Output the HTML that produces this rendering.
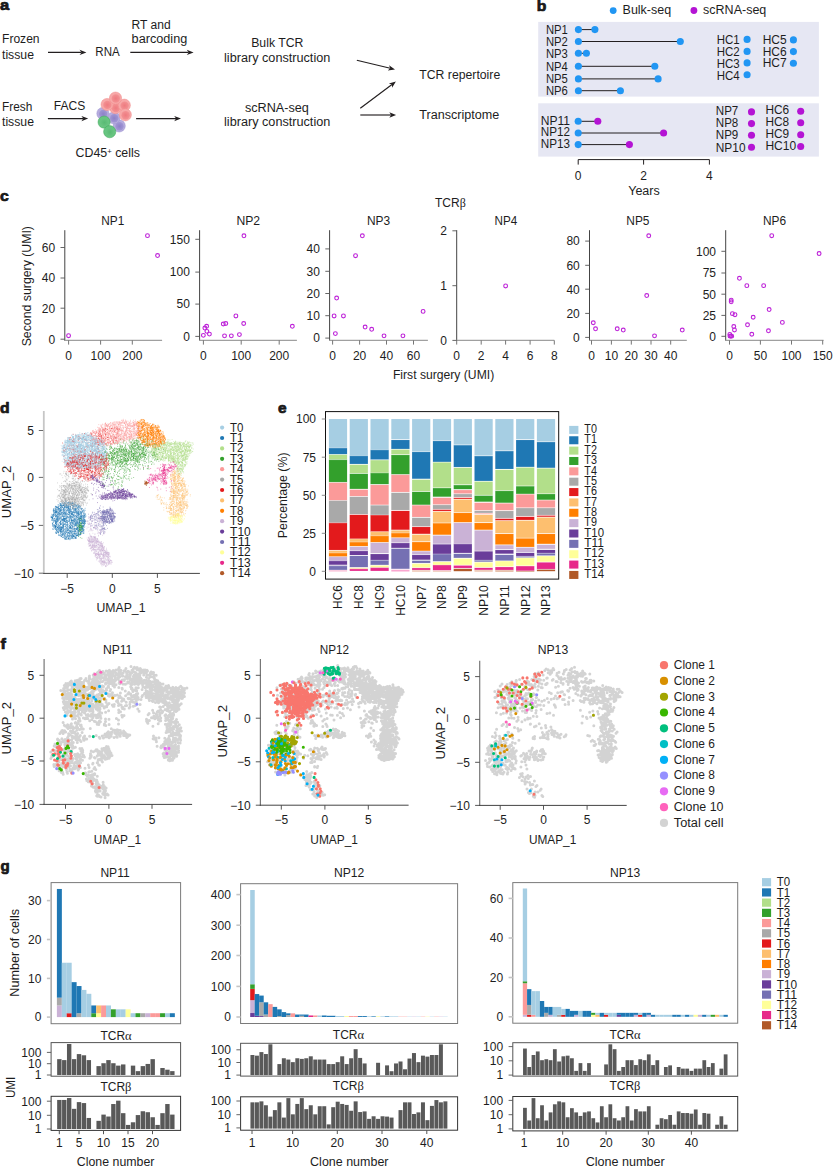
<!DOCTYPE html>
<html><head><meta charset="utf-8"><title>Figure</title>
<style>
html,body{margin:0;padding:0;background:#fff;}
body{width:833px;height:1167px;overflow:hidden;}
svg{display:block;font-family:"Liberation Sans",sans-serif;font-size:12px;fill:#1d1d1d;}
</style></head><body>
<svg width="833" height="1167" viewBox="0 0 833 1167">
<rect width="833" height="1167" fill="#fff"/>
<text x="0" y="10.3" textLength="9.2" lengthAdjust="spacingAndGlyphs" font-weight="700" stroke="#111" stroke-width="0.7" stroke-linejoin="round" font-size="15">a</text>
<text x="2" y="43.4" textLength="37.6" lengthAdjust="spacingAndGlyphs">Frozen</text>
<text x="2" y="58.5" textLength="32" lengthAdjust="spacingAndGlyphs">tissue</text>
<line x1="48" y1="52.4" x2="81.5" y2="52.4" stroke="#231f20" stroke-width="1.15"/>
<path d="M86.4 52.4L79.6 55.1L81.5 52.4L79.6 49.7Z" fill="#231f20"/>
<text x="95.3" y="56" textLength="24.4" lengthAdjust="spacingAndGlyphs">RNA</text>
<text x="131.6" y="28.5" textLength="39.1" lengthAdjust="spacingAndGlyphs">RT and</text>
<text x="131.6" y="43.4" textLength="55.7" lengthAdjust="spacingAndGlyphs">barcoding</text>
<line x1="130.3" y1="52.4" x2="188.7" y2="52.4" stroke="#231f20" stroke-width="1.15"/>
<path d="M193.6 52.4L186.8 55.1L188.7 52.4L186.8 49.7Z" fill="#231f20"/>
<text x="251.2" y="47.2" textLength="52.2" lengthAdjust="spacingAndGlyphs">Bulk TCR</text>
<text x="224" y="62.4" textLength="106.3" lengthAdjust="spacingAndGlyphs">library construction</text>
<line x1="356.8" y1="60.3" x2="390.24" y2="68.27" stroke="#231f20" stroke-width="1.15"/>
<path d="M395 69.4L387.76 70.45L390.24 68.27L389.01 65.2Z" fill="#231f20"/>
<text x="2" y="110.8" textLength="30.3" lengthAdjust="spacingAndGlyphs">Fresh</text>
<text x="2" y="126.1" textLength="32" lengthAdjust="spacingAndGlyphs">tissue</text>
<text x="53.7" y="109.5" textLength="31.5" lengthAdjust="spacingAndGlyphs">FACS</text>
<line x1="47.9" y1="118.6" x2="83.3" y2="118.6" stroke="#231f20" stroke-width="1.15"/>
<path d="M88.2 118.6L81.4 121.3L83.3 118.6L81.4 115.9Z" fill="#231f20"/>
<defs>
<radialGradient id="gr" cx="0.5" cy="0.5" r="0.5"><stop offset="0" stop-color="#ee7b80"/><stop offset="1" stop-color="#f39294"/></radialGradient>
<radialGradient id="gp" cx="0.5" cy="0.5" r="0.5"><stop offset="0" stop-color="#8e81c8"/><stop offset="1" stop-color="#a197d5"/></radialGradient>
<radialGradient id="gg" cx="0.5" cy="0.5" r="0.5"><stop offset="0" stop-color="#58ba73"/><stop offset="1" stop-color="#69c482"/></radialGradient>
</defs>
<circle cx="102.9" cy="113.5" r="6.1" fill="#b6acdd" stroke="#9d92d2" stroke-width="0.5"/>
<circle cx="103.2" cy="113.9" r="4.2" fill="url(#gp)"/>
<circle cx="119.2" cy="125.9" r="6.1" fill="#b6acdd" stroke="#9d92d2" stroke-width="0.5"/>
<circle cx="119.5" cy="126.3" r="4.2" fill="url(#gp)"/>
<circle cx="113.9" cy="117.8" r="6.1" fill="#b6acdd" stroke="#9d92d2" stroke-width="0.5"/>
<circle cx="114.2" cy="118.2" r="4.2" fill="url(#gp)"/>
<circle cx="115.5" cy="107.6" r="6.1" fill="#f7a8a8" stroke="#f18c8c" stroke-width="0.5"/>
<circle cx="115.8" cy="108" r="4.2" fill="url(#gr)"/>
<circle cx="107.1" cy="104.5" r="6.1" fill="#f7a8a8" stroke="#f18c8c" stroke-width="0.5"/>
<circle cx="107.4" cy="104.9" r="4.2" fill="url(#gr)"/>
<circle cx="124.3" cy="105.2" r="6.1" fill="#f7a8a8" stroke="#f18c8c" stroke-width="0.5"/>
<circle cx="124.6" cy="105.6" r="4.2" fill="url(#gr)"/>
<circle cx="115.5" cy="98.1" r="6.1" fill="#f7a8a8" stroke="#f18c8c" stroke-width="0.5"/>
<circle cx="115.8" cy="98.5" r="4.2" fill="url(#gr)"/>
<circle cx="125.3" cy="114.8" r="6.1" fill="#f7a8a8" stroke="#f18c8c" stroke-width="0.5"/>
<circle cx="125.6" cy="115.2" r="4.2" fill="url(#gr)"/>
<circle cx="104.1" cy="122.1" r="6.1" fill="#66c680" stroke="#3ea559" stroke-width="0.5"/>
<circle cx="104.4" cy="122.5" r="4.2" fill="url(#gg)"/>
<circle cx="109.7" cy="131.7" r="6.1" fill="#66c680" stroke="#3ea559" stroke-width="0.5"/>
<circle cx="110" cy="132.1" r="4.2" fill="url(#gg)"/>
<line x1="136.1" y1="118.6" x2="176.1" y2="118.6" stroke="#231f20" stroke-width="1.15"/>
<path d="M181 118.6L174.2 121.3L176.1 118.6L174.2 115.9Z" fill="#231f20"/>
<text x="75.6" y="157.4" textLength="64.3" lengthAdjust="spacingAndGlyphs">CD45<tspan font-size="7.5" dy="-3.6">+</tspan><tspan dy="3.6"> cells</tspan></text>
<text x="244.9" y="112" textLength="64" lengthAdjust="spacingAndGlyphs">scRNA-seq</text>
<text x="224" y="126.4" textLength="106.3" lengthAdjust="spacingAndGlyphs">library construction</text>
<line x1="360.3" y1="108.2" x2="391.98" y2="84.44" stroke="#231f20" stroke-width="1.15"/>
<path d="M395.9 81.5L392.08 87.74L391.98 84.44L388.84 83.42Z" fill="#231f20"/>
<line x1="360.3" y1="115" x2="391.2" y2="115" stroke="#231f20" stroke-width="1.15"/>
<path d="M396.1 115L389.3 117.7L391.2 115L389.3 112.3Z" fill="#231f20"/>
<text x="419.3" y="78.9" textLength="80.9" lengthAdjust="spacingAndGlyphs">TCR repertoire</text>
<text x="419.3" y="118.5" textLength="80" lengthAdjust="spacingAndGlyphs">Transcriptome</text>
<text x="536.8" y="11.3" textLength="9.6" lengthAdjust="spacingAndGlyphs" font-weight="700" stroke="#111" stroke-width="0.7" stroke-linejoin="round" font-size="15">b</text>
<circle cx="613.2" cy="10.6" r="3.4" fill="#2196f3"/>
<text x="622.6" y="14.1" textLength="48.5" lengthAdjust="spacingAndGlyphs">Bulk-seq</text>
<circle cx="693.9" cy="10.5" r="3.4" fill="#b414d4"/>
<text x="703.1" y="14.1" textLength="63.2" lengthAdjust="spacingAndGlyphs">scRNA-seq</text>
<rect x="538.2" y="21.9" width="280.7" height="74.7" fill="#e6e7f3"/>
<rect x="538.2" y="103.3" width="280.7" height="53.3" fill="#e6e7f3"/>
<text x="545.9" y="33.9" textLength="21.9" lengthAdjust="spacingAndGlyphs">NP1</text>
<line x1="578.4" y1="29.6" x2="594.9" y2="29.6" stroke="#231f20" stroke-width="1"/>
<circle cx="578.4" cy="29.6" r="3.55" fill="#2196f3"/>
<circle cx="594.9" cy="29.6" r="3.55" fill="#2196f3"/>
<text x="545.9" y="46.1" textLength="21.9" lengthAdjust="spacingAndGlyphs">NP2</text>
<line x1="578.4" y1="41.5" x2="680.3" y2="41.5" stroke="#231f20" stroke-width="1"/>
<circle cx="578.4" cy="41.5" r="3.55" fill="#2196f3"/>
<circle cx="680.3" cy="41.5" r="3.55" fill="#2196f3"/>
<text x="545.9" y="57.9" textLength="21.9" lengthAdjust="spacingAndGlyphs">NP3</text>
<line x1="578.4" y1="53.3" x2="586.4" y2="53.3" stroke="#231f20" stroke-width="1"/>
<circle cx="578.4" cy="53.3" r="3.55" fill="#2196f3"/>
<circle cx="586.4" cy="53.3" r="3.55" fill="#2196f3"/>
<text x="545.9" y="70.8" textLength="21.9" lengthAdjust="spacingAndGlyphs">NP4</text>
<line x1="578.4" y1="66.3" x2="654.8" y2="66.3" stroke="#231f20" stroke-width="1"/>
<circle cx="578.4" cy="66.3" r="3.55" fill="#2196f3"/>
<circle cx="654.8" cy="66.3" r="3.55" fill="#2196f3"/>
<text x="545.9" y="83.2" textLength="21.9" lengthAdjust="spacingAndGlyphs">NP5</text>
<line x1="578.4" y1="78.9" x2="658.1" y2="78.9" stroke="#231f20" stroke-width="1"/>
<circle cx="578.4" cy="78.9" r="3.55" fill="#2196f3"/>
<circle cx="658.1" cy="78.9" r="3.55" fill="#2196f3"/>
<text x="545.9" y="95" textLength="21.9" lengthAdjust="spacingAndGlyphs">NP6</text>
<line x1="578.4" y1="90.7" x2="620.4" y2="90.7" stroke="#231f20" stroke-width="1"/>
<circle cx="578.4" cy="90.7" r="3.55" fill="#2196f3"/>
<circle cx="620.4" cy="90.7" r="3.55" fill="#2196f3"/>
<text x="716.7" y="43.5" textLength="23" lengthAdjust="spacingAndGlyphs">HC1</text>
<circle cx="747.1" cy="39.4" r="3.55" fill="#2196f3"/>
<text x="716.7" y="55.7" textLength="23" lengthAdjust="spacingAndGlyphs">HC2</text>
<circle cx="747.1" cy="51.4" r="3.55" fill="#2196f3"/>
<text x="716.7" y="67.8" textLength="23" lengthAdjust="spacingAndGlyphs">HC3</text>
<circle cx="747.1" cy="62.9" r="3.55" fill="#2196f3"/>
<text x="716.7" y="80" textLength="23" lengthAdjust="spacingAndGlyphs">HC4</text>
<circle cx="747.1" cy="74.7" r="3.55" fill="#2196f3"/>
<text x="762.7" y="43.5" textLength="24" lengthAdjust="spacingAndGlyphs">HC5</text>
<circle cx="793.4" cy="39.9" r="3.55" fill="#2196f3"/>
<text x="762.7" y="55.7" textLength="24" lengthAdjust="spacingAndGlyphs">HC6</text>
<circle cx="793.4" cy="51.6" r="3.55" fill="#2196f3"/>
<text x="762.7" y="67.2" textLength="24" lengthAdjust="spacingAndGlyphs">HC7</text>
<circle cx="793.4" cy="63.2" r="3.55" fill="#2196f3"/>
<text x="540.7" y="124.7" textLength="29.3" lengthAdjust="spacingAndGlyphs">NP11</text>
<line x1="578.2" y1="121.3" x2="597.8" y2="121.3" stroke="#231f20" stroke-width="1"/>
<circle cx="578.2" cy="121.3" r="3.55" fill="#2196f3"/>
<circle cx="597.8" cy="121.3" r="3.55" fill="#b414d4"/>
<text x="540.7" y="136.3" textLength="29.3" lengthAdjust="spacingAndGlyphs">NP12</text>
<line x1="578.2" y1="133" x2="663.6" y2="133" stroke="#231f20" stroke-width="1"/>
<circle cx="578.2" cy="133" r="3.55" fill="#2196f3"/>
<circle cx="663.6" cy="133" r="3.55" fill="#b414d4"/>
<text x="540.7" y="148.4" textLength="29.3" lengthAdjust="spacingAndGlyphs">NP13</text>
<line x1="578.2" y1="144.6" x2="629.4" y2="144.6" stroke="#231f20" stroke-width="1"/>
<circle cx="578.2" cy="144.6" r="3.55" fill="#2196f3"/>
<circle cx="629.4" cy="144.6" r="3.55" fill="#b414d4"/>
<text x="715.8" y="114.5" textLength="22.5" lengthAdjust="spacingAndGlyphs">NP7</text>
<circle cx="751.5" cy="111.9" r="3.55" fill="#b414d4"/>
<text x="715.8" y="126.9" textLength="22.5" lengthAdjust="spacingAndGlyphs">NP8</text>
<circle cx="751.5" cy="123.6" r="3.55" fill="#b414d4"/>
<text x="715.8" y="138.6" textLength="22.5" lengthAdjust="spacingAndGlyphs">NP9</text>
<circle cx="751.5" cy="135.2" r="3.55" fill="#b414d4"/>
<text x="715.8" y="151.7" textLength="29.7" lengthAdjust="spacingAndGlyphs">NP10</text>
<circle cx="751.5" cy="147.2" r="3.55" fill="#b414d4"/>
<text x="765.4" y="114.2" textLength="23.7" lengthAdjust="spacingAndGlyphs">HC6</text>
<circle cx="800.7" cy="111.2" r="3.55" fill="#b414d4"/>
<text x="765.4" y="126.2" textLength="23.7" lengthAdjust="spacingAndGlyphs">HC8</text>
<circle cx="800.7" cy="122.8" r="3.55" fill="#b414d4"/>
<text x="765.4" y="137.8" textLength="23.7" lengthAdjust="spacingAndGlyphs">HC9</text>
<circle cx="800.7" cy="134.8" r="3.55" fill="#b414d4"/>
<text x="765.4" y="149.9" textLength="30.8" lengthAdjust="spacingAndGlyphs">HC10</text>
<circle cx="800.7" cy="146.5" r="3.55" fill="#b414d4"/>
<line x1="578.2" y1="159.6" x2="709.4" y2="159.6" stroke="#231f20" stroke-width="1"/>
<line x1="578.2" y1="159.6" x2="578.2" y2="164.6" stroke="#231f20" stroke-width="1"/>
<text x="578.2" y="179.6" text-anchor="middle">0</text>
<line x1="643.6" y1="159.6" x2="643.6" y2="164.6" stroke="#231f20" stroke-width="1"/>
<text x="643.6" y="179.6" text-anchor="middle">2</text>
<line x1="709.4" y1="159.6" x2="709.4" y2="164.6" stroke="#231f20" stroke-width="1"/>
<text x="709.4" y="179.6" text-anchor="middle">4</text>
<text x="628.2" y="195.3" textLength="31.6" lengthAdjust="spacingAndGlyphs">Years</text>
<text x="0" y="200.6" textLength="8.8" lengthAdjust="spacingAndGlyphs" font-weight="700" stroke="#111" stroke-width="0.7" stroke-linejoin="round" font-size="15">c</text>
<text x="435" y="206.8">TCR<tspan font-family="Liberation Serif">β</tspan></text>
<text transform="translate(30.6 286.2) rotate(-90)" text-anchor="middle" textLength="120.3" lengthAdjust="spacingAndGlyphs">Second surgery (UMI)</text>
<text x="392.9" y="378.5" textLength="101.3" lengthAdjust="spacingAndGlyphs">First surgery (UMI)</text>
<text x="101.3" y="224.7" textLength="23" lengthAdjust="spacingAndGlyphs">NP1</text>
<line x1="64.8" y1="230.2" x2="64.8" y2="340.9" stroke="#444" stroke-width="1"/>
<line x1="64.3" y1="340.4" x2="162.1" y2="340.4" stroke="#a0a0a0" stroke-width="1.2"/>
<line x1="60.5" y1="247.5" x2="64.8" y2="247.5" stroke="#555" stroke-width="0.9"/>
<text x="55.1" y="251.8" text-anchor="end">60</text>
<line x1="60.5" y1="278" x2="64.8" y2="278" stroke="#555" stroke-width="0.9"/>
<text x="55.1" y="282.3" text-anchor="end">40</text>
<line x1="60.5" y1="308.2" x2="64.8" y2="308.2" stroke="#555" stroke-width="0.9"/>
<text x="55.1" y="312.5" text-anchor="end">20</text>
<line x1="60.5" y1="339.2" x2="64.8" y2="339.2" stroke="#555" stroke-width="0.9"/>
<text x="55.1" y="343.5" text-anchor="end">0</text>
<line x1="68.6" y1="340.4" x2="68.6" y2="344.6" stroke="#666" stroke-width="0.9"/>
<text x="68.6" y="359.8" text-anchor="middle">0</text>
<line x1="100.6" y1="340.4" x2="100.6" y2="344.6" stroke="#666" stroke-width="0.9"/>
<text x="100.6" y="359.8" text-anchor="middle">100</text>
<line x1="132.3" y1="340.4" x2="132.3" y2="344.6" stroke="#666" stroke-width="0.9"/>
<text x="132.3" y="359.8" text-anchor="middle">200</text>
<circle cx="68.57" cy="335.7" r="1.9" fill="none" stroke="#bd22d8" stroke-width="1.1"/>
<circle cx="147.47" cy="235.63" r="1.9" fill="none" stroke="#bd22d8" stroke-width="1.1"/>
<circle cx="157.55" cy="255.54" r="1.9" fill="none" stroke="#bd22d8" stroke-width="1.1"/>
<text x="236.4" y="224.7" textLength="23.7" lengthAdjust="spacingAndGlyphs">NP2</text>
<line x1="199.6" y1="230.2" x2="199.6" y2="340.9" stroke="#444" stroke-width="1"/>
<line x1="199.1" y1="340.4" x2="296.9" y2="340.4" stroke="#a0a0a0" stroke-width="1.2"/>
<line x1="195.3" y1="239.3" x2="199.6" y2="239.3" stroke="#555" stroke-width="0.9"/>
<text x="189.9" y="243.6" text-anchor="end">150</text>
<line x1="195.3" y1="272.1" x2="199.6" y2="272.1" stroke="#555" stroke-width="0.9"/>
<text x="189.9" y="276.4" text-anchor="end">100</text>
<line x1="195.3" y1="304.1" x2="199.6" y2="304.1" stroke="#555" stroke-width="0.9"/>
<text x="189.9" y="308.4" text-anchor="end">50</text>
<line x1="195.3" y1="336.4" x2="199.6" y2="336.4" stroke="#555" stroke-width="0.9"/>
<text x="189.9" y="340.7" text-anchor="end">0</text>
<line x1="203.4" y1="340.4" x2="203.4" y2="344.6" stroke="#666" stroke-width="0.9"/>
<text x="203.4" y="359.8" text-anchor="middle">0</text>
<line x1="241.2" y1="340.4" x2="241.2" y2="344.6" stroke="#666" stroke-width="0.9"/>
<text x="241.2" y="359.8" text-anchor="middle">100</text>
<line x1="279.2" y1="340.4" x2="279.2" y2="344.6" stroke="#666" stroke-width="0.9"/>
<text x="279.2" y="359.8" text-anchor="middle">200</text>
<circle cx="203.36" cy="335.37" r="1.9" fill="none" stroke="#bd22d8" stroke-width="1.1"/>
<circle cx="204.87" cy="328.06" r="1.9" fill="none" stroke="#bd22d8" stroke-width="1.1"/>
<circle cx="206.63" cy="326.29" r="1.9" fill="none" stroke="#bd22d8" stroke-width="1.1"/>
<circle cx="206.89" cy="331.33" r="1.9" fill="none" stroke="#bd22d8" stroke-width="1.1"/>
<circle cx="209.41" cy="334.11" r="1.9" fill="none" stroke="#bd22d8" stroke-width="1.1"/>
<circle cx="223.27" cy="324.02" r="1.9" fill="none" stroke="#bd22d8" stroke-width="1.1"/>
<circle cx="225.79" cy="323.52" r="1.9" fill="none" stroke="#bd22d8" stroke-width="1.1"/>
<circle cx="224.53" cy="335.87" r="1.9" fill="none" stroke="#bd22d8" stroke-width="1.1"/>
<circle cx="231.34" cy="335.87" r="1.9" fill="none" stroke="#bd22d8" stroke-width="1.1"/>
<circle cx="239.41" cy="334.61" r="1.9" fill="none" stroke="#bd22d8" stroke-width="1.1"/>
<circle cx="235.88" cy="315.96" r="1.9" fill="none" stroke="#bd22d8" stroke-width="1.1"/>
<circle cx="243.69" cy="323.52" r="1.9" fill="none" stroke="#bd22d8" stroke-width="1.1"/>
<circle cx="243.94" cy="235.8" r="1.9" fill="none" stroke="#bd22d8" stroke-width="1.1"/>
<circle cx="292.34" cy="326.29" r="1.9" fill="none" stroke="#bd22d8" stroke-width="1.1"/>
<text x="366.9" y="224.7" textLength="23.2" lengthAdjust="spacingAndGlyphs">NP3</text>
<line x1="329.6" y1="230.2" x2="329.6" y2="340.9" stroke="#444" stroke-width="1"/>
<line x1="329.1" y1="340.4" x2="427.9" y2="340.4" stroke="#a0a0a0" stroke-width="1.2"/>
<line x1="325.3" y1="248.9" x2="329.6" y2="248.9" stroke="#555" stroke-width="0.9"/>
<text x="319.9" y="253.2" text-anchor="end">40</text>
<line x1="325.3" y1="271.3" x2="329.6" y2="271.3" stroke="#555" stroke-width="0.9"/>
<text x="319.9" y="275.6" text-anchor="end">30</text>
<line x1="325.3" y1="293.5" x2="329.6" y2="293.5" stroke="#555" stroke-width="0.9"/>
<text x="319.9" y="297.8" text-anchor="end">20</text>
<line x1="325.3" y1="315.7" x2="329.6" y2="315.7" stroke="#555" stroke-width="0.9"/>
<text x="319.9" y="320" text-anchor="end">10</text>
<line x1="325.3" y1="338.1" x2="329.6" y2="338.1" stroke="#555" stroke-width="0.9"/>
<text x="319.9" y="342.4" text-anchor="end">0</text>
<line x1="332.6" y1="340.4" x2="332.6" y2="344.6" stroke="#666" stroke-width="0.9"/>
<text x="332.6" y="359.8" text-anchor="middle">0</text>
<line x1="359.6" y1="340.4" x2="359.6" y2="344.6" stroke="#666" stroke-width="0.9"/>
<text x="359.6" y="359.8" text-anchor="middle">20</text>
<line x1="386.5" y1="340.4" x2="386.5" y2="344.6" stroke="#666" stroke-width="0.9"/>
<text x="386.5" y="359.8" text-anchor="middle">40</text>
<line x1="413.5" y1="340.4" x2="413.5" y2="344.6" stroke="#666" stroke-width="0.9"/>
<text x="413.5" y="359.8" text-anchor="middle">60</text>
<circle cx="362.35" cy="235.8" r="1.9" fill="none" stroke="#bd22d8" stroke-width="1.1"/>
<circle cx="355.54" cy="255.71" r="1.9" fill="none" stroke="#bd22d8" stroke-width="1.1"/>
<circle cx="336.63" cy="298.06" r="1.9" fill="none" stroke="#bd22d8" stroke-width="1.1"/>
<circle cx="334.11" cy="315.96" r="1.9" fill="none" stroke="#bd22d8" stroke-width="1.1"/>
<circle cx="343.44" cy="315.96" r="1.9" fill="none" stroke="#bd22d8" stroke-width="1.1"/>
<circle cx="335.37" cy="333.6" r="1.9" fill="none" stroke="#bd22d8" stroke-width="1.1"/>
<circle cx="365.12" cy="327.05" r="1.9" fill="none" stroke="#bd22d8" stroke-width="1.1"/>
<circle cx="371.67" cy="329.32" r="1.9" fill="none" stroke="#bd22d8" stroke-width="1.1"/>
<circle cx="384.03" cy="335.87" r="1.9" fill="none" stroke="#bd22d8" stroke-width="1.1"/>
<circle cx="402.93" cy="335.87" r="1.9" fill="none" stroke="#bd22d8" stroke-width="1.1"/>
<circle cx="423.1" cy="311.42" r="1.9" fill="none" stroke="#bd22d8" stroke-width="1.1"/>
<text x="494.5" y="224.7" textLength="22.7" lengthAdjust="spacingAndGlyphs">NP4</text>
<line x1="456.7" y1="230.2" x2="456.7" y2="340.9" stroke="#444" stroke-width="1"/>
<line x1="456.2" y1="340.4" x2="554.3" y2="340.4" stroke="#a0a0a0" stroke-width="1.2"/>
<line x1="452.4" y1="230.8" x2="456.7" y2="230.8" stroke="#555" stroke-width="0.9"/>
<text x="447" y="235.1" text-anchor="end">2</text>
<line x1="452.4" y1="285.7" x2="456.7" y2="285.7" stroke="#555" stroke-width="0.9"/>
<text x="447" y="290" text-anchor="end">1</text>
<line x1="452.4" y1="340.4" x2="456.7" y2="340.4" stroke="#555" stroke-width="0.9"/>
<text x="447" y="344.7" text-anchor="end">0</text>
<line x1="456.7" y1="340.4" x2="456.7" y2="344.6" stroke="#666" stroke-width="0.9"/>
<text x="456.7" y="359.8" text-anchor="middle">0</text>
<line x1="481.2" y1="340.4" x2="481.2" y2="344.6" stroke="#666" stroke-width="0.9"/>
<text x="481.2" y="359.8" text-anchor="middle">2</text>
<line x1="505.6" y1="340.4" x2="505.6" y2="344.6" stroke="#666" stroke-width="0.9"/>
<text x="505.6" y="359.8" text-anchor="middle">4</text>
<line x1="530.1" y1="340.4" x2="530.1" y2="344.6" stroke="#666" stroke-width="0.9"/>
<text x="530.1" y="359.8" text-anchor="middle">6</text>
<line x1="554.3" y1="340.4" x2="554.3" y2="344.6" stroke="#666" stroke-width="0.9"/>
<text x="554.3" y="359.8" text-anchor="middle">8</text>
<circle cx="505.62" cy="285.96" r="1.9" fill="none" stroke="#bd22d8" stroke-width="1.1"/>
<text x="626.3" y="224.7" textLength="23.2" lengthAdjust="spacingAndGlyphs">NP5</text>
<line x1="589.5" y1="230.2" x2="589.5" y2="340.9" stroke="#444" stroke-width="1"/>
<line x1="589" y1="340.4" x2="686.8" y2="340.4" stroke="#a0a0a0" stroke-width="1.2"/>
<line x1="585.2" y1="241.1" x2="589.5" y2="241.1" stroke="#555" stroke-width="0.9"/>
<text x="579.8" y="245.4" text-anchor="end">80</text>
<line x1="585.2" y1="265.3" x2="589.5" y2="265.3" stroke="#555" stroke-width="0.9"/>
<text x="579.8" y="269.6" text-anchor="end">60</text>
<line x1="585.2" y1="289.2" x2="589.5" y2="289.2" stroke="#555" stroke-width="0.9"/>
<text x="579.8" y="293.5" text-anchor="end">40</text>
<line x1="585.2" y1="313.4" x2="589.5" y2="313.4" stroke="#555" stroke-width="0.9"/>
<text x="579.8" y="317.7" text-anchor="end">20</text>
<line x1="585.2" y1="337.4" x2="589.5" y2="337.4" stroke="#555" stroke-width="0.9"/>
<text x="579.8" y="341.7" text-anchor="end">0</text>
<line x1="591.5" y1="340.4" x2="591.5" y2="344.6" stroke="#666" stroke-width="0.9"/>
<text x="591.5" y="359.8" text-anchor="middle">0</text>
<line x1="611.4" y1="340.4" x2="611.4" y2="344.6" stroke="#666" stroke-width="0.9"/>
<text x="611.4" y="359.8" text-anchor="middle">10</text>
<line x1="631.3" y1="340.4" x2="631.3" y2="344.6" stroke="#666" stroke-width="0.9"/>
<text x="631.3" y="359.8" text-anchor="middle">20</text>
<line x1="651" y1="340.4" x2="651" y2="344.6" stroke="#666" stroke-width="0.9"/>
<text x="651" y="359.8" text-anchor="middle">30</text>
<line x1="670.7" y1="340.4" x2="670.7" y2="344.6" stroke="#666" stroke-width="0.9"/>
<text x="670.7" y="359.8" text-anchor="middle">40</text>
<circle cx="648.73" cy="235.8" r="1.9" fill="none" stroke="#bd22d8" stroke-width="1.1"/>
<circle cx="646.72" cy="295.54" r="1.9" fill="none" stroke="#bd22d8" stroke-width="1.1"/>
<circle cx="593.27" cy="322.76" r="1.9" fill="none" stroke="#bd22d8" stroke-width="1.1"/>
<circle cx="595.54" cy="328.81" r="1.9" fill="none" stroke="#bd22d8" stroke-width="1.1"/>
<circle cx="617.22" cy="328.81" r="1.9" fill="none" stroke="#bd22d8" stroke-width="1.1"/>
<circle cx="623.27" cy="330.07" r="1.9" fill="none" stroke="#bd22d8" stroke-width="1.1"/>
<circle cx="654.53" cy="335.87" r="1.9" fill="none" stroke="#bd22d8" stroke-width="1.1"/>
<circle cx="682.26" cy="330.07" r="1.9" fill="none" stroke="#bd22d8" stroke-width="1.1"/>
<text x="763" y="224.7" textLength="23.1" lengthAdjust="spacingAndGlyphs">NP6</text>
<line x1="725.7" y1="230.2" x2="725.7" y2="340.9" stroke="#444" stroke-width="1"/>
<line x1="725.2" y1="340.4" x2="823.6" y2="340.4" stroke="#a0a0a0" stroke-width="1.2"/>
<line x1="721.4" y1="251.3" x2="725.7" y2="251.3" stroke="#555" stroke-width="0.9"/>
<text x="716" y="255.6" text-anchor="end">100</text>
<line x1="721.4" y1="273" x2="725.7" y2="273" stroke="#555" stroke-width="0.9"/>
<text x="716" y="277.3" text-anchor="end">75</text>
<line x1="721.4" y1="294.2" x2="725.7" y2="294.2" stroke="#555" stroke-width="0.9"/>
<text x="716" y="298.5" text-anchor="end">50</text>
<line x1="721.4" y1="315.4" x2="725.7" y2="315.4" stroke="#555" stroke-width="0.9"/>
<text x="716" y="319.7" text-anchor="end">25</text>
<line x1="721.4" y1="336.3" x2="725.7" y2="336.3" stroke="#555" stroke-width="0.9"/>
<text x="716" y="340.6" text-anchor="end">0</text>
<line x1="729.5" y1="340.4" x2="729.5" y2="344.6" stroke="#666" stroke-width="0.9"/>
<text x="729.5" y="359.8" text-anchor="middle">0</text>
<line x1="760.4" y1="340.4" x2="760.4" y2="344.6" stroke="#666" stroke-width="0.9"/>
<text x="760.4" y="359.8" text-anchor="middle">50</text>
<line x1="791.5" y1="340.4" x2="791.5" y2="344.6" stroke="#666" stroke-width="0.9"/>
<text x="791.5" y="359.8" text-anchor="middle">100</text>
<line x1="822.7" y1="340.4" x2="822.7" y2="344.6" stroke="#666" stroke-width="0.9"/>
<text x="822.7" y="359.8" text-anchor="middle">150</text>
<circle cx="771.72" cy="235.71" r="1.9" fill="none" stroke="#bd22d8" stroke-width="1.1"/>
<circle cx="819.1" cy="253.56" r="1.9" fill="none" stroke="#bd22d8" stroke-width="1.1"/>
<circle cx="739.44" cy="278.28" r="1.9" fill="none" stroke="#bd22d8" stroke-width="1.1"/>
<circle cx="746.82" cy="285.67" r="1.9" fill="none" stroke="#bd22d8" stroke-width="1.1"/>
<circle cx="763.65" cy="285.67" r="1.9" fill="none" stroke="#bd22d8" stroke-width="1.1"/>
<circle cx="731.2" cy="300.09" r="1.9" fill="none" stroke="#bd22d8" stroke-width="1.1"/>
<circle cx="731.2" cy="301.8" r="1.9" fill="none" stroke="#bd22d8" stroke-width="1.1"/>
<circle cx="769.14" cy="309.53" r="1.9" fill="none" stroke="#bd22d8" stroke-width="1.1"/>
<circle cx="732.4" cy="313.65" r="1.9" fill="none" stroke="#bd22d8" stroke-width="1.1"/>
<circle cx="734.98" cy="314.68" r="1.9" fill="none" stroke="#bd22d8" stroke-width="1.1"/>
<circle cx="753.18" cy="317.25" r="1.9" fill="none" stroke="#bd22d8" stroke-width="1.1"/>
<circle cx="782.36" cy="322.4" r="1.9" fill="none" stroke="#bd22d8" stroke-width="1.1"/>
<circle cx="747.51" cy="324.81" r="1.9" fill="none" stroke="#bd22d8" stroke-width="1.1"/>
<circle cx="733.78" cy="326.52" r="1.9" fill="none" stroke="#bd22d8" stroke-width="1.1"/>
<circle cx="734.46" cy="329.96" r="1.9" fill="none" stroke="#bd22d8" stroke-width="1.1"/>
<circle cx="768.45" cy="330.82" r="1.9" fill="none" stroke="#bd22d8" stroke-width="1.1"/>
<circle cx="751.8" cy="334.25" r="1.9" fill="none" stroke="#bd22d8" stroke-width="1.1"/>
<circle cx="729.83" cy="334.42" r="1.9" fill="none" stroke="#bd22d8" stroke-width="1.1"/>
<circle cx="730.86" cy="335.97" r="1.9" fill="none" stroke="#bd22d8" stroke-width="1.1"/>
<circle cx="731.72" cy="336.14" r="1.9" fill="none" stroke="#bd22d8" stroke-width="1.1"/>
<circle cx="730" cy="336.14" r="1.9" fill="none" stroke="#bd22d8" stroke-width="1.1"/>
<text x="0" y="413.2" textLength="9.6" lengthAdjust="spacingAndGlyphs" font-weight="700" stroke="#111" stroke-width="0.7" stroke-linejoin="round" font-size="15">d</text>
<path d="M70.5 451.4h0M70.5 462.3h0M73.2 455.8h0M75.0 454.0h0M94.6 448.0h0M91.0 457.4h0M98.3 466.6h0M91.9 449.8h0M87.7 467.7h0M103.6 455.0h0M70.9 441.5h0M97.0 450.9h0M77.0 450.7h0M88.6 437.3h0M90.8 456.7h0M77.3 446.9h0M86.2 466.4h0M75.6 438.5h0M66.4 463.3h0M70.6 442.6h0M90.1 462.4h0M96.5 443.7h0M101.8 456.1h0M71.6 445.7h0M69.0 454.0h0M71.0 466.9h0M100.9 443.0h0M69.1 458.1h0M92.0 448.1h0M84.3 462.7h0M94.4 444.7h0M88.5 444.3h0M63.9 452.7h0M92.1 466.2h0M91.9 464.2h0M96.5 456.5h0M77.3 456.1h0M79.8 432.7h0M95.5 465.0h0M95.8 468.2h0M96.9 442.5h0M71.3 467.7h0M78.0 448.5h0M71.7 468.6h0M72.7 441.8h0M95.2 447.7h0M79.8 452.4h0M72.8 461.0h0M81.4 458.4h0M79.5 442.5h0M85.4 453.0h0M91.4 453.5h0M91.9 439.2h0M92.8 458.0h0M95.0 454.7h0M97.8 463.6h0M82.1 439.1h0M94.4 467.1h0M78.1 436.2h0M86.0 460.5h0M82.9 437.6h0M84.2 441.5h0M84.1 468.1h0M97.3 447.9h0M78.3 446.4h0M75.9 436.5h0M95.2 442.1h0M67.4 456.0h0M85.2 468.5h0M83.3 442.6h0M98.9 466.1h0M82.1 438.2h0M67.2 451.2h0M100.7 447.7h0M94.9 455.0h0M77.0 452.1h0M101.1 455.0h0M79.7 447.3h0M83.2 434.0h0M68.4 450.7h0M97.4 464.9h0M75.2 461.6h0M97.8 466.4h0M66.8 446.5h0M101.9 447.7h0M74.6 454.0h0M85.5 442.8h0M66.9 445.9h0M84.9 459.8h0M81.5 445.8h0M75.3 451.0h0M90.9 444.0h0M95.7 454.7h0M67.3 451.8h0M87.7 450.8h0M100.8 460.1h0M98.6 452.9h0M67.3 461.9h0M87.2 469.6h0M89.2 445.0h0M72.3 436.5h0M63.4 455.9h0M93.7 441.8h0M72.5 440.4h0M79.8 460.1h0M89.9 434.0h0M106.9 451.9h0M105.2 447.2h0M71.6 439.8h0M83.9 455.5h0M66.7 450.0h0M74.2 461.0h0M90.3 444.5h0M80.6 445.4h0M93.6 444.4h0M72.6 437.2h0M91.3 445.4h0M100.8 445.8h0M72.5 450.2h0M86.8 458.7h0M86.8 451.2h0M89.8 463.8h0M67.3 449.0h0M104.7 455.6h0M69.7 452.3h0M96.0 439.8h0M77.7 462.0h0M88.3 442.5h0M91.6 451.3h0M91.1 459.6h0M92.4 451.9h0M69.2 449.8h0M78.3 439.8h0M92.5 450.0h0M92.8 459.6h0M92.0 453.6h0M85.7 457.4h0M88.9 442.3h0M67.3 453.9h0M77.3 449.1h0M82.6 445.9h0M93.6 454.4h0M75.3 435.6h0M64.8 444.0h0M77.9 457.6h0M62.3 448.6h0M104.2 446.1h0M91.3 440.8h0M73.1 439.5h0M67.7 454.4h0M78.8 466.6h0M101.3 456.2h0M77.1 445.9h0M87.3 457.9h0M76.9 458.6h0M96.7 435.8h0M99.5 439.2h0M68.9 463.8h0M77.5 454.7h0M68.7 457.1h0M85.3 459.6h0M79.0 465.8h0M89.9 465.7h0M88.7 469.7h0M86.5 451.4h0M73.9 441.9h0M91.0 437.5h0M94.0 463.5h0M101.0 450.3h0M76.5 464.5h0M98.3 449.1h0M102.1 442.4h0M69.3 466.8h0M100.9 467.6h0M90.6 442.8h0M101.5 453.4h0M66.3 455.1h0M85.5 439.2h0M63.8 449.3h0M76.1 462.0h0M64.1 445.3h0M104.0 443.6h0M75.7 438.8h0M74.8 465.6h0M84.2 460.2h0M92.7 438.3h0M78.4 465.7h0M83.1 439.3h0M76.1 449.2h0M91.7 440.0h0M70.2 439.1h0M81.1 438.8h0M87.3 458.0h0M98.3 460.8h0M77.3 461.3h0M77.2 448.9h0M95.5 453.4h0M91.3 447.0h0M77.5 442.4h0M73.0 443.6h0M69.8 464.5h0M91.0 464.7h0M101.4 460.6h0M73.1 463.3h0M69.8 441.9h0M93.8 463.4h0M89.0 446.3h0M91.9 437.2h0M85.1 434.1h0M92.3 443.0h0M92.6 469.1h0M76.6 464.7h0M82.4 437.0h0M73.7 456.9h0M86.0 445.5h0M92.9 454.4h0M102.4 443.2h0M99.6 452.6h0M81.3 461.3h0M68.7 450.0h0M85.3 443.0h0M82.3 438.2h0M103.9 449.2h0M64.6 448.8h0M72.9 447.5h0M94.4 440.5h0M86.6 437.4h0M67.2 465.0h0M86.7 444.8h0M86.6 436.0h0M75.9 459.1h0M68.8 446.2h0M79.1 452.1h0M95.4 454.4h0M77.3 454.7h0M82.4 462.3h0M80.4 440.9h0M72.9 459.4h0M87.8 459.2h0M71.2 453.2h0M87.7 469.5h0M89.3 462.3h0M91.3 462.6h0M90.7 446.4h0M69.3 463.6h0M63.3 454.4h0M68.8 456.8h0M63.4 451.9h0M95.2 463.0h0M75.0 452.1h0M85.9 437.8h0M95.6 441.4h0M93.0 442.2h0M69.5 464.0h0M75.7 468.2h0M74.2 465.8h0M85.7 452.5h0M86.9 440.6h0M78.4 457.3h0M78.1 439.2h0M78.5 450.9h0M87.0 466.7h0M86.9 459.8h0M104.8 449.0h0M80.8 464.3h0M101.0 460.3h0M91.1 462.2h0M103.6 460.4h0M100.4 454.3h0M101.2 446.1h0M93.8 450.6h0M68.0 438.2h0M67.2 443.2h0M80.3 459.5h0M73.2 444.6h0M94.4 456.5h0M85.4 453.7h0M71.2 457.9h0M95.0 440.6h0M95.2 442.3h0M78.7 462.3h0M86.0 439.1h0M76.8 462.7h0M86.0 453.7h0M79.1 464.4h0M103.0 446.8h0M84.7 464.9h0M78.3 446.2h0M68.0 463.1h0M91.3 438.2h0M78.4 438.1h0M80.1 438.1h0M77.8 463.0h0M88.1 445.5h0M76.6 468.1h0M68.0 437.6h0M66.6 448.5h0M84.1 463.7h0M69.7 437.5h0M68.0 443.0h0M94.8 458.6h0M80.7 446.9h0M82.6 456.8h0M80.6 461.0h0M85.6 468.2h0M75.9 464.0h0M92.3 440.4h0M105.5 457.4h0M91.3 436.8h0M72.3 461.8h0M89.3 462.5h0M91.2 438.2h0M99.6 456.4h0M85.9 450.2h0M96.4 452.7h0M97.1 464.4h0M85.5 438.1h0M90.9 458.2h0M103.0 459.5h0M70.8 454.7h0M82.3 451.5h0M87.4 462.5h0M68.0 462.8h0M93.1 446.3h0M67.2 465.3h0M77.7 449.7h0M97.4 455.3h0M66.5 465.0h0M83.7 463.9h0M64.7 442.6h0M67.6 457.9h0M79.7 467.5h0M97.5 454.7h0M85.8 466.8h0M99.6 463.9h0M90.6 443.5h0M84.1 452.0h0M97.6 452.0h0M101.1 444.7h0M69.3 453.4h0M95.2 462.6h0M69.6 442.0h0M75.2 459.5h0M104.1 453.2h0M98.6 464.4h0M87.2 456.8h0M106.4 460.1h0M79.6 463.1h0M82.0 435.2h0M93.1 453.7h0M65.3 458.0h0M62.7 455.3h0M102.4 453.3h0M99.1 462.5h0M71.6 456.6h0M98.5 452.0h0M102.6 455.1h0M92.9 446.6h0M96.7 438.3h0M86.6 438.8h0M76.0 454.4h0M93.5 450.7h0M73.4 453.1h0M66.2 454.8h0M73.2 434.4h0M79.8 460.2h0M97.0 439.9h0M79.2 446.5h0M91.4 453.5h0M94.1 460.2h0M77.3 445.4h0M79.5 451.7h0M98.1 468.2h0M90.8 435.9h0M93.6 458.9h0M69.0 463.4h0M66.8 451.7h0M98.5 446.4h0M102.7 446.5h0M67.1 444.6h0M82.5 442.0h0M80.3 467.4h0M76.2 442.3h0M95.6 448.9h0M79.0 439.4h0M74.6 452.6h0M77.2 458.0h0M105.5 452.9h0M98.4 452.1h0M74.8 460.1h0M104.3 453.2h0M67.9 459.3h0M81.0 445.7h0M95.6 452.4h0M93.1 467.6h0M63.1 445.3h0M78.4 442.6h0M84.1 453.3h0M69.2 441.0h0M92.1 456.1h0M82.7 441.1h0M84.8 460.3h0M86.7 449.3h0M66.0 449.3h0M78.9 448.5h0M88.2 450.5h0M97.3 451.2h0M68.9 440.6h0M87.2 443.2h0M76.2 435.6h0M87.9 459.1h0M80.8 446.7h0M91.2 439.5h0M105.2 457.1h0M102.9 462.5h0M81.9 445.4h0M74.5 459.2h0M90.9 441.1h0M72.9 444.7h0M89.3 437.0h0M103.9 462.5h0M106.4 460.7h0M73.6 442.8h0M103.2 446.7h0M83.9 459.8h0M105.5 463.0h0M97.7 453.5h0M90.8 436.6h0M93.1 446.1h0M86.1 464.6h0M83.2 452.5h0M85.0 466.6h0M92.6 451.6h0M66.9 446.8h0M89.5 465.5h0M81.3 443.5h0M68.2 448.7h0M96.2 460.0h0M83.2 436.3h0M97.2 455.6h0M104.6 456.3h0M83.0 439.9h0M81.0 460.7h0M76.0 437.3h0M95.3 454.5h0M83.0 437.7h0M73.8 451.6h0M95.4 455.6h0M98.6 447.7h0M101.8 453.9h0M77.2 434.7h0M78.4 464.7h0M93.9 449.8h0M102.1 449.2h0M72.0 442.2h0M67.6 458.5h0M88.4 447.0h0M73.4 453.6h0M89.3 448.3h0M68.0 460.2h0M74.3 460.6h0M97.8 451.6h0M83.0 460.5h0M77.7 458.9h0M71.1 461.1h0M74.1 458.7h0M69.8 449.1h0M106.4 454.8h0M100.3 464.9h0M78.8 446.0h0M80.2 446.7h0M79.8 441.5h0M94.7 448.9h0M67.4 445.7h0M92.8 460.4h0M92.8 439.0h0M69.2 457.7h0M79.4 438.5h0M76.3 448.3h0M67.4 460.2h0M89.8 456.5h0M86.8 442.7h0M70.7 457.1h0M78.7 436.5h0M102.5 443.3h0M72.1 448.9h0M76.7 460.6h0M88.4 459.0h0M101.9 453.6h0M91.1 444.3h0M75.0 461.9h0M83.9 447.0h0M68.8 441.6h0M102.3 460.4h0M73.5 464.2h0M77.1 450.9h0M81.3 456.2h0M90.5 457.7h0M81.0 453.5h0M99.7 443.2h0M65.7 461.0h0M68.8 463.7h0M95.0 447.7h0M77.8 459.6h0M74.3 463.0h0M89.1 464.2h0M82.6 438.5h0M82.6 464.8h0M77.8 465.4h0M83.8 440.1h0M105.3 452.4h0M92.2 455.4h0M79.6 467.9h0M78.4 434.7h0M88.6 464.8h0M77.4 451.0h0M71.4 459.8h0M95.8 443.5h0M78.2 452.8h0M103.9 452.8h0M92.3 462.7h0M95.1 448.0h0M98.9 457.8h0M91.2 449.2h0M87.7 462.7h0M81.7 438.0h0M95.5 450.8h0M94.3 458.2h0M79.7 437.3h0M68.7 449.0h0M95.9 448.6h0M83.9 445.4h0M96.6 457.3h0M106.0 458.8h0M75.0 464.3h0M85.5 461.5h0M93.3 461.3h0M78.1 438.3h0M102.4 462.4h0M84.1 446.4h0M73.0 438.1h0M73.7 438.5h0M76.2 435.5h0M99.3 438.9h0M64.9 457.7h0M81.4 467.4h0M79.6 438.0h0M82.1 433.8h0M69.4 445.6h0M101.9 462.3h0M66.1 465.7h0M84.5 454.6h0M71.1 454.7h0M73.7 464.7h0M71.6 439.5h0M106.1 451.8h0M83.4 436.2h0M94.3 446.1h0M94.6 450.5h0M63.1 447.1h0M69.8 462.7h0M78.9 454.8h0M76.3 461.8h0M96.6 451.4h0M85.4 466.9h0M68.5 465.2h0M95.4 453.8h0M88.5 464.5h0M103.2 445.0h0M93.5 437.1h0M79.1 449.1h0M80.6 459.5h0M83.0 455.3h0M93.1 441.1h0M99.6 443.4h0M89.8 463.0h0M78.0 456.3h0M91.5 459.3h0M83.9 441.0h0M105.0 458.7h0M97.2 451.5h0M72.0 453.7h0M83.7 451.4h0M74.2 439.7h0M65.3 464.8h0M93.4 458.3h0M99.8 463.7h0M81.2 434.8h0M93.1 453.2h0M89.2 435.6h0M86.2 453.7h0M97.6 453.0h0M95.7 436.1h0M64.5 452.8h0M97.3 458.8h0M79.6 463.5h0M83.9 451.5h0M71.0 464.1h0M78.2 440.2h0M103.4 453.9h0M74.3 461.1h0M103.5 448.9h0M78.7 439.6h0M76.4 459.3h0M66.4 461.7h0M96.0 461.3h0M91.4 450.7h0M70.7 445.3h0M80.9 450.4h0M64.3 458.7h0M95.5 467.9h0M80.3 462.4h0M70.1 460.5h0M98.7 449.3h0M81.5 451.6h0M83.0 445.9h0M83.1 458.1h0M77.8 445.8h0M84.3 433.8h0M93.8 454.0h0M91.3 435.6h0M84.6 452.0h0M84.5 452.3h0M93.8 448.5h0M73.5 448.3h0M82.9 435.3h0M85.0 436.1h0M95.2 450.5h0M81.5 462.7h0M74.0 441.1h0M69.3 452.6h0M82.4 456.0h0M99.0 441.0h0M89.0 436.1h0M74.3 441.9h0M72.0 441.6h0M64.6 464.1h0M92.7 448.3h0M92.9 453.4h0M94.2 445.3h0M73.2 460.5h0M65.6 461.6h0M85.1 452.0h0M105.0 446.8h0M96.2 450.6h0M97.3 441.4h0M87.4 445.9h0M92.7 463.2h0M91.6 445.0h0M74.0 439.1h0M72.5 462.2h0M87.7 444.0h0M67.8 437.8h0M72.9 463.7h0M70.8 463.4h0M97.0 456.2h0M84.4 447.7h0M83.0 454.9h0M94.5 450.1h0M72.9 453.2h0M93.1 438.2h0M99.3 459.8h0M80.9 467.2h0M67.5 440.6h0M75.5 457.9h0M79.2 455.9h0M100.0 463.2h0M86.8 445.4h0M84.5 442.0h0M86.5 453.1h0M102.3 444.7h0M90.2 445.5h0M101.7 440.8h0M63.4 456.5h0M88.4 458.5h0M90.7 440.8h0M72.5 456.7h0M75.9 467.6h0M79.3 446.0h0M85.1 437.2h0M69.1 447.0h0M91.7 443.7h0M88.3 445.2h0M97.1 455.9h0M65.2 465.9h0M68.4 439.9h0M89.1 456.1h0M70.5 463.7h0M105.6 450.3h0M91.6 467.7h0M82.0 451.1h0M73.8 451.0h0M87.9 465.2h0M103.1 451.9h0M65.9 447.2h0M89.1 450.3h0M98.6 444.3h0M91.9 449.8h0M89.8 440.3h0M100.3 445.0h0M75.8 442.8h0M84.5 436.6h0M87.5 444.9h0M71.9 442.7h0M78.6 439.0h0M88.2 437.9h0M94.3 441.1h0M66.7 447.4h0M68.5 450.4h0M78.2 467.7h0M81.3 467.6h0M69.0 467.2h0M88.9 463.5h0M80.4 447.1h0M75.3 439.2h0M95.2 460.0h0M77.4 443.0h0M82.2 445.4h0M76.9 441.5h0M71.3 457.3h0M92.7 441.5h0M81.9 460.9h0M92.8 456.0h0M103.4 449.1h0M79.5 438.6h0M99.5 442.3h0M93.6 445.5h0M77.0 452.0h0M96.3 464.8h0M97.7 452.2h0M92.0 459.6h0M88.4 446.9h0M88.1 434.8h0M73.3 437.9h0M73.4 440.6h0M90.7 466.8h0M69.0 456.6h0M92.5 466.8h0M73.3 437.6h0M65.7 460.1h0M90.4 459.2h0M89.7 468.3h0M104.4 452.4h0M90.8 464.2h0M71.2 452.5h0M86.5 466.8h0M70.1 444.7h0M102.5 457.5h0M79.6 456.1h0M68.0 463.5h0M83.7 449.7h0M99.5 452.8h0M94.4 459.4h0M64.2 453.0h0M86.9 456.4h0M66.0 444.9h0M102.5 447.8h0M64.9 451.6h0M75.2 453.2h0M99.8 451.1h0M101.3 451.9h0M82.8 441.7h0M63.9 447.9h0M64.9 442.8h0M90.9 443.6h0M104.2 449.5h0M87.9 451.3h0M82.8 448.2h0M74.4 449.8h0M88.1 438.2h0M73.5 449.4h0M80.8 466.2h0M99.0 460.1h0M85.3 447.3h0M65.4 449.2h0M85.4 468.1h0M78.7 453.5h0M70.6 460.3h0M72.3 436.8h0M89.4 451.4h0M92.0 466.9h0M73.3 455.5h0M89.5 447.3h0M68.1 464.3h0M81.3 440.8h0M95.0 444.2h0M74.9 445.6h0M102.2 453.1h0M94.3 467.9h0M67.2 440.3h0M66.6 449.6h0M84.5 441.4h0M70.7 450.6h0M69.8 442.0h0M95.2 449.3h0M65.4 448.7h0M102.1 446.5h0M74.8 441.1h0M69.7 463.5h0M104.2 447.5h0M73.7 464.8h0M74.7 442.9h0M98.1 441.9h0M65.7 458.7h0M82.6 439.7h0M81.0 455.0h0M100.4 443.6h0M79.0 450.3h0M82.2 438.4h0M92.2 445.9h0M97.2 459.4h0M95.3 443.2h0M73.7 442.6h0M84.4 456.4h0M91.1 463.2h0M78.8 439.2h0M79.0 437.4h0M99.2 458.6h0M69.4 465.9h0M89.5 460.6h0M88.6 437.0h0M97.6 447.3h0M90.3 464.8h0M101.8 462.9h0M68.6 449.2h0M94.4 446.2h0M81.0 455.2h0M73.5 449.6h0M81.3 458.8h0M82.8 466.6h0M88.0 448.9h0M90.9 440.7h0M104.5 453.7h0M97.6 448.3h0M82.9 456.9h0M79.5 447.9h0M92.4 447.5h0M92.9 443.1h0M84.0 458.1h0M80.9 450.7h0M72.6 458.9h0M98.4 452.3h0M87.3 436.8h0M70.3 445.5h0M88.2 442.8h0M94.1 450.1h0M75.2 455.5h0M75.3 449.4h0M79.7 462.1h0M101.6 458.8h0M99.4 439.4h0M88.4 454.8h0M68.8 462.7h0M71.1 438.1h0M67.1 455.4h0M86.3 439.8h0M66.1 456.0h0M75.4 445.5h0M104.3 445.8h0M69.0 446.4h0M103.3 447.8h0M87.8 440.1h0M84.6 450.5h0M82.1 457.0h0M79.2 447.2h0M89.7 450.7h0M85.3 442.7h0M69.7 459.1h0M96.4 439.5h0M82.5 462.8h0M77.8 457.5h0M75.1 450.4h0M87.1 467.4h0M73.8 467.3h0M90.1 444.2h0M81.2 447.2h0M78.4 460.5h0M102.9 460.5h0M83.7 438.1h0M64.2 455.6h0M77.7 447.5h0M102.9 460.2h0M80.5 454.0h0M61.8 448.8h0M97.0 466.7h0M71.5 443.9h0M79.2 450.1h0M78.7 464.6h0M70.4 455.8h0M86.6 443.6h0M78.3 451.5h0M101.6 459.8h0M85.8 462.8h0M85.4 446.4h0M69.7 443.3h0M91.4 468.8h0M77.9 447.4h0M97.4 465.0h0M91.2 445.7h0M91.2 455.4h0M95.4 443.3h0M92.5 446.3h0M90.7 444.0h0M74.6 450.7h0M98.8 462.1h0M85.9 467.7h0M69.1 456.6h0M71.0 457.9h0M83.8 446.7h0M71.9 464.7h0M64.9 440.9h0M96.0 467.7h0M79.7 437.8h0M95.9 446.7h0M94.9 454.4h0M88.0 452.8h0M67.7 440.4h0M95.4 442.0h0M82.2 450.5h0M101.8 441.4h0M102.0 448.1h0M95.7 442.2h0M80.2 452.4h0M69.1 454.8h0M99.4 458.5h0M67.6 454.6h0M98.8 461.8h0M71.5 439.8h0M85.7 438.3h0M68.6 453.4h0M80.7 465.3h0M70.9 446.9h0M78.8 467.1h0M66.4 465.0h0M80.4 449.7h0M91.8 455.9h0M96.1 464.6h0M79.7 452.7h0M97.3 440.9h0M90.5 456.0h0M85.8 434.6h0M107.8 459.0h0M76.4 443.2h0M82.2 454.6h0M91.3 449.4h0M75.0 451.7h0M86.4 442.0h0M68.9 443.3h0M79.2 446.0h0M92.4 449.3h0M81.6 461.5h0M78.1 466.4h0M82.6 464.5h0M75.6 445.8h0M91.2 451.2h0M100.3 462.9h0M94.8 450.7h0M72.6 447.7h0M82.0 439.9h0M90.5 461.4h0M92.6 447.3h0M63.1 446.6h0M100.1 441.2h0M68.5 467.2h0M80.4 444.9h0M90.0 460.7h0M96.2 444.9h0M78.4 451.8h0M95.2 459.1h0M80.6 438.1h0M81.1 445.8h0M87.0 458.5h0M74.2 449.3h0M85.2 446.7h0M95.5 456.1h0M75.5 449.1h0M97.5 446.2h0M102.8 450.3h0M97.0 446.1h0M99.3 456.5h0M96.4 450.1h0M78.1 463.7h0M63.5 451.3h0M84.3 462.1h0M103.2 461.7h0M84.4 439.7h0M80.9 444.3h0M68.2 445.0h0M65.3 442.0h0M79.5 465.7h0M89.5 447.0h0M70.5 458.5h0M68.1 459.0h0M74.1 452.1h0M85.2 454.8h0M97.4 441.5h0M99.0 461.1h0M77.7 439.3h0M76.1 469.5h0M97.8 453.3h0M78.4 444.2h0M96.6 442.4h0M72.1 468.2h0M75.6 446.7h0M93.3 443.2h0M63.8 457.3h0M69.8 448.4h0M87.7 448.3h0M83.0 447.0h0M74.0 446.8h0M104.3 458.6h0M96.0 462.8h0M73.5 464.3h0M76.3 460.3h0M100.6 440.3h0M66.5 461.1h0M69.1 458.3h0M103.2 455.8h0M87.1 457.0h0M105.0 458.4h0M69.4 457.5h0M90.0 464.5h0M90.9 455.5h0M90.4 436.1h0M79.1 464.2h0M104.5 456.2h0M67.1 457.4h0M75.4 448.3h0M63.4 446.4h0M103.0 451.2h0M98.8 449.9h0M73.9 436.7h0M71.6 435.3h0M83.9 446.8h0M102.9 459.4h0M69.4 455.8h0M67.5 446.0h0M87.3 460.1h0M76.6 466.9h0M68.1 463.9h0M78.6 439.5h0M101.3 448.8h0M78.3 455.1h0M98.3 440.2h0M99.6 450.6h0M69.5 443.4h0M76.1 448.6h0M86.0 456.8h0M94.4 455.9h0M69.5 437.8h0M67.1 448.3h0M63.6 448.8h0M77.0 457.7h0M87.1 458.4h0M98.9 439.0h0M91.9 446.1h0M67.2 444.0h0M85.8 438.9h0M65.0 464.2h0M105.5 464.2h0M82.7 463.1h0M82.2 442.2h0M80.8 464.6h0M99.0 455.8h0M86.2 454.4h0M95.7 446.6h0M78.8 456.1h0M65.8 442.9h0M82.7 458.7h0M72.4 465.8h0M88.9 439.7h0M103.3 457.4h0M74.7 445.7h0M80.6 463.7h0M73.4 453.2h0M91.7 444.5h0M98.9 455.2h0M85.0 434.9h0M104.5 459.5h0M86.9 461.4h0M66.7 458.8h0M97.9 457.9h0M84.8 462.5h0M94.4 460.5h0M103.1 458.8h0M75.3 464.3h0M88.2 467.4h0M84.4 458.6h0M93.7 445.9h0M71.7 442.8h0M63.2 459.3h0M97.9 465.5h0M90.5 446.3h0M71.9 444.9h0M94.5 450.9h0M84.6 439.6h0M74.2 460.0h0M75.5 442.5h0M68.6 465.2h0M62.2 461.3h0M94.2 444.4h0M93.6 463.1h0M75.9 439.4h0M65.7 444.6h0M90.2 444.6h0M83.3 441.6h0M86.8 448.1h0M73.3 462.4h0M96.7 458.9h0M86.8 446.1h0M91.6 438.3h0M75.3 441.5h0M85.0 457.3h0M69.5 447.0h0M74.6 463.7h0M84.3 451.5h0M67.0 453.8h0M85.0 454.2h0M81.8 448.6h0M78.2 446.2h0M73.7 452.9h0M80.2 466.2h0M83.0 447.9h0M74.1 455.4h0M96.6 440.6h0M94.3 466.9h0M64.9 454.0h0M75.6 449.7h0M71.5 448.0h0M82.5 460.3h0M85.6 444.6h0M92.5 443.7h0M90.9 461.9h0M101.1 456.4h0M79.6 436.1h0M78.8 445.4h0M72.8 461.9h0M86.7 443.6h0M89.4 467.8h0M68.8 446.3h0M102.9 454.7h0M96.0 437.1h0M66.3 448.8h0M73.8 455.5h0M76.6 447.1h0M67.6 449.1h0M71.9 453.5h0M99.0 447.5h0M84.3 462.1h0M82.7 466.0h0M69.9 454.7h0M71.1 462.6h0M89.6 453.7h0M96.8 455.8h0M81.1 468.0h0M77.2 450.3h0M85.9 450.9h0M104.4 454.6h0M99.1 443.2h0M72.8 458.5h0M73.0 467.3h0M96.3 461.4h0M99.6 461.7h0M85.8 462.3h0M98.7 456.4h0M84.2 439.1h0M73.1 458.7h0M78.0 457.3h0M75.6 451.8h0M98.7 454.8h0M68.0 456.8h0M77.4 465.2h0M90.3 451.6h0M68.5 448.6h0M92.8 457.9h0M71.1 439.1h0M68.3 441.1h0M91.5 436.4h0M104.6 453.8h0M85.6 438.6h0M92.0 463.1h0M98.6 452.9h0M90.8 461.1h0M71.2 450.9h0M97.5 443.5h0M100.8 450.9h0M85.5 451.7h0M88.0 458.3h0M99.2 451.5h0M92.4 439.1h0M103.0 441.2h0M67.1 442.0h0M105.2 459.3h0M93.8 463.7h0M83.8 455.5h0M103.0 447.6h0M69.1 446.4h0M66.6 464.2h0M86.4 454.9h0M70.2 441.0h0M70.5 459.2h0M100.9 457.4h0M95.8 454.9h0M84.4 448.4h0M105.2 456.2h0M100.0 444.4h0M106.8 454.9h0M92.1 466.3h0M69.2 465.4h0M73.7 454.4h0M81.2 468.3h0M71.5 465.0h0M79.2 448.6h0M87.8 449.6h0M74.9 440.8h0M75.6 436.4h0M82.5 449.4h0M83.9 456.0h0M63.6 447.5h0M95.3 443.9h0M86.1 439.3h0M74.7 439.6h0M102.4 444.8h0M75.0 467.0h0M86.8 433.3h0M78.7 469.4h0M85.0 459.9h0M86.8 434.3h0M100.0 442.4h0M72.3 453.9h0M66.0 442.6h0M79.5 457.7h0M81.7 448.7h0M85.2 454.3h0M80.9 464.4h0M101.9 454.6h0M86.0 461.4h0M64.8 448.0h0M88.8 464.7h0M88.0 458.1h0M74.1 462.3h0M85.9 466.0h0M89.6 458.4h0M91.1 463.3h0M86.9 454.2h0M96.3 444.1h0M75.6 465.1h0M72.3 442.3h0M98.0 460.7h0M69.7 438.9h0M83.8 435.4h0M80.5 452.5h0M82.5 447.6h0M75.7 442.8h0M65.6 462.4h0M73.2 451.1h0M101.4 440.3h0M97.3 451.9h0M76.5 441.0h0M103.3 447.7h0M98.8 460.6h0M81.1 448.2h0M89.2 461.7h0M74.8 456.7h0M93.5 442.7h0M73.3 464.9h0M70.9 461.2h0M92.1 445.3h0M97.3 449.5h0M73.4 444.4h0M72.9 442.6h0M97.2 454.9h0M76.5 454.6h0M105.6 454.8h0M87.6 445.7h0M65.7 451.2h0M80.4 437.7h0M85.4 450.2h0M99.6 456.0h0M104.9 463.1h0M85.3 455.0h0M83.6 450.6h0M79.7 455.2h0M70.7 448.5h0M103.5 453.9h0M81.0 463.5h0M85.9 440.0h0M95.5 448.6h0M68.1 460.1h0M92.8 458.6h0M89.4 438.3h0M81.2 452.5h0M97.7 455.2h0M102.3 443.5h0M66.5 465.1h0M88.9 467.1h0M96.0 440.5h0M93.0 451.5h0M88.9 442.3h0M95.2 449.3h0M101.1 461.7h0M75.5 437.5h0M78.8 436.9h0M89.3 447.6h0M99.3 446.0h0M97.3 455.0h0M78.9 463.0h0M78.4 451.9h0M71.1 449.2h0M96.3 450.9h0M89.4 440.5h0M64.6 450.8h0M85.4 433.1h0M97.7 449.6h0M94.7 466.9h0M81.8 449.2h0M75.8 442.2h0M90.6 460.5h0M92.9 456.0h0M95.1 461.5h0M67.8 454.5h0M71.4 466.2h0M87.1 447.9h0M81.0 444.8h0M98.2 445.5h0M79.3 442.2h0M102.3 441.3h0M83.9 457.5h0M86.5 440.4h0M99.5 453.4h0M77.5 455.4h0M88.8 465.4h0M93.0 449.9h0M68.4 445.2h0M101.9 443.8h0M90.0 452.0h0M81.8 458.6h0M90.6 441.9h0M91.7 465.1h0M86.8 444.3h0M70.8 450.9h0M66.8 450.8h0M96.6 459.7h0M96.9 447.8h0M84.7 436.5h0M71.7 444.0h0M93.7 454.1h0" stroke="#a6cee3" stroke-width="0.62" stroke-linecap="round" fill="none" stroke-opacity="0.9"/>
<path d="M58.5 532.3h0M58.3 519.8h0M74.6 521.3h0M73.7 524.5h0M79.4 526.8h0M80.1 518.5h0M70.0 527.5h0M57.9 514.1h0M78.7 518.6h0M75.3 523.4h0M59.7 518.9h0M76.6 528.1h0M71.3 527.2h0M81.6 509.7h0M64.4 502.9h0M61.6 513.4h0M57.2 518.1h0M77.1 512.1h0M77.4 527.9h0M55.9 506.5h0M59.7 510.8h0M63.7 518.5h0M73.5 507.1h0M81.1 529.1h0M69.5 530.7h0M61.2 527.0h0M66.3 506.1h0M59.5 527.1h0M67.5 530.3h0M56.4 507.1h0M81.8 531.7h0M77.0 535.4h0M67.9 507.4h0M73.6 521.9h0M67.2 524.3h0M74.0 523.1h0M60.3 530.3h0M62.2 534.5h0M70.1 518.7h0M80.0 518.2h0M75.9 505.0h0M60.0 514.9h0M72.9 531.9h0M60.4 531.1h0M54.5 513.4h0M79.6 522.3h0M61.5 516.9h0M71.0 519.3h0M57.4 510.8h0M53.5 514.3h0M69.1 534.9h0M57.4 519.5h0M59.8 520.0h0M84.9 514.8h0M66.9 504.7h0M75.2 508.6h0M53.4 520.0h0M59.0 515.0h0M64.1 509.4h0M52.4 524.3h0M61.7 505.7h0M68.6 529.6h0M75.6 509.3h0M76.8 523.5h0M81.5 529.3h0M65.1 503.6h0M79.5 535.0h0M75.6 538.3h0M83.3 526.2h0M61.0 503.9h0M78.0 512.7h0M73.2 517.6h0M77.0 517.1h0M67.0 506.2h0M62.0 504.5h0M79.5 525.4h0M77.8 535.7h0M76.3 516.8h0M83.5 521.1h0M61.1 531.9h0M66.4 506.9h0M58.4 526.3h0M75.7 538.0h0M77.9 530.2h0M71.0 534.7h0M73.6 506.9h0M73.5 508.7h0M62.2 520.2h0M73.5 538.6h0M70.7 527.4h0M72.1 513.9h0M84.9 515.3h0M62.3 535.4h0M56.3 512.2h0M81.5 523.3h0M77.3 517.9h0M61.7 510.0h0M71.7 520.6h0M75.7 508.1h0M57.3 518.7h0M66.5 505.6h0M53.5 511.1h0M82.8 530.7h0M79.1 522.8h0M82.1 519.0h0M66.7 522.1h0M75.5 537.9h0M67.0 532.1h0M70.7 526.1h0M71.1 536.5h0M83.9 509.5h0M69.1 527.0h0M77.4 519.5h0M60.8 509.7h0M77.2 527.8h0M54.9 518.5h0M70.5 533.0h0M55.6 523.7h0M71.4 520.7h0M76.0 512.0h0M77.8 521.0h0M55.5 526.0h0M70.7 518.1h0M79.9 520.9h0M78.5 518.1h0M62.5 522.4h0M69.6 511.5h0M82.3 531.7h0M69.0 532.4h0M62.0 527.8h0M69.8 523.8h0M57.3 518.6h0M83.2 523.3h0M78.5 533.7h0M82.2 531.1h0M84.5 525.9h0M65.5 530.8h0M65.9 522.2h0M56.2 525.8h0M68.1 537.9h0M63.2 523.5h0M72.9 526.3h0M81.8 512.4h0M58.0 527.3h0M56.2 512.4h0M74.6 508.8h0M70.3 506.5h0M69.3 536.8h0M69.7 510.4h0M64.2 518.3h0M65.8 526.5h0M65.4 503.8h0M73.4 536.3h0M81.8 519.7h0M73.2 536.7h0M82.7 522.9h0M76.4 511.0h0M68.5 506.3h0M67.2 535.0h0M76.0 524.7h0M67.4 528.4h0M65.1 524.4h0M65.3 538.5h0M55.6 527.9h0M74.8 537.6h0M76.8 525.9h0M56.1 511.2h0M55.7 532.6h0M75.6 506.0h0M54.1 515.1h0M67.0 513.6h0M60.1 514.6h0M58.4 524.5h0M68.9 505.7h0M52.2 517.3h0M82.1 511.0h0M55.5 512.0h0M55.7 526.6h0M80.8 516.9h0M56.1 511.3h0M69.1 528.2h0M56.9 509.3h0M66.3 514.8h0M81.9 515.7h0M55.1 508.0h0M70.5 531.9h0M64.9 519.6h0M81.3 516.5h0M61.1 523.4h0M60.8 504.7h0M58.9 510.5h0M83.0 515.5h0M70.9 503.7h0M78.4 505.3h0M66.7 524.2h0M79.6 521.7h0M70.2 531.2h0M63.0 531.3h0M67.5 522.0h0M76.7 525.2h0M73.9 530.6h0M56.1 529.1h0M81.1 522.9h0M79.4 526.0h0M77.7 529.6h0M64.7 505.8h0M75.7 508.8h0M67.1 534.1h0M60.7 517.3h0M80.3 518.3h0M83.0 533.1h0M72.5 531.7h0M72.6 535.1h0M67.7 502.5h0M68.6 508.8h0M62.1 515.6h0M77.0 521.1h0M83.9 529.4h0M73.2 506.0h0M64.3 536.2h0M51.8 514.3h0M72.0 516.8h0M81.2 520.2h0M74.1 536.1h0M57.4 521.4h0M64.5 513.9h0M60.8 510.1h0M53.6 509.2h0M61.6 531.7h0M84.3 520.1h0M77.7 535.4h0M60.9 511.6h0M80.2 517.2h0M82.7 528.9h0M74.8 519.5h0M76.7 511.0h0M60.1 528.3h0M52.0 516.6h0M81.3 518.5h0M74.3 512.7h0M79.7 519.8h0M55.6 506.3h0M71.6 511.6h0M76.2 534.0h0M61.4 527.9h0M70.6 524.2h0M60.6 527.7h0M59.3 508.9h0M80.1 529.5h0M72.2 515.0h0M80.6 533.2h0M58.0 512.5h0M76.1 519.9h0M70.7 537.6h0M77.5 522.5h0M62.2 534.1h0M70.1 515.5h0M65.5 512.2h0M58.6 521.0h0M63.4 508.0h0M73.2 505.4h0M67.1 525.2h0M82.1 528.9h0M86.0 516.0h0M68.2 514.0h0M83.3 519.1h0M73.8 520.2h0M63.4 513.0h0M63.0 509.9h0M60.6 523.4h0M56.7 526.6h0M85.0 520.1h0M51.6 517.4h0M85.1 521.0h0M74.8 516.1h0M83.4 530.1h0M64.0 523.9h0M61.6 505.8h0M67.8 528.9h0M77.0 517.2h0M71.6 525.0h0M74.7 533.3h0M63.1 523.9h0M61.1 512.7h0M67.0 530.2h0M80.4 511.3h0M56.2 510.0h0M75.5 533.7h0M65.8 539.3h0M60.6 512.9h0M76.4 537.9h0M62.4 531.2h0M63.0 518.8h0M82.7 531.2h0M54.9 510.5h0M72.1 513.3h0M56.9 516.6h0M77.3 519.9h0M82.0 515.2h0M63.0 533.4h0M84.3 519.9h0M72.5 534.2h0M66.2 528.5h0M60.4 521.1h0M66.3 517.4h0M59.5 513.6h0M72.1 523.3h0M57.3 507.3h0M74.0 504.1h0M61.8 527.4h0M60.9 527.0h0M81.7 518.0h0M76.8 521.0h0M74.7 536.5h0M65.3 518.7h0M63.0 527.8h0M55.1 519.9h0M68.1 503.7h0M69.4 520.7h0M73.5 520.3h0M56.5 511.8h0M59.7 516.7h0M53.4 514.9h0M77.1 517.8h0M64.1 524.6h0M74.1 525.2h0M72.3 507.3h0M84.9 515.9h0M59.8 513.1h0M63.6 503.8h0M79.9 526.2h0M76.5 529.6h0M70.7 531.7h0M84.9 517.0h0M66.0 527.9h0M73.4 508.9h0M56.4 529.2h0M55.0 511.3h0M61.4 529.3h0M70.7 522.5h0M76.0 533.3h0M75.8 511.9h0M83.2 523.5h0M53.2 514.6h0M84.3 524.7h0M72.1 531.7h0M55.2 529.5h0M70.8 517.4h0M63.1 511.3h0M74.7 526.3h0M70.9 504.1h0M78.6 530.7h0M71.9 520.4h0M77.6 513.6h0M57.4 529.7h0M75.5 511.0h0M73.6 535.5h0M69.8 527.9h0M75.5 523.1h0M71.4 521.6h0M59.6 513.2h0M70.7 524.4h0M73.8 533.6h0M77.7 531.2h0M68.1 507.8h0M65.3 521.2h0M81.5 526.8h0M54.4 518.5h0M83.6 532.1h0M70.9 502.9h0M78.5 514.0h0M61.7 536.6h0M61.4 507.3h0M76.1 505.1h0M79.3 525.0h0M52.5 517.7h0M79.1 518.2h0M59.9 525.6h0M58.3 529.3h0M79.6 520.0h0M65.5 533.6h0M72.0 529.1h0M57.4 527.4h0M80.5 520.6h0M67.3 532.1h0M58.0 504.9h0M62.0 519.5h0M78.9 507.5h0M58.8 513.0h0M55.7 522.9h0M78.4 525.8h0M66.1 511.0h0M82.6 520.9h0M75.7 519.0h0M64.9 504.6h0M67.0 520.8h0M72.2 523.8h0M60.3 518.3h0M75.3 530.1h0M71.1 528.2h0M72.2 530.9h0M56.8 521.7h0M65.8 534.5h0M53.4 516.5h0M76.5 524.8h0M68.9 509.0h0M60.7 505.9h0M84.6 510.9h0M76.3 505.4h0M75.2 504.5h0M70.0 533.8h0M55.0 525.1h0M76.8 513.0h0M63.8 529.0h0M81.9 509.2h0M81.5 521.0h0M63.0 528.4h0M57.6 516.7h0M70.1 528.0h0M75.2 522.7h0M72.6 526.9h0M59.5 527.5h0M73.3 521.7h0M58.8 512.3h0M63.5 505.2h0M65.3 501.8h0M56.3 522.2h0M60.7 531.7h0M61.0 529.4h0M75.3 525.0h0M64.7 510.3h0M69.2 528.1h0M68.6 511.0h0M60.8 532.1h0M76.1 525.8h0M60.7 533.2h0M53.7 513.2h0M84.5 521.0h0M80.5 521.3h0M74.2 512.9h0M80.0 509.2h0M53.1 524.3h0M83.1 526.0h0M67.4 510.7h0M69.6 503.8h0M66.7 539.0h0M69.0 508.3h0M63.2 509.4h0M66.5 518.4h0M72.5 527.1h0M73.5 515.6h0M67.2 516.5h0M76.3 533.7h0M62.1 526.9h0M63.4 520.2h0M76.7 529.2h0M62.9 526.5h0M57.2 507.9h0M75.3 537.6h0M76.4 509.2h0M65.3 516.2h0M67.5 503.5h0M83.2 529.0h0M69.1 510.7h0M77.4 510.9h0M52.5 518.5h0M77.9 526.1h0M74.6 512.8h0M58.2 532.3h0M51.6 520.4h0M69.7 513.1h0M64.6 520.4h0M65.4 506.2h0M63.1 522.2h0M83.3 520.9h0M72.7 527.0h0M58.4 513.3h0M83.8 521.2h0M75.4 537.1h0M80.1 506.8h0M66.8 515.9h0M75.0 506.8h0M72.6 508.4h0M73.3 533.2h0M63.7 508.4h0M80.9 508.6h0M58.0 525.9h0M75.2 509.7h0M83.1 525.8h0M77.9 513.6h0M65.1 513.2h0M80.3 518.3h0M67.4 507.6h0M52.1 519.5h0M70.7 522.6h0M80.6 532.4h0M76.7 513.6h0M76.5 516.4h0M55.7 522.7h0M65.3 524.3h0M77.7 508.3h0M57.4 515.2h0M80.0 506.7h0M65.8 509.8h0M72.1 534.6h0M72.2 522.1h0M80.4 513.8h0M68.4 510.9h0M78.4 513.6h0M58.8 516.2h0M57.6 518.8h0M81.6 523.2h0M73.0 514.2h0M63.7 516.6h0M61.4 512.4h0M62.4 506.6h0M64.4 538.5h0M56.7 522.9h0M78.7 524.7h0M74.3 509.9h0M68.8 507.2h0M65.5 514.6h0M78.4 519.2h0M75.7 535.0h0M83.3 526.0h0M59.2 528.5h0M72.4 537.7h0M57.0 522.7h0M71.6 514.2h0M57.7 517.3h0M73.6 510.1h0M78.8 530.6h0M72.4 522.0h0M53.3 518.9h0M79.3 510.5h0M77.8 519.9h0M70.3 507.8h0M79.4 519.2h0M53.7 521.6h0M55.7 521.6h0M60.6 529.7h0M77.8 508.8h0M58.3 516.2h0M75.2 509.0h0M67.1 536.9h0M81.3 508.5h0M75.0 521.0h0M58.2 532.6h0M82.2 511.2h0M51.8 517.3h0M61.9 519.4h0M67.3 516.6h0M58.6 526.2h0M82.0 525.7h0M82.8 511.4h0M78.2 532.1h0M69.7 519.7h0M66.1 501.9h0M65.7 509.1h0M69.4 527.8h0M58.3 518.4h0M64.5 516.1h0M72.3 508.9h0M67.8 527.8h0M66.9 521.8h0M68.1 536.7h0M66.1 513.8h0M56.7 532.6h0M63.3 526.4h0M60.1 529.0h0M83.0 529.9h0M75.5 509.4h0M73.2 511.7h0M58.0 520.0h0M61.6 524.5h0M76.4 523.1h0M73.1 517.4h0M78.3 514.9h0M85.2 513.7h0M77.9 530.1h0M71.1 528.5h0M69.1 538.2h0M64.3 514.8h0M52.9 520.6h0M74.6 528.4h0M78.4 511.9h0M74.2 511.4h0M56.6 522.1h0M57.4 507.0h0M66.0 507.2h0M53.6 512.8h0M55.9 521.5h0M61.4 514.2h0M66.2 510.9h0M64.7 513.2h0M56.5 511.5h0M71.9 516.7h0M79.6 518.1h0M75.6 510.7h0M64.6 512.7h0M65.6 518.9h0M66.6 507.5h0M82.7 520.2h0M58.3 504.8h0M68.3 533.0h0M64.1 529.6h0M75.4 515.7h0M81.6 517.2h0M85.1 516.6h0M74.7 533.2h0M68.7 539.0h0M63.1 530.2h0M59.4 517.9h0M60.9 510.5h0M78.7 514.0h0M75.0 531.0h0M66.1 505.1h0M65.4 537.6h0M75.1 533.0h0M78.4 513.7h0M62.7 507.4h0M77.9 507.8h0M59.3 528.1h0M85.6 521.3h0M78.6 525.4h0M79.5 516.0h0M74.0 531.6h0M60.9 524.4h0M76.5 529.2h0M69.8 534.9h0M63.5 519.0h0M55.8 527.1h0M70.7 516.3h0M66.2 537.6h0M69.7 517.4h0M63.4 508.8h0M70.9 511.4h0M55.8 524.1h0M55.1 527.0h0M67.1 535.8h0M83.7 514.1h0M77.4 505.3h0M70.9 505.4h0M71.1 520.0h0M84.1 515.7h0M81.7 523.7h0M79.4 520.2h0M74.9 522.8h0M53.1 515.8h0M51.2 515.9h0M81.1 527.8h0M66.5 512.8h0M80.2 518.4h0M80.0 529.3h0M73.8 516.2h0M56.1 516.9h0M64.4 519.0h0M55.8 526.4h0M78.7 511.2h0M56.6 517.8h0M74.1 510.4h0M61.7 520.7h0M52.5 518.8h0M74.7 517.8h0M64.9 521.7h0M70.3 538.5h0M62.7 507.3h0M69.0 506.2h0M68.1 532.9h0M64.3 507.6h0M55.6 516.5h0M69.9 509.4h0M83.4 528.0h0M72.1 537.6h0M59.3 529.8h0M56.6 513.8h0M70.4 502.7h0M55.7 526.1h0M62.6 525.0h0M77.8 514.8h0M67.4 530.6h0M63.8 518.8h0M61.4 536.3h0M71.9 517.1h0M82.3 521.0h0M72.6 520.3h0M64.1 520.9h0M63.6 505.3h0M71.1 513.2h0M65.8 517.6h0M72.6 522.8h0M62.5 516.5h0M58.0 517.8h0M83.6 520.8h0M62.6 515.4h0M76.1 505.5h0M55.3 517.1h0M63.5 530.6h0M74.8 532.8h0M70.4 507.0h0M60.5 527.3h0M55.6 523.4h0M66.9 520.7h0M79.1 528.2h0M74.7 525.9h0M60.3 535.7h0M65.5 538.6h0M61.0 531.5h0M53.8 514.9h0M58.7 525.8h0M82.8 515.7h0M77.7 528.1h0M75.1 519.5h0M71.2 503.4h0M69.4 506.2h0M71.9 505.5h0M68.9 537.8h0M69.5 539.0h0M60.1 505.0h0M71.6 514.2h0M54.5 527.8h0M78.8 506.2h0M54.3 526.1h0M58.1 508.0h0M58.8 519.6h0M55.4 521.8h0M77.8 512.4h0M55.9 515.7h0M78.4 533.0h0M62.8 514.2h0M73.2 511.6h0M64.2 509.1h0M72.3 533.2h0M64.8 503.3h0M82.5 522.3h0M64.4 516.7h0M84.2 523.1h0M79.1 505.5h0M61.3 534.3h0M75.3 522.1h0M73.3 514.6h0M80.9 518.2h0M59.0 511.7h0M58.5 528.6h0M79.2 530.4h0M71.9 520.2h0M78.3 528.0h0M61.2 530.2h0M72.4 517.5h0M77.7 512.9h0M72.4 536.9h0M55.0 515.3h0M65.6 526.0h0M84.9 519.9h0M72.3 503.4h0M60.9 510.2h0M58.2 520.7h0M81.4 523.7h0M59.7 508.6h0M78.7 533.4h0M80.8 533.7h0M67.9 529.8h0M63.1 513.8h0M72.2 538.6h0M84.4 524.2h0M55.6 509.1h0M62.9 516.5h0M79.9 526.7h0M76.2 528.4h0M67.0 525.4h0M52.4 518.8h0M62.8 505.5h0M77.2 524.2h0M75.3 518.8h0M78.0 530.2h0M79.3 534.5h0M78.0 515.9h0M61.2 523.4h0M64.7 518.5h0M65.6 513.5h0M62.0 520.4h0M67.2 520.4h0M69.5 512.7h0M52.4 523.6h0M55.1 526.0h0M73.9 511.9h0M63.2 516.7h0M52.7 520.6h0M72.4 530.0h0M79.4 505.9h0M78.6 521.8h0M68.5 509.2h0M57.0 507.3h0M75.0 502.6h0M62.0 530.1h0M76.2 523.7h0M71.6 519.0h0M63.5 510.7h0M81.0 508.1h0M70.2 535.7h0M61.0 510.0h0M74.2 518.7h0M63.9 514.6h0M62.4 523.8h0M70.7 539.1h0M78.0 522.6h0M71.8 522.7h0M78.6 530.9h0M81.6 512.2h0M62.8 525.5h0M83.5 512.9h0M84.0 523.4h0M63.8 503.3h0M84.2 524.9h0M61.0 529.2h0M65.2 536.5h0M57.3 526.1h0M70.2 509.1h0M57.7 507.8h0M69.3 521.3h0M76.2 529.4h0M71.4 513.0h0M82.7 521.5h0M75.2 523.5h0M70.0 525.6h0M60.4 521.7h0M63.8 529.9h0M77.6 507.7h0M69.9 512.6h0M61.0 509.7h0M83.5 518.9h0M56.0 526.1h0M72.5 528.3h0M63.4 525.8h0M75.5 520.9h0M78.3 509.3h0M72.3 523.9h0M55.2 510.1h0M81.4 513.5h0M54.4 514.8h0M78.2 523.9h0M84.7 521.9h0M70.6 510.0h0M70.0 521.2h0M77.4 527.3h0M56.7 530.3h0M82.0 526.2h0M56.4 524.6h0M68.1 538.9h0M67.1 514.6h0M71.9 514.1h0M66.6 507.6h0M57.8 527.5h0M56.9 507.8h0M52.7 528.9h0M63.8 505.4h0M68.4 508.1h0M77.9 515.4h0M72.0 513.4h0M83.5 520.0h0M55.8 523.0h0M74.2 524.7h0M83.0 519.4h0M55.6 526.7h0M59.4 525.4h0M65.5 533.1h0M74.9 506.5h0M64.6 533.4h0M58.6 506.6h0M64.2 521.4h0M70.5 511.1h0M74.3 533.5h0M71.4 504.4h0M51.6 517.6h0M64.6 507.8h0M68.5 506.4h0M55.5 514.1h0M66.2 520.6h0M81.0 511.4h0M66.1 505.5h0M80.2 520.0h0M57.9 532.7h0M72.2 513.8h0M63.5 513.2h0M66.8 524.8h0M76.9 506.2h0M80.5 515.6h0M78.3 524.2h0M78.3 504.4h0M56.8 507.7h0M69.9 517.6h0M56.6 519.7h0M76.1 535.2h0M65.5 533.2h0M74.1 509.6h0M68.7 532.5h0M55.6 509.3h0M65.9 506.7h0M65.9 525.1h0M60.5 505.3h0M53.0 529.2h0M64.9 520.3h0M62.9 535.0h0M75.8 511.0h0M62.8 531.5h0M53.9 509.1h0M65.1 507.8h0M69.5 519.7h0M58.7 535.2h0M81.0 534.3h0M53.4 514.9h0M73.9 514.6h0M81.8 513.7h0M67.4 523.7h0M84.4 522.4h0" stroke="#1f78b4" stroke-width="0.62" stroke-linecap="round" fill="none" stroke-opacity="0.9"/>
<path d="M167.9 444.0h0M187.3 451.0h0M179.0 443.4h0M178.5 464.0h0M173.9 450.3h0M151.3 452.3h0M184.2 442.8h0M191.1 450.6h0M167.1 441.6h0M159.2 456.7h0M182.7 447.7h0M157.4 457.4h0M180.5 442.2h0M189.3 442.0h0M165.4 457.7h0M173.7 459.2h0M179.5 442.4h0M174.6 450.0h0M177.0 447.2h0M181.6 468.7h0M155.0 452.9h0M178.7 471.3h0M180.5 464.9h0M184.0 459.6h0M178.5 464.5h0M170.6 461.6h0M177.4 468.5h0M182.0 466.4h0M182.9 458.2h0M172.9 458.5h0M177.0 451.7h0M172.3 461.1h0M178.0 445.1h0M175.7 444.7h0M189.4 448.8h0M179.5 444.5h0M174.2 456.7h0M185.2 441.5h0M186.2 456.5h0M169.6 450.7h0M154.7 456.0h0M164.7 444.7h0M173.8 448.2h0M187.3 451.7h0M150.9 452.5h0M180.1 465.2h0M169.0 459.3h0M175.4 453.5h0M165.7 443.2h0M182.0 465.1h0M185.4 458.5h0M170.0 444.1h0M168.6 456.3h0M163.5 445.3h0M175.2 446.4h0M181.4 442.6h0M172.7 458.3h0M170.8 451.7h0M180.5 455.2h0M179.4 470.3h0M175.6 455.0h0M185.8 449.8h0M163.0 458.0h0M182.7 463.0h0M179.2 449.8h0M159.6 449.6h0M178.1 449.6h0M171.3 449.8h0M165.3 452.4h0M177.5 468.8h0M178.1 463.4h0M184.3 454.4h0M174.1 443.7h0M182.1 455.6h0M190.0 453.7h0M177.8 459.0h0M188.7 443.2h0M180.3 473.0h0M187.7 442.4h0M169.4 447.3h0M168.5 457.6h0M168.4 458.5h0M173.6 458.8h0M156.6 449.1h0M174.5 460.9h0M180.3 448.6h0M166.2 448.5h0M157.8 447.2h0M172.0 448.9h0M167.8 456.1h0M176.7 463.7h0M169.9 455.7h0M168.0 442.5h0M164.8 449.9h0M182.5 471.8h0M180.8 444.3h0M161.7 449.5h0M162.7 448.3h0M186.5 448.5h0M170.0 444.3h0M166.0 453.1h0M170.6 452.7h0M175.7 450.1h0M178.8 459.7h0M171.8 454.0h0M164.1 450.1h0M176.2 444.1h0M192.4 451.4h0M157.7 454.8h0M182.4 462.7h0M181.0 461.6h0M189.5 451.4h0M161.8 445.6h0M163.1 447.8h0M177.4 451.6h0M163.8 461.2h0M168.8 452.5h0M177.5 460.9h0M182.8 466.3h0M186.9 456.4h0M185.7 455.2h0M175.4 457.2h0M183.1 454.8h0M174.7 447.1h0M159.5 457.7h0M173.5 449.5h0M177.3 443.0h0M187.2 446.2h0M163.8 441.7h0M152.5 455.0h0M156.8 454.4h0M171.7 444.3h0M160.2 450.7h0M162.2 456.8h0M184.6 447.7h0M166.9 447.1h0M154.0 446.5h0M168.1 455.7h0M166.2 445.5h0M171.0 442.6h0M176.7 455.5h0M176.6 463.0h0M176.7 451.1h0M173.1 456.2h0M177.5 453.8h0M172.5 450.2h0M174.0 459.9h0M152.1 450.6h0M167.2 444.7h0M183.5 455.9h0M173.6 452.4h0M163.1 449.8h0M179.2 464.1h0M174.8 452.2h0M171.7 453.6h0M165.7 447.1h0M178.3 450.0h0M188.4 443.2h0M154.0 448.3h0M173.5 460.2h0M170.3 449.2h0M176.4 448.8h0M175.7 458.9h0M192.2 442.9h0M183.5 471.6h0M160.3 450.6h0M171.3 442.6h0M154.7 456.8h0M185.2 464.5h0M170.3 443.9h0M190.1 453.4h0M154.9 457.3h0M175.1 448.7h0M156.1 449.0h0M180.3 465.0h0M178.8 463.0h0M165.4 458.3h0M168.7 439.9h0M184.4 446.8h0M178.5 462.7h0M174.9 460.3h0M179.6 449.0h0M162.4 451.8h0M183.1 458.1h0M173.7 462.1h0M177.7 451.4h0M167.8 452.3h0M156.0 451.3h0M181.9 455.3h0M186.3 459.2h0M178.6 457.4h0M183.6 450.8h0M171.7 446.2h0M174.8 456.0h0M173.5 449.2h0M185.4 459.5h0M165.5 452.5h0M173.6 460.2h0M160.4 456.0h0M185.4 458.5h0M175.6 446.1h0M172.7 458.6h0M173.6 453.4h0M160.7 446.8h0M154.0 451.3h0M168.1 458.8h0M185.5 450.1h0M163.6 453.9h0M178.3 449.8h0M182.0 449.1h0M184.0 445.8h0M180.4 452.0h0M185.9 456.9h0M157.3 453.7h0M184.3 454.8h0M191.8 447.7h0M180.1 452.4h0M158.8 456.2h0M165.1 460.6h0M179.2 473.8h0M160.2 453.6h0M162.8 454.3h0M154.9 450.6h0M179.0 453.3h0M183.9 460.0h0M163.6 451.4h0M180.6 452.3h0M165.8 444.4h0M176.3 443.0h0M183.9 452.7h0M160.0 443.8h0M181.1 452.2h0M162.3 447.7h0M165.1 440.1h0M157.5 457.2h0M169.3 448.9h0M175.2 443.5h0M177.5 454.1h0M165.5 451.4h0M182.1 455.7h0M186.1 444.6h0M181.5 466.2h0M155.9 447.4h0M154.4 450.8h0M177.9 468.1h0M171.0 459.7h0M153.9 453.2h0M178.9 461.8h0M158.0 447.2h0M154.8 457.9h0M187.3 451.4h0M176.8 468.2h0M181.4 459.4h0M165.9 450.1h0M152.8 452.3h0M162.9 441.4h0M166.8 455.0h0M171.9 456.1h0M180.1 472.2h0M165.4 451.6h0M153.0 446.9h0M184.2 457.8h0M176.5 452.3h0M164.0 453.4h0M178.2 458.7h0M163.3 451.8h0M157.5 458.3h0M190.9 442.7h0M161.4 447.9h0M183.7 446.0h0M173.7 444.0h0M159.6 452.6h0M167.2 450.9h0M173.7 450.0h0M170.7 445.1h0M155.5 448.5h0M164.1 453.0h0M169.4 460.7h0M171.5 455.3h0M172.8 458.4h0M179.0 442.0h0M168.7 461.3h0M158.6 457.6h0M184.2 445.9h0M171.6 449.3h0M154.3 448.7h0M162.8 444.6h0M165.6 458.8h0M168.9 460.1h0M168.1 443.5h0M180.2 444.9h0M180.9 461.0h0M158.4 449.8h0M187.1 450.5h0M164.3 456.5h0M167.8 443.2h0M182.5 469.8h0M185.6 446.3h0M180.0 443.7h0M185.3 462.1h0M174.0 454.8h0M171.9 448.7h0M168.9 450.6h0M181.3 472.9h0M180.8 445.4h0M173.7 451.8h0M182.4 444.5h0M179.1 456.0h0M180.5 468.7h0M184.9 464.7h0M182.6 464.9h0M169.9 440.0h0M177.6 453.2h0M157.4 458.3h0M165.6 451.0h0M180.2 443.4h0M170.2 459.3h0M165.2 456.9h0M182.8 465.0h0M163.5 459.6h0M174.1 447.2h0M170.8 453.8h0M170.5 454.4h0M185.6 450.5h0M166.6 457.9h0M179.0 462.1h0M167.4 451.8h0M171.7 457.7h0M164.0 445.2h0M181.5 453.0h0M156.6 448.2h0M177.7 445.7h0M161.6 444.7h0M164.1 460.4h0M178.1 449.7h0M178.0 447.7h0M184.1 466.6h0M168.6 454.9h0M165.2 457.8h0M185.3 451.2h0M161.3 458.8h0M152.8 453.0h0M174.5 444.9h0M170.6 460.7h0M161.5 444.0h0M174.4 461.5h0M183.0 450.6h0M178.2 462.2h0M157.0 456.9h0M160.5 459.0h0M161.1 445.3h0M188.0 450.3h0M168.3 460.0h0M174.4 454.0h0M173.6 456.4h0M167.3 444.0h0M189.5 450.3h0M161.9 450.6h0M182.3 443.2h0M165.6 455.0h0M178.4 473.5h0M177.8 450.7h0M159.2 453.1h0M172.8 460.8h0M177.9 454.9h0M185.3 454.5h0M160.0 458.3h0M184.3 449.2h0M184.5 452.3h0M173.5 454.1h0M150.1 451.6h0M186.4 444.9h0M163.7 458.4h0M166.3 448.6h0M174.6 454.2h0M156.9 449.8h0M159.7 450.3h0M154.8 449.0h0M155.1 456.0h0M174.6 462.1h0M172.0 444.4h0M193.0 443.1h0M154.7 449.6h0M165.0 447.9h0M155.7 450.4h0M170.7 450.0h0M180.3 474.0h0M166.6 445.8h0M179.8 450.6h0M185.3 453.1h0M155.1 455.9h0M173.7 450.3h0M179.1 452.2h0M159.6 456.4h0M183.7 455.3h0M177.0 463.8h0M181.4 462.4h0M175.5 455.3h0M160.3 446.7h0M173.9 462.5h0M178.0 466.3h0M184.6 451.1h0M158.4 455.5h0M159.3 458.3h0M180.7 445.2h0M166.3 445.6h0M176.4 450.8h0M164.7 443.1h0M189.7 455.7h0M179.4 463.6h0M180.8 466.7h0M180.5 447.2h0M187.1 461.8h0M179.7 459.4h0M182.0 450.6h0M177.5 465.4h0M161.4 447.9h0M185.2 451.8h0M182.1 455.9h0M181.3 475.2h0M163.0 449.6h0M173.0 459.6h0M160.5 460.4h0M163.0 451.7h0M186.4 447.8h0M174.2 459.6h0M161.2 457.3h0M164.8 450.1h0M162.4 453.6h0M158.1 445.8h0M157.6 445.9h0M154.4 449.5h0M158.4 447.2h0M170.7 457.7h0M182.5 462.5h0M154.9 452.0h0M183.5 443.8h0M151.7 449.8h0M171.3 453.5h0M177.9 458.2h0M175.6 442.1h0M187.0 456.9h0M190.3 450.4h0M166.3 445.2h0M176.7 471.9h0M173.8 441.6h0M159.3 445.9h0M167.0 442.6h0M183.3 463.8h0M187.8 458.6h0M186.1 450.1h0M184.1 453.6h0M166.0 444.4h0M179.2 458.6h0M172.6 457.6h0M160.1 446.1h0M180.2 461.1h0M172.4 447.4h0M180.8 469.5h0M185.1 466.7h0M172.4 460.1h0M187.1 451.5h0M175.1 442.4h0M176.3 447.0h0M186.5 447.2h0M182.7 459.0h0M182.5 470.4h0M156.5 450.4h0M170.1 454.0h0M159.2 457.9h0M181.0 454.1h0M177.9 460.3h0M170.2 454.3h0M179.3 462.8h0M170.7 458.1h0M153.1 451.9h0M188.0 446.5h0M170.1 455.5h0M170.2 443.0h0M166.4 457.8h0M168.8 461.0h0M162.4 453.1h0M152.8 445.8h0M168.4 463.4h0M183.8 456.0h0M166.3 450.6h0M183.6 469.4h0M180.1 451.8h0M169.7 455.7h0M182.0 462.2h0M191.4 448.1h0M178.1 461.2h0M178.4 446.6h0M182.1 469.4h0M173.3 443.4h0M161.0 455.7h0M181.8 471.1h0M176.1 449.1h0M178.9 455.4h0M185.2 450.6h0M168.4 460.1h0M155.7 454.5h0M185.9 462.2h0M178.6 471.8h0M180.9 452.6h0M176.5 450.6h0M154.6 452.0h0M188.0 445.2h0M153.7 451.4h0M167.8 456.4h0M165.6 449.5h0M165.2 453.6h0M157.5 453.8h0M178.3 452.9h0M176.6 448.9h0M185.9 446.9h0M193.2 444.4h0M181.6 445.2h0M175.5 458.3h0M168.9 445.5h0M180.7 459.1h0M159.4 444.3h0M187.4 443.4h0M183.7 455.5h0M177.5 471.9h0M182.9 459.1h0M175.5 443.4h0M161.5 458.7h0M186.8 446.1h0M185.8 444.7h0M151.4 450.6h0M175.6 453.6h0M187.9 451.5h0M167.3 456.9h0M159.9 447.9h0M170.2 444.1h0M162.3 455.4h0M171.8 446.6h0M185.2 457.7h0M189.2 444.7h0M174.3 459.7h0M177.9 462.1h0M178.7 446.7h0M176.4 458.7h0M182.3 446.9h0M158.2 456.8h0M190.7 449.7h0M181.3 464.1h0M163.8 449.0h0M177.1 444.4h0M171.9 459.3h0M180.7 446.4h0M164.6 451.2h0M164.3 445.5h0M169.1 457.8h0M162.4 452.3h0M189.8 442.8h0M189.1 451.4h0M156.1 451.1h0M178.7 462.0h0M180.2 452.4h0M177.9 466.6h0M160.8 459.3h0M148.4 449.7h0M183.5 457.4h0M158.4 448.7h0M181.2 454.1h0M158.2 446.7h0M177.7 458.4h0M188.4 447.0h0M155.5 444.7h0M175.4 457.3h0M156.3 453.9h0M176.0 463.4h0M156.8 452.6h0M178.1 447.9h0M170.5 454.1h0M153.3 454.4h0M187.4 456.4h0M175.9 462.8h0M186.4 448.9h0M153.7 457.0h0M163.4 448.5h0M180.8 468.8h0M151.6 452.1h0M178.4 457.9h0M174.6 448.9h0M182.6 465.9h0M181.8 456.2h0M158.6 454.0h0M179.3 444.2h0M179.3 456.3h0M157.6 448.3h0M152.4 454.1h0M186.3 454.5h0M171.1 453.1h0M181.9 455.7h0M186.2 455.6h0M172.1 439.5h0M173.3 461.8h0M168.2 450.7h0M162.1 457.2h0M160.0 459.9h0M189.5 447.8h0M186.7 452.3h0M187.3 459.1h0M182.8 461.6h0M163.7 444.6h0M187.4 453.8h0M152.4 452.0h0M177.2 459.6h0M165.4 452.8h0M182.2 462.9h0M175.0 446.6h0M184.3 448.1h0M181.0 447.7h0M182.4 463.1h0M160.0 452.0h0M182.7 451.4h0M179.2 469.3h0M170.7 449.3h0M172.4 450.3h0M166.5 458.2h0M185.2 445.0h0M187.8 456.5h0M172.5 447.8h0M169.4 445.7h0M155.6 459.8h0M181.1 449.5h0M187.4 441.8h0M177.1 446.0h0M171.8 456.9h0M186.7 447.1h0M166.1 442.9h0M175.0 464.6h0M176.3 443.9h0M182.6 450.8h0M161.4 452.0h0" stroke="#b2df8a" stroke-width="0.62" stroke-linecap="round" fill="none" stroke-opacity="0.9"/>
<path d="M80.0 530.1h0M155.0 452.4h0M119.6 473.6h0M114.0 465.0h0M105.5 450.6h0M152.5 441.8h0M123.6 450.0h0M119.8 466.1h0M130.5 448.7h0M131.8 455.1h0M133.9 450.7h0M134.5 458.5h0M121.2 485.4h0M127.4 451.9h0M124.2 476.7h0M140.6 455.7h0M142.4 465.7h0M133.5 453.5h0M128.9 456.9h0M127.6 468.7h0M121.7 486.5h0M121.1 449.8h0M149.8 454.0h0M133.2 448.5h0M101.4 470.8h0M106.4 467.4h0M114.4 450.6h0M114.2 469.4h0M145.8 454.0h0M138.6 464.3h0M122.9 481.1h0M138.3 467.9h0M125.0 468.9h0M132.7 444.0h0M82.8 527.8h0M135.7 458.7h0M105.0 465.2h0M141.3 453.6h0M130.8 445.8h0M129.3 474.5h0M154.8 454.3h0M100.5 470.8h0M133.5 455.4h0M128.3 450.4h0M119.8 469.7h0M144.1 444.6h0M118.5 479.6h0M128.4 454.7h0M140.8 447.0h0M134.9 442.6h0M143.7 449.5h0M152.6 455.8h0M112.1 478.4h0M129.7 447.2h0M119.4 449.0h0M140.5 449.2h0M143.4 448.2h0M111.8 455.3h0M130.4 467.5h0M129.7 457.2h0M137.9 450.0h0M114.0 469.6h0M102.4 463.7h0M117.6 456.8h0M135.4 453.6h0M125.4 448.3h0M125.3 454.4h0M140.1 444.2h0M126.3 451.0h0M101.4 455.8h0M131.4 449.8h0M120.3 446.8h0M116.8 451.8h0M79.5 527.4h0M112.5 448.7h0M132.7 453.1h0M113.2 454.6h0M129.4 463.7h0M127.5 464.7h0M123.5 452.6h0M121.9 469.1h0M116.0 453.8h0M121.7 461.3h0M144.5 452.6h0M117.7 461.3h0M123.2 458.5h0M140.9 454.4h0M144.7 453.8h0M145.5 457.4h0M159.8 452.5h0M116.7 474.5h0M125.9 472.6h0M137.3 457.0h0M118.5 476.3h0M131.6 454.6h0M134.3 446.2h0M101.4 458.9h0M142.7 442.5h0M145.1 457.6h0M127.6 454.8h0M80.3 523.1h0M138.7 460.7h0M137.7 461.5h0M136.6 452.4h0M131.4 446.4h0M133.7 457.7h0M110.8 481.0h0M141.1 449.8h0M118.3 464.0h0M144.6 458.3h0M126.1 450.3h0M122.2 459.3h0M113.1 450.4h0M115.9 452.5h0M151.1 461.2h0M115.1 481.2h0M135.2 456.8h0M115.7 465.2h0M102.2 450.4h0M141.4 453.3h0M130.5 457.3h0M134.0 454.0h0M137.4 445.1h0M133.1 449.0h0M118.6 457.4h0M103.1 477.9h0M157.3 454.4h0M137.5 460.9h0M113.9 464.8h0M124.0 454.0h0M80.7 527.4h0M152.7 455.7h0M124.3 466.3h0M135.8 442.9h0M146.0 444.7h0M114.5 471.5h0M81.3 525.1h0M125.2 443.9h0M149.0 469.1h0M120.2 453.8h0M80.4 532.8h0M136.7 440.9h0M123.7 472.4h0M129.7 439.6h0M142.5 464.4h0M104.7 463.1h0M119.8 463.4h0M108.7 471.3h0M125.9 449.1h0M80.8 525.7h0M149.7 444.5h0M140.5 457.6h0M131.8 460.2h0M133.3 445.3h0M123.7 448.8h0M109.1 463.5h0M112.9 458.6h0M128.2 453.4h0M81.0 529.0h0M140.1 456.7h0M137.7 460.1h0M139.9 453.1h0M135.4 444.7h0M111.7 447.8h0M128.6 453.3h0M128.1 478.9h0M118.5 471.1h0M116.5 451.8h0M134.4 453.3h0M134.2 454.8h0M113.1 457.8h0M134.6 454.3h0M110.5 453.0h0M123.1 465.9h0M125.2 460.9h0M113.4 449.6h0M138.1 445.8h0M142.8 452.2h0M125.8 455.6h0M103.0 477.4h0M136.9 445.3h0M135.6 459.3h0M117.7 463.0h0M124.6 464.7h0M122.3 449.3h0M80.4 530.1h0M104.1 472.2h0M119.5 448.2h0M79.5 529.5h0M152.9 462.4h0M78.7 526.5h0M122.0 446.8h0M134.0 442.5h0M139.8 446.1h0M133.5 446.5h0M121.4 451.3h0M80.4 533.0h0M114.1 455.2h0M115.6 462.3h0M134.3 445.5h0M113.0 477.6h0M80.5 533.7h0M116.7 448.5h0M148.8 447.2h0M132.8 453.4h0M136.5 447.8h0M109.2 471.5h0M79.6 522.3h0M137.3 466.1h0M79.5 522.5h0M131.0 455.6h0M118.7 458.6h0M126.9 460.8h0M149.0 458.0h0M134.6 441.3h0M139.1 456.1h0M151.6 464.4h0M107.8 455.6h0M112.3 456.8h0M131.4 455.0h0M147.4 447.6h0M134.6 456.9h0M121.2 459.4h0M157.1 456.0h0M156.6 444.8h0M127.5 453.1h0M108.4 473.9h0M121.1 451.1h0M145.3 451.2h0M119.2 449.9h0M104.3 461.1h0M104.3 469.2h0M116.0 455.8h0M79.6 529.1h0M111.6 460.0h0M132.2 445.6h0M115.2 470.9h0M124.2 454.1h0M114.9 452.6h0M138.0 442.4h0M140.6 443.8h0M152.9 455.3h0M111.2 458.6h0M120.8 466.4h0M137.9 457.3h0M156.4 449.0h0M121.8 450.1h0M123.2 456.8h0M126.2 453.3h0M122.3 445.7h0M81.8 533.5h0M142.4 450.2h0M145.9 455.5h0M126.2 461.1h0M125.8 454.5h0M123.3 457.9h0M125.2 463.7h0M128.6 450.1h0M138.8 455.4h0M127.9 458.6h0M116.8 454.1h0M108.3 456.2h0M81.4 526.4h0M142.6 453.6h0M148.8 461.3h0M134.0 460.0h0M135.6 448.9h0M151.4 451.4h0M109.3 451.8h0M132.3 444.9h0M116.4 478.8h0M151.7 461.5h0M125.7 460.1h0M140.9 456.0h0M120.8 448.6h0M127.3 454.0h0M114.9 452.6h0M110.8 452.9h0M144.8 457.5h0M126.4 450.4h0M120.6 456.9h0M133.5 458.3h0M119.6 448.8h0M125.5 463.1h0M103.4 474.1h0M123.8 462.2h0M121.6 484.6h0M133.8 443.7h0M80.8 523.6h0M110.7 448.0h0M110.8 459.1h0M135.5 440.6h0M120.3 465.2h0M137.7 453.2h0M120.6 452.2h0M136.0 458.8h0M124.6 459.0h0M135.6 452.0h0M119.9 477.0h0M111.6 447.9h0M130.5 464.8h0M158.9 461.4h0M108.6 470.8h0M142.2 451.1h0M153.8 453.4h0M117.6 455.7h0M148.4 466.0h0M103.4 462.1h0M117.4 460.1h0M111.6 461.8h0M138.2 449.8h0M136.8 440.2h0M106.9 445.8h0M79.6 520.8h0M123.3 455.1h0M118.9 460.2h0M131.4 451.6h0M126.3 442.8h0M136.6 464.6h0M136.1 461.6h0M78.5 519.2h0M129.3 446.3h0M124.8 469.8h0M139.4 464.4h0M134.9 456.5h0M131.3 451.2h0M117.8 482.8h0M119.1 484.1h0M110.3 451.9h0M133.9 463.0h0M131.5 448.0h0M117.6 473.0h0M120.2 461.4h0M115.1 468.6h0M112.7 455.7h0M137.3 443.3h0M145.1 455.8h0M104.9 466.7h0M122.1 447.5h0M138.9 448.9h0M131.2 451.2h0M106.8 444.0h0M117.0 463.7h0M133.6 457.6h0M147.3 445.2h0M109.4 449.3h0M132.4 440.1h0M109.8 476.9h0M124.0 460.9h0M143.7 449.3h0M125.6 449.9h0M133.6 454.2h0M124.5 453.1h0M113.3 486.0h0M124.7 473.4h0M137.0 458.0h0M143.2 454.7h0M141.3 447.2h0M113.0 450.6h0M134.6 468.9h0M124.8 455.6h0M118.9 460.7h0M137.8 441.8h0M151.9 455.1h0M119.6 464.1h0M125.4 478.1h0M143.6 448.9h0M122.2 452.5h0M140.7 454.4h0M129.9 447.9h0M121.2 455.9h0M102.5 452.9h0M128.7 464.5h0M146.7 458.8h0M149.1 452.7h0M112.3 484.4h0M137.2 450.7h0M142.8 444.4h0M130.1 451.5h0M104.6 465.3h0M110.8 468.1h0M142.8 452.7h0M109.9 456.1h0M133.3 457.6h0M81.2 529.0h0M129.8 458.6h0M108.0 477.3h0M130.5 458.5h0M109.9 446.1h0M115.3 485.1h0M144.4 454.5h0M115.5 463.7h0M122.2 462.0h0M115.3 458.7h0M112.5 462.6h0M124.7 455.4h0M149.3 445.6h0M143.9 461.7h0M147.7 445.6h0M111.2 447.9h0M132.6 456.3h0M154.2 443.9h0M130.5 462.8h0M132.1 454.5h0M131.7 459.8h0M114.6 471.5h0M132.3 447.2h0M125.3 467.5h0M110.8 464.7h0M138.3 468.7h0M135.1 445.8h0M111.4 458.9h0M142.8 449.7h0M154.7 460.0h0M131.6 445.1h0M133.4 460.2h0M112.5 464.2h0M128.6 459.8h0M123.3 461.3h0M130.6 447.5h0M143.8 447.4h0M128.5 445.7h0M162.4 456.8h0M120.7 462.3h0M122.9 457.8h0M135.6 463.4h0M114.7 457.3h0M113.6 451.9h0M112.6 451.4h0M114.1 457.1h0M137.2 455.7h0M145.4 454.7h0M161.3 459.7h0M132.4 466.6h0M109.1 455.5h0M127.5 458.7h0M114.5 448.4h0M114.6 484.3h0M79.1 529.6h0M111.1 458.3h0M124.0 450.2h0M138.5 452.3h0M114.5 475.2h0M132.5 447.1h0M81.5 522.1h0M118.3 487.9h0M102.5 471.3h0M118.2 452.9h0M128.1 468.4h0M114.4 452.5h0M128.5 460.2h0M143.6 447.3h0M120.2 451.5h0M119.8 450.0h0M119.1 448.9h0M107.7 454.8h0M107.0 468.0h0M145.5 455.5h0M126.7 461.5h0M79.6 525.2h0M136.5 456.7h0M109.1 461.1h0M139.8 455.1h0M117.8 466.5h0M126.5 463.8h0M111.8 484.7h0M143.1 451.8h0M127.9 457.8h0M115.9 442.6h0M101.7 457.7h0M119.8 444.4h0M78.7 534.9h0M111.4 460.4h0M122.0 454.3h0M117.2 449.4h0M117.5 459.1h0M117.7 454.1h0M114.9 448.3h0M155.9 445.4h0M140.2 444.6h0M139.2 454.9h0M146.2 442.2h0M113.9 475.9h0M137.9 453.0h0M136.6 452.9h0M130.8 443.0h0M137.4 452.8h0M116.0 452.1h0M118.9 460.9h0M118.4 448.6h0M145.0 461.3h0M135.4 458.5h0M141.7 458.6h0M127.1 461.4h0M124.0 460.7h0M129.5 480.1h0M121.4 464.4h0M107.0 457.6h0M138.5 446.7h0M118.1 450.8h0M116.2 450.2h0M120.9 442.7h0M106.8 466.8h0M134.3 451.2h0M131.5 452.1h0M141.5 454.0h0M134.2 442.6h0M128.4 455.5h0M123.8 449.8h0M103.8 449.0h0M143.5 447.1h0M104.3 477.2h0M132.5 449.2h0M113.7 457.7h0M136.3 448.7h0M150.2 456.4h0M129.1 452.4h0M150.1 451.2h0M129.9 452.0h0M106.1 470.6h0M117.4 472.3h0M148.4 454.8h0M139.3 459.1h0M147.1 448.1h0M119.6 462.5h0M139.4 455.3h0M145.3 447.2h0M143.4 454.6h0M130.8 452.8h0M133.4 456.0h0M121.1 456.6h0M133.4 453.5h0M137.6 448.3h0M129.1 451.1h0M156.9 459.5h0M118.3 455.3h0M146.5 449.5h0M154.6 452.7h0M82.7 529.8h0M126.1 457.0h0M139.0 461.7h0M141.4 457.7h0M107.0 453.4h0M144.0 459.9h0M111.3 462.5h0M110.7 485.2h0M136.1 457.3h0M124.4 471.0h0M120.4 469.4h0M139.4 459.6h0M142.5 454.1h0M137.7 447.8h0M119.7 446.0h0M156.5 460.9h0M132.8 440.2h0M120.4 454.2h0M117.9 476.4h0M128.6 460.9h0M102.6 446.4h0M105.3 455.7h0M145.3 445.2h0M118.5 451.1h0M149.2 440.6h0M109.1 456.1h0M121.0 445.6h0M140.2 452.0h0M124.7 460.9h0M107.7 474.9h0M129.6 453.2h0M118.7 462.7h0M113.7 457.2h0M109.9 458.9h0M143.2 447.9h0M153.9 451.7h0M137.4 462.6h0M112.7 461.1h0M103.2 465.0h0M80.1 526.2h0M122.7 453.0h0M139.3 441.7h0M137.2 444.3h0M112.3 453.2h0M122.2 454.9h0M103.9 475.0h0M110.2 463.3h0M136.0 461.1h0M138.6 446.8h0M122.9 454.4h0M131.2 457.1h0M126.3 463.4h0M100.3 452.1h0M146.0 451.9h0M106.2 466.1h0M121.4 455.0h0M129.6 447.0h0M128.2 459.9h0M145.2 451.2h0M133.7 455.7h0M136.3 440.7h0M135.9 466.2h0M136.5 441.9h0M125.7 453.8h0M109.5 458.5h0M80.1 529.8h0M79.6 518.0h0M112.2 453.0h0M128.4 453.0h0M106.4 461.2h0M134.3 453.1h0M121.4 459.6h0M135.4 453.9h0M143.0 457.1h0M134.4 443.2h0M120.8 459.8h0M144.3 446.6h0M154.7 448.0h0M138.1 462.2h0M147.3 442.9h0M112.0 463.5h0M115.4 467.5h0M120.2 466.7h0M126.7 451.4h0M142.2 438.5h0M120.3 465.8h0M106.9 471.0h0M123.5 449.2h0M128.9 478.3h0M120.5 477.9h0M77.2 525.3h0M143.2 451.2h0M139.8 461.0h0M142.8 456.7h0M107.1 486.2h0M108.6 464.8h0M111.5 457.5h0M115.9 449.1h0M116.7 456.3h0M140.2 454.5h0M133.6 458.4h0M131.7 478.3h0M145.8 455.1h0M133.2 460.5h0M136.8 461.1h0M125.5 445.4h0M121.6 478.0h0M132.3 466.1h0M145.2 461.2h0M117.7 463.1h0M141.5 456.2h0M116.9 457.1h0M117.5 459.7h0M126.2 449.5h0M135.1 461.4h0M121.4 462.1h0M126.3 454.0h0M148.3 456.4h0M126.4 475.2h0M126.3 450.0h0M123.9 469.8h0" stroke="#33a02c" stroke-width="0.62" stroke-linecap="round" fill="none" stroke-opacity="0.9"/>
<path d="M108.8 428.3h0M113.1 441.6h0M125.4 425.7h0M121.7 434.0h0M100.8 438.4h0M109.6 432.1h0M107.0 442.3h0M134.0 432.5h0M113.6 440.9h0M95.9 437.2h0M136.0 433.9h0M123.1 427.9h0M109.5 438.7h0M110.6 431.0h0M134.3 428.4h0M114.1 429.3h0M138.3 437.7h0M113.2 435.6h0M130.4 428.6h0M128.0 424.8h0M112.5 427.1h0M131.1 426.7h0M118.7 423.0h0M95.5 429.7h0M122.4 438.8h0M134.8 429.1h0M112.7 433.5h0M119.5 439.7h0M103.5 435.7h0M116.0 423.7h0M105.6 434.0h0M114.8 422.8h0M137.1 425.0h0M138.7 434.8h0M105.2 429.0h0M106.0 438.4h0M104.1 430.9h0M108.8 443.2h0M105.3 423.4h0M129.3 429.1h0M127.3 437.4h0M116.7 429.1h0M99.5 427.8h0M110.3 429.2h0M127.0 427.3h0M116.4 434.7h0M100.5 429.9h0M116.1 434.6h0M99.0 429.3h0M105.5 425.0h0M125.6 420.0h0M124.1 440.3h0M137.2 422.7h0M99.2 439.3h0M119.9 440.1h0M125.9 435.2h0M121.8 431.6h0M104.3 433.0h0M131.0 436.3h0M136.8 432.9h0M109.8 428.2h0M96.3 443.0h0M126.4 428.0h0M110.9 431.8h0M114.9 424.7h0M118.3 427.0h0M133.4 424.3h0M126.6 436.5h0M130.7 430.8h0M126.2 434.6h0M113.7 424.7h0M137.6 429.9h0M97.6 440.5h0M115.7 424.7h0M96.6 430.8h0M103.3 431.9h0M127.2 437.5h0M110.6 437.9h0M106.1 429.0h0M123.7 437.5h0M116.2 440.7h0M110.0 428.7h0M121.6 422.9h0M132.2 426.6h0M94.6 439.6h0M107.2 426.4h0M106.2 424.8h0M113.0 441.2h0M95.8 438.3h0M128.1 434.8h0M139.5 431.3h0M129.7 428.3h0M92.1 439.9h0M125.4 425.3h0M125.6 424.6h0M119.4 435.3h0M105.7 429.8h0M125.8 440.6h0M101.5 427.1h0M115.0 440.7h0M138.4 428.2h0M108.5 435.8h0M118.1 429.4h0M134.5 424.8h0M134.8 425.7h0M116.0 430.2h0M115.5 427.7h0M117.2 438.4h0M135.0 438.0h0M121.2 441.0h0M123.9 432.3h0M102.4 432.5h0M105.4 423.5h0M128.0 439.8h0M119.5 429.2h0M104.9 444.6h0M122.8 439.2h0M128.9 428.5h0M105.1 439.4h0M140.7 427.5h0M127.8 433.5h0M118.0 428.7h0M122.9 420.3h0M91.2 432.4h0M108.0 442.9h0M107.3 425.6h0M125.6 427.3h0M121.0 437.0h0M91.4 436.4h0M109.9 442.0h0M102.8 436.3h0M116.0 422.1h0M139.9 428.4h0M105.4 441.0h0M120.1 423.9h0M102.6 443.6h0M95.9 433.6h0M93.3 436.0h0M115.7 428.8h0M113.4 440.3h0M98.8 424.6h0M123.1 438.8h0M117.0 426.1h0M117.8 427.4h0M111.5 432.0h0M126.5 439.2h0M113.4 434.4h0M131.0 437.0h0M138.0 423.9h0M102.8 438.5h0M116.3 428.8h0M126.3 433.8h0M105.5 436.1h0M136.3 435.3h0M108.1 445.2h0M124.0 437.9h0M100.7 426.1h0M105.1 423.6h0M120.5 434.8h0M116.1 436.3h0M121.3 428.4h0M107.4 425.4h0M122.2 421.7h0M123.0 426.0h0M94.0 438.2h0M107.4 426.7h0M107.9 429.3h0M120.9 440.2h0M93.6 435.8h0M109.0 440.6h0M121.0 434.8h0M113.1 423.4h0M138.9 436.4h0M130.3 425.8h0M117.7 438.1h0M121.7 423.1h0M95.7 432.8h0M122.0 420.4h0M120.3 429.2h0M100.6 435.8h0M102.9 437.5h0M103.4 441.0h0M109.5 431.0h0M115.2 427.3h0M90.8 432.7h0M107.7 431.2h0M131.3 436.0h0M105.2 439.3h0M109.4 428.4h0M119.4 423.2h0M130.5 431.9h0M101.1 444.3h0M118.0 442.0h0M129.0 434.8h0M118.8 424.7h0M91.7 435.8h0M138.9 427.4h0M137.6 437.1h0M103.6 438.6h0M121.9 439.2h0M130.9 436.1h0M112.9 428.9h0M94.3 431.8h0M104.7 440.9h0M138.6 427.4h0M117.0 434.8h0M102.2 439.1h0M120.2 436.0h0M138.6 431.2h0M90.8 434.5h0M108.3 435.8h0M124.3 431.9h0M108.3 432.9h0M108.7 433.8h0M109.9 428.5h0M101.1 433.9h0M119.4 433.3h0M119.9 438.9h0M121.2 433.2h0M116.0 426.2h0M133.9 436.2h0M123.5 441.4h0M121.0 431.6h0M100.5 437.6h0M105.5 431.8h0M125.3 439.0h0M94.8 433.5h0M123.6 436.9h0M91.7 434.8h0M135.5 423.9h0M98.4 437.9h0M137.0 426.2h0M102.0 435.2h0M108.6 435.6h0M102.5 434.6h0M94.3 437.8h0M115.8 424.0h0M103.0 441.9h0M116.3 427.9h0M95.1 439.4h0M130.2 424.8h0M127.9 426.8h0M128.9 441.1h0M129.0 422.1h0M110.7 446.0h0M115.0 427.6h0M109.1 426.4h0M106.8 433.5h0M135.9 424.1h0M112.4 431.5h0M133.8 426.7h0M93.0 439.0h0M121.3 434.2h0M124.2 435.3h0M110.9 431.4h0M94.2 433.0h0M138.8 430.8h0M94.8 439.6h0M123.0 430.9h0M122.4 436.0h0M98.0 442.9h0M119.1 428.2h0M130.8 438.3h0M139.6 432.1h0M115.9 440.2h0M108.5 433.1h0M135.1 440.3h0M104.9 425.8h0M133.2 438.2h0M124.3 437.1h0M106.0 444.3h0M117.7 435.3h0M135.3 424.5h0M104.6 430.9h0M128.3 430.8h0M100.4 432.2h0M132.2 438.3h0M124.8 440.3h0M116.4 426.6h0M124.1 434.0h0M125.2 422.9h0M127.0 437.3h0M117.3 423.3h0M93.0 433.0h0M102.9 437.5h0M127.6 425.1h0M125.5 433.9h0M115.0 440.8h0M127.3 432.5h0M98.8 429.7h0M109.1 431.4h0M92.1 433.5h0M130.0 432.3h0M104.4 439.9h0M99.8 429.0h0M105.4 433.2h0M102.4 433.2h0M131.8 436.9h0M110.1 441.4h0M106.4 424.9h0M114.1 424.2h0M130.3 442.7h0M102.5 429.2h0M107.2 437.2h0M136.5 435.2h0M117.8 442.8h0M105.0 428.3h0M113.9 432.6h0M99.4 441.9h0M103.8 429.9h0M123.5 437.0h0M136.1 425.8h0M117.0 434.2h0M140.4 433.5h0M134.4 431.2h0M139.1 437.7h0M134.4 429.9h0M108.4 433.8h0M126.2 430.2h0M136.7 424.2h0M107.5 433.1h0M136.1 432.2h0M108.0 442.9h0M96.1 436.1h0M119.9 435.3h0M129.6 438.1h0M135.4 433.7h0M97.2 438.3h0M134.6 423.8h0M98.0 431.0h0M137.9 425.8h0M118.2 424.7h0M98.4 437.1h0M96.8 433.0h0M101.3 430.5h0M92.4 430.7h0M106.6 439.1h0M132.0 429.5h0M131.0 432.0h0M114.6 435.9h0M115.9 439.9h0M139.1 437.8h0M122.7 421.8h0M129.4 434.8h0M129.8 431.1h0M111.9 444.3h0M113.2 422.4h0M127.8 428.0h0M99.8 433.9h0M129.3 423.3h0M101.0 431.7h0M131.3 433.8h0M110.2 424.0h0M130.4 439.5h0M129.6 429.9h0M130.4 434.9h0M103.0 430.9h0M113.7 425.9h0M103.6 434.3h0M120.3 430.5h0M107.3 429.3h0M133.1 434.9h0M118.3 433.2h0M130.5 432.7h0M123.6 421.0h0M97.9 436.3h0M113.4 434.2h0M97.4 441.5h0M135.5 432.5h0M104.7 430.6h0M110.1 434.6h0M107.4 437.4h0M120.0 427.4h0M118.4 440.9h0M130.1 422.8h0M109.1 433.1h0M135.3 434.2h0M91.8 440.0h0M112.8 439.6h0M138.5 429.3h0M115.7 441.4h0M103.8 440.1h0M118.2 429.1h0M126.4 435.2h0M110.2 437.5h0M101.3 425.3h0M133.5 422.4h0M135.9 421.6h0M121.9 433.1h0M112.5 440.9h0M97.8 441.5h0M126.4 432.0h0M105.3 441.0h0M109.4 440.2h0M96.4 431.4h0M109.4 427.0h0M112.6 441.1h0M134.2 421.8h0M126.4 437.7h0M113.2 439.1h0M109.1 430.8h0M98.3 434.2h0M105.8 435.2h0M132.2 426.4h0M105.6 440.2h0M116.2 421.8h0M101.4 442.6h0M134.4 426.0h0M119.0 431.4h0M109.3 447.6h0M129.1 430.3h0M113.9 424.9h0M119.1 441.8h0M138.2 426.3h0M119.5 441.7h0M111.4 432.9h0M123.5 428.4h0M130.4 420.3h0M128.0 428.6h0M100.8 442.2h0M113.5 441.4h0M99.3 437.0h0M93.3 441.1h0M94.0 435.3h0M132.4 436.1h0M128.3 428.4h0M100.4 441.9h0M116.8 434.0h0M134.4 435.5h0M113.7 434.7h0M114.3 428.1h0M102.9 430.2h0M100.4 437.0h0M117.2 427.1h0M127.5 432.7h0M112.8 430.2h0M136.4 434.7h0M101.8 436.7h0M134.3 432.3h0M110.4 426.4h0M99.9 431.0h0M123.4 436.6h0M118.9 440.9h0M124.5 423.2h0M103.3 429.7h0M94.9 440.1h0M97.2 432.3h0M123.9 423.5h0M126.4 422.8h0M104.9 443.7h0M108.6 430.7h0M131.3 434.6h0M134.1 438.6h0M108.5 443.5h0M137.5 423.5h0M125.6 435.7h0M104.5 433.3h0M132.4 425.8h0M116.2 425.0h0M136.6 426.9h0M121.6 439.7h0M109.8 442.2h0M115.2 443.9h0M111.6 433.0h0M115.6 443.2h0M133.7 424.4h0M97.0 436.1h0M132.2 432.7h0M110.9 422.9h0M125.3 432.3h0M137.7 436.9h0M121.7 420.3h0M89.1 437.9h0M126.4 429.3h0M98.1 442.3h0M92.9 431.4h0M116.1 436.2h0M131.4 431.1h0M126.7 430.8h0M135.0 435.3h0M126.2 438.7h0M131.7 427.0h0M107.9 443.3h0M114.1 436.3h0M97.1 436.4h0M138.1 433.1h0M104.0 444.6h0M109.2 431.4h0M124.1 433.4h0M120.4 434.4h0M119.2 426.7h0M123.4 425.9h0M108.5 443.1h0M129.0 437.4h0M108.4 425.7h0M95.3 438.8h0M125.9 421.5h0M106.4 430.3h0M112.7 428.7h0M109.8 427.3h0M135.9 435.0h0M118.6 438.6h0M119.1 435.2h0M101.1 435.9h0M123.0 430.3h0M112.6 442.7h0M135.4 430.7h0M126.9 439.7h0M104.8 432.9h0M100.4 430.7h0M99.1 433.2h0M103.2 437.9h0M125.6 431.7h0M131.3 434.5h0M132.2 434.1h0M115.6 432.4h0M118.6 430.4h0M112.6 431.9h0M108.7 424.5h0M111.1 436.4h0M100.9 429.8h0M126.4 441.6h0M114.2 421.6h0M130.4 421.6h0M126.8 435.5h0M115.8 438.0h0M120.0 438.2h0M102.3 427.9h0M129.7 436.3h0M109.8 428.9h0M116.1 434.8h0M95.5 433.3h0M104.4 442.5h0M110.7 436.3h0M114.6 439.6h0M137.0 430.8h0M137.7 428.3h0M126.5 434.2h0M112.3 444.3h0M114.5 444.3h0M117.0 437.4h0M128.5 425.5h0M95.0 433.1h0M130.7 425.9h0M127.0 429.2h0M112.9 424.2h0M122.6 430.5h0M92.5 434.7h0M97.6 434.7h0M116.0 434.1h0M111.0 437.3h0M92.6 442.9h0M124.7 437.4h0M115.2 434.9h0M125.4 427.2h0M118.4 429.8h0M128.9 436.6h0M120.8 422.8h0M105.9 445.2h0M111.0 441.0h0M123.2 440.2h0M119.9 422.9h0M102.1 441.7h0M126.6 426.4h0M103.4 438.6h0M93.6 438.0h0M127.6 427.0h0M131.1 435.3h0M122.4 439.7h0M112.8 426.6h0M116.6 443.4h0M133.5 425.3h0M129.4 438.3h0M123.8 439.7h0M134.0 428.9h0M99.3 431.4h0M114.6 426.6h0M136.5 433.2h0" stroke="#fb9a99" stroke-width="0.62" stroke-linecap="round" fill="none" stroke-opacity="0.9"/>
<path d="M80.3 477.9h0M64.7 503.2h0M61.6 500.5h0M64.9 501.9h0M77.5 490.5h0M68.1 498.7h0M66.6 487.5h0M81.1 497.0h0M63.1 494.5h0M64.4 490.5h0M70.9 498.3h0M64.9 490.9h0M78.6 506.9h0M64.2 498.3h0M66.0 503.5h0M80.1 497.5h0M70.7 490.8h0M65.8 489.2h0M71.6 499.2h0M76.3 507.0h0M80.7 487.0h0M79.6 487.1h0M79.6 483.9h0M65.7 493.9h0M80.2 502.9h0M77.9 484.5h0M68.3 494.1h0M61.2 500.0h0M63.7 490.1h0M73.9 485.6h0M74.4 489.7h0M71.1 473.7h0M72.1 487.9h0M76.0 498.0h0M65.9 501.2h0M81.3 494.5h0M69.2 503.9h0M65.8 504.6h0M72.5 499.1h0M59.8 474.0h0M61.1 501.5h0M76.8 499.2h0M60.3 501.3h0M80.0 508.3h0M83.5 489.8h0M62.6 497.8h0M70.1 500.4h0M72.4 505.8h0M65.0 498.2h0M67.0 498.8h0M84.7 487.6h0M75.9 506.2h0M77.4 481.9h0M74.2 506.0h0M72.3 478.9h0M59.6 495.2h0M69.5 484.1h0M79.9 493.5h0M79.6 487.2h0M64.0 486.0h0M65.7 494.5h0M72.8 505.5h0M74.1 483.3h0M80.3 499.0h0M69.5 502.4h0M70.1 501.5h0M83.1 487.8h0M85.0 501.8h0M69.1 476.9h0M75.6 490.3h0M79.5 484.3h0M59.2 502.4h0M68.7 486.1h0M73.7 506.6h0M78.3 479.2h0M87.3 489.8h0M62.2 501.4h0M70.8 484.4h0M77.7 488.1h0M60.7 497.8h0M66.1 503.5h0M85.2 490.5h0M62.8 505.6h0M84.7 492.0h0M72.0 493.3h0M73.4 494.1h0M76.1 503.7h0M76.5 501.1h0M87.7 490.4h0M77.1 504.9h0M71.1 486.2h0M71.6 486.6h0M72.7 495.6h0M66.5 474.8h0M69.7 498.9h0M77.1 503.5h0M67.7 505.5h0M79.2 479.3h0M66.2 483.0h0M85.4 496.6h0M71.4 504.3h0M81.8 491.6h0M68.9 499.3h0M70.6 495.9h0M76.8 495.7h0M67.5 506.5h0M76.6 502.4h0M76.6 498.4h0M72.7 494.3h0M70.1 474.3h0M75.5 494.6h0M69.2 492.9h0M79.0 497.9h0M74.6 508.9h0M74.2 483.2h0M75.5 486.3h0M87.1 497.5h0M80.3 486.2h0M81.6 488.8h0M72.6 498.9h0M70.3 491.8h0M73.2 478.0h0M85.3 496.4h0M68.9 497.6h0M71.6 504.1h0M62.8 477.7h0M64.3 499.2h0M84.5 496.8h0M63.3 503.8h0M69.3 493.3h0M57.8 496.1h0M68.4 489.1h0M65.2 500.5h0M71.0 502.1h0M63.4 494.6h0M74.8 497.3h0M74.5 502.1h0M70.9 502.6h0M61.5 493.8h0M74.2 500.6h0M73.1 483.5h0M63.8 497.4h0M67.3 491.1h0M81.6 503.3h0M65.0 492.8h0M83.3 494.6h0M61.2 501.5h0M73.4 497.5h0M65.4 481.6h0M62.0 501.5h0M71.2 505.2h0M71.7 502.3h0M64.9 506.4h0M73.8 488.7h0M73.8 497.9h0M86.4 492.3h0M80.5 497.4h0M72.8 489.4h0M80.5 482.3h0M61.2 488.1h0M64.1 499.2h0M63.5 495.4h0M85.6 486.4h0M71.2 485.6h0M86.5 493.6h0M86.1 492.5h0M61.7 493.0h0M60.1 498.7h0M65.1 494.6h0M67.6 500.4h0M72.2 478.3h0M88.5 490.7h0M88.0 487.1h0M71.2 499.1h0M82.3 491.8h0M63.7 485.9h0M76.9 484.4h0M76.1 491.7h0M71.8 493.3h0M72.0 494.1h0M81.9 489.5h0M60.1 493.7h0M77.4 495.7h0M64.5 480.9h0M63.7 503.5h0M64.0 485.3h0M74.3 503.4h0M71.1 489.1h0M59.1 496.1h0M85.5 491.0h0M81.1 505.3h0M66.4 501.2h0M73.7 508.6h0M79.2 483.0h0M86.4 489.3h0M72.4 503.2h0M86.9 503.3h0M69.2 481.4h0M78.8 486.4h0M69.1 499.4h0M74.1 503.7h0M85.7 497.6h0M79.3 488.3h0M59.7 496.5h0M71.9 492.9h0M75.0 491.1h0M66.0 503.6h0M84.0 487.7h0M62.5 491.6h0M79.9 487.2h0M70.1 500.9h0M70.9 497.4h0M64.8 490.2h0M79.3 485.4h0M63.3 485.5h0M73.7 491.1h0M70.1 488.3h0M74.2 480.3h0M64.7 485.5h0M82.6 491.5h0M82.7 502.7h0M75.0 499.5h0M71.8 500.8h0M86.9 487.6h0M77.2 471.5h0M75.2 479.7h0M91.5 494.0h0M65.8 476.6h0M80.8 490.7h0M83.5 493.8h0M68.3 489.6h0M75.6 487.1h0M85.7 495.9h0M67.9 491.5h0M67.9 500.6h0M69.2 502.3h0M79.6 503.1h0M81.1 490.7h0M77.8 501.5h0M74.8 474.0h0M71.7 505.1h0M72.9 493.5h0M81.5 495.2h0M66.0 486.3h0M85.8 488.5h0M61.5 491.7h0M77.5 490.9h0M78.2 491.8h0M63.6 502.0h0M63.8 490.4h0M75.8 505.2h0M69.4 497.9h0M66.0 478.1h0M65.8 481.1h0M75.4 490.7h0M84.7 489.2h0M81.0 494.1h0M80.0 490.8h0M69.0 492.1h0M62.4 494.3h0M69.5 500.5h0M68.9 487.9h0M84.6 495.3h0M65.6 474.0h0M67.8 483.2h0M69.7 483.3h0M63.7 490.8h0M74.3 485.3h0M68.7 498.2h0M71.6 499.4h0M65.5 486.0h0M86.8 481.0h0M63.1 489.9h0M73.2 493.6h0M74.0 494.6h0M83.3 500.2h0M76.4 481.8h0M77.7 494.3h0M76.8 488.5h0M66.8 494.5h0M62.3 489.5h0M88.7 490.7h0M72.0 486.4h0M79.9 488.9h0M66.3 479.4h0M79.7 503.3h0M73.4 492.5h0M87.1 493.2h0M69.4 485.1h0M74.3 504.4h0M66.1 474.0h0M65.9 503.9h0M66.0 473.4h0M65.9 490.2h0M74.0 490.2h0M87.9 490.4h0M82.9 492.8h0M68.6 497.6h0M76.5 486.8h0M64.1 491.5h0M66.5 489.3h0M68.2 486.1h0M73.4 489.2h0M86.1 490.5h0M75.4 481.9h0M61.5 487.6h0M75.2 486.1h0M84.5 481.6h0M71.2 491.4h0M71.7 484.0h0M83.5 504.0h0M73.7 499.9h0M64.7 495.5h0M82.3 491.9h0M73.9 484.3h0M66.8 475.2h0M83.4 485.0h0M76.0 490.7h0M73.8 492.0h0M84.8 489.0h0M59.8 485.6h0M85.5 478.8h0M64.4 490.9h0M86.3 505.1h0M75.5 489.3h0M60.4 498.1h0M70.3 490.0h0M66.7 497.7h0M72.8 473.6h0M82.0 488.3h0M74.3 485.7h0M73.6 506.5h0M71.9 507.8h0M63.8 492.1h0M72.9 502.2h0M69.0 487.7h0M72.3 499.4h0M82.1 488.7h0M69.7 502.0h0M70.2 470.9h0M64.0 493.0h0M71.2 488.3h0M64.2 498.6h0M72.9 503.9h0M78.8 491.9h0M85.9 494.2h0M78.4 497.3h0M65.7 499.3h0M76.7 501.9h0M72.2 496.0h0M64.4 496.7h0M84.9 489.0h0M68.0 490.7h0M68.9 508.5h0M64.8 475.8h0M63.7 501.7h0M66.2 499.3h0M59.1 490.5h0M68.6 498.7h0M83.8 502.6h0M68.9 490.2h0M86.2 497.2h0M83.9 499.3h0M74.5 493.1h0M60.9 499.3h0M63.5 496.7h0M76.0 486.9h0M79.1 497.7h0M68.5 474.1h0M66.6 492.1h0M75.6 488.8h0M69.1 504.3h0M61.9 499.1h0M64.7 502.9h0M70.7 496.0h0M66.9 490.4h0M60.5 492.3h0M66.1 494.5h0M84.9 494.3h0M63.9 490.3h0M72.0 497.6h0M73.1 497.6h0M65.9 491.8h0M76.7 482.8h0M69.9 485.4h0M65.5 492.4h0M77.6 486.4h0M74.9 498.6h0M83.3 501.1h0M78.2 495.5h0M67.2 487.0h0M73.5 488.2h0M82.3 503.5h0M84.7 500.5h0M75.3 485.6h0M61.9 495.7h0M62.5 502.8h0M78.2 492.0h0M62.6 500.1h0M73.3 504.8h0M62.7 500.9h0M73.6 497.5h0M74.5 494.5h0M65.9 494.7h0M64.2 505.8h0M63.2 497.4h0M64.3 491.4h0M73.1 500.6h0M79.4 505.9h0M58.0 501.7h0M71.7 496.5h0M67.5 502.7h0M65.9 492.4h0M82.9 495.4h0M72.7 502.3h0M62.7 503.0h0M81.3 492.5h0M68.7 504.4h0M69.2 499.4h0M59.9 495.1h0M73.3 504.0h0M75.8 499.2h0M74.7 483.2h0M69.7 486.0h0M73.1 478.8h0M77.2 490.0h0M91.0 493.6h0M83.6 491.4h0M75.5 499.7h0M65.8 499.6h0M73.0 493.9h0M76.4 507.8h0M76.3 495.2h0M73.9 499.0h0M65.4 489.8h0M74.5 495.6h0M81.3 486.3h0M78.9 485.1h0M72.3 501.7h0M84.1 496.7h0M65.2 489.2h0M77.8 500.6h0M66.2 473.8h0M71.8 483.6h0M75.1 498.0h0M72.1 501.4h0M77.2 487.8h0M73.3 488.9h0M65.8 498.8h0M75.8 500.7h0M76.8 495.4h0M79.7 492.3h0M79.4 478.5h0M76.6 497.7h0M78.1 498.1h0M76.7 472.4h0" stroke="#a9a9a9" stroke-width="0.62" stroke-linecap="round" fill="none" stroke-opacity="0.9"/>
<path d="M83.1 460.0h0M104.3 458.4h0M78.1 478.6h0M88.6 469.7h0M111.5 438.3h0M82.5 459.4h0M117.8 441.4h0M73.3 465.3h0M86.9 461.6h0M69.4 448.4h0M70.5 462.0h0M76.7 462.1h0M102.5 470.6h0M85.8 474.4h0M99.0 474.9h0M105.9 464.8h0M79.2 455.5h0M90.8 477.3h0M72.3 462.7h0M112.9 434.9h0M75.2 454.2h0M88.9 472.3h0M74.0 451.1h0M78.7 455.9h0M70.5 461.8h0M98.1 465.1h0M83.6 458.2h0M70.4 469.3h0M105.0 461.7h0M84.1 470.4h0M77.9 466.4h0M72.8 462.2h0M79.3 468.4h0M99.4 465.3h0M86.7 465.9h0M73.1 434.3h0M87.2 460.9h0M84.0 470.6h0M98.4 466.1h0M87.2 435.2h0M71.2 465.9h0M92.4 458.1h0M100.8 459.6h0M88.4 467.2h0M112.4 428.1h0M103.8 441.8h0M91.9 455.0h0M78.2 469.9h0M106.5 459.2h0M101.9 439.3h0M91.7 459.7h0M100.0 440.9h0M79.1 467.0h0M94.5 443.6h0M101.9 473.9h0M80.9 476.0h0M96.2 442.8h0M104.7 462.2h0M95.3 456.0h0M96.2 462.2h0M104.9 470.0h0M77.9 463.9h0M87.5 459.4h0M88.0 469.6h0M99.4 473.6h0M92.6 471.8h0M104.1 442.7h0M78.6 459.0h0M78.0 456.3h0M76.6 467.5h0M75.0 467.3h0M92.9 465.3h0M94.6 472.6h0M105.9 458.9h0M98.9 445.4h0M79.5 454.7h0M87.9 469.5h0M67.4 448.1h0M71.7 458.3h0M83.6 462.2h0M79.8 467.5h0M100.3 456.3h0M91.4 458.5h0M71.8 461.7h0M95.5 457.0h0M77.2 463.7h0M95.0 474.4h0M75.7 457.1h0M76.1 460.4h0M98.8 432.1h0M71.2 471.2h0M91.9 479.9h0M107.1 455.2h0M72.6 460.6h0M108.6 468.9h0M96.8 457.9h0M84.6 456.3h0M106.0 464.6h0M89.5 469.0h0M74.3 461.4h0M84.7 458.4h0M100.4 436.3h0M93.1 479.4h0M98.5 438.5h0M97.2 448.3h0M80.8 457.8h0M118.1 433.9h0M74.5 473.5h0M70.4 437.4h0M78.4 478.5h0M108.5 464.7h0M75.5 466.1h0M89.5 466.0h0M72.2 465.8h0M87.1 455.1h0M86.8 469.3h0M103.9 467.6h0M73.3 473.2h0M81.4 457.3h0M110.5 441.6h0M103.0 428.2h0M90.5 463.5h0M100.0 470.6h0M104.0 465.2h0M94.9 466.3h0M70.6 464.7h0M106.7 454.9h0M89.0 478.5h0M99.6 467.1h0M70.7 467.0h0M90.7 467.2h0M69.4 471.7h0M91.3 477.3h0M91.5 476.0h0M85.8 465.3h0M92.5 478.9h0M78.6 457.4h0M98.7 444.9h0M68.9 460.2h0M88.4 459.5h0M100.7 467.3h0M75.1 460.4h0M73.0 457.9h0M88.3 466.1h0M95.1 476.6h0M73.6 470.8h0M79.6 460.9h0M74.9 475.6h0M78.8 455.8h0M112.8 440.3h0M107.1 432.7h0M79.1 460.4h0M104.5 463.9h0M97.0 474.1h0M82.5 470.2h0M103.2 429.4h0M88.3 464.3h0M80.5 470.9h0M81.4 462.3h0M103.3 463.7h0M90.8 461.7h0M99.5 440.0h0M92.4 443.3h0M75.0 448.9h0M89.3 471.4h0M101.6 454.3h0M96.7 459.3h0M101.5 461.8h0M74.1 438.9h0M96.5 438.4h0M85.4 462.6h0M90.0 464.5h0M78.4 463.9h0M98.5 444.6h0M68.0 464.6h0M64.8 445.1h0M100.0 429.0h0M87.7 455.5h0M78.6 455.5h0M73.8 449.8h0M96.6 455.9h0M99.9 458.8h0M100.7 464.4h0M106.4 466.8h0M98.8 463.5h0M82.8 459.3h0M88.1 459.5h0M70.2 467.7h0M84.1 453.5h0M92.2 453.7h0M68.7 446.2h0M80.0 471.4h0M76.8 461.8h0M107.1 462.2h0M97.3 440.1h0M92.0 457.0h0M90.3 440.5h0M84.6 450.2h0M102.6 460.1h0M72.3 460.4h0M99.7 468.4h0M90.9 464.6h0M95.0 462.7h0M94.0 463.2h0M85.3 470.4h0M76.3 457.9h0M88.7 459.3h0M94.9 476.6h0M101.4 461.9h0M91.2 476.2h0M90.4 458.9h0M100.9 455.0h0M99.8 430.4h0M99.0 473.7h0M93.3 475.4h0M69.7 439.7h0M98.8 462.0h0M91.4 475.5h0M87.8 481.0h0M84.0 475.1h0M99.8 461.5h0M71.4 458.9h0M74.7 469.7h0M78.0 450.6h0M77.7 457.1h0M99.1 445.3h0M75.5 462.7h0M79.1 468.2h0M73.3 439.2h0M77.9 469.4h0M109.3 433.8h0M91.9 451.7h0M73.0 447.9h0M78.5 458.0h0M98.0 442.4h0M92.0 473.4h0M86.9 466.3h0M70.6 465.3h0M74.6 457.2h0M79.2 477.3h0M106.5 455.6h0M67.5 467.2h0M71.7 466.5h0M107.8 465.5h0M86.1 465.1h0M85.4 472.3h0M86.6 446.3h0M76.6 445.3h0M111.0 438.5h0M95.6 468.3h0M75.8 468.3h0M90.5 470.5h0M93.8 456.9h0M74.9 467.2h0M114.2 443.3h0M96.8 457.1h0M87.5 460.4h0M100.8 466.7h0M104.3 468.1h0M69.7 452.7h0M89.2 463.5h0M70.5 449.0h0M83.1 465.4h0M90.7 478.6h0M90.2 469.5h0M95.1 458.7h0M87.5 475.3h0M65.8 449.5h0M80.0 473.7h0M92.6 444.9h0M64.4 459.6h0M79.2 459.7h0M92.8 463.8h0M101.3 469.6h0M107.9 442.5h0M69.2 464.8h0M99.7 475.3h0M68.0 464.1h0M105.6 438.5h0M100.0 467.8h0M68.6 460.3h0M98.4 473.2h0M70.5 457.5h0M81.0 466.3h0M89.2 456.4h0M96.7 461.7h0M99.6 478.6h0M100.5 475.2h0M114.6 437.1h0M97.8 474.8h0M106.5 468.2h0M64.1 462.5h0M100.2 467.9h0M84.0 455.1h0M96.0 456.3h0M79.0 469.3h0M65.1 466.7h0M83.8 476.9h0M85.6 456.2h0M87.9 477.0h0M97.0 463.1h0M103.3 461.2h0M82.7 465.2h0M90.6 451.6h0M67.9 465.4h0M93.3 478.3h0M99.2 457.3h0M96.6 432.2h0M92.0 471.6h0M77.3 461.8h0M88.7 455.7h0M79.7 461.6h0M73.6 470.2h0M100.9 465.7h0M101.3 475.0h0M88.4 479.2h0M104.7 463.6h0M85.2 456.6h0M83.3 462.5h0M117.1 427.7h0M71.0 472.9h0M96.9 460.3h0M85.3 464.4h0M77.0 461.7h0M79.0 453.6h0M81.9 476.4h0M116.5 428.8h0M73.6 457.7h0M94.2 474.3h0M93.8 432.4h0M105.8 428.6h0M77.9 469.0h0M101.5 454.8h0M91.2 457.1h0M70.1 468.9h0M84.2 453.2h0M87.8 459.1h0M84.1 473.2h0M75.5 456.3h0M105.2 444.0h0M104.3 462.5h0M81.0 468.3h0M74.8 457.2h0M100.5 465.5h0M73.9 449.1h0M95.1 467.9h0M63.4 452.0h0M88.0 443.1h0M93.1 479.6h0M96.0 456.8h0M99.2 456.9h0M99.1 435.9h0M64.9 461.5h0M76.7 468.8h0M91.7 454.9h0M117.5 429.4h0M88.6 459.3h0M91.4 454.5h0M95.4 434.2h0M80.8 476.4h0M84.3 471.7h0M95.0 435.5h0M86.5 477.7h0M67.2 464.8h0M90.7 461.4h0M90.5 470.5h0M83.6 471.2h0M75.5 472.7h0M95.9 471.9h0M88.3 470.9h0M93.2 454.5h0M82.1 433.9h0M82.0 464.5h0M94.3 475.0h0M85.3 455.1h0M84.3 468.9h0M84.0 470.1h0M88.1 453.8h0M82.4 476.6h0M87.6 460.4h0M88.8 462.6h0M113.6 438.3h0M79.1 465.3h0M77.4 466.9h0M74.9 476.6h0M73.3 457.1h0M97.5 446.5h0M97.1 457.8h0M83.5 458.9h0M84.1 466.7h0M72.0 471.2h0M67.2 462.9h0M67.9 470.2h0M105.6 466.2h0M90.1 470.8h0M69.1 466.7h0M99.7 457.1h0M80.6 467.2h0M85.1 477.8h0M103.9 461.8h0M93.8 471.6h0M73.0 469.5h0M113.6 441.3h0M76.6 462.1h0M63.7 450.1h0M108.4 461.0h0M91.8 463.8h0M78.9 475.0h0M73.4 473.7h0M88.0 478.1h0M70.3 470.5h0M104.7 465.8h0M90.3 477.2h0M105.0 467.0h0M78.6 476.4h0M104.5 462.9h0M79.0 473.9h0M99.3 463.1h0M63.8 450.9h0M78.2 468.3h0M68.3 471.8h0M85.9 475.0h0M96.0 475.4h0M96.0 470.6h0M82.2 480.5h0M83.9 456.8h0M74.6 466.7h0M87.0 460.8h0M77.5 464.4h0M102.0 457.2h0M81.6 469.9h0M75.7 435.0h0M96.1 471.3h0M76.8 464.6h0M91.2 466.7h0M66.3 466.4h0M94.8 441.4h0M87.8 465.4h0M107.2 462.3h0M86.6 466.2h0M106.3 457.9h0M81.4 466.3h0M84.6 439.8h0M88.1 456.9h0M97.0 446.8h0M76.3 458.5h0M112.9 437.0h0M100.7 469.1h0M86.2 459.3h0M70.3 462.0h0M72.8 456.7h0M100.9 469.1h0M91.8 460.4h0M96.3 469.2h0M102.8 460.9h0M78.0 459.0h0M81.8 465.4h0M78.0 471.3h0M66.9 463.1h0M87.8 477.7h0M102.4 459.1h0M83.0 473.8h0M118.7 436.2h0M95.0 463.2h0M71.4 473.2h0M71.5 445.9h0M85.0 462.9h0M98.5 470.0h0M93.9 468.0h0M67.6 462.9h0M85.8 478.0h0M106.5 463.9h0M86.4 476.3h0M99.3 457.5h0M94.3 461.9h0M100.5 433.7h0M104.6 441.0h0M84.0 455.0h0M98.3 468.7h0M75.6 465.8h0M73.6 471.4h0M91.3 433.7h0M87.0 440.7h0M74.2 446.9h0M86.2 465.6h0M81.5 473.6h0M87.2 472.0h0M88.5 470.1h0M72.0 466.9h0M92.6 436.6h0M107.3 458.5h0M90.0 480.4h0M100.7 476.3h0M82.8 464.7h0M72.9 461.5h0M102.6 459.6h0M88.7 475.1h0M101.4 475.0h0M105.8 461.5h0M76.3 456.9h0M87.9 474.3h0M95.0 444.0h0M95.0 458.8h0M99.4 456.0h0M117.7 431.1h0M103.3 445.1h0M106.8 460.3h0M92.7 453.0h0M70.3 471.8h0M74.7 471.9h0M86.1 472.9h0M83.4 476.8h0M85.2 476.2h0M96.1 469.0h0M120.6 439.0h0M89.8 454.5h0M74.2 461.4h0M72.0 472.2h0M84.5 465.0h0M77.1 462.8h0M96.3 456.6h0M79.9 436.7h0M96.2 452.2h0M98.1 471.3h0M79.5 455.1h0M81.7 463.0h0M89.8 457.9h0M95.7 478.1h0M99.2 457.4h0M71.3 455.3h0M90.3 468.1h0M91.2 472.7h0M92.6 463.5h0M91.0 453.2h0M71.5 464.2h0M77.1 437.1h0M84.5 433.5h0M69.0 463.7h0M88.7 458.7h0M97.5 462.7h0M87.5 452.4h0M75.4 465.6h0M103.3 472.9h0M83.7 454.5h0M79.9 477.3h0M90.2 465.0h0" stroke="#e31a1c" stroke-width="0.62" stroke-linecap="round" fill="none" stroke-opacity="0.9"/>
<path d="M176.3 468.1h0M184.1 489.2h0M180.1 478.7h0M173.8 512.8h0M173.9 497.6h0M172.2 482.9h0M185.8 502.2h0M181.9 512.2h0M180.4 509.5h0M171.9 484.3h0M175.9 482.3h0M173.1 495.8h0M174.2 490.1h0M184.4 497.1h0M185.1 484.9h0M184.3 508.3h0M178.1 504.2h0M174.7 491.5h0M173.3 483.3h0M174.3 484.9h0M171.4 488.0h0M179.3 476.6h0M170.5 505.6h0M172.9 479.1h0M180.2 503.2h0M175.7 487.7h0M172.1 500.5h0M179.4 498.1h0M170.7 491.1h0M180.0 491.5h0M180.0 516.3h0M174.3 493.3h0M173.4 493.5h0M177.2 504.7h0M179.5 488.8h0M183.2 510.1h0M182.5 490.2h0M175.1 492.0h0M184.0 483.3h0M183.1 502.5h0M171.3 504.5h0M171.8 474.7h0M184.5 484.6h0M179.1 483.5h0M177.6 498.7h0M175.3 508.5h0M185.3 503.4h0M174.1 485.0h0M177.9 491.9h0M175.5 477.0h0M169.9 508.6h0M175.4 512.3h0M182.6 490.0h0M182.8 499.1h0M182.5 498.8h0M170.7 507.0h0M179.6 501.7h0M185.0 495.2h0M171.0 492.9h0M183.8 497.0h0M178.0 485.6h0M184.8 493.4h0M183.6 498.1h0M184.3 485.2h0M176.6 484.5h0M188.3 506.2h0M176.9 492.6h0M179.5 476.9h0M169.5 512.0h0M177.9 513.2h0M181.5 473.3h0M173.6 475.0h0M171.8 486.2h0M172.4 499.0h0M184.9 492.8h0M163.5 503.1h0M173.5 471.4h0M183.0 490.0h0M176.1 510.5h0M185.9 494.0h0M179.6 490.8h0M174.6 492.5h0M178.8 481.3h0M185.5 496.1h0M172.9 475.4h0M181.1 477.6h0M172.4 484.8h0M187.0 506.1h0M183.7 501.3h0M170.8 509.4h0M173.1 488.9h0M179.8 476.3h0M173.8 495.5h0M174.7 504.4h0M176.0 510.5h0M175.0 514.5h0M184.8 497.2h0M173.6 481.3h0M184.0 490.8h0M180.4 481.0h0M186.8 495.2h0M179.5 504.9h0M173.3 513.2h0M175.7 483.0h0M172.8 506.8h0M170.8 499.0h0M182.5 501.8h0M178.0 475.6h0M173.1 477.5h0M175.6 485.3h0M175.5 496.9h0M169.6 506.3h0M176.4 503.7h0M178.7 503.2h0M182.7 498.1h0M169.3 507.8h0M171.5 513.6h0M183.1 512.5h0M186.1 489.7h0M185.1 486.0h0M181.7 485.1h0M179.8 499.6h0M182.0 502.8h0M184.4 498.6h0M177.6 476.5h0M182.8 488.6h0M178.0 497.1h0M175.5 484.4h0M173.6 474.1h0M184.5 496.5h0M180.0 483.3h0M176.1 495.6h0M179.0 509.7h0M179.0 485.2h0M173.1 480.3h0M177.7 470.8h0M176.1 511.7h0M174.3 474.7h0M174.2 501.3h0M177.0 483.5h0M176.3 502.3h0M176.9 496.8h0M176.1 497.3h0M175.3 514.9h0M180.9 490.1h0M173.6 491.8h0M179.0 513.2h0M173.6 493.9h0M177.4 495.6h0M178.0 475.7h0M187.1 508.3h0M173.9 497.0h0M188.6 493.2h0M181.1 485.0h0M183.6 497.4h0M182.8 478.5h0M178.8 489.6h0M177.2 505.0h0M190.3 494.6h0M181.6 504.2h0M177.9 491.7h0M173.3 497.1h0M175.6 479.2h0M181.8 484.7h0M176.7 485.5h0M182.3 481.2h0M174.1 472.7h0M171.0 505.3h0M186.0 484.6h0M183.6 499.3h0M179.0 495.9h0M174.2 495.0h0M171.7 492.6h0M172.7 478.2h0M171.8 491.8h0M179.3 493.8h0M171.0 513.1h0M174.1 517.5h0M166.1 506.3h0M183.9 506.8h0M169.5 504.4h0M172.1 498.9h0M174.7 483.4h0M173.6 489.9h0M157.8 495.9h0M175.6 510.4h0M177.0 507.2h0M178.6 506.9h0M172.8 492.8h0M158.6 499.4h0M174.4 473.6h0M174.3 474.1h0M173.8 515.8h0M178.9 480.6h0M180.3 505.0h0M177.9 481.8h0M180.4 505.4h0M181.7 490.5h0M173.8 486.9h0M177.9 509.2h0M173.7 517.0h0M163.8 503.6h0M171.9 510.0h0M176.7 505.2h0M175.7 495.0h0M169.7 511.6h0M186.7 505.5h0M177.3 470.5h0M172.7 491.4h0M182.6 493.4h0M171.8 475.2h0M178.6 513.9h0M180.6 504.6h0M182.0 486.2h0M175.9 498.7h0M177.9 505.2h0M173.0 514.9h0M178.0 516.6h0M176.4 499.5h0M179.2 487.5h0M169.1 499.6h0M175.9 486.8h0M177.4 515.0h0M181.6 491.4h0M170.9 498.6h0M182.2 495.1h0M177.6 497.6h0M176.8 497.2h0M181.0 485.2h0M179.7 492.3h0M171.9 473.0h0M183.2 477.6h0M178.3 500.7h0M171.5 505.2h0M157.2 499.2h0M182.3 516.2h0M176.5 513.4h0M180.7 483.8h0M183.1 503.8h0M184.4 482.8h0M183.6 495.9h0M179.7 478.6h0M176.9 486.5h0M180.4 502.1h0M170.5 508.3h0M187.6 505.9h0M176.5 501.1h0M183.6 510.7h0M173.8 475.8h0M172.0 514.9h0M173.4 479.3h0M174.3 476.4h0M186.4 491.5h0M179.7 477.1h0M174.4 497.3h0M181.1 508.6h0M174.2 506.1h0M175.2 495.0h0M177.2 481.4h0M179.0 482.3h0M178.7 509.0h0M187.5 491.3h0M177.1 510.1h0M176.4 495.9h0M181.0 508.9h0M181.9 515.1h0M185.0 501.6h0M186.4 503.8h0M185.6 490.0h0M177.0 486.5h0M173.5 506.6h0M175.6 512.9h0M174.6 479.0h0M186.4 505.6h0M173.2 517.3h0M186.8 506.8h0M179.5 512.9h0M178.1 474.4h0M178.7 516.1h0M173.4 495.7h0M175.0 497.6h0M183.9 501.8h0M177.6 480.7h0M180.1 490.1h0M173.2 515.2h0M170.5 497.7h0M174.2 470.9h0M175.0 478.6h0M182.4 500.1h0M173.5 498.0h0M185.4 504.9h0M174.1 515.1h0M173.6 508.1h0M170.1 510.5h0M178.0 495.6h0M157.2 495.1h0M183.7 494.0h0M179.9 502.8h0M183.8 493.0h0M176.1 486.3h0M181.6 489.5h0M183.9 496.3h0M174.0 477.8h0M182.3 487.1h0M186.9 501.8h0M178.7 489.5h0M185.0 491.6h0M186.0 503.5h0M174.8 477.0h0M171.7 491.6h0M179.6 483.3h0M174.7 490.4h0M170.4 497.6h0M173.1 506.5h0M170.9 514.5h0M182.7 499.1h0M173.0 489.3h0M187.8 490.7h0M182.7 481.5h0M175.2 515.8h0M177.5 487.6h0M181.2 505.8h0M176.3 511.2h0M171.2 505.6h0M182.9 500.3h0M179.0 505.5h0M176.8 508.3h0M182.1 483.4h0M176.6 500.8h0M166.3 502.8h0M174.6 483.3h0M179.8 502.4h0M175.1 513.9h0M186.3 508.5h0M179.6 502.4h0M183.0 504.6h0M171.7 502.2h0M163.8 510.1h0M174.2 497.0h0M173.3 480.4h0M173.7 479.0h0M166.9 511.3h0M170.3 506.9h0M171.1 496.6h0M176.5 489.1h0M178.4 490.2h0M171.5 483.2h0M178.7 475.3h0M183.6 504.0h0M178.9 491.0h0M181.7 495.9h0M180.8 511.6h0M169.9 513.0h0M178.7 475.0h0M174.6 473.3h0M180.5 510.9h0M182.8 498.2h0M171.8 513.0h0M186.8 495.0h0M182.9 492.9h0M185.0 488.5h0M180.9 511.9h0M177.3 497.8h0M173.3 491.6h0M185.5 486.2h0M168.3 511.4h0M174.2 475.7h0M173.5 477.5h0M176.3 500.1h0M170.7 476.4h0M180.9 497.4h0M177.6 478.5h0M182.8 493.4h0M171.3 508.6h0M156.1 497.1h0M180.5 485.3h0M178.3 494.1h0M176.1 493.0h0M167.6 504.7h0M184.0 504.4h0M174.9 477.4h0M175.1 513.4h0M166.4 507.8h0M176.4 506.3h0M176.9 479.4h0M175.3 506.6h0M175.2 473.1h0M186.2 490.9h0M175.1 483.8h0M173.3 486.1h0M184.5 507.2h0M174.8 475.9h0M173.0 474.0h0M188.4 485.9h0M179.3 476.3h0M182.7 498.8h0M156.8 495.9h0M184.2 495.2h0M176.1 516.6h0M185.4 510.9h0M181.7 488.0h0M172.3 485.6h0M180.6 504.8h0M172.3 475.5h0M172.6 498.0h0M181.4 505.4h0M178.6 485.0h0M186.8 505.1h0M177.4 492.2h0M175.9 500.0h0M173.9 507.5h0M179.0 476.7h0M171.8 494.8h0M175.3 517.3h0M180.6 501.1h0M172.4 503.4h0M178.6 503.5h0M181.1 502.8h0M181.3 509.8h0M182.7 497.3h0M178.8 483.5h0M178.3 504.5h0M177.5 477.4h0M175.9 471.7h0M184.4 504.8h0M170.1 502.0h0M182.3 479.4h0M179.1 495.3h0M185.6 495.0h0M171.9 503.5h0M179.6 511.2h0M175.7 492.3h0M178.4 484.2h0M183.3 486.0h0M171.9 483.5h0M164.1 504.6h0M180.7 483.4h0M177.6 498.9h0M178.4 514.8h0M181.2 484.6h0M172.7 474.4h0M176.2 491.5h0M182.2 482.7h0M178.0 472.9h0M177.3 481.4h0M179.9 510.8h0M180.0 498.2h0M176.4 507.1h0M174.5 483.8h0M178.4 489.4h0M179.8 508.0h0M174.1 511.9h0M177.4 471.7h0M183.7 486.8h0M170.3 517.2h0M184.9 486.2h0M182.2 494.4h0M170.9 488.9h0M174.2 470.0h0M173.6 495.8h0M175.5 478.8h0M174.4 485.4h0M174.7 480.8h0M163.8 507.6h0M176.4 488.1h0M176.5 484.0h0M184.6 504.1h0M178.7 485.7h0M180.5 516.1h0M174.2 502.0h0M179.8 506.2h0M174.3 481.2h0M177.4 481.5h0M173.2 514.6h0M181.0 497.6h0M187.3 504.8h0M184.0 495.4h0M178.2 480.3h0M183.3 497.4h0M182.1 506.5h0M181.5 513.2h0M158.7 494.5h0" stroke="#fdbf6f" stroke-width="0.62" stroke-linecap="round" fill="none" stroke-opacity="0.9"/>
<path d="M138.5 424.6h0M153.2 437.6h0M150.1 437.8h0M140.8 431.5h0M140.6 431.6h0M159.7 435.6h0M158.6 433.2h0M162.7 436.9h0M140.7 437.3h0M150.2 436.8h0M157.5 438.8h0M161.1 441.5h0M149.5 437.1h0M144.7 431.6h0M146.4 433.7h0M149.0 441.1h0M143.3 441.6h0M151.5 427.2h0M138.1 430.4h0M136.2 425.0h0M141.3 433.2h0M150.7 429.3h0M147.7 434.5h0M150.0 426.6h0M145.9 441.2h0M148.5 433.0h0M140.2 426.1h0M149.9 438.5h0M140.8 436.7h0M153.3 438.0h0M148.3 435.7h0M146.6 428.8h0M146.5 443.6h0M151.6 426.2h0M155.8 438.5h0M153.5 443.9h0M144.9 445.7h0M137.5 433.3h0M153.1 445.3h0M155.4 437.1h0M157.7 431.4h0M160.3 430.4h0M151.6 430.5h0M156.0 440.2h0M152.1 435.5h0M141.9 427.2h0M153.2 444.2h0M144.9 433.0h0M142.6 426.4h0M156.9 442.9h0M164.6 441.4h0M145.9 431.4h0M140.7 422.0h0M152.3 438.8h0M152.2 434.2h0M153.4 445.3h0M143.2 422.1h0M160.9 438.6h0M160.8 443.2h0M148.9 432.7h0M145.1 423.2h0M147.6 428.8h0M158.3 441.5h0M163.5 436.9h0M152.1 428.4h0M144.4 434.0h0M147.8 425.5h0M144.3 442.4h0M147.6 433.5h0M148.9 425.8h0M157.1 427.5h0M150.8 426.7h0M149.7 443.8h0M162.1 440.9h0M163.5 439.3h0M147.8 428.6h0M157.5 429.0h0M150.4 434.6h0M148.9 444.1h0M152.9 437.3h0M159.9 438.1h0M152.1 443.4h0M158.8 435.6h0M158.7 445.7h0M141.8 425.2h0M158.0 431.5h0M146.1 445.8h0M152.9 430.6h0M138.3 428.1h0M138.3 434.9h0M143.7 429.7h0M147.7 444.2h0M144.9 432.2h0M141.7 442.9h0M156.7 429.9h0M142.7 427.8h0M162.1 437.0h0M147.7 433.4h0M151.2 436.0h0M145.7 434.5h0M143.2 425.8h0M145.2 424.4h0M153.3 430.0h0M152.4 433.3h0M147.8 443.4h0M144.3 439.6h0M163.7 439.7h0M142.8 425.1h0M140.6 437.8h0M152.3 439.4h0M159.2 437.4h0M149.7 441.1h0M143.7 440.3h0M148.5 439.1h0M154.6 441.3h0M151.2 428.0h0M144.2 424.8h0M142.1 420.8h0M157.0 429.0h0M156.3 435.6h0M155.2 426.2h0M143.4 442.2h0M143.6 436.3h0M155.8 438.9h0M153.7 433.2h0M161.3 439.0h0M143.7 433.1h0M156.3 437.2h0M154.3 443.7h0M140.0 436.0h0M138.3 433.1h0M148.0 439.3h0M141.5 440.8h0M138.5 428.7h0M141.9 427.0h0M160.2 434.6h0M162.7 443.9h0M143.5 426.3h0M147.8 438.0h0M162.0 437.6h0M159.1 438.0h0M142.7 441.9h0M146.0 425.5h0M152.7 440.8h0M145.1 441.1h0M147.6 433.6h0M162.1 436.9h0M153.5 434.7h0M152.2 425.1h0M151.3 444.3h0M140.1 424.6h0M146.4 429.8h0M160.4 442.4h0M154.2 436.2h0M157.1 431.2h0M138.8 434.5h0M141.6 420.1h0M155.6 433.9h0M162.8 438.2h0M147.1 427.8h0M139.8 431.4h0M151.8 433.1h0M143.3 441.3h0M161.5 443.3h0M146.8 432.9h0M156.7 436.7h0M153.8 432.6h0M140.6 438.9h0M160.2 440.9h0M155.2 434.4h0M152.4 430.9h0M163.8 442.9h0M147.4 429.1h0M158.2 437.2h0M147.4 436.9h0M140.7 438.2h0M147.0 437.0h0M151.6 439.7h0M160.1 443.7h0M154.5 443.9h0M153.7 436.5h0M143.0 435.4h0M160.0 430.9h0M146.7 445.4h0M145.3 425.6h0M144.7 442.3h0M162.8 437.9h0M138.6 423.1h0M149.2 433.5h0M160.1 443.1h0M146.6 431.1h0M161.1 436.8h0M153.9 441.1h0M158.6 432.7h0M146.0 436.3h0M144.8 422.8h0M156.6 435.8h0M140.1 428.8h0M144.3 426.4h0M158.2 437.0h0M138.1 425.2h0M154.6 437.1h0M155.9 427.5h0M158.7 446.7h0M143.9 435.7h0M144.6 420.5h0M156.3 433.7h0M148.0 424.2h0M147.7 439.8h0M157.7 436.4h0M156.2 439.2h0M161.8 443.9h0M154.1 433.7h0M142.2 419.6h0M151.0 442.9h0M142.7 422.2h0M146.5 436.0h0M160.2 439.5h0M152.7 444.3h0M154.9 426.9h0M144.1 424.8h0M150.2 432.9h0M148.4 437.6h0M160.7 437.6h0M149.9 444.3h0M144.9 424.4h0M159.8 433.4h0M153.5 436.2h0M144.8 430.8h0M142.5 427.6h0M147.9 436.2h0M153.8 434.3h0M147.8 432.4h0M142.2 435.6h0M146.1 423.7h0M158.2 444.0h0M160.4 430.2h0M161.1 432.3h0M143.9 441.7h0M164.8 437.8h0M140.3 423.2h0M149.2 425.0h0M138.9 437.2h0M157.4 435.0h0M161.6 443.4h0M139.2 420.9h0M142.3 428.9h0M147.5 430.1h0M155.6 447.0h0M151.4 435.0h0M152.4 424.2h0M150.9 434.6h0M155.1 435.2h0M152.9 437.1h0M153.1 429.3h0M161.2 433.6h0M140.7 433.5h0M156.0 432.7h0M153.3 440.9h0M144.3 421.8h0M153.6 432.4h0M158.9 443.3h0M154.1 438.0h0M140.1 434.4h0M160.9 436.0h0M145.1 423.6h0M158.5 439.3h0M151.3 439.1h0M144.1 442.6h0M159.4 434.2h0M160.7 439.1h0M162.2 435.6h0M141.6 430.4h0M157.3 431.0h0M138.6 427.1h0M150.2 431.8h0M160.3 439.5h0M150.3 428.5h0M144.1 441.6h0M154.3 428.7h0M162.6 434.5h0M142.5 427.4h0M157.4 444.5h0M153.3 435.9h0M160.8 434.1h0M153.0 424.2h0M137.7 426.6h0M144.4 435.9h0M151.9 433.1h0M152.4 424.7h0M137.4 435.5h0M161.4 436.8h0M141.0 430.7h0M152.2 430.8h0M148.1 438.7h0M164.7 441.2h0M139.8 431.3h0M141.3 430.5h0M155.1 439.0h0M141.8 437.0h0M157.0 440.6h0M159.0 426.4h0M143.2 425.1h0M142.0 437.3h0M152.0 429.8h0M155.8 431.9h0M152.3 433.5h0M141.5 426.8h0M161.1 435.2h0M155.8 437.3h0M151.7 427.3h0M159.1 434.2h0M150.5 430.4h0M154.1 438.8h0M165.5 439.1h0M147.6 438.4h0M155.1 445.9h0M153.4 429.4h0M156.8 439.0h0M147.1 423.3h0M158.3 436.1h0M151.1 434.4h0M146.8 428.6h0M153.3 428.6h0M156.2 429.4h0M160.3 430.4h0M147.7 445.5h0M148.5 433.4h0M149.8 431.8h0M150.9 444.0h0M148.0 435.9h0M164.6 436.4h0M149.0 436.5h0M144.7 440.5h0M143.4 419.7h0M150.9 433.4h0M159.4 427.2h0M157.8 428.0h0M154.2 447.3h0M152.7 427.6h0M144.2 430.0h0M147.6 432.6h0M160.0 439.8h0M158.2 426.2h0M155.8 432.3h0M164.3 440.8h0M139.0 422.1h0M141.6 442.3h0M145.7 445.0h0M150.5 446.5h0M156.9 430.8h0M161.2 443.5h0M164.7 443.3h0M140.0 434.2h0M163.6 441.4h0M149.3 423.9h0M151.2 425.9h0M139.7 424.8h0M145.0 432.4h0M155.2 425.6h0M158.5 443.7h0M151.1 435.1h0M152.4 429.1h0M147.4 443.5h0M153.8 442.4h0M160.4 441.5h0M141.0 424.0h0M146.9 440.5h0M155.4 441.2h0M148.7 429.8h0M144.4 428.5h0M153.1 443.0h0M147.9 422.8h0M144.8 435.2h0M138.4 429.1h0M163.2 436.0h0M145.7 433.2h0M157.2 433.9h0M147.7 436.7h0M144.5 441.7h0M150.1 438.2h0M142.1 430.8h0M140.2 423.6h0M141.3 427.9h0M156.1 442.9h0M147.6 431.7h0M143.8 432.7h0M146.5 443.6h0M157.0 431.2h0M151.6 432.3h0M155.7 446.2h0M160.9 439.2h0M139.2 433.9h0M143.6 427.0h0M157.8 445.4h0M156.2 440.6h0M158.7 443.0h0M149.3 444.4h0M143.8 426.4h0M138.0 432.1h0M143.6 439.5h0M144.5 441.9h0M159.8 434.4h0M158.7 440.9h0M163.1 433.0h0M160.1 437.6h0M139.9 434.2h0M150.4 423.6h0M159.7 431.1h0M150.7 439.5h0M145.6 432.8h0M160.8 442.6h0M143.5 440.7h0M140.1 433.4h0M156.7 443.2h0M147.7 429.2h0M140.5 437.3h0M148.8 433.9h0M140.9 423.9h0M154.6 445.9h0M152.0 430.0h0M148.3 427.3h0M158.8 430.4h0M143.3 426.0h0M141.9 419.7h0M153.6 434.8h0M159.1 444.4h0M140.5 439.6h0M147.0 437.7h0M153.3 440.9h0M141.4 424.3h0M159.8 436.0h0M153.8 424.3h0M157.2 440.7h0M154.7 427.5h0M148.4 442.8h0M154.6 433.4h0M139.9 432.6h0M152.6 439.7h0M159.8 438.3h0M146.3 445.8h0M144.6 420.5h0M160.1 441.8h0M165.6 439.3h0M144.8 439.1h0M150.2 437.7h0M152.5 435.1h0M149.8 429.8h0M153.3 440.9h0M148.4 435.6h0M141.7 423.7h0M143.8 422.7h0M156.2 436.1h0M158.4 441.5h0M137.6 421.5h0M156.7 443.7h0M142.0 433.6h0M147.9 443.0h0M151.5 445.1h0M160.0 433.6h0M144.7 435.1h0M147.3 439.0h0M156.2 437.7h0M153.0 430.7h0M148.9 424.9h0M142.6 429.9h0M155.5 425.5h0M148.1 432.3h0M147.8 427.6h0M160.0 431.7h0M138.9 422.8h0M153.8 439.2h0M151.4 435.3h0M160.0 434.7h0M159.3 443.7h0M158.0 431.0h0M153.3 436.9h0M148.1 435.7h0M151.7 434.1h0M155.8 429.3h0M143.0 421.6h0M148.9 433.2h0M145.3 425.0h0M147.2 431.5h0M161.6 442.5h0M152.2 429.8h0M141.6 436.8h0M147.4 436.7h0M152.7 435.5h0M143.9 430.4h0M145.8 435.7h0M140.2 435.6h0M157.6 427.5h0M150.6 432.2h0M153.8 436.7h0" stroke="#ff7f00" stroke-width="0.62" stroke-linecap="round" fill="none" stroke-opacity="0.9"/>
<path d="M86.9 521.0h0M91.3 536.6h0M95.0 545.4h0M107.2 553.3h0M101.5 547.9h0M101.8 558.5h0M95.4 549.7h0M103.4 542.8h0M95.8 542.6h0M92.8 549.4h0M92.0 541.9h0M94.3 541.8h0M95.7 555.2h0M105.9 551.2h0M89.1 540.5h0M100.0 547.7h0M100.2 545.7h0M99.3 549.4h0M90.5 545.7h0M100.7 551.3h0M92.8 541.5h0M100.8 550.5h0M108.9 557.1h0M95.0 536.8h0M99.1 556.8h0M111.0 562.1h0M96.9 555.2h0M86.5 521.3h0M97.9 526.5h0M104.8 532.9h0M90.7 526.7h0M105.1 557.6h0M88.9 527.3h0M94.3 553.5h0M100.5 553.4h0M92.3 542.1h0M105.3 558.7h0M90.6 548.0h0M98.4 536.1h0M100.2 555.0h0M89.5 541.1h0M106.6 556.3h0M94.5 545.7h0M97.1 554.1h0M92.4 549.5h0M95.2 538.7h0M101.9 552.8h0M89.7 543.5h0M100.3 548.1h0M91.0 529.4h0M105.4 566.5h0M105.1 562.3h0M103.9 550.8h0M97.3 538.6h0M108.5 553.5h0M96.9 558.8h0M102.9 545.8h0M104.7 564.4h0M90.5 537.0h0M99.8 532.6h0M99.7 525.9h0M91.6 528.9h0M94.0 527.3h0M88.8 541.7h0M102.0 564.3h0M101.5 546.3h0M94.8 537.8h0M103.8 548.6h0M102.7 550.0h0M91.0 529.9h0M109.3 561.7h0M89.9 534.7h0M105.3 553.3h0M99.7 554.2h0M103.4 553.5h0M88.9 524.1h0M104.6 556.1h0M91.4 536.4h0M104.0 561.9h0M106.3 551.1h0M108.6 558.2h0M108.1 554.5h0M101.8 558.8h0M95.6 541.1h0M90.7 528.2h0M108.8 555.4h0M95.6 513.5h0M97.2 546.5h0M100.3 530.2h0M99.8 522.2h0M91.6 543.1h0M98.0 520.7h0M97.8 544.3h0M97.8 539.0h0M101.9 554.4h0M89.5 539.8h0M95.5 549.8h0M107.2 562.5h0M91.4 547.3h0M107.4 561.0h0M88.2 540.6h0M108.3 560.2h0M107.5 555.8h0M102.5 547.3h0M103.2 558.1h0M98.2 543.8h0M99.4 532.6h0M102.3 564.1h0M88.9 537.0h0M101.1 543.5h0M102.4 546.1h0M89.7 517.8h0M95.6 527.8h0M93.4 541.2h0M101.4 541.7h0M105.4 554.9h0M90.8 538.1h0M106.5 560.6h0M99.0 557.3h0M101.1 546.8h0M98.5 554.4h0M105.7 561.1h0M102.4 554.9h0M96.4 543.3h0M99.1 547.5h0M93.1 530.2h0M89.6 542.4h0M101.5 553.1h0M97.6 558.7h0M90.0 546.4h0M108.8 552.8h0M108.5 564.1h0M105.5 565.8h0M104.3 561.7h0M98.4 555.6h0M94.8 537.2h0M98.7 548.3h0M102.5 550.7h0M103.5 554.8h0M100.8 550.0h0M94.3 537.7h0M88.1 522.0h0M97.3 541.7h0M100.2 545.6h0M111.1 563.1h0M96.5 527.4h0M103.6 555.4h0M95.7 529.2h0M100.9 550.2h0M90.4 536.0h0M107.9 560.8h0M93.8 520.3h0M89.2 541.5h0M98.6 552.2h0M100.6 516.5h0M103.2 555.2h0M89.3 541.8h0M87.8 521.1h0M100.6 551.3h0M108.7 564.3h0M95.1 536.8h0M106.6 549.4h0M104.4 554.9h0M89.0 523.8h0M102.9 564.7h0M93.4 541.5h0M95.8 543.5h0M89.7 533.6h0M98.3 544.5h0M96.7 540.4h0M102.7 556.1h0M94.3 537.6h0M101.9 545.2h0M106.4 556.0h0M103.9 534.1h0M99.9 546.6h0M106.1 552.4h0M88.0 520.9h0M98.9 517.1h0M103.9 561.9h0M101.0 531.8h0M91.9 546.9h0M103.4 547.8h0M106.7 555.2h0M101.7 562.5h0M99.7 549.2h0M106.4 564.1h0M87.6 523.4h0M99.2 558.0h0M109.8 556.0h0M103.8 563.4h0M94.5 537.6h0M103.8 562.3h0M96.5 551.7h0M92.9 533.3h0M97.5 554.3h0M93.5 515.8h0M93.0 538.5h0M101.4 552.0h0M107.0 550.4h0M102.8 558.6h0M93.8 546.2h0M101.4 522.1h0M92.3 539.4h0M94.5 523.9h0M99.4 547.0h0M89.0 537.6h0M95.8 538.5h0M96.7 545.9h0M91.6 542.2h0M88.8 531.3h0M100.7 544.2h0M97.4 519.8h0M92.1 546.9h0M106.8 553.3h0M95.8 539.5h0M92.1 547.1h0M88.7 517.0h0M97.3 530.9h0M95.2 537.2h0M100.5 533.7h0M93.7 541.5h0M91.8 538.7h0M87.5 540.2h0M92.6 545.4h0M97.2 542.0h0M100.3 558.7h0M98.3 555.0h0M108.7 560.9h0M103.7 554.2h0M104.6 556.3h0M102.5 561.0h0M101.1 549.7h0M100.7 527.1h0M103.8 552.2h0M109.7 561.2h0M96.8 553.9h0M94.3 539.4h0M97.7 554.0h0M91.9 550.9h0M102.5 548.3h0M100.1 543.0h0M108.5 555.0h0M102.4 561.6h0M90.4 544.8h0M99.1 557.4h0M104.9 532.6h0M107.8 559.1h0M91.0 530.8h0M109.5 558.7h0M93.8 550.2h0M101.2 561.3h0M91.8 548.7h0M106.7 556.5h0M98.1 553.1h0M102.4 545.5h0M108.7 560.3h0M103.5 555.5h0M111.0 562.3h0M108.5 562.1h0M90.4 543.1h0M99.2 561.7h0M98.7 541.0h0M107.1 552.8h0M97.1 550.1h0M96.7 544.2h0M97.4 558.1h0M107.2 554.3h0M104.8 563.1h0M107.0 553.1h0M99.6 551.1h0M97.4 539.9h0M94.3 549.4h0M94.5 545.6h0M105.1 553.1h0M101.8 543.3h0M97.6 548.0h0M104.3 562.1h0M95.2 539.6h0M90.0 541.5h0M103.9 560.6h0M91.4 537.7h0M91.5 525.6h0M101.1 522.9h0M107.6 557.9h0M98.9 542.1h0M110.9 560.5h0M105.2 554.3h0M92.7 543.9h0M95.7 540.5h0M100.1 552.1h0M94.5 542.5h0M98.6 544.6h0M106.9 554.9h0M102.4 561.9h0M95.3 553.4h0M100.3 558.6h0M97.9 558.2h0M101.3 559.6h0M94.8 549.8h0M99.5 550.3h0M96.4 540.0h0M100.9 560.1h0M100.7 517.1h0M105.3 552.4h0M99.9 545.2h0M98.2 555.3h0M102.7 561.8h0M88.6 541.0h0M103.3 556.5h0M104.2 562.9h0M100.0 561.4h0M99.5 533.2h0M100.6 531.5h0M89.7 539.1h0M96.6 542.4h0M96.5 520.0h0M99.0 553.7h0M107.6 556.3h0M97.5 540.1h0M103.3 555.3h0M107.2 557.1h0M101.4 542.0h0M98.3 545.9h0M96.8 553.4h0M102.7 530.2h0M104.9 555.9h0M97.4 541.7h0M107.4 559.0h0M95.0 551.7h0M96.5 547.5h0M109.0 563.0h0M108.2 562.8h0M105.8 553.8h0M95.0 541.3h0M105.6 554.3h0M99.9 562.4h0M95.5 547.3h0M90.8 542.5h0M104.6 531.7h0M89.1 540.6h0M98.2 553.7h0M107.7 554.0h0M98.1 552.0h0M104.0 548.2h0M109.4 563.0h0M98.5 554.7h0M98.6 554.0h0M100.6 545.9h0M94.2 547.7h0M103.2 549.6h0M92.2 547.4h0M106.2 552.2h0M101.7 565.0h0M98.8 548.1h0M97.4 556.6h0M89.8 530.0h0M90.4 541.7h0M106.7 553.3h0M102.7 544.4h0M96.4 545.6h0M98.6 552.5h0M91.6 540.1h0M103.5 553.8h0M100.3 556.0h0M100.8 563.9h0M100.0 554.9h0M104.1 559.3h0M101.8 560.5h0M101.8 563.6h0M98.3 533.8h0M104.3 550.8h0M89.2 539.8h0M110.4 559.9h0M93.7 549.4h0M104.3 557.7h0M100.3 512.7h0M93.0 540.0h0M99.6 558.8h0M104.6 554.2h0M108.4 557.3h0M106.3 563.0h0M96.2 555.9h0M98.9 554.8h0M101.0 559.8h0M97.6 557.0h0M96.1 553.4h0M93.9 540.6h0M101.4 559.7h0M95.5 554.7h0M92.2 539.5h0M102.0 548.4h0M96.2 555.5h0M105.0 529.4h0M103.5 548.1h0M94.8 526.6h0M92.2 544.3h0M97.6 515.4h0M96.9 543.5h0M105.2 552.8h0M106.6 548.2h0M97.5 554.0h0M96.6 557.4h0M90.4 528.8h0M92.9 536.7h0M89.5 545.3h0M90.7 524.0h0M97.8 541.4h0" stroke="#cab2d6" stroke-width="0.62" stroke-linecap="round" fill="none" stroke-opacity="0.9"/>
<path d="M130.7 498.3h0M102.5 495.7h0M116.9 498.2h0M119.4 494.3h0M116.9 498.5h0M124.5 491.7h0M130.5 493.9h0M115.5 492.3h0M108.7 486.2h0M123.9 493.5h0M109.2 496.4h0M100.5 498.6h0M99.2 482.3h0M95.7 493.2h0M122.3 496.2h0M119.3 492.9h0M92.9 474.2h0M121.4 492.0h0M109.3 478.3h0M112.7 496.4h0M111.4 497.5h0M119.5 498.3h0M126.9 495.7h0M127.3 492.3h0M119.7 493.6h0M119.8 497.8h0M130.7 496.9h0M114.8 498.3h0M111.2 499.1h0M103.5 498.0h0M100.5 484.0h0M117.7 495.5h0M115.3 496.2h0M92.2 495.0h0M128.9 493.8h0M101.2 497.3h0M93.8 477.9h0M111.2 498.1h0M117.7 493.2h0M102.4 496.6h0M107.3 497.3h0M120.0 497.1h0M102.7 484.6h0M100.1 481.6h0M96.1 479.7h0M103.6 497.7h0M123.4 497.2h0M133.6 496.4h0M134.8 496.9h0M136.5 497.6h0M115.9 490.1h0M107.0 478.4h0M120.8 492.5h0M106.9 498.0h0M114.7 494.8h0M134.4 495.6h0M102.8 485.3h0M103.1 487.2h0M96.2 480.7h0M114.8 497.7h0M115.9 496.6h0M115.2 498.8h0M105.6 488.8h0M98.8 496.1h0M116.9 491.6h0M110.6 491.8h0M102.8 485.5h0M102.7 485.3h0M112.0 493.5h0M105.1 495.8h0M120.9 495.2h0M107.8 494.4h0M117.7 492.7h0M124.1 491.1h0M99.4 482.0h0M122.5 489.8h0M104.0 495.9h0M120.6 492.6h0M98.7 490.5h0M94.7 483.5h0M128.7 494.8h0M125.7 495.4h0M104.2 485.4h0M111.9 493.8h0M104.7 497.7h0M127.4 496.6h0M101.6 481.9h0M113.5 497.0h0M117.8 493.8h0M113.7 498.0h0M124.6 491.0h0M116.2 494.8h0M92.5 476.8h0M105.4 496.1h0M116.5 493.8h0M97.7 479.2h0M117.4 499.4h0M109.6 494.3h0M101.5 485.5h0M131.8 497.5h0M120.1 497.8h0M103.5 486.2h0M96.2 478.3h0M119.1 492.6h0M104.0 496.3h0M110.2 497.6h0M123.6 493.5h0M127.6 493.9h0M109.3 494.1h0M104.0 498.8h0M115.2 490.9h0M107.8 496.2h0M105.0 497.2h0M124.6 498.5h0M92.5 477.7h0M99.2 484.6h0M122.7 495.5h0M115.9 496.8h0M113.2 497.1h0M125.6 496.5h0M117.9 489.1h0M119.0 495.6h0M124.9 497.9h0M110.1 484.4h0M126.6 491.5h0M103.9 488.3h0M119.7 497.9h0M110.4 493.6h0M104.3 493.2h0M92.2 476.7h0M126.4 492.0h0M116.3 495.6h0M133.1 495.2h0M94.1 480.1h0M102.5 499.4h0M112.4 494.5h0M113.1 487.8h0M110.9 498.8h0M131.2 497.7h0M112.8 497.0h0M109.5 494.0h0M109.8 497.1h0M101.9 495.5h0M127.0 490.7h0M112.9 500.9h0M107.9 494.4h0M131.0 494.7h0M127.1 498.0h0M120.5 495.3h0M107.8 495.5h0M126.2 498.8h0M91.1 475.4h0M123.8 499.4h0M113.2 497.4h0M112.4 495.8h0M97.0 480.9h0M130.5 497.1h0M119.2 497.1h0M98.0 481.8h0M124.4 494.7h0M105.5 495.0h0M97.8 482.0h0M92.7 476.7h0M125.9 493.8h0M125.5 495.5h0M109.5 498.0h0M113.2 493.8h0M113.7 494.5h0M123.8 496.9h0M112.4 498.7h0M93.0 498.8h0M122.2 494.3h0M113.8 497.1h0M121.9 491.2h0M132.0 493.5h0M121.5 492.5h0M125.4 491.2h0M124.8 498.6h0M114.6 493.0h0M117.1 496.4h0M115.8 492.9h0M120.8 496.9h0M121.0 490.3h0M125.9 497.3h0M111.4 492.6h0M94.3 476.2h0M106.1 497.5h0M129.0 492.9h0M102.6 497.3h0M109.1 497.7h0M99.1 481.9h0M105.2 497.6h0M91.3 477.3h0M102.2 494.7h0M113.5 483.1h0M123.1 491.7h0M112.4 497.1h0M120.4 493.8h0M103.0 487.8h0M92.9 477.2h0M109.1 484.7h0M101.3 499.4h0M114.8 492.5h0M130.2 495.4h0M103.0 484.6h0M105.4 482.6h0M118.8 494.6h0M124.4 492.4h0M126.9 492.8h0M121.2 496.0h0M134.2 497.2h0M111.2 495.8h0M107.5 497.6h0M96.1 480.3h0M118.9 493.7h0M125.1 495.6h0M124.5 496.9h0M132.4 496.5h0M118.7 495.7h0M129.1 497.3h0M122.2 491.7h0M119.2 494.2h0M123.5 494.8h0M112.4 495.3h0M107.3 499.2h0M100.9 483.3h0M102.7 499.3h0M124.2 494.7h0M115.2 493.9h0M112.9 496.8h0M96.1 491.9h0M136.2 496.4h0M109.0 493.5h0M120.9 494.3h0M118.7 496.0h0M104.1 486.5h0M125.4 495.2h0M105.0 499.5h0M102.6 482.6h0M110.9 495.2h0M123.6 495.6h0M119.7 489.5h0M128.4 492.3h0M102.0 487.5h0M115.7 496.0h0M118.7 497.2h0M105.6 499.6h0M102.7 485.6h0M111.2 496.2h0M127.6 495.4h0M114.7 500.4h0M119.0 491.7h0M131.1 495.5h0M129.7 495.6h0M121.9 493.7h0M128.0 496.7h0M130.6 495.2h0M120.5 492.7h0M97.8 498.4h0M119.2 497.9h0M115.2 491.6h0M105.4 497.3h0M117.3 496.1h0M102.3 497.5h0M108.9 490.5h0M114.7 491.9h0M123.5 498.4h0M126.4 496.7h0M92.5 475.5h0M122.3 492.5h0M129.6 494.7h0M125.9 495.9h0M131.6 496.7h0M121.2 489.0h0M97.1 480.9h0M102.7 493.1h0M117.1 492.5h0M119.8 491.7h0M121.1 496.2h0M119.0 498.1h0M100.3 483.1h0M122.5 489.5h0M119.8 491.6h0M131.5 494.7h0M110.2 498.0h0M103.8 485.1h0M130.7 496.8h0M104.7 486.1h0M117.4 498.7h0M114.8 491.4h0M117.5 493.5h0M102.1 485.1h0M112.3 494.1h0M93.6 484.7h0M95.9 478.1h0M123.4 493.6h0M93.9 477.4h0M117.2 492.8h0M126.1 491.6h0M120.6 493.9h0M120.0 491.6h0M118.6 498.5h0M113.3 492.1h0M128.7 495.0h0M117.6 496.2h0M94.4 480.1h0M123.2 490.2h0M121.8 489.9h0M96.2 481.1h0M123.3 490.9h0M107.5 490.4h0M108.6 495.3h0M117.1 497.7h0M110.8 496.8h0M112.8 493.3h0M119.6 495.2h0M126.4 498.3h0M120.2 491.8h0M132.2 494.2h0M103.1 485.1h0M101.9 481.6h0M121.5 490.6h0M104.4 486.2h0M134.3 496.2h0M127.6 489.9h0M130.3 493.3h0M103.5 496.0h0M113.7 489.1h0M125.5 495.9h0M105.0 496.3h0M113.4 495.4h0M107.1 496.1h0M123.1 489.4h0M118.7 490.7h0M132.6 494.5h0M97.4 478.8h0M124.8 496.8h0M96.8 479.4h0M110.7 492.7h0M121.0 492.1h0M101.4 496.6h0M112.7 494.2h0M125.6 495.7h0M124.0 493.1h0M110.9 494.6h0M103.4 486.8h0M122.4 495.1h0" stroke="#6a3d9a" stroke-width="0.62" stroke-linecap="round" fill="none" stroke-opacity="0.9"/>
<path d="M112.5 516.2h0M103.8 511.4h0M97.7 529.1h0M100.0 526.5h0M96.7 515.0h0M102.3 513.6h0M103.6 510.1h0M108.9 518.9h0M107.9 515.3h0M92.6 512.2h0M109.5 523.4h0M113.8 513.3h0M109.6 520.5h0M104.3 512.7h0M111.5 517.3h0M102.6 512.8h0M104.7 514.8h0M102.9 522.7h0M103.2 523.9h0M111.9 515.9h0M105.4 521.3h0M109.4 510.6h0M105.1 523.0h0M103.0 528.7h0M111.9 509.1h0M110.2 517.3h0M110.6 509.7h0M105.4 514.5h0M105.3 524.0h0M104.1 517.0h0M110.1 515.1h0M101.2 518.1h0M102.3 527.9h0M106.4 509.7h0M114.2 517.6h0M106.2 513.3h0M112.9 513.8h0M112.5 513.9h0M90.6 525.8h0M104.2 516.8h0M103.5 524.8h0M103.1 512.2h0M103.2 512.4h0M107.7 511.4h0M99.2 518.7h0M102.3 518.4h0M110.4 519.0h0M104.9 519.6h0M112.4 510.1h0M109.2 521.2h0M98.1 518.3h0M100.4 518.6h0M107.9 522.2h0M113.3 521.4h0M95.7 522.7h0M104.3 511.2h0M101.0 520.7h0M113.2 518.8h0M98.4 525.0h0M112.5 518.8h0M99.6 507.4h0M106.8 512.4h0M101.2 517.8h0M112.0 521.7h0M102.2 516.1h0M103.3 510.2h0M104.9 531.7h0M95.2 515.6h0M112.6 521.5h0M115.0 517.3h0M102.9 519.1h0M102.5 520.0h0M104.8 520.0h0M107.5 528.4h0M104.3 515.4h0M104.2 529.3h0M107.7 516.4h0M99.9 508.7h0M106.5 512.2h0M99.4 518.4h0M106.2 519.8h0M101.6 519.7h0M107.0 512.7h0M106.0 510.5h0M98.0 509.6h0M104.7 513.0h0M101.9 526.8h0M104.0 525.4h0M112.3 521.0h0M112.5 517.8h0M111.8 521.2h0M104.8 512.3h0M107.2 518.9h0M114.9 513.5h0M113.5 514.5h0M98.5 511.1h0M112.0 522.0h0M104.4 528.4h0M96.1 525.1h0M103.6 528.1h0M106.6 510.2h0M109.0 518.4h0M110.6 513.4h0M105.0 519.1h0M111.6 514.2h0M92.6 518.2h0M108.1 518.1h0M106.3 520.3h0M113.9 515.6h0M106.1 511.5h0M112.1 520.4h0M98.7 518.9h0M107.1 514.3h0M102.6 512.8h0M102.6 520.5h0M110.5 514.2h0M101.2 532.0h0M108.3 512.3h0M107.9 509.3h0M113.1 522.2h0M106.1 512.4h0M108.5 512.9h0M112.6 521.0h0M103.2 524.0h0M108.5 513.0h0M108.2 519.7h0M110.8 517.7h0M114.1 518.6h0M107.5 510.7h0M113.3 516.7h0M114.8 516.5h0M105.3 512.6h0M102.2 516.9h0M106.4 511.5h0M106.7 513.0h0M112.5 521.2h0M110.2 508.4h0M114.3 517.6h0M101.4 516.2h0M106.0 513.4h0M105.9 520.8h0M104.5 519.4h0M100.5 512.4h0M112.6 513.7h0M97.4 527.3h0M107.5 522.2h0M115.3 513.4h0M107.9 511.4h0M112.5 512.0h0M95.3 519.2h0M111.7 511.2h0M108.0 511.5h0M114.6 516.3h0M109.1 515.3h0M107.5 516.7h0M102.4 519.0h0M109.4 515.8h0M105.6 512.7h0M91.0 516.4h0M105.4 511.6h0M95.7 514.6h0M98.9 511.9h0M105.7 518.4h0M109.0 512.6h0M107.6 520.1h0M112.9 521.8h0M96.4 518.2h0M109.9 512.9h0M114.8 521.1h0M111.8 516.2h0M102.3 517.6h0M92.7 516.2h0M105.4 513.9h0M110.4 515.8h0M111.9 519.1h0M103.6 512.5h0M106.3 512.9h0M113.3 511.2h0M104.9 511.5h0M103.8 530.6h0M107.9 522.7h0M106.7 513.0h0M104.5 512.2h0M111.1 519.1h0M114.7 516.5h0M99.7 511.3h0M104.3 517.3h0M103.1 516.1h0M110.0 507.1h0M94.1 518.7h0M105.9 529.6h0M110.4 508.8h0M112.5 519.6h0M103.4 518.3h0M111.4 518.7h0M111.2 518.0h0M103.7 522.6h0M103.6 513.3h0M111.2 515.5h0M109.6 513.8h0M108.6 513.5h0M101.6 516.6h0M109.0 518.6h0M102.8 516.6h0M102.3 515.8h0M104.7 518.4h0M94.9 514.0h0M107.8 519.1h0M96.5 517.0h0M106.4 521.6h0M91.6 514.9h0M102.4 529.4h0M110.5 519.2h0M97.4 521.4h0M104.4 519.6h0M113.1 513.5h0M96.6 528.8h0M106.6 525.6h0M93.7 514.7h0M106.3 518.0h0M104.5 510.8h0M111.5 516.9h0M103.4 517.0h0M101.1 520.0h0M99.9 519.4h0M107.2 515.4h0M105.9 522.0h0M106.1 520.6h0M102.4 512.5h0M104.2 521.5h0M98.4 523.6h0M104.8 514.7h0M101.1 518.6h0M110.0 522.1h0M108.2 512.6h0M108.7 512.9h0M109.7 513.1h0M101.2 529.7h0M115.6 516.6h0M96.2 525.9h0M101.9 528.2h0M103.1 518.3h0M95.9 516.6h0M103.1 528.9h0M92.3 513.1h0M111.2 514.3h0M114.1 519.0h0M108.8 511.9h0M103.2 507.0h0M105.6 522.0h0M106.3 514.6h0M111.5 519.0h0M112.1 513.5h0M101.4 511.8h0M103.9 517.8h0M100.4 518.3h0M110.4 522.7h0M105.5 516.2h0M90.5 515.7h0M90.1 517.0h0M110.5 514.4h0M94.4 516.5h0M107.4 514.1h0M111.7 519.6h0M105.3 517.0h0M99.7 508.4h0M102.2 514.5h0M113.2 519.1h0M102.0 516.2h0M111.8 513.6h0M112.9 519.9h0M105.0 520.9h0M113.3 513.0h0M104.0 514.0h0M104.1 520.2h0M102.3 515.3h0M111.8 520.2h0M107.5 517.6h0M112.5 513.3h0M112.1 519.4h0M103.9 512.4h0M105.8 519.0h0M95.4 520.0h0M111.1 513.3h0M105.3 517.6h0M108.6 523.2h0M92.3 516.4h0M105.7 512.6h0M110.0 509.1h0M102.7 511.4h0M107.5 511.8h0M94.0 528.1h0M112.7 520.5h0M109.8 514.9h0M101.5 517.0h0M111.3 521.2h0M107.8 509.9h0" stroke="#7570b3" stroke-width="0.62" stroke-linecap="round" fill="none" stroke-opacity="0.9"/>
<path d="M172.7 523.3h0M170.1 518.9h0M181.5 518.2h0M183.2 515.3h0M178.1 518.6h0M177.0 519.2h0M176.4 515.4h0M182.7 519.6h0M177.7 515.7h0M179.3 522.7h0M176.6 520.8h0M177.9 522.3h0M181.2 517.1h0M176.9 518.3h0M176.3 515.5h0M175.0 523.0h0M180.5 516.2h0M171.4 520.9h0M182.6 517.6h0M179.4 519.4h0M175.1 520.4h0M178.5 520.9h0M178.8 517.0h0M177.3 521.6h0M177.0 521.0h0M176.1 518.8h0M178.1 514.7h0M174.7 515.7h0M176.4 520.5h0M172.5 520.7h0M181.2 516.5h0M179.2 519.3h0M174.0 522.0h0M179.7 522.2h0M171.2 519.2h0M169.1 518.0h0M178.9 515.7h0M172.1 519.2h0M171.2 518.1h0M180.4 520.1h0M181.9 521.6h0M174.7 516.0h0M181.8 518.7h0M185.1 516.6h0M184.3 518.8h0M179.2 517.9h0M177.0 513.8h0M177.2 522.7h0M175.3 519.8h0M174.4 519.1h0M177.9 520.4h0M180.6 517.2h0M175.1 516.8h0M178.7 513.7h0M175.8 521.2h0M170.1 518.8h0M179.5 520.5h0M184.3 515.2h0M173.0 516.7h0M170.6 520.6h0M170.4 519.6h0M174.8 516.8h0M177.8 523.9h0M171.3 518.0h0M173.8 522.2h0M171.6 517.3h0M175.9 516.5h0M179.0 521.2h0M174.1 523.7h0M175.4 523.5h0M175.6 521.9h0M180.5 520.5h0M168.3 517.2h0M175.4 524.1h0M177.1 515.8h0M169.1 519.8h0M181.5 521.0h0M175.5 520.3h0M176.2 523.9h0M174.2 520.2h0M177.0 521.8h0M180.9 517.3h0M177.5 514.9h0M173.6 520.5h0M173.1 522.4h0M178.5 521.4h0M179.7 515.1h0M174.9 520.8h0M178.6 518.4h0M170.6 518.9h0M178.9 519.5h0M170.7 517.7h0M176.4 514.5h0M174.6 520.8h0M181.9 520.8h0M174.1 521.0h0M177.8 520.5h0M178.0 521.3h0M182.1 521.3h0M173.8 515.6h0M173.1 517.6h0M177.8 519.8h0M178.3 521.6h0M171.8 517.9h0M180.5 515.4h0M181.0 522.4h0M172.6 521.3h0M180.4 517.7h0M176.2 515.3h0M179.5 521.0h0M181.1 522.6h0M175.6 520.5h0M176.9 517.9h0" stroke="#ffff99" stroke-width="0.62" stroke-linecap="round" fill="none" stroke-opacity="0.9"/>
<path d="M171.1 466.9h0M164.2 481.5h0M163.6 473.7h0M164.7 470.1h0M152.3 483.1h0M159.3 473.0h0M170.4 468.0h0M164.5 467.5h0M156.9 475.3h0M172.0 468.6h0M157.9 490.0h0M171.3 470.4h0M166.0 474.3h0M149.6 477.3h0M152.3 483.1h0M161.9 470.2h0M149.8 481.2h0M163.2 479.9h0M164.0 466.5h0M164.2 481.1h0M160.1 474.7h0M153.1 484.4h0M165.5 475.0h0M157.3 476.4h0M163.8 468.6h0M164.2 478.1h0M162.8 472.0h0M163.6 470.5h0M175.7 466.9h0M152.6 478.5h0M149.7 479.2h0M159.5 470.9h0M166.2 467.9h0M154.7 476.0h0M157.2 468.3h0M152.3 475.3h0M171.8 466.0h0M169.4 464.6h0M173.9 480.9h0M154.0 478.1h0M168.5 472.0h0M163.9 475.5h0M164.0 478.5h0M164.8 472.8h0M157.6 476.6h0M170.6 471.6h0M170.1 467.0h0M163.7 470.7h0M162.9 474.1h0M172.1 469.1h0M166.2 484.4h0M149.5 487.5h0M171.4 480.4h0M170.5 468.3h0M164.7 467.4h0M164.5 469.8h0M156.1 481.5h0M165.4 474.5h0M166.7 483.1h0M169.6 465.7h0M162.2 480.4h0M165.7 483.2h0M165.1 476.3h0M170.3 462.8h0M164.9 478.4h0M161.5 481.1h0M164.2 478.6h0M174.2 467.8h0M175.5 464.4h0M162.2 475.3h0M173.3 466.5h0M163.1 483.5h0M153.4 479.4h0M163.5 482.4h0M164.3 473.0h0M157.7 477.6h0M167.3 476.7h0M160.3 478.3h0M147.9 479.5h0M161.7 478.7h0M164.6 467.9h0M161.5 470.9h0M149.2 481.0h0M153.0 479.9h0M158.5 476.1h0M143.6 467.5h0M159.3 478.9h0M164.1 473.9h0M149.9 477.5h0M148.3 480.4h0M168.6 470.6h0M150.8 475.4h0M175.2 465.8h0M149.9 479.8h0M166.3 478.6h0M153.1 482.1h0M165.2 480.1h0M150.0 483.6h0M151.9 479.9h0M161.5 482.4h0M159.9 479.2h0M167.9 478.1h0M164.8 478.1h0M161.9 476.0h0M166.4 481.6h0M165.7 474.9h0M160.9 474.0h0M164.7 481.6h0M163.7 479.3h0M157.6 478.8h0M166.0 481.9h0M167.4 468.9h0M168.0 473.1h0M148.5 482.4h0M170.5 466.8h0M168.0 469.4h0M153.2 483.5h0M161.1 476.1h0M158.1 478.4h0M156.8 487.2h0M163.9 464.8h0M155.4 477.9h0M159.1 478.9h0M165.0 470.4h0M163.0 481.4h0M163.4 469.2h0M172.2 488.3h0M170.1 465.2h0M165.7 473.0h0M153.4 483.1h0M164.9 477.3h0M163.3 475.5h0M166.5 483.3h0M155.8 477.0h0M151.6 484.9h0M162.0 470.3h0M158.1 474.9h0M176.5 466.0h0M157.3 475.6h0M165.6 464.6h0M160.7 464.8h0M162.4 477.0h0M149.3 479.9h0M171.5 470.9h0M164.8 465.9h0M174.6 466.6h0M164.2 475.6h0M161.1 478.7h0M164.8 469.7h0M154.0 479.3h0M165.0 477.6h0M172.8 470.1h0M165.8 482.5h0M161.7 471.1h0M164.1 483.1h0M166.0 480.5h0M155.3 476.8h0M156.3 480.6h0M157.4 487.9h0M150.7 481.3h0M158.3 473.9h0M164.2 470.5h0M158.4 478.9h0M170.3 467.4h0M164.7 484.2h0M155.5 475.4h0M149.2 480.8h0M165.7 472.8h0M159.1 474.3h0M163.4 471.8h0M171.6 465.1h0M169.4 471.5h0M173.6 466.2h0M164.7 469.6h0M162.6 466.6h0M166.7 473.7h0M164.7 472.6h0M153.1 474.5h0M162.3 471.6h0M147.2 479.1h0M162.4 466.5h0M171.6 467.6h0" stroke="#e7298a" stroke-width="0.62" stroke-linecap="round" fill="none" stroke-opacity="0.9"/>
<path d="M146.5 482.7h0M145.0 483.6h0M146.5 482.6h0M145.2 481.4h0M146.9 482.4h0M146.5 485.4h0M145.8 482.3h0M146.1 483.0h0M146.3 482.4h0M146.4 482.6h0M147.0 482.2h0M146.8 482.8h0M145.1 483.5h0M146.2 483.9h0M147.1 482.9h0M147.3 483.1h0M146.1 481.4h0M148.6 482.8h0M148.3 482.5h0M144.5 484.0h0M147.5 483.7h0M145.7 483.5h0M144.9 484.3h0M146.4 483.8h0" stroke="#b15928" stroke-width="0.62" stroke-linecap="round" fill="none" stroke-opacity="0.9"/>
<path d="M87.6 466.2h0M82.6 459.7h0M96.7 443.2h0M91.8 456.0h0M72.1 440.4h0M83.1 464.6h0M78.2 455.0h0M66.4 463.8h0M102.1 449.1h0M87.3 456.1h0M74.4 443.2h0M73.5 436.9h0M93.3 445.2h0M69.4 441.1h0M64.1 455.4h0M101.3 459.6h0M81.1 442.0h0M90.1 468.3h0M86.7 440.2h0M73.8 459.4h0M72.4 465.3h0M82.4 451.7h0M69.6 450.6h0M64.7 460.0h0M91.0 454.6h0M89.0 462.3h0M82.1 440.3h0M86.4 448.3h0M65.2 440.2h0M87.4 439.1h0M73.2 442.1h0M96.0 451.5h0M75.3 436.8h0M73.5 467.8h0M69.4 460.5h0M103.7 453.5h0M92.8 466.9h0M82.4 458.6h0M88.1 440.7h0M72.1 454.7h0M88.3 457.8h0M68.0 444.1h0M81.7 454.5h0M91.1 438.6h0M80.2 448.8h0M62.6 454.5h0M76.4 458.9h0M75.0 462.4h0M81.6 465.9h0M71.7 439.7h0M72.0 438.5h0M69.1 452.9h0M70.3 451.7h0M94.8 462.8h0M95.5 450.5h0M77.1 446.4h0M66.9 462.7h0M96.0 464.8h0M75.1 442.6h0M67.5 439.1h0M87.7 452.0h0M84.4 438.9h0M87.0 464.8h0M78.7 464.0h0M68.0 461.6h0M78.0 438.8h0M78.5 448.7h0M86.7 440.5h0M87.0 455.8h0M81.9 465.4h0M94.5 464.4h0M96.7 441.8h0M104.7 451.5h0M105.2 452.6h0M78.6 458.2h0M85.3 444.9h0M73.9 447.8h0M91.7 452.1h0M91.7 450.6h0M87.6 452.3h0M94.9 443.6h0M99.2 444.5h0M92.8 468.0h0M97.3 449.5h0M90.7 464.0h0M78.9 455.4h0M94.8 438.1h0M97.3 453.2h0M79.4 456.2h0M99.7 442.6h0M66.9 442.3h0M84.9 451.6h0M94.7 460.8h0M93.6 443.0h0M102.0 455.3h0M99.6 440.1h0M95.4 456.6h0M82.7 463.5h0M95.8 454.6h0M67.3 461.4h0M90.2 457.0h0M80.6 455.8h0M96.6 451.8h0M64.4 460.7h0M90.5 450.4h0M74.8 441.0h0M76.9 459.1h0M77.6 468.3h0M84.4 448.7h0M87.5 458.3h0M85.5 446.6h0M94.8 451.6h0M94.7 469.3h0M84.5 467.9h0M96.7 441.4h0M75.1 450.0h0M74.5 458.4h0M102.4 461.5h0M87.0 466.6h0M88.8 445.4h0M92.7 452.3h0M77.3 445.8h0M68.0 442.2h0M78.9 443.9h0M75.1 464.6h0M95.3 463.3h0M72.8 445.8h0M74.5 459.3h0M84.2 442.5h0M81.8 461.0h0M99.2 443.1h0M86.0 465.5h0M96.9 456.9h0M95.9 444.0h0M103.6 462.1h0M88.3 446.0h0M65.0 460.9h0M70.0 447.2h0M75.0 447.7h0M73.3 444.3h0M76.7 452.2h0M84.6 466.1h0M97.6 466.5h0M94.5 450.2h0M72.5 441.2h0M103.4 457.5h0M98.7 447.7h0M78.5 447.7h0M66.0 442.9h0M100.6 454.2h0M72.8 455.2h0M91.8 451.8h0M100.1 455.2h0M73.1 445.2h0M95.2 459.2h0M86.4 456.0h0M71.7 448.2h0M80.1 455.5h0M87.2 449.8h0M91.8 436.3h0M64.2 450.2h0M74.9 457.2h0M71.8 447.9h0M91.1 462.1h0M79.6 463.0h0M94.9 443.0h0M63.6 452.5h0M71.2 452.3h0M81.8 465.5h0M94.1 450.6h0M84.7 448.0h0M62.8 449.0h0M67.7 457.3h0M84.8 466.2h0M100.8 461.4h0M76.5 461.5h0M89.9 470.1h0M76.6 435.3h0M81.3 444.7h0M95.6 461.7h0M98.6 449.7h0M76.0 440.8h0M79.3 437.3h0M65.6 448.1h0M69.1 441.6h0M90.0 459.7h0M104.5 460.9h0M88.8 439.2h0M63.5 445.4h0M72.1 459.5h0M97.0 452.4h0M83.1 445.1h0M67.5 464.0h0M72.9 454.5h0M87.1 461.4h0M66.8 440.5h0M82.5 451.5h0M89.9 454.2h0M85.5 462.7h0M100.2 460.8h0M70.4 449.9h0M89.7 451.2h0M88.6 439.7h0M99.1 453.1h0M69.2 449.1h0M84.8 434.6h0M81.8 455.7h0M83.2 438.6h0M75.9 440.2h0M76.5 446.5h0M89.4 467.5h0M66.7 464.4h0M101.1 459.0h0M86.4 439.5h0M73.5 436.6h0M84.1 437.0h0M69.7 455.3h0M70.2 438.9h0M84.2 448.6h0M85.6 458.4h0M72.9 445.1h0M88.6 445.5h0M70.1 465.0h0M66.8 448.8h0M76.0 436.0h0M97.3 465.5h0M75.4 462.9h0M99.8 452.9h0M70.7 450.4h0M80.9 466.0h0M93.1 439.7h0M68.2 439.8h0M84.4 447.3h0M65.2 457.8h0M66.7 452.5h0M74.8 448.5h0M94.0 443.6h0M78.2 466.3h0M85.8 466.8h0M99.4 461.0h0M85.6 440.0h0M87.4 455.6h0M96.6 450.4h0M81.9 466.8h0M76.0 452.4h0M101.6 443.2h0M90.3 456.9h0M94.9 438.9h0M104.4 455.5h0M95.6 460.8h0M95.8 453.2h0M74.4 446.5h0M68.0 465.9h0M92.9 452.5h0M89.2 460.5h0M89.5 459.3h0M100.6 450.6h0M96.6 460.3h0M80.4 463.1h0M67.4 464.2h0M64.6 463.2h0M98.5 448.3h0M101.0 438.7h0M77.3 458.3h0M102.7 458.7h0M93.9 460.1h0M80.9 458.0h0M77.8 466.8h0M95.5 450.0h0M70.9 440.8h0M68.8 438.3h0M93.0 454.8h0M97.5 446.7h0M83.7 448.9h0M72.1 467.6h0M71.6 442.5h0M93.2 460.6h0M81.6 449.3h0M99.3 460.2h0M96.0 450.7h0M102.9 447.0h0M92.7 454.1h0M103.8 448.0h0M79.3 459.8h0M77.5 463.4h0M74.9 459.6h0M92.3 440.5h0M91.7 442.1h0M74.8 454.9h0M93.8 461.3h0M98.0 464.4h0M94.9 445.1h0M77.1 461.9h0M76.0 448.8h0M74.0 446.8h0M82.7 454.2h0M90.0 466.0h0M88.5 452.1h0M94.9 455.2h0M76.5 443.0h0M75.7 449.5h0M74.5 439.3h0M72.4 437.8h0M95.6 465.8h0M102.2 464.4h0M87.2 437.7h0M72.0 461.3h0M97.4 453.7h0M70.8 466.1h0M93.0 439.1h0M71.9 445.4h0M80.2 448.7h0M72.1 464.2h0M62.8 451.9h0M90.8 445.8h0M89.3 467.9h0M99.5 453.9h0M87.6 436.3h0M92.1 456.0h0M88.1 435.4h0M80.8 467.4h0M96.0 441.6h0M71.2 445.8h0M89.9 447.1h0M71.2 454.5h0M97.5 467.9h0M73.5 465.6h0M79.1 446.4h0M91.2 439.6h0M90.9 449.0h0M98.2 452.8h0M92.1 463.0h0M97.4 452.8h0M90.6 436.2h0M70.1 451.5h0M90.4 435.6h0M97.1 456.0h0M97.6 455.9h0M81.8 467.0h0M79.5 467.4h0M87.5 467.4h0M72.6 461.2h0M96.2 456.7h0M74.0 456.6h0M95.4 466.1h0M82.4 439.6h0M102.6 464.0h0M79.9 437.5h0M104.4 461.4h0M73.4 461.6h0M70.4 441.9h0M84.0 434.9h0M78.8 461.4h0M78.8 435.3h0M78.3 461.5h0M84.0 467.2h0M86.8 442.2h0M68.7 462.6h0M87.4 459.3h0M104.8 453.6h0M71.3 445.9h0M66.6 463.0h0M99.8 451.0h0M65.2 454.0h0M93.5 438.1h0M73.8 444.9h0M62.9 450.1h0M88.1 458.9h0M81.0 444.7h0M75.6 456.4h0M84.9 434.3h0M77.9 442.1h0M63.1 451.6h0M89.7 445.3h0M82.5 450.5h0M85.2 446.5h0M70.5 441.0h0M103.5 458.0h0M101.9 456.6h0M84.0 447.4h0M79.6 453.2h0M94.8 458.0h0M63.1 447.0h0M82.1 442.7h0M68.9 463.6h0M73.7 437.8h0M64.3 447.8h0M80.8 457.1h0M89.4 461.5h0M104.3 445.9h0M97.0 440.2h0M99.3 449.9h0M70.8 447.4h0M77.2 447.5h0M92.1 451.9h0M66.1 452.3h0M105.7 455.2h0M101.5 439.8h0M83.7 455.7h0M84.1 468.6h0M103.4 458.3h0M71.3 460.3h0M71.3 442.3h0M98.6 458.1h0M73.3 455.1h0M101.5 441.1h0M100.9 443.8h0M94.7 462.6h0M89.2 466.9h0M95.6 445.9h0M83.9 452.2h0M70.3 461.9h0M91.3 463.6h0M86.5 440.5h0M91.3 437.6h0M82.3 448.7h0M74.8 446.3h0M84.5 454.3h0M93.0 463.8h0M75.2 462.9h0M80.8 461.7h0M101.0 456.6h0M70.4 458.6h0M71.7 439.5h0M72.2 457.1h0M69.5 438.4h0M100.8 441.5h0M67.9 460.8h0M70.5 464.4h0M66.2 455.3h0M61.9 450.9h0M92.1 437.4h0M83.9 443.1h0M71.8 443.9h0M94.2 444.7h0M69.3 452.4h0M71.3 453.2h0M73.2 446.1h0M97.1 445.7h0M67.1 453.7h0M80.4 452.8h0M82.5 456.9h0M69.7 459.7h0M64.5 447.0h0M93.3 457.1h0M80.2 453.8h0M72.9 454.2h0M80.1 445.7h0M103.0 462.4h0M87.9 432.7h0M85.5 456.1h0M70.9 443.1h0M84.2 448.6h0M74.4 453.3h0M77.1 452.7h0M104.0 465.6h0M65.3 452.2h0M93.2 465.3h0M105.6 460.2h0M72.9 447.4h0M78.3 439.6h0M81.2 435.8h0M98.7 463.6h0M76.0 455.3h0M88.0 452.7h0M91.7 434.7h0M77.1 437.0h0M76.3 460.6h0M66.3 451.0h0M84.5 441.6h0M95.0 457.6h0M92.7 467.2h0M96.6 452.7h0M75.4 434.3h0M89.1 450.0h0M102.8 460.6h0M69.2 454.1h0M78.6 442.6h0M95.1 466.6h0M102.2 465.5h0M80.6 448.6h0M90.8 462.6h0M76.7 457.9h0M70.5 467.9h0M80.6 451.8h0M91.5 436.5h0M98.8 447.5h0M88.8 457.4h0M96.7 453.3h0M68.7 453.9h0M68.0 449.7h0M91.3 443.4h0M89.1 464.1h0M82.8 460.6h0M67.4 455.1h0M72.3 451.2h0M102.4 466.1h0M77.4 451.4h0M84.2 436.5h0M92.0 447.0h0M68.5 441.7h0M87.9 456.3h0M73.0 436.5h0M75.7 451.1h0M68.3 453.7h0M78.0 442.0h0M92.0 448.2h0M89.0 445.7h0M93.4 450.1h0M76.7 436.8h0M99.7 439.6h0M86.5 467.4h0M103.3 454.9h0M79.1 454.1h0M79.7 444.1h0M80.7 438.0h0M104.7 462.2h0M101.2 442.1h0M78.7 457.0h0M75.2 467.5h0M92.7 446.9h0M80.0 456.9h0M95.7 454.2h0M105.3 444.6h0M75.2 438.4h0M104.7 449.1h0M74.0 466.8h0M71.5 461.1h0M95.2 459.0h0M71.3 465.0h0M101.9 455.6h0M83.5 448.7h0M83.0 463.0h0M85.5 446.3h0M95.3 461.7h0M83.2 437.8h0M101.1 455.4h0M77.4 457.1h0M94.4 440.4h0M78.9 460.4h0M103.9 453.2h0M87.8 454.5h0M85.6 436.7h0M66.0 451.2h0M80.6 455.7h0M74.0 462.6h0M66.4 442.7h0M82.1 463.5h0M87.5 436.1h0M88.7 466.6h0M79.0 467.8h0M82.5 457.5h0M65.2 448.1h0M96.0 446.9h0M93.8 460.3h0M104.0 442.9h0M67.5 457.8h0M98.9 460.5h0M106.7 449.0h0M73.9 463.2h0M83.2 437.8h0M89.2 448.4h0M94.2 460.6h0M87.4 442.8h0M101.9 444.4h0M84.3 461.2h0M79.7 457.0h0M69.6 440.3h0M80.2 442.7h0M78.9 462.5h0M104.5 446.7h0M99.2 463.6h0M85.9 451.3h0M89.4 466.3h0M95.9 453.8h0M91.0 458.2h0M65.4 443.9h0M79.2 440.1h0M68.8 443.7h0M68.1 457.3h0M65.4 440.3h0M85.1 458.5h0M80.8 448.7h0M76.8 463.4h0M106.0 447.3h0M77.4 458.4h0M97.7 462.4h0M93.4 442.1h0M67.3 451.3h0M85.7 449.8h0M72.4 451.7h0M86.3 439.1h0M95.1 464.8h0M68.0 437.5h0M95.3 438.2h0M95.9 465.4h0M103.6 455.8h0M65.8 442.0h0M76.9 458.4h0M94.3 451.4h0M87.3 447.0h0M77.0 440.9h0M92.0 464.1h0M83.1 442.3h0M68.8 448.4h0M71.2 461.1h0M74.8 447.3h0M84.0 461.9h0M105.3 455.0h0M74.5 457.7h0M74.7 445.2h0M79.3 467.2h0M93.3 464.9h0M78.5 440.0h0M76.6 450.5h0M85.4 442.6h0M89.6 436.6h0M67.1 440.7h0M80.6 463.8h0M77.9 438.0h0M93.6 449.9h0M62.2 455.7h0M95.1 459.2h0M101.8 457.1h0M70.7 455.6h0M98.9 467.3h0M91.2 448.5h0M80.9 456.1h0M84.8 464.7h0M77.3 460.8h0M94.8 466.3h0M89.7 453.6h0M91.7 446.4h0M86.1 458.5h0M96.9 453.7h0M103.3 440.1h0M82.3 450.6h0M79.1 438.1h0M84.9 436.5h0M77.8 465.1h0M106.1 449.9h0M104.9 448.5h0M67.5 443.2h0M83.2 445.1h0M96.0 464.2h0M78.3 461.4h0M85.4 444.8h0M94.7 449.3h0M79.6 465.4h0M67.7 456.8h0M82.3 433.6h0M97.3 466.0h0M101.4 462.0h0M78.9 442.5h0M80.6 461.9h0M71.0 455.9h0M77.9 435.4h0M90.3 463.6h0M82.6 445.9h0M93.7 450.7h0M78.6 458.6h0M92.1 445.0h0M68.0 459.9h0M95.2 440.4h0M98.7 449.7h0M79.6 437.6h0M78.1 462.2h0M81.4 458.9h0M66.1 448.5h0M68.1 455.2h0M68.0 447.2h0M77.7 457.2h0M67.1 449.4h0M104.3 458.0h0M88.0 447.7h0M67.8 455.7h0M79.4 459.1h0M75.7 444.4h0M96.8 453.1h0M88.6 437.6h0M67.7 465.1h0M64.5 445.9h0M90.8 466.5h0M99.5 466.3h0M66.9 465.6h0M87.2 443.1h0M74.3 451.9h0M63.1 452.0h0M76.9 458.7h0M101.8 452.0h0M83.6 449.5h0M75.1 457.5h0M82.1 462.5h0M85.1 451.6h0M79.1 468.1h0M82.9 466.6h0M78.8 444.2h0M77.4 449.2h0M98.3 467.1h0M79.9 459.8h0M84.1 460.3h0M69.4 460.7h0M70.9 468.8h0M77.5 465.7h0M87.4 454.5h0M79.6 450.8h0M75.5 459.6h0M83.9 452.3h0M76.0 439.9h0M77.5 464.2h0M73.1 437.5h0M100.2 450.1h0M82.3 452.8h0M98.8 445.8h0M98.3 445.3h0M72.8 445.6h0M100.5 460.7h0M106.7 455.6h0M104.8 461.4h0M87.7 450.2h0M91.1 435.9h0M67.7 440.8h0M87.2 445.0h0M104.1 456.0h0M94.8 442.3h0M81.6 463.9h0M74.7 446.4h0M83.5 436.8h0M78.8 449.0h0M102.3 458.5h0M71.9 464.3h0M96.1 450.8h0M81.3 466.9h0M68.8 441.8h0M103.8 443.9h0M79.3 439.6h0M97.2 453.0h0M79.6 463.3h0M92.9 441.9h0M95.0 439.2h0M80.8 444.4h0M92.5 442.7h0M65.8 463.3h0M87.4 446.6h0M103.6 463.1h0M86.0 451.2h0M99.9 459.4h0M92.9 451.1h0M65.6 454.1h0M80.5 465.9h0M61.2 445.6h0M83.8 467.9h0M66.1 451.0h0M90.0 455.1h0M75.8 458.1h0M76.4 447.5h0M74.2 442.4h0M88.6 459.3h0M100.0 462.5h0M100.6 442.6h0M70.5 442.6h0M89.2 455.4h0M86.7 462.8h0M92.2 449.6h0M80.2 447.1h0M72.6 466.0h0M72.3 459.7h0M92.1 454.3h0M88.9 456.1h0M81.6 439.0h0M88.5 460.4h0M88.5 454.1h0M68.8 464.5h0M89.3 449.6h0M83.7 458.8h0M99.6 441.2h0M99.2 466.3h0M86.9 464.3h0M92.5 461.6h0M102.8 442.1h0M84.3 459.4h0M87.8 463.6h0M71.9 454.0h0M88.5 456.8h0M71.2 444.3h0M78.9 460.7h0M67.6 441.7h0M91.3 447.3h0M94.1 453.5h0M64.4 455.6h0M104.9 452.0h0M96.3 457.1h0M91.6 447.3h0M102.1 465.1h0M71.7 458.6h0M100.4 439.7h0M88.9 468.7h0M99.0 462.7h0M79.8 444.4h0M85.1 456.0h0M82.3 466.0h0M104.1 450.0h0M68.9 446.6h0M96.5 448.5h0M94.2 454.3h0M97.1 467.6h0M82.4 433.5h0M82.1 443.8h0M91.6 441.5h0M80.4 444.9h0M93.8 444.0h0M92.1 449.0h0M70.5 443.5h0M87.0 467.8h0M70.1 459.1h0M98.2 441.6h0M104.1 456.9h0M69.7 457.9h0M106.4 448.4h0M76.7 455.8h0M106.3 451.8h0M80.4 444.7h0M83.6 446.2h0M71.3 458.5h0M87.8 463.6h0M82.5 450.1h0M100.1 440.5h0M80.1 450.5h0M68.5 456.7h0M94.3 464.4h0M105.4 463.1h0M79.8 454.5h0M72.5 448.7h0M81.6 464.8h0M77.9 455.3h0M74.7 443.6h0M92.1 442.4h0M82.1 451.9h0M79.7 434.0h0M75.8 458.5h0M73.1 440.9h0M82.1 458.3h0M90.9 467.0h0M91.9 446.2h0M77.9 440.0h0M95.6 456.0h0M85.2 460.9h0M62.0 446.8h0M80.8 444.4h0M69.3 451.6h0M80.4 451.7h0M99.6 445.2h0M65.8 441.9h0M72.4 464.1h0M80.6 434.9h0M80.4 460.4h0M64.5 441.3h0M86.8 450.2h0M85.7 466.7h0M63.5 458.7h0M86.5 444.1h0M71.9 446.3h0M74.5 452.6h0M78.2 461.5h0M92.2 465.8h0M93.7 465.1h0M80.2 453.4h0M84.2 436.0h0M89.7 442.5h0M81.8 436.8h0M68.8 452.1h0M92.6 462.0h0M78.4 452.1h0M99.4 464.7h0M82.1 441.2h0M103.3 453.3h0M63.5 448.8h0M95.3 458.2h0M79.7 434.8h0M84.4 456.6h0M64.9 453.1h0M79.4 451.4h0M70.5 465.0h0M67.6 441.9h0M79.2 453.0h0M96.0 464.0h0M66.1 463.1h0M103.3 455.6h0M92.5 461.7h0M79.4 442.2h0M66.3 452.8h0M89.1 434.7h0M87.1 435.4h0M79.5 470.4h0M97.6 454.5h0M101.3 446.5h0M79.5 439.0h0M82.8 447.3h0M66.3 461.3h0M79.7 449.3h0M92.1 444.0h0M65.0 450.8h0M83.1 443.4h0M63.1 451.4h0M75.3 463.7h0M83.0 452.7h0M61.6 452.0h0M64.1 459.3h0M80.1 446.9h0M101.8 450.8h0M82.4 452.4h0M86.9 463.6h0M89.3 449.2h0M67.3 441.9h0M77.1 457.1h0M67.1 460.7h0M68.9 446.3h0M92.9 459.5h0M86.6 448.6h0M82.1 451.9h0M104.4 443.0h0M65.9 457.8h0M93.3 440.3h0M81.9 463.0h0M76.7 438.2h0M88.4 435.4h0M77.7 467.0h0M106.5 453.5h0M73.6 458.8h0M99.2 453.2h0M83.8 452.2h0M68.4 441.8h0M87.5 444.4h0M74.7 441.2h0M92.8 437.8h0M82.0 455.0h0M76.5 461.2h0M71.1 462.1h0M62.6 452.7h0M91.4 447.2h0M84.9 466.8h0M76.4 459.2h0M83.9 440.4h0M70.7 449.2h0M68.8 441.8h0M94.7 465.8h0M77.3 453.4h0M72.7 454.8h0M77.4 458.3h0M96.1 438.4h0M79.4 444.9h0M88.7 435.8h0M62.9 452.5h0M94.9 447.3h0M77.2 457.3h0M66.9 445.8h0M82.6 447.6h0M95.2 440.5h0M78.9 443.3h0M88.3 446.4h0M77.7 437.2h0M94.0 451.8h0M81.4 449.7h0M98.6 449.5h0M67.1 442.3h0M96.9 448.6h0M97.9 449.3h0M65.2 451.5h0M99.6 441.0h0M79.6 451.2h0M90.0 456.3h0M100.9 453.0h0M64.6 446.2h0M80.5 448.7h0M97.4 458.0h0M64.4 452.4h0M95.8 453.3h0M85.2 468.1h0M71.6 452.9h0M67.8 458.8h0M92.7 457.9h0M104.1 449.2h0M69.5 462.4h0M89.9 442.4h0M99.0 462.4h0M62.3 448.5h0M66.9 458.4h0M100.7 465.6h0M73.9 456.7h0M91.6 455.8h0M84.2 437.9h0M80.0 442.7h0M69.4 441.9h0M96.8 450.9h0M98.4 464.2h0M86.0 447.3h0M89.7 439.4h0M69.7 466.0h0M82.3 450.4h0M76.8 448.0h0M79.2 457.8h0M71.0 461.9h0M69.7 449.8h0M102.3 448.8h0M66.4 447.8h0M89.6 435.5h0M74.3 444.5h0M83.4 468.4h0M101.1 440.8h0M103.6 463.9h0M67.2 451.4h0M94.0 463.6h0M88.3 454.0h0M85.8 436.5h0M102.5 453.7h0M94.1 439.9h0M91.0 442.0h0M74.0 448.7h0M72.6 465.1h0M95.7 465.1h0M64.7 450.8h0M82.0 436.6h0M68.3 457.0h0M104.1 455.1h0M73.1 462.5h0M83.9 454.7h0M68.6 459.4h0M69.8 460.1h0M85.6 446.7h0M85.6 461.9h0M72.5 457.4h0M81.2 450.6h0M88.7 453.8h0M78.8 445.5h0M61.9 454.9h0M74.7 467.9h0M103.7 459.6h0M103.9 462.7h0M91.5 453.8h0M100.8 464.6h0M67.9 441.6h0M83.1 458.6h0M73.5 451.2h0M70.1 442.7h0M73.5 450.1h0M95.6 455.1h0M81.9 438.2h0M73.5 467.7h0M102.8 454.3h0M94.3 447.1h0M89.9 460.7h0M88.5 457.2h0M67.7 455.9h0M70.0 448.7h0M65.6 462.7h0M78.8 445.2h0M87.1 447.1h0M86.5 436.1h0M77.6 455.1h0M92.6 464.7h0M85.5 463.4h0M86.0 459.0h0M68.7 456.7h0M64.0 456.4h0M84.1 462.3h0M63.9 443.7h0M91.2 440.8h0M94.3 469.1h0M85.9 433.8h0M100.2 448.5h0M82.6 465.9h0M99.4 453.1h0M74.7 466.5h0M98.7 448.7h0M70.2 461.3h0M77.5 456.2h0M94.5 440.8h0M79.7 462.2h0M97.2 457.8h0M98.2 441.4h0M73.9 441.5h0M87.6 461.5h0M100.2 454.0h0M82.4 463.5h0M96.7 457.9h0M97.0 443.3h0M100.3 446.1h0M75.5 442.4h0M86.1 438.9h0M76.2 449.6h0M105.0 458.9h0M72.2 449.4h0M75.0 458.0h0M91.0 450.3h0M85.8 461.5h0M102.4 448.8h0M86.5 462.9h0M92.2 448.9h0M93.7 457.9h0M103.1 455.3h0M101.8 438.2h0M81.2 444.4h0M99.9 456.2h0M94.7 462.3h0M97.6 449.5h0M102.7 444.6h0M81.7 452.7h0M103.8 456.8h0M78.0 466.8h0M75.1 466.4h0M69.4 450.1h0M72.2 453.9h0M81.7 439.4h0M72.4 440.8h0M73.6 440.3h0M103.8 449.7h0M96.3 438.8h0M90.6 438.2h0M87.0 466.8h0M65.2 455.5h0M85.0 449.7h0M94.3 467.8h0M84.4 454.2h0M96.9 459.2h0M77.6 448.0h0M71.0 460.1h0M102.1 463.6h0M91.1 434.6h0M67.8 443.9h0M79.7 460.4h0M69.8 453.6h0M83.0 463.1h0M103.7 460.1h0M106.8 460.2h0M76.7 436.3h0M81.3 460.5h0M104.3 457.5h0M96.2 436.9h0M84.0 441.1h0M100.7 439.9h0M72.3 453.0h0M79.4 442.3h0M90.4 436.8h0M65.3 455.0h0M88.4 461.1h0M103.9 458.1h0M87.0 458.0h0M90.6 464.2h0M89.3 459.6h0M74.8 448.5h0M72.2 443.5h0M82.1 452.0h0M80.2 457.6h0M102.4 452.8h0M74.4 443.2h0M82.3 454.6h0M92.4 462.6h0M79.7 450.8h0M93.3 445.7h0M84.6 459.2h0M76.8 456.8h0M104.8 452.5h0M89.7 435.8h0M82.8 439.2h0M92.4 460.5h0M95.7 445.0h0M81.0 455.3h0M83.8 460.9h0M79.9 465.7h0M102.3 463.2h0M65.7 442.4h0M103.4 462.2h0M87.6 439.3h0M64.6 451.0h0M81.8 457.5h0M90.8 448.4h0M73.1 438.0h0M82.9 461.3h0M75.3 435.5h0M93.5 438.9h0M96.7 460.4h0M71.6 439.2h0M85.0 449.7h0M95.1 439.5h0M100.1 450.2h0M65.8 446.2h0M88.0 445.6h0M94.5 442.6h0M64.9 447.0h0M100.3 463.6h0M94.3 463.4h0M102.7 452.5h0M98.0 462.3h0M81.9 451.8h0M64.5 461.6h0M82.4 467.8h0M90.1 438.9h0M94.1 450.4h0M90.0 444.7h0M78.4 451.3h0M64.2 461.4h0M98.6 463.6h0M105.3 454.8h0M103.5 444.9h0M67.9 453.5h0M67.9 454.8h0M71.6 450.1h0M85.9 437.1h0M87.1 468.5h0M94.1 439.7h0M87.8 455.0h0M94.9 440.2h0M70.0 444.6h0M77.0 449.7h0M72.1 435.4h0M92.2 466.8h0M76.9 452.7h0M85.9 453.3h0M83.1 439.8h0M92.4 436.7h0M102.0 450.7h0M88.8 453.8h0M73.5 437.7h0M85.6 443.2h0M86.4 437.0h0M88.0 449.4h0M86.8 438.1h0M83.7 436.9h0M73.0 436.4h0M83.3 464.7h0M82.9 453.9h0M63.1 448.1h0M74.6 443.0h0M87.8 441.0h0M80.8 435.2h0M98.0 445.6h0M97.6 468.4h0M78.1 461.8h0M67.4 440.7h0M74.7 469.9h0M77.5 450.9h0M77.9 454.4h0M64.9 456.1h0M83.9 444.8h0M102.9 465.5h0M97.7 451.8h0M81.2 444.4h0M100.5 461.4h0M96.5 448.9h0M94.7 440.8h0M99.5 440.7h0M69.2 463.8h0M68.3 458.2h0" stroke="#a6cee3" stroke-width="0.62" stroke-linecap="round" fill="none" stroke-opacity="0.9"/>
<path d="M73.9 515.9h0M83.5 517.4h0M70.4 527.5h0M70.7 511.2h0M64.1 511.4h0M53.7 520.7h0M72.2 538.1h0M82.4 520.4h0M68.3 511.1h0M52.4 517.8h0M60.5 507.6h0M61.5 528.1h0M70.7 515.2h0M81.0 518.6h0M60.2 526.9h0M78.5 509.1h0M70.4 528.1h0M67.4 526.0h0M69.3 531.6h0M59.1 519.7h0M54.8 510.7h0M54.2 525.8h0M63.8 532.1h0M71.5 510.9h0M74.0 508.2h0M77.9 517.0h0M58.1 516.8h0M56.4 518.6h0M70.6 523.9h0M79.2 524.3h0M57.8 527.6h0M62.2 535.3h0M79.7 523.3h0M56.5 519.7h0M83.4 513.2h0M74.8 504.3h0M72.7 503.6h0M83.0 526.8h0M61.3 510.8h0M69.9 539.7h0M67.7 506.0h0M56.8 520.2h0M70.4 527.9h0M60.5 508.2h0M63.1 527.9h0M57.1 523.8h0M73.3 523.1h0M67.9 510.2h0M65.8 519.5h0M64.2 512.6h0M79.4 527.5h0M66.1 522.2h0M56.2 532.1h0M69.1 512.2h0M58.3 530.0h0M71.0 516.7h0M76.3 522.5h0M61.6 517.2h0M77.5 528.7h0M58.8 508.4h0M82.6 522.9h0M77.7 522.2h0M79.5 523.0h0M65.5 536.1h0M62.9 520.4h0M81.5 514.5h0M73.6 535.8h0M70.5 526.5h0M60.5 520.0h0M60.1 518.2h0M56.1 508.0h0M58.7 514.4h0M82.6 512.3h0M81.6 515.3h0M79.2 513.7h0M62.6 533.2h0M82.5 522.5h0M52.5 517.7h0M81.5 527.0h0M55.1 520.3h0M56.1 510.7h0M59.2 508.9h0M73.3 519.0h0M71.5 519.7h0M84.6 523.7h0M68.9 533.3h0M72.7 514.5h0M64.7 507.1h0M58.8 531.5h0M71.1 535.6h0M76.7 526.2h0M55.6 523.4h0M73.0 535.6h0M60.0 511.4h0M76.9 528.4h0M54.2 525.5h0M77.2 535.4h0M59.2 518.6h0M61.0 532.0h0M52.5 517.4h0M73.0 502.9h0M52.5 525.9h0M60.8 533.5h0M60.0 508.9h0M58.4 509.1h0M61.2 534.9h0M81.1 516.4h0M55.4 529.3h0M75.8 512.8h0M68.5 517.7h0M75.1 512.7h0M57.7 509.6h0M61.4 508.1h0M80.3 528.2h0M81.6 516.9h0M68.2 524.3h0M55.2 512.7h0M59.4 506.0h0M68.4 535.4h0M73.2 523.4h0M68.6 538.3h0M66.3 537.1h0M65.4 514.9h0M70.2 510.8h0M63.7 524.7h0M68.3 538.8h0M60.2 528.6h0M55.7 527.3h0M83.3 517.7h0M57.5 531.6h0M66.8 532.2h0M84.4 513.6h0M68.4 502.3h0M58.8 532.4h0M58.1 513.3h0M85.0 522.1h0M75.0 530.9h0M53.8 509.1h0M72.8 536.7h0M59.5 511.4h0M56.0 533.4h0M82.8 516.7h0M68.4 536.0h0M56.5 506.6h0M83.7 522.3h0M79.7 507.3h0M69.3 509.5h0M71.8 536.6h0M83.1 516.7h0M80.1 518.2h0M73.7 506.3h0M66.6 502.2h0M80.8 516.5h0M84.2 518.5h0M85.0 517.3h0M61.1 532.3h0M79.4 521.4h0M68.2 530.0h0M76.2 520.7h0M63.4 504.9h0M84.0 522.4h0M63.5 513.7h0M64.8 524.5h0M65.4 512.9h0M72.6 535.8h0M83.4 518.2h0M58.9 514.6h0M59.1 529.0h0M66.9 536.9h0M68.0 526.3h0M71.6 537.0h0M56.9 525.1h0M67.6 509.1h0M70.6 504.0h0M69.2 531.2h0M64.6 506.2h0M53.4 526.2h0M60.1 531.5h0M83.6 530.7h0M75.0 512.6h0M81.3 528.0h0M64.1 506.0h0M82.1 529.7h0M64.8 534.7h0M67.4 535.9h0M60.0 509.5h0M76.8 535.4h0M72.0 537.9h0M66.9 510.0h0M78.6 510.0h0M59.7 514.9h0M74.4 529.4h0M66.6 527.5h0M84.2 516.0h0M53.7 516.8h0M65.0 526.4h0M76.8 529.1h0M68.3 521.2h0M63.5 505.4h0M58.8 509.1h0M60.4 503.7h0M64.1 510.1h0M80.5 506.9h0M74.3 531.3h0M60.7 524.4h0M60.6 507.1h0M72.4 505.9h0M63.1 510.5h0M63.8 518.0h0M64.9 523.3h0M84.4 517.5h0M75.2 509.2h0M58.1 530.7h0M69.9 512.5h0M67.4 533.7h0M63.5 533.4h0M64.2 521.0h0M75.5 528.6h0M66.1 504.2h0M76.3 514.7h0M62.8 514.8h0M80.0 531.0h0M85.6 514.3h0M71.0 533.1h0M81.4 523.6h0M70.7 530.6h0M61.2 506.7h0M77.5 523.4h0M67.1 517.4h0M66.8 519.4h0M68.3 521.5h0M56.4 524.3h0M75.5 510.4h0M54.4 525.1h0M55.0 519.6h0M72.4 525.9h0M64.7 512.5h0M55.8 507.0h0M75.4 502.9h0M79.0 514.6h0M80.1 534.0h0M80.8 532.4h0M61.3 529.9h0M68.7 519.1h0M75.1 531.2h0M66.7 518.8h0M66.6 504.5h0M56.3 530.6h0M63.6 517.3h0M76.5 508.7h0M72.3 534.7h0M67.5 506.8h0M53.9 510.6h0M83.8 530.1h0M68.8 510.0h0M56.2 523.4h0M71.4 538.3h0M70.6 506.5h0M63.2 525.5h0M56.2 529.0h0M59.7 535.2h0M74.8 536.4h0M74.2 505.2h0M70.0 535.4h0M80.7 514.3h0M63.2 522.7h0M67.2 522.5h0M53.2 510.3h0M75.7 525.1h0M63.4 505.5h0M73.2 534.5h0M71.0 518.1h0M59.9 526.0h0M60.7 514.6h0M59.1 515.4h0M75.6 537.8h0M85.1 523.4h0M60.0 503.4h0M60.1 522.3h0M59.2 522.5h0M70.6 506.9h0M73.6 503.2h0M53.9 509.1h0M63.2 519.3h0M69.5 522.3h0M59.8 526.8h0M70.1 515.0h0M71.9 503.1h0M83.8 511.3h0M83.0 510.3h0M78.1 515.4h0M59.5 522.8h0M64.7 510.7h0M57.8 521.1h0M54.8 518.4h0M63.3 515.6h0M61.4 529.1h0M67.0 539.5h0M84.6 515.9h0M78.3 523.4h0M74.2 521.2h0M64.9 502.5h0M72.8 512.5h0M79.6 525.9h0M76.8 509.4h0M76.3 518.5h0M84.0 530.0h0M76.5 536.1h0M85.2 523.6h0M68.8 507.2h0M61.9 529.8h0M66.2 518.4h0M63.8 516.7h0M72.0 528.1h0M62.5 537.5h0M57.9 512.3h0M68.7 508.3h0M59.1 511.2h0M60.7 523.7h0M62.0 512.7h0M85.2 510.3h0M55.2 520.6h0M75.6 515.7h0M79.4 514.5h0M57.5 517.7h0M56.4 521.7h0M69.4 536.2h0M78.8 512.2h0M81.2 531.4h0M58.0 524.3h0M64.2 519.6h0M52.8 518.1h0M66.8 510.7h0M59.7 508.7h0M64.4 518.6h0M74.0 520.5h0M60.1 534.7h0M56.6 516.0h0M78.5 527.8h0M74.3 510.8h0M83.9 514.9h0M69.6 533.7h0M78.4 536.3h0M69.7 520.8h0M64.9 511.4h0M81.9 525.1h0M82.8 528.1h0M76.4 538.1h0M81.4 520.1h0M58.7 533.9h0M61.9 532.1h0M71.7 521.1h0M81.4 531.6h0M51.0 517.6h0M75.4 525.6h0M62.4 519.5h0M80.8 527.7h0M76.1 519.3h0M73.0 521.0h0M69.2 512.3h0M68.8 508.0h0M55.3 512.1h0M79.9 524.9h0M52.4 523.3h0M56.1 511.9h0M55.8 514.5h0M58.5 528.6h0M58.8 517.6h0M61.0 515.9h0M63.3 534.2h0M69.4 525.4h0M70.6 512.0h0M55.2 513.1h0M51.7 517.2h0M71.9 531.7h0M71.8 516.8h0M82.4 528.3h0M57.1 530.9h0M77.8 529.4h0M54.8 520.3h0M64.3 537.7h0M67.6 517.8h0M65.4 531.7h0M64.4 521.3h0M55.2 522.1h0M79.6 524.2h0M60.8 528.3h0M57.3 531.3h0M72.0 526.0h0M54.3 528.3h0M58.8 507.0h0M65.9 530.5h0M63.0 521.0h0M60.7 530.7h0M73.0 529.3h0M80.0 534.7h0M80.9 515.6h0M64.8 539.3h0M62.9 512.1h0M73.4 515.4h0M57.6 527.5h0M69.2 516.7h0M65.4 529.0h0M81.5 509.0h0M70.2 509.6h0M80.2 524.0h0M76.4 512.9h0M76.2 531.8h0M64.6 506.1h0M85.6 520.6h0M66.3 520.5h0M67.2 526.0h0M80.0 518.1h0M74.4 519.1h0M72.9 522.8h0M67.7 524.3h0M56.2 518.8h0M73.9 535.2h0M56.1 515.5h0M61.9 514.6h0M75.6 517.1h0M67.4 534.3h0M57.5 511.5h0M64.3 536.2h0M76.8 521.2h0M78.7 512.2h0M83.6 525.8h0M74.0 519.3h0M60.1 530.6h0M61.5 518.5h0M84.7 521.3h0M71.6 520.7h0M57.2 516.6h0M63.7 519.4h0M83.6 516.1h0M51.8 519.0h0M61.5 529.1h0M53.3 529.2h0M70.9 536.1h0M60.7 521.6h0M79.9 513.1h0M68.1 520.7h0M65.8 539.3h0M63.3 537.1h0M72.1 535.8h0M53.3 511.3h0M63.4 526.7h0M60.3 505.3h0M66.8 529.9h0M65.9 535.8h0M71.4 528.6h0M78.4 516.9h0M62.1 526.7h0M60.8 522.1h0M62.5 503.1h0M55.7 528.3h0M78.1 535.7h0M59.0 530.0h0M71.7 533.6h0M61.3 505.1h0M58.2 508.9h0M81.8 517.7h0M84.7 519.8h0M58.1 516.9h0M71.9 525.4h0M67.0 505.6h0M59.0 510.5h0M56.5 524.4h0M74.3 521.0h0M55.4 526.0h0M74.3 516.4h0M62.6 507.5h0M58.4 508.0h0M80.4 512.3h0M69.1 529.0h0M57.3 512.9h0M73.5 536.6h0M82.6 528.9h0M64.4 504.1h0M63.4 525.8h0M82.5 508.5h0M59.3 513.7h0M75.0 530.1h0M75.8 531.4h0M68.4 514.5h0M84.0 531.8h0M70.4 516.6h0M65.2 507.2h0M80.6 516.6h0M83.9 533.1h0M55.2 512.3h0M71.5 513.2h0M58.8 506.1h0M67.5 522.6h0M64.9 515.8h0M78.3 532.2h0M75.1 536.7h0M84.3 519.6h0M54.2 512.6h0M71.5 535.6h0M69.0 532.4h0M63.8 531.0h0M80.5 525.3h0M68.1 526.1h0M66.5 537.2h0M68.5 530.4h0M78.0 506.9h0M71.3 525.4h0M77.7 534.9h0M63.5 511.8h0M64.0 529.8h0M62.3 527.4h0M80.1 534.2h0M55.5 527.6h0M74.6 524.8h0M83.4 516.4h0M67.0 530.2h0M70.4 508.6h0M78.9 513.6h0M69.3 533.0h0M70.7 523.1h0M65.3 513.5h0M65.5 518.8h0M61.6 527.4h0M64.9 519.1h0M76.8 512.7h0M67.1 527.2h0M67.7 509.4h0M76.5 535.5h0M60.5 505.2h0M56.5 512.2h0M68.3 512.4h0M83.1 522.0h0M60.6 522.0h0M55.9 512.7h0M57.2 529.2h0M77.2 528.1h0M72.4 512.8h0M62.0 513.6h0M75.3 524.6h0M52.9 514.9h0M79.9 531.2h0M66.8 538.4h0M71.4 522.7h0M72.6 511.7h0M56.2 528.9h0M52.8 515.7h0M78.3 515.0h0M80.6 518.2h0M66.3 529.0h0M63.8 535.1h0M60.6 511.5h0M70.0 526.3h0M62.1 519.3h0M74.9 528.5h0M77.1 521.6h0M76.9 517.1h0M76.3 511.8h0M78.2 534.6h0M65.3 518.5h0M58.7 535.1h0M65.2 523.5h0M70.1 504.2h0M66.7 508.6h0M65.0 521.4h0M79.3 512.0h0M60.4 524.3h0M79.0 529.9h0M80.4 531.8h0M57.3 527.9h0M81.0 513.3h0M82.9 525.5h0M76.7 516.4h0M60.1 530.2h0M76.8 532.8h0M69.0 537.0h0M65.6 529.2h0M78.5 534.7h0M69.6 536.0h0M71.8 514.3h0M68.8 516.9h0M64.1 508.1h0M76.4 522.6h0M67.9 507.8h0M63.9 518.1h0M64.4 504.1h0M56.8 515.8h0M79.1 532.8h0M60.3 516.9h0M58.3 527.5h0M64.1 519.9h0M54.9 512.4h0M74.3 533.3h0M71.7 530.4h0M69.6 530.3h0M63.2 521.8h0M80.4 513.0h0M83.4 510.4h0M81.5 512.7h0M65.2 514.3h0M54.8 521.0h0M64.5 532.3h0M84.9 522.7h0M55.1 511.9h0M76.6 506.4h0M74.1 528.6h0M79.7 522.6h0M68.8 514.4h0M63.9 534.5h0M62.3 528.6h0M69.3 533.7h0M66.7 531.4h0M67.1 507.6h0M69.7 508.4h0M55.2 515.7h0M77.3 513.8h0M71.6 532.3h0M52.3 523.0h0M84.6 515.1h0M58.9 518.7h0M80.1 519.1h0M67.8 528.2h0M69.5 516.4h0M55.2 520.4h0M65.2 526.9h0M70.3 513.5h0M64.5 534.9h0M76.1 524.3h0M55.7 516.5h0M58.0 531.9h0M71.8 533.1h0M52.5 516.2h0M64.3 532.0h0M77.1 511.1h0M69.7 509.9h0M76.0 529.9h0M66.0 512.4h0M74.3 538.3h0M77.6 523.2h0M80.9 512.3h0M56.4 530.7h0M75.2 525.6h0M64.2 528.9h0M64.6 520.2h0M57.6 527.5h0M75.2 520.6h0M66.2 532.1h0M83.1 524.9h0M58.1 509.4h0M71.1 531.1h0M71.1 515.7h0M72.5 505.4h0M66.9 522.2h0M57.8 514.1h0M65.5 531.9h0M68.9 514.8h0M82.6 526.0h0M51.1 516.7h0M70.6 516.9h0M55.5 526.2h0M58.5 507.9h0M61.6 506.4h0M67.3 536.0h0M59.9 503.9h0M80.5 534.5h0M78.3 519.1h0M68.1 535.9h0M62.9 525.1h0M68.7 517.3h0M60.5 510.4h0M55.0 527.0h0M71.3 532.3h0M55.0 526.5h0M63.4 520.3h0M66.8 516.9h0M63.9 513.3h0M53.6 522.5h0M68.8 502.8h0M59.0 512.5h0M82.0 516.9h0M58.9 509.1h0M77.2 533.9h0M73.8 529.3h0M73.4 528.1h0M53.0 526.2h0M72.4 507.3h0M57.4 521.7h0M70.0 523.7h0M80.6 520.5h0M72.0 514.4h0M57.3 520.1h0M60.2 529.5h0M62.9 534.0h0M72.4 503.1h0M55.3 506.8h0M57.1 527.6h0M57.6 514.1h0M68.1 532.4h0M82.7 527.6h0M79.2 516.7h0M78.3 512.3h0M61.1 503.8h0M68.4 538.5h0M73.2 536.3h0M53.0 525.5h0M62.4 512.4h0M72.1 512.4h0M80.3 530.2h0M69.7 515.2h0M63.7 526.8h0M78.5 528.0h0M60.2 510.8h0M70.1 526.6h0M61.0 521.7h0M57.6 527.8h0M63.7 524.8h0M56.3 512.2h0M74.3 505.1h0M84.2 521.4h0M59.8 530.7h0M62.1 502.9h0M75.2 523.9h0M61.8 529.8h0M72.7 515.0h0M74.3 518.9h0M69.0 504.5h0M71.9 504.8h0M65.4 522.1h0M69.8 502.7h0M74.1 529.7h0M63.2 509.3h0M78.9 531.4h0M73.7 526.7h0M74.4 528.1h0M64.9 507.2h0M74.9 531.6h0M64.4 535.6h0M53.5 527.2h0M63.3 527.8h0M69.7 511.0h0M57.2 520.2h0M67.0 513.4h0M57.3 520.0h0M62.7 520.0h0M77.4 533.2h0M79.4 521.7h0M83.7 533.5h0M73.7 536.7h0M59.0 523.4h0M55.3 510.9h0M73.3 512.5h0M56.8 510.7h0M81.6 520.9h0M53.5 510.4h0M73.2 520.3h0M85.1 508.3h0M82.9 526.5h0M80.3 534.8h0M56.8 521.0h0M70.4 531.0h0M75.9 534.7h0M78.6 520.3h0M85.2 521.4h0M70.3 527.8h0M72.7 516.3h0M65.8 521.4h0M64.0 531.1h0M69.6 513.4h0M76.4 515.9h0M79.1 508.8h0M65.8 516.2h0M62.8 532.6h0M61.2 508.2h0M56.4 533.5h0M53.5 511.1h0M78.9 507.2h0M74.7 535.0h0M61.3 535.9h0M56.9 515.2h0M80.0 511.7h0M56.1 522.1h0M79.6 528.8h0M64.2 533.1h0M68.0 529.7h0M74.8 521.7h0M82.6 523.6h0M66.7 532.7h0M64.0 537.6h0M72.8 524.9h0M82.0 528.6h0M77.6 532.1h0M63.9 524.4h0M55.3 508.7h0M60.6 507.3h0M56.8 519.9h0M62.5 505.6h0M60.3 505.2h0M71.3 511.6h0M78.3 517.2h0M77.0 521.8h0M69.4 518.6h0M74.7 514.9h0M63.8 509.8h0M56.3 533.3h0M78.5 506.5h0M66.5 514.8h0M72.4 520.4h0M70.9 529.8h0M60.0 535.6h0M52.6 515.0h0M62.3 527.6h0M77.4 527.8h0M67.7 514.1h0M74.8 534.5h0M69.4 514.3h0M78.1 534.7h0M70.2 531.6h0M83.2 523.8h0M84.3 527.3h0M55.5 514.3h0M78.0 511.3h0M71.6 509.6h0M69.4 525.9h0M63.0 537.1h0M62.1 519.7h0M60.7 523.1h0M68.4 502.9h0M61.8 505.6h0M68.3 508.2h0M68.7 512.6h0M62.6 534.9h0M66.9 511.1h0M78.6 523.0h0M73.2 512.7h0M71.2 520.4h0M67.0 517.9h0M63.2 519.9h0M75.5 531.4h0M55.4 527.0h0M79.2 514.7h0M81.8 531.9h0M81.2 519.2h0M72.8 520.4h0M67.3 516.1h0M54.9 521.2h0M82.6 511.0h0M71.9 518.9h0M55.2 511.1h0M78.6 531.9h0M77.0 515.1h0M73.4 531.7h0M60.1 524.9h0M60.2 518.1h0M62.0 512.7h0M61.1 536.6h0M57.4 514.8h0M63.3 527.9h0M76.6 535.8h0M61.9 509.0h0M55.9 531.9h0M76.2 524.0h0M81.7 532.3h0M68.6 505.2h0M84.3 512.2h0M72.5 508.6h0M77.8 507.0h0M81.3 528.0h0M54.2 524.9h0M70.9 518.1h0M56.3 509.4h0M81.7 521.2h0M56.7 515.8h0M60.5 514.3h0M53.1 524.4h0M82.5 528.2h0M74.0 515.9h0M82.4 517.9h0M60.0 531.1h0M60.7 524.6h0M64.7 518.7h0M60.7 513.6h0M65.5 500.7h0M53.2 519.1h0M79.9 520.3h0M81.6 516.5h0" stroke="#1f78b4" stroke-width="0.62" stroke-linecap="round" fill="none" stroke-opacity="0.9"/>
<path d="M186.3 458.3h0M181.4 453.3h0M179.3 466.0h0M176.1 461.2h0M181.8 450.4h0M189.0 445.3h0M177.6 465.1h0M168.4 454.7h0M153.1 451.0h0M183.4 460.4h0M172.6 456.7h0M155.8 451.9h0M179.6 448.6h0M168.7 441.6h0M185.0 465.1h0M170.0 443.7h0M185.0 456.6h0M178.4 443.9h0M155.2 449.0h0M161.5 443.5h0M181.7 451.9h0M169.6 443.3h0M183.4 460.3h0M177.1 445.3h0M161.4 452.3h0M173.6 461.6h0M185.9 440.6h0M178.5 458.5h0M163.1 454.8h0M162.2 443.2h0M176.8 469.8h0M162.1 446.5h0M179.7 468.2h0M160.9 447.0h0M155.0 455.6h0M172.0 458.5h0M183.2 458.9h0M186.0 446.3h0M163.6 455.5h0M179.2 448.5h0M181.1 468.2h0M152.6 453.6h0M175.1 461.7h0M177.7 448.9h0M182.4 443.2h0M167.8 446.0h0M176.7 449.7h0M187.5 446.0h0M185.5 456.5h0M184.3 459.2h0M177.3 464.3h0M188.6 446.1h0M171.6 459.3h0M167.4 450.3h0M161.5 450.2h0M152.1 455.2h0M182.3 452.1h0M184.0 466.5h0M169.1 442.6h0M159.4 451.9h0M185.3 446.7h0M169.6 444.1h0M185.8 454.6h0M179.9 468.5h0M170.9 447.0h0M171.4 457.3h0M162.5 443.1h0M167.6 446.9h0M174.2 444.1h0M182.3 447.8h0M182.0 470.6h0M170.9 456.9h0M178.1 447.7h0M185.2 459.4h0M174.1 458.8h0M171.8 444.6h0M164.8 453.2h0M177.9 445.3h0M165.0 450.1h0M168.1 451.3h0M174.4 458.3h0M184.2 459.0h0M164.3 448.7h0M172.0 443.2h0M188.0 443.6h0M184.1 453.2h0M166.5 448.2h0M170.3 453.2h0M189.7 446.5h0M170.8 455.1h0M185.0 452.3h0M175.5 448.3h0M175.8 459.9h0M176.6 447.4h0M170.0 445.6h0M158.4 454.8h0M182.8 459.2h0M177.5 458.9h0M162.3 441.2h0M182.3 456.4h0M179.5 469.4h0M180.3 446.6h0M186.0 452.9h0M175.3 442.0h0M151.7 449.3h0M181.0 461.8h0M158.8 452.1h0M161.0 443.3h0M155.5 446.2h0M172.2 443.7h0M167.6 453.6h0M190.2 452.4h0M188.6 449.9h0M177.5 459.1h0M181.0 448.9h0M183.7 472.8h0M170.0 446.4h0M174.0 445.7h0M182.2 456.0h0M177.9 446.6h0M156.8 447.0h0M173.5 457.0h0M166.4 455.3h0M189.8 447.3h0M163.2 444.6h0M164.4 451.1h0M173.6 457.8h0M181.0 448.9h0M193.2 449.0h0M159.3 445.3h0M174.1 444.2h0M163.7 443.7h0M174.4 457.9h0M158.1 459.8h0M156.5 454.0h0M167.2 448.9h0M185.2 459.5h0M158.8 450.0h0M189.6 450.6h0M156.1 459.1h0M154.1 453.9h0M167.6 450.4h0M190.8 444.7h0M162.7 447.4h0M183.5 446.7h0M189.2 446.5h0M163.8 444.3h0M173.8 459.0h0M183.6 468.5h0M176.3 462.7h0M189.1 453.5h0M177.5 449.8h0M160.6 448.5h0M181.6 451.4h0M187.7 455.7h0M154.8 454.1h0M184.9 461.2h0M176.4 446.1h0M177.6 467.4h0M164.0 441.9h0M160.1 454.4h0M175.2 450.4h0M164.7 447.0h0M179.6 473.9h0M190.5 451.2h0M166.3 449.4h0M173.5 450.7h0M170.6 451.6h0M177.7 450.5h0M182.9 467.6h0M164.2 444.3h0M165.3 445.3h0M153.9 457.2h0M191.9 448.2h0M165.6 444.4h0M176.2 451.4h0M190.6 450.7h0M161.2 454.7h0M184.7 453.2h0M192.1 445.6h0M181.8 452.2h0M169.0 455.0h0M158.1 447.6h0M182.5 448.9h0M183.3 450.8h0M180.7 453.4h0M179.7 456.4h0M179.3 442.7h0M190.4 445.9h0M180.5 452.2h0M177.0 471.0h0M157.4 447.8h0M186.0 444.7h0M181.9 453.0h0M176.9 454.9h0M157.3 459.2h0M152.6 448.3h0M188.3 448.0h0M159.5 449.5h0M153.1 449.7h0M180.7 449.6h0M180.5 447.9h0M152.9 453.2h0M175.4 446.8h0M177.8 454.4h0M188.8 446.8h0M152.9 450.1h0M181.6 449.2h0M182.6 469.2h0M154.3 450.2h0M168.8 456.3h0M165.4 455.9h0M180.4 470.8h0M151.4 448.6h0M189.6 447.4h0M174.4 453.0h0M172.3 448.9h0M173.3 449.1h0M182.3 460.4h0M164.9 457.7h0M177.9 456.1h0M182.2 468.1h0M152.5 450.1h0M164.1 450.7h0M150.0 447.7h0M187.8 454.4h0M179.9 448.7h0M176.1 451.2h0M175.9 441.7h0M179.9 461.9h0M156.4 454.0h0M168.8 446.0h0M184.6 455.8h0M165.4 449.8h0M154.9 457.0h0M166.4 447.4h0M186.1 453.9h0M185.0 449.5h0M163.4 457.3h0M183.3 442.8h0M154.6 453.4h0M187.3 458.1h0M177.1 456.7h0M172.7 461.5h0M171.8 447.7h0M180.8 465.8h0M174.6 452.8h0M188.5 456.1h0M152.4 449.6h0M159.2 444.4h0M191.1 445.8h0M189.2 449.9h0M168.3 450.9h0M162.0 457.8h0M169.3 449.9h0M160.2 445.3h0M184.5 454.3h0M173.5 454.4h0M178.9 466.5h0M175.4 464.4h0M166.0 458.5h0M185.4 450.1h0M189.1 447.8h0M173.4 452.7h0M177.4 443.8h0M183.1 446.1h0M185.9 451.0h0M186.9 463.4h0M178.7 463.6h0M157.1 451.1h0M179.2 456.2h0M168.8 449.2h0M175.6 461.7h0M182.5 451.2h0M176.8 446.6h0M188.0 451.4h0M187.9 450.1h0M165.0 447.8h0M185.2 465.4h0M189.4 446.5h0M178.1 469.4h0M178.3 450.0h0M184.5 464.4h0M184.6 460.6h0M167.8 452.5h0M183.0 457.1h0M164.1 446.9h0M173.3 455.7h0M173.8 461.5h0M175.4 448.4h0M159.7 444.5h0M157.1 449.9h0M173.8 454.0h0M166.7 453.7h0M179.8 449.5h0M164.3 458.1h0M155.6 448.0h0M185.9 449.5h0M167.6 454.0h0M160.9 457.9h0M182.3 455.7h0M171.6 449.1h0M179.5 462.5h0M161.8 448.5h0M182.9 451.4h0M170.2 456.4h0M182.8 444.6h0M190.3 449.6h0M174.7 460.9h0M174.0 458.3h0M163.1 453.5h0M162.3 457.5h0M179.8 444.6h0M188.5 447.1h0M181.6 462.8h0M182.4 460.3h0M164.0 447.7h0M157.7 449.6h0M168.6 459.6h0M181.9 454.1h0M185.1 452.7h0M179.3 474.2h0M174.9 451.9h0M161.3 449.0h0M182.8 460.5h0M186.3 444.8h0M160.7 448.9h0M161.9 456.3h0M160.7 454.1h0M188.8 450.1h0M179.2 451.0h0M175.1 456.5h0M181.6 453.8h0M185.0 448.4h0M177.4 462.3h0M179.7 470.8h0M172.5 447.7h0M186.6 450.7h0M184.1 449.0h0M185.1 465.1h0M180.5 471.5h0M167.3 439.9h0M167.6 453.7h0M177.4 460.8h0M179.1 462.6h0M171.7 444.1h0M184.8 460.6h0M183.9 453.8h0M185.6 460.4h0M178.1 470.8h0M160.9 452.8h0M154.6 455.5h0M169.9 452.4h0M190.8 446.6h0M185.5 451.0h0M161.0 450.9h0M153.4 449.6h0M167.4 444.9h0M174.4 443.0h0M179.2 457.1h0M178.5 452.3h0M168.7 454.6h0M169.4 457.4h0M168.5 459.1h0M172.0 446.6h0M169.9 450.6h0M180.1 468.8h0M174.2 443.5h0M181.8 465.7h0M174.0 454.0h0M177.6 456.0h0M168.7 460.5h0M182.8 455.5h0M159.2 444.7h0M160.6 447.3h0M185.0 457.6h0M157.7 451.6h0M176.8 458.5h0M183.4 455.3h0M153.1 456.2h0M182.2 471.0h0M170.2 456.0h0M183.7 467.6h0M177.1 473.5h0M159.8 454.7h0M175.4 451.5h0M153.6 454.7h0M168.8 457.8h0M181.4 469.0h0M182.4 460.4h0M152.6 453.9h0M172.6 446.9h0M170.8 462.1h0M181.7 457.2h0M162.6 441.5h0M175.3 460.4h0M178.5 448.1h0M166.2 456.7h0M156.9 451.5h0M192.8 451.6h0M172.1 459.1h0M168.1 451.6h0M163.0 445.8h0M182.0 446.8h0M171.7 458.7h0M190.3 449.9h0M179.1 468.6h0M184.2 465.8h0M184.4 443.5h0M164.5 444.7h0M183.6 446.7h0M163.9 456.7h0M186.8 456.0h0M186.4 454.7h0M185.5 457.6h0M175.7 453.8h0M158.3 458.0h0M168.6 443.9h0M183.6 445.1h0M189.7 452.4h0M186.1 447.2h0M187.2 452.4h0M180.5 472.0h0M184.3 455.1h0M171.3 452.1h0M169.5 451.4h0M173.9 450.9h0M186.7 455.6h0M162.6 455.7h0M180.5 458.1h0M190.8 444.4h0M166.2 450.9h0M175.4 441.1h0M180.6 455.9h0M181.5 445.8h0M180.5 444.1h0M183.5 445.5h0M184.0 459.4h0M183.8 442.7h0M185.7 441.9h0M181.0 451.7h0M186.1 462.3h0M170.6 448.6h0M166.5 457.8h0M183.1 465.0h0M171.4 460.9h0M158.6 452.1h0M188.9 454.7h0M189.9 451.0h0M181.7 461.3h0M181.6 457.4h0M175.0 444.1h0M179.0 443.4h0M169.0 456.3h0M186.0 457.0h0M184.6 449.2h0M178.8 460.6h0M155.4 446.6h0M152.9 446.8h0M185.3 465.4h0M190.2 445.8h0M156.4 457.2h0M178.9 443.0h0M163.2 453.5h0M178.1 447.7h0M181.0 445.5h0M180.2 456.1h0M183.3 451.1h0M178.5 446.2h0M177.2 442.2h0M187.6 449.0h0M182.8 468.2h0M184.3 443.7h0M176.5 474.4h0M177.1 457.2h0M176.9 467.0h0M189.0 444.9h0M171.7 456.3h0M155.1 447.2h0M173.6 457.4h0M158.4 448.9h0M153.2 446.8h0M156.8 459.1h0M185.3 464.1h0M154.0 452.5h0M162.5 459.8h0M166.7 456.1h0M166.2 458.1h0M181.6 446.0h0M165.7 447.7h0M165.9 455.0h0M169.3 460.4h0M165.6 451.1h0M188.2 457.2h0M161.4 452.4h0M177.0 443.6h0M156.8 455.9h0M179.8 450.5h0M175.9 444.9h0M178.0 455.7h0M168.0 448.0h0M170.8 458.4h0M183.3 451.3h0M191.3 452.7h0M172.4 450.6h0M161.6 444.7h0M158.3 446.3h0M188.3 453.7h0M158.6 459.0h0M185.9 449.6h0M168.6 445.7h0M183.6 443.7h0M171.5 458.4h0M181.4 469.6h0M170.3 444.4h0M174.4 442.6h0M177.7 446.9h0M180.7 442.8h0M179.5 447.0h0M158.3 453.6h0M183.6 458.6h0M156.1 458.1h0M171.2 452.4h0M165.1 444.6h0M168.7 449.0h0M156.1 455.9h0M170.2 449.9h0M165.4 451.2h0M161.0 448.0h0M164.0 458.7h0M171.0 450.2h0M178.9 460.1h0M176.8 449.8h0M170.6 456.4h0M163.4 444.7h0M170.0 446.4h0M180.2 444.8h0M178.2 469.4h0M163.9 452.0h0M174.9 449.5h0M186.8 459.4h0M171.2 451.0h0M168.3 458.4h0M175.8 461.0h0M160.2 459.4h0M173.9 447.3h0M175.5 447.8h0M181.0 465.0h0M154.2 453.8h0M181.1 458.1h0M187.1 444.4h0M185.6 449.7h0M168.1 457.4h0M186.9 459.5h0M187.2 446.7h0M159.5 446.5h0M165.3 448.7h0M172.1 455.3h0M161.1 449.3h0M185.7 457.5h0M155.4 456.3h0M187.8 445.9h0M186.4 458.1h0M179.8 445.8h0M155.8 457.3h0M156.1 452.8h0M182.6 456.3h0M179.8 444.1h0M175.0 463.1h0M170.6 450.0h0M184.7 446.6h0M182.9 444.8h0M177.0 455.5h0M180.3 464.4h0M186.2 448.9h0M166.3 446.6h0M178.4 468.0h0M157.4 456.6h0M162.9 442.1h0M184.6 445.9h0M178.1 454.5h0M173.9 459.4h0M170.4 451.8h0M172.6 456.1h0M165.4 457.9h0M165.0 459.2h0M172.6 459.1h0M176.8 469.7h0M164.3 448.1h0M161.7 452.8h0M173.8 447.1h0M178.7 446.1h0M172.9 461.0h0M167.6 442.2h0M186.7 443.8h0M153.0 448.4h0M166.5 442.8h0M171.6 455.3h0M183.8 444.3h0M180.0 447.5h0M187.0 450.6h0M171.9 460.0h0M184.6 444.8h0M191.7 451.9h0M153.2 444.9h0M169.7 458.0h0M154.2 448.6h0M176.8 462.6h0M169.6 456.7h0M178.3 457.3h0M175.2 450.8h0M164.0 457.7h0M188.5 442.3h0M159.7 445.8h0M178.7 467.9h0M177.0 461.7h0M148.9 450.7h0M169.0 458.0h0M162.6 455.5h0M160.2 452.7h0M176.9 453.0h0M186.8 464.2h0M181.6 456.6h0M167.0 454.9h0M179.6 452.3h0M162.5 460.2h0M188.6 450.4h0M183.1 454.9h0M162.0 442.3h0M154.2 453.6h0M170.8 444.1h0M160.2 452.5h0M174.6 447.0h0M190.6 445.2h0M172.2 443.3h0M187.7 449.1h0M156.0 448.0h0M175.4 460.7h0M185.5 461.9h0M161.0 446.0h0M184.6 453.5h0M180.0 468.8h0M182.1 462.8h0M171.0 453.9h0M174.7 462.9h0M182.5 463.4h0M174.9 446.1h0M173.1 457.4h0M161.7 456.6h0M172.6 452.5h0M180.8 468.1h0M166.5 454.8h0M151.0 447.7h0M170.0 458.1h0M160.3 459.2h0M179.0 454.3h0M168.6 445.9h0M174.4 442.7h0M162.9 453.5h0M177.3 457.7h0M176.7 461.1h0M153.5 455.4h0" stroke="#b2df8a" stroke-width="0.62" stroke-linecap="round" fill="none" stroke-opacity="0.9"/>
<path d="M117.5 460.4h0M137.7 447.2h0M124.2 450.3h0M103.8 468.2h0M134.7 443.7h0M155.9 456.5h0M79.5 527.5h0M81.0 525.7h0M136.7 456.6h0M122.7 462.6h0M102.7 473.5h0M130.7 459.5h0M122.5 463.6h0M102.9 458.2h0M131.4 451.8h0M136.9 440.8h0M78.7 536.3h0M108.6 453.9h0M120.3 446.7h0M111.5 458.6h0M136.2 449.9h0M120.0 451.6h0M150.4 445.3h0M143.8 454.9h0M79.4 525.1h0M151.9 463.9h0M117.8 446.5h0M116.6 483.7h0M121.5 459.7h0M142.6 457.2h0M132.4 444.5h0M107.8 472.7h0M121.4 467.2h0M122.2 446.4h0M141.0 437.8h0M128.6 469.5h0M112.6 450.8h0M136.0 455.4h0M104.8 471.3h0M146.1 444.3h0M135.6 446.4h0M138.9 458.6h0M134.0 443.5h0M114.2 459.7h0M117.1 465.1h0M106.5 471.2h0M148.5 465.9h0M149.0 455.6h0M83.7 523.4h0M137.7 460.2h0M147.4 441.9h0M116.2 463.5h0M145.4 455.5h0M124.2 448.0h0M80.3 537.6h0M112.8 459.8h0M111.3 456.0h0M117.9 452.3h0M125.7 445.0h0M112.2 465.7h0M143.7 450.4h0M147.1 441.1h0M106.6 469.7h0M119.0 455.2h0M129.1 456.5h0M105.2 452.5h0M143.5 456.4h0M155.2 443.4h0M126.9 460.5h0M139.5 447.4h0M103.4 468.7h0M120.9 447.0h0M147.4 466.0h0M132.1 446.8h0M111.7 457.5h0M138.8 465.9h0M139.8 449.1h0M137.7 459.0h0M121.2 478.6h0M80.6 523.1h0M136.7 451.4h0M131.3 443.1h0M113.7 473.7h0M129.4 453.1h0M110.3 448.9h0M148.8 462.7h0M147.7 444.8h0M138.4 457.4h0M133.4 458.5h0M152.6 445.2h0M116.2 466.0h0M126.4 455.4h0M118.8 482.3h0M130.8 449.0h0M114.1 454.3h0M117.6 449.3h0M113.0 455.3h0M81.9 538.3h0M156.6 454.1h0M145.9 443.9h0M126.6 471.8h0M136.0 465.0h0M79.3 531.6h0M140.1 446.5h0M125.2 454.3h0M110.6 473.7h0M130.6 460.4h0M146.6 462.6h0M120.6 461.8h0M139.4 458.8h0M130.8 451.8h0M124.5 447.5h0M119.6 470.9h0M114.0 460.7h0M136.2 460.1h0M148.6 468.1h0M134.8 449.2h0M112.4 459.3h0M116.6 464.3h0M126.5 449.2h0M111.6 469.9h0M133.1 453.7h0M115.9 464.0h0M133.4 456.9h0M132.2 444.1h0M81.4 530.1h0M133.3 464.4h0M112.2 458.6h0M120.2 450.1h0M108.4 461.1h0M138.9 446.7h0M139.6 453.4h0M125.9 462.1h0M129.2 440.5h0M126.1 464.5h0M146.3 453.7h0M125.2 470.8h0M135.5 445.6h0M121.8 461.7h0M123.2 468.4h0M147.5 445.5h0M128.0 452.3h0M150.7 452.9h0M115.4 466.8h0M152.3 440.8h0M133.8 455.3h0M136.4 439.7h0M111.4 455.0h0M144.4 459.3h0M155.5 450.0h0M143.6 450.3h0M117.9 452.0h0M132.5 447.3h0M104.1 484.4h0M122.1 468.2h0M77.7 524.9h0M121.6 449.4h0M114.3 454.4h0M138.3 445.9h0M113.9 449.2h0M146.1 455.2h0M123.3 442.4h0M154.8 453.9h0M114.1 461.5h0M118.3 486.6h0M108.5 471.3h0M125.7 458.7h0M110.4 444.5h0M109.4 456.3h0M104.8 451.6h0M115.7 467.0h0M119.4 455.2h0M135.0 448.5h0M106.9 445.1h0M123.7 451.3h0M113.2 451.6h0M134.0 450.6h0M117.6 444.7h0M158.8 449.0h0M155.2 455.7h0M137.6 440.5h0M131.2 456.8h0M109.3 465.4h0M139.2 462.6h0M143.1 460.3h0M124.5 451.0h0M121.2 449.0h0M141.5 443.9h0M129.4 450.2h0M107.7 475.8h0M114.2 456.5h0M121.6 463.9h0M122.6 446.6h0M105.4 458.3h0M125.8 453.3h0M82.6 527.1h0M130.3 474.0h0M141.9 452.0h0M123.9 441.3h0M124.5 454.6h0M80.2 527.1h0M145.2 439.1h0M127.0 470.3h0M134.6 452.3h0M132.9 453.0h0M118.1 449.9h0M148.8 445.4h0M144.1 454.0h0M81.4 525.0h0M125.6 455.1h0M143.6 439.6h0M152.2 458.9h0M129.6 469.7h0M81.5 527.2h0M133.5 449.7h0M115.1 483.4h0M81.7 530.7h0M109.3 469.4h0M127.3 462.2h0M124.2 477.0h0M125.5 449.4h0M136.5 459.8h0M145.4 436.2h0M127.0 458.5h0M123.8 443.4h0M80.0 529.9h0M127.7 460.3h0M116.0 458.5h0M154.1 464.1h0M138.0 445.9h0M125.7 461.1h0M113.4 465.0h0M155.7 444.5h0M137.5 456.3h0M120.1 456.1h0M111.6 447.2h0M145.6 442.1h0M138.1 444.3h0M133.3 448.3h0M142.6 453.2h0M130.0 454.1h0M144.5 455.5h0M143.8 465.9h0M112.0 468.3h0M125.3 460.8h0M131.5 456.2h0M138.6 448.0h0M123.1 459.7h0M132.4 456.4h0M112.7 457.8h0M145.8 439.5h0M130.9 444.9h0M143.5 448.1h0M120.7 462.1h0M123.9 451.2h0M141.6 448.8h0M129.7 448.4h0M154.1 454.9h0M123.5 453.8h0M107.5 474.7h0M147.6 451.1h0M136.2 453.5h0M111.0 453.0h0M120.3 439.3h0M120.3 458.2h0M111.2 446.3h0M123.2 477.3h0M148.8 452.1h0M138.7 456.8h0M125.3 446.1h0M128.5 459.2h0M124.8 461.1h0M124.3 464.4h0M111.4 477.5h0M146.7 450.0h0M142.2 448.0h0M112.9 459.4h0M115.1 465.1h0M134.6 463.9h0M121.7 463.3h0M136.1 445.2h0M140.3 445.7h0M117.9 448.9h0M145.3 448.0h0M140.1 449.8h0M111.2 476.8h0M131.7 452.4h0M114.3 457.4h0M133.1 455.8h0M139.3 450.9h0M114.3 453.4h0M107.9 475.8h0M126.4 455.6h0M103.0 483.2h0M134.2 462.4h0M109.2 458.7h0M145.4 447.0h0M107.2 476.8h0M114.8 461.1h0M134.6 449.8h0M115.4 472.1h0M114.1 456.9h0M115.3 454.3h0M118.9 476.4h0M119.1 479.6h0M120.7 459.1h0M116.5 461.2h0M125.1 475.4h0M134.6 455.1h0M112.6 457.0h0M129.8 469.9h0M139.3 454.5h0M106.0 458.7h0M111.0 480.6h0M117.4 460.5h0M119.1 452.4h0M153.0 446.3h0M134.9 446.9h0M106.4 463.0h0M125.0 460.2h0M116.5 464.5h0M124.6 457.5h0M140.3 459.6h0M131.8 448.2h0M109.1 458.3h0M115.5 458.7h0M141.6 453.4h0M137.0 438.0h0M122.4 463.9h0M130.0 442.2h0M108.3 457.9h0M145.6 466.1h0M142.2 452.8h0M111.4 476.8h0M127.0 457.3h0M126.9 465.1h0M137.7 444.4h0M147.9 456.9h0M135.5 451.3h0M138.0 460.0h0M123.2 465.8h0M111.5 452.5h0M107.1 449.3h0M133.5 457.6h0M138.7 456.7h0M105.5 472.0h0M121.8 451.8h0M99.8 474.4h0M139.6 449.7h0M144.3 454.3h0M120.7 460.4h0M123.4 453.8h0M113.5 458.9h0M125.8 456.4h0M125.8 460.3h0M138.1 438.2h0M117.4 451.7h0M141.7 447.2h0M152.1 457.4h0M134.1 440.5h0M119.6 450.3h0M114.2 453.5h0M126.9 467.1h0M105.4 460.3h0M113.3 460.9h0M136.9 454.7h0M137.9 442.2h0M102.8 464.3h0M126.4 459.7h0M137.7 470.2h0M127.4 465.2h0M120.2 456.6h0M126.2 463.7h0M109.8 449.6h0M144.9 463.4h0M127.7 459.8h0M126.2 468.9h0M110.0 453.4h0M110.7 451.7h0M131.2 453.6h0M121.5 449.4h0M140.6 464.6h0M132.0 460.8h0M135.1 455.8h0M118.6 467.8h0M154.8 460.0h0M148.7 460.2h0M139.4 452.8h0M111.7 452.6h0M132.8 456.5h0M135.9 450.0h0M106.9 457.5h0M148.2 459.2h0M116.1 448.2h0M115.1 453.6h0M120.3 464.9h0M109.8 459.0h0M114.9 462.7h0M136.7 444.1h0M135.1 442.1h0M140.0 447.0h0M104.2 479.7h0M127.5 461.2h0M151.8 440.9h0M143.4 469.2h0M137.7 461.8h0M106.4 460.0h0M110.9 453.3h0M113.0 477.7h0M145.7 449.9h0M79.2 531.1h0M134.8 451.0h0M80.3 530.4h0M80.5 518.7h0M114.7 450.0h0M136.0 459.9h0M142.2 436.3h0M117.2 462.5h0M103.5 456.9h0M124.6 458.1h0M143.4 467.8h0M154.4 444.7h0M163.6 449.6h0M140.5 444.4h0M139.7 449.8h0M102.2 476.4h0M125.1 464.9h0M133.1 441.6h0M109.3 455.7h0M119.4 460.0h0M119.7 450.0h0M129.0 454.0h0M142.7 448.2h0M98.4 463.6h0M146.2 451.0h0M155.7 448.2h0M134.7 448.8h0M135.3 469.6h0M128.3 451.9h0M146.2 459.1h0M129.7 454.6h0M103.5 464.4h0M80.1 524.2h0M143.9 453.9h0M109.0 460.3h0M128.3 460.1h0M80.7 525.1h0M133.0 448.4h0M121.2 456.6h0M157.9 459.6h0M121.8 482.1h0M128.7 455.1h0M117.9 463.3h0M79.4 527.7h0M129.0 476.6h0M117.9 455.0h0M134.5 446.8h0M136.3 443.6h0M123.0 451.6h0M138.7 449.2h0M81.8 526.4h0M131.3 453.9h0M137.5 458.6h0M104.8 472.2h0M143.2 454.4h0M123.4 475.2h0M142.9 456.7h0M112.9 459.8h0M106.4 478.5h0M151.0 441.9h0M136.2 458.7h0M158.4 449.3h0M124.5 452.1h0M132.0 457.0h0M135.0 466.5h0M131.3 454.9h0M107.2 452.7h0M136.2 449.4h0M78.7 526.5h0M133.6 439.2h0M122.4 482.7h0M124.7 450.8h0M138.0 459.1h0M109.5 467.3h0M143.7 452.5h0M80.0 528.5h0M125.1 459.5h0M104.8 470.0h0M123.7 455.0h0M119.7 466.5h0M123.4 459.4h0M112.3 462.1h0M110.9 453.8h0M142.1 444.4h0M117.6 451.9h0M125.1 466.6h0M111.2 484.3h0M99.1 473.2h0M115.2 482.1h0M104.5 486.6h0M105.6 451.6h0M145.3 451.7h0M139.6 453.9h0M117.5 479.6h0M80.7 527.6h0M130.0 460.3h0M124.0 440.6h0M153.4 452.5h0M153.3 448.1h0M144.2 449.9h0M103.6 469.1h0M108.4 458.4h0M113.2 457.6h0M104.8 452.1h0M126.5 463.0h0M122.9 449.7h0M117.7 489.1h0M117.8 457.6h0M122.6 456.2h0M80.7 525.4h0M101.9 469.0h0M142.6 448.1h0M131.8 442.3h0M79.5 525.3h0M140.8 456.7h0M120.9 447.3h0M133.1 453.7h0M122.7 466.5h0M137.6 443.8h0M125.8 452.1h0M124.3 459.7h0M125.5 458.5h0M138.5 440.3h0M117.7 475.9h0M138.4 448.1h0M122.0 456.6h0M133.9 445.4h0M115.1 453.6h0M120.0 457.2h0M100.5 459.2h0M130.3 458.1h0M131.2 446.3h0M116.5 457.0h0M146.8 453.1h0M109.8 447.1h0M144.6 456.6h0M121.8 450.7h0M132.2 459.5h0M130.0 470.3h0M81.6 519.3h0M129.3 445.2h0M77.5 527.0h0M131.0 459.0h0M111.6 459.7h0M155.5 458.7h0M109.0 457.5h0M122.6 461.2h0M118.9 443.1h0M135.8 459.3h0M127.4 449.0h0M131.1 461.0h0M100.0 459.1h0M126.4 451.6h0M132.7 459.1h0M142.2 450.9h0M106.3 455.9h0M111.7 469.1h0M131.0 449.5h0M120.5 462.4h0M114.9 469.8h0M127.5 458.5h0M79.0 528.9h0M135.6 456.7h0M157.6 459.4h0M148.1 457.9h0M116.6 455.3h0M118.4 460.7h0M140.4 458.2h0M82.7 526.3h0M135.2 454.1h0M147.2 468.6h0M121.4 454.1h0M128.6 456.4h0M82.0 528.0h0M81.4 527.2h0M124.3 449.2h0M130.2 471.6h0M123.2 449.0h0M102.2 479.9h0M149.7 444.5h0M138.0 447.9h0M142.9 442.4h0M116.8 452.3h0M129.1 455.8h0M122.3 462.9h0M121.9 452.5h0M147.5 468.7h0M129.5 451.7h0M122.3 450.5h0M105.9 474.1h0M116.6 451.7h0M150.2 461.9h0M135.1 465.8h0M133.6 447.7h0M101.9 459.8h0M129.7 471.2h0M113.1 454.1h0M118.0 453.3h0M125.2 446.6h0M145.0 444.6h0M112.6 478.9h0M120.5 445.2h0M143.6 468.9h0M139.5 462.3h0M126.9 456.2h0M125.9 447.6h0M133.4 458.8h0M136.5 443.2h0M103.5 479.6h0M119.0 455.1h0M114.1 453.3h0M138.9 456.0h0M135.9 452.3h0M133.3 443.0h0M81.1 523.1h0M144.3 448.5h0M125.6 458.7h0M137.5 467.2h0M116.6 458.2h0M125.0 455.9h0M102.6 483.9h0M154.8 454.9h0M148.3 447.4h0M124.3 476.3h0M112.5 481.1h0M131.6 450.9h0M126.2 461.0h0M140.5 449.0h0M133.1 465.0h0M148.0 452.7h0M131.6 464.6h0M112.5 453.4h0M122.7 466.1h0M132.2 451.2h0M127.7 444.2h0M108.6 455.0h0M131.2 450.5h0M123.1 462.8h0M151.5 454.2h0M123.2 478.7h0M128.8 457.5h0M119.8 451.9h0M126.1 452.1h0M131.4 442.0h0M122.6 485.9h0M126.7 479.0h0M136.5 457.1h0M117.4 455.1h0M130.1 441.7h0M111.5 455.0h0M139.2 444.7h0M114.2 443.0h0M143.7 452.9h0M120.5 461.0h0M135.8 460.3h0M140.3 457.4h0M133.7 477.5h0M108.7 454.8h0M124.8 458.0h0M107.6 478.0h0M134.3 460.3h0M109.0 453.9h0M139.2 443.0h0M141.8 460.6h0M143.1 455.5h0M123.9 457.5h0M138.0 451.7h0M115.6 480.7h0M125.1 456.2h0M140.2 469.0h0M78.8 533.8h0M113.7 450.0h0M80.6 526.0h0M114.7 448.0h0M111.4 484.7h0M143.8 446.3h0M119.5 461.8h0M121.0 451.0h0M109.2 474.1h0M135.6 463.0h0M137.5 447.8h0M153.7 458.0h0M117.8 455.2h0M106.9 452.9h0M115.4 460.9h0M138.6 441.6h0M141.6 450.6h0M140.5 455.0h0M153.1 455.5h0M149.0 443.3h0M112.5 456.6h0M123.9 460.8h0M117.8 453.6h0M131.2 446.1h0M133.7 458.2h0M106.2 448.6h0M110.5 446.1h0M122.0 480.9h0M125.7 451.6h0M114.5 480.7h0M141.1 440.4h0" stroke="#33a02c" stroke-width="0.62" stroke-linecap="round" fill="none" stroke-opacity="0.9"/>
<path d="M120.2 424.7h0M104.8 437.7h0M103.1 429.5h0M133.2 435.3h0M110.3 434.3h0M122.2 422.9h0M94.7 431.6h0M124.3 438.7h0M112.3 442.8h0M102.9 435.9h0M103.9 430.9h0M137.8 433.1h0M134.7 425.5h0M134.9 431.7h0M112.9 439.6h0M112.0 444.0h0M98.5 442.3h0M106.1 436.9h0M111.0 427.1h0M115.8 432.0h0M129.7 426.0h0M108.6 444.7h0M102.3 438.7h0M139.8 428.8h0M136.5 422.9h0M110.0 435.7h0M131.5 431.4h0M109.2 434.4h0M112.6 430.2h0M103.9 439.3h0M131.2 436.2h0M132.2 439.6h0M133.5 420.4h0M99.6 432.8h0M113.8 428.4h0M118.2 424.8h0M101.9 425.9h0M111.3 444.0h0M110.8 425.4h0M110.1 437.3h0M121.4 430.3h0M120.6 426.9h0M137.4 428.1h0M119.9 430.3h0M111.8 443.6h0M98.8 441.5h0M106.7 434.2h0M113.0 434.6h0M128.7 439.0h0M114.2 427.7h0M125.6 427.4h0M111.6 425.0h0M122.1 436.3h0M113.8 430.0h0M117.0 441.9h0M98.3 433.0h0M104.2 432.3h0M105.8 431.1h0M106.6 434.7h0M110.5 425.7h0M105.5 426.2h0M113.7 429.5h0M105.0 436.8h0M131.5 437.3h0M113.4 439.3h0M125.8 420.8h0M96.8 439.4h0M106.6 424.5h0M131.1 423.5h0M135.0 421.6h0M131.3 425.4h0M137.5 435.8h0M106.0 437.5h0M122.0 422.9h0M116.7 433.3h0M111.0 429.2h0M91.8 435.5h0M108.6 436.6h0M96.2 440.3h0M137.6 429.2h0M121.3 430.4h0M127.9 421.2h0M134.1 425.6h0M103.6 435.0h0M114.4 424.4h0M106.0 435.8h0M113.4 439.4h0M133.3 430.0h0M123.0 435.0h0M111.9 428.6h0M119.0 431.3h0M94.8 438.8h0M96.8 433.3h0M110.5 443.0h0M128.3 433.6h0M111.3 436.6h0M113.3 438.7h0M96.6 436.3h0M139.5 427.3h0M101.7 426.6h0M116.5 426.7h0M123.2 422.7h0M127.7 424.8h0M133.6 436.4h0M98.9 434.5h0M90.5 432.7h0M98.0 430.8h0M121.9 425.3h0M137.6 432.6h0M115.2 437.3h0M124.6 423.6h0M96.8 438.4h0M107.9 432.3h0M116.7 441.7h0M134.6 427.6h0M104.1 436.4h0M113.9 439.6h0M111.7 438.5h0M116.3 432.6h0M120.6 422.2h0M109.4 426.5h0M119.7 440.1h0M91.1 433.2h0M130.4 438.3h0M125.5 431.7h0M126.4 428.4h0M114.6 435.1h0M120.4 423.7h0M120.1 425.4h0M106.1 432.5h0M99.1 435.2h0M109.0 434.5h0M134.0 429.4h0M118.7 432.2h0M103.3 438.1h0M106.0 426.2h0M100.3 440.4h0M109.8 429.6h0M130.2 436.3h0M107.3 436.7h0M95.3 441.5h0M119.2 431.2h0M104.7 439.8h0M111.6 429.9h0M119.7 422.8h0M115.8 443.2h0M132.3 422.1h0M110.3 430.5h0M101.8 444.3h0M131.0 437.8h0M137.6 428.3h0M89.4 434.8h0M101.6 427.8h0M134.2 425.2h0M103.7 433.2h0M107.2 432.7h0M126.6 422.2h0M124.2 433.3h0M131.1 433.9h0M100.9 440.4h0M111.6 443.5h0M90.4 433.5h0M136.2 434.5h0M93.3 439.0h0M95.3 440.9h0M100.2 435.5h0M113.4 431.4h0M101.8 438.1h0M92.3 436.2h0M129.9 425.4h0M132.2 426.1h0M115.2 440.4h0M106.5 444.5h0M119.0 422.2h0M99.1 433.7h0M108.0 426.6h0M116.2 439.2h0M122.2 427.5h0M138.1 426.5h0M91.9 435.1h0M99.4 442.0h0M119.1 421.5h0M109.3 423.6h0M99.4 432.5h0M106.3 436.7h0M129.5 431.1h0M114.8 425.5h0M111.4 437.2h0M121.2 436.9h0M92.4 440.2h0M108.3 441.3h0M114.6 431.5h0M117.2 436.4h0M135.1 436.4h0M126.9 423.3h0M104.0 428.7h0M129.4 422.6h0M93.2 431.6h0M91.8 433.8h0M98.9 428.1h0M99.0 438.9h0M124.5 433.7h0M121.6 429.3h0M118.2 428.6h0M139.3 439.0h0M118.9 437.1h0M121.7 438.2h0M100.1 441.0h0M115.4 430.2h0M123.5 420.7h0M114.0 430.4h0M124.5 422.0h0M93.5 430.4h0M91.3 435.7h0M128.1 436.6h0M130.4 428.0h0M119.6 428.8h0M118.2 428.7h0M125.5 430.5h0M132.3 426.6h0M115.6 432.2h0M111.7 444.0h0M118.1 431.1h0M107.8 425.6h0M124.3 434.9h0M134.7 433.9h0M118.4 439.3h0M125.6 422.2h0M137.5 430.9h0M136.4 424.0h0M112.1 425.2h0M125.4 434.2h0M114.2 422.8h0M128.3 425.5h0M117.7 434.6h0M102.6 437.6h0M117.4 429.2h0M109.3 431.9h0M137.5 426.5h0M90.3 436.8h0M125.0 433.5h0M109.1 445.4h0M109.1 439.1h0M90.4 433.3h0M106.5 434.2h0M93.7 438.9h0M100.3 432.2h0M120.7 427.6h0M107.3 445.9h0M113.7 428.8h0M111.7 436.4h0M112.3 428.6h0M113.5 438.1h0M105.0 428.2h0M92.5 432.9h0M136.6 423.8h0M117.3 423.2h0M118.0 439.7h0M118.9 437.2h0M107.0 432.8h0M141.5 426.9h0M93.6 438.1h0M113.6 438.2h0M137.3 435.0h0M130.0 431.7h0M105.1 434.1h0M125.4 424.6h0M105.3 428.1h0M118.1 436.2h0M133.0 422.4h0M129.9 424.1h0M106.0 424.4h0M104.9 430.6h0M132.1 426.1h0M125.0 434.6h0M120.0 435.3h0M98.2 436.8h0M123.1 431.1h0M102.4 434.0h0M114.6 432.4h0M120.7 430.3h0M108.1 442.4h0M118.6 434.8h0M123.2 429.1h0M117.0 432.4h0M139.2 437.3h0M116.8 441.4h0M116.6 439.9h0M105.8 442.1h0M133.5 422.6h0M126.5 422.1h0M128.8 424.2h0M136.3 431.5h0M128.0 437.9h0M112.4 425.9h0M112.3 431.5h0M130.0 426.5h0M122.5 433.3h0M130.1 430.5h0M136.6 427.6h0M121.6 435.0h0M112.1 423.4h0M135.9 433.4h0M125.0 423.5h0M102.7 430.7h0M129.8 424.2h0M132.5 437.6h0M117.4 440.5h0M129.6 425.1h0M129.1 436.6h0M111.3 425.7h0M95.5 440.3h0M138.6 427.0h0M123.2 431.4h0M117.4 432.6h0M93.4 439.3h0M104.3 430.2h0M128.1 443.7h0M113.3 430.1h0M134.7 425.7h0M109.1 442.6h0M101.1 440.6h0M95.6 439.5h0M100.0 435.5h0M127.9 432.5h0M114.4 426.2h0M104.1 436.9h0M98.4 440.3h0M118.3 425.3h0M112.5 431.5h0M135.4 420.0h0M137.7 425.7h0M122.5 442.2h0M110.6 436.8h0M112.1 439.3h0M138.4 430.3h0M117.9 422.2h0M108.1 425.1h0M94.6 436.0h0M124.5 427.1h0M134.1 423.2h0M103.4 430.5h0M127.0 431.1h0M131.3 435.1h0M101.6 436.5h0M108.9 437.3h0M96.4 432.3h0M131.0 423.4h0M122.3 425.7h0M98.0 429.8h0M124.5 422.8h0M109.1 441.2h0M113.2 424.8h0M127.8 430.6h0M130.2 438.0h0M116.3 433.3h0M139.9 429.9h0M119.6 438.4h0M118.1 443.4h0M134.7 438.7h0M112.4 440.8h0M110.0 436.0h0M132.0 425.3h0M118.7 432.0h0M123.5 439.1h0M104.9 434.3h0M129.5 438.2h0M121.7 438.2h0M129.4 434.1h0M123.3 419.3h0M115.1 429.6h0M108.1 429.9h0M122.0 422.6h0M123.2 441.5h0M118.1 430.7h0M120.3 436.8h0M100.9 424.9h0M126.9 429.9h0M106.3 443.3h0M103.2 433.2h0M102.2 433.9h0M125.9 438.3h0M120.3 425.3h0M130.1 428.7h0M122.0 443.0h0M103.5 435.9h0M128.2 425.4h0M110.7 435.9h0M133.5 426.6h0M131.4 435.2h0M133.3 431.4h0M123.9 422.4h0M139.0 432.0h0M124.5 435.5h0M133.3 423.9h0M118.0 436.8h0M115.8 442.7h0M120.3 436.7h0M121.7 438.5h0M103.2 438.8h0M136.3 425.3h0M97.6 427.3h0M137.1 430.9h0M118.4 438.8h0M127.0 424.8h0M110.1 426.8h0M135.1 423.1h0M98.5 435.0h0M101.0 434.0h0M127.4 428.0h0M105.1 427.7h0M112.2 435.2h0M125.0 436.0h0M105.2 440.0h0M117.8 433.4h0M124.0 439.5h0M124.4 423.1h0M112.8 423.9h0M129.3 434.4h0M103.3 430.9h0M135.7 423.0h0M135.3 428.1h0M133.7 428.6h0M131.0 433.5h0M118.5 440.4h0M135.9 435.2h0M97.8 438.7h0M137.3 430.9h0M121.7 432.4h0M112.2 435.9h0M105.0 428.3h0M119.7 428.7h0M100.5 429.0h0M96.5 439.4h0M107.0 440.5h0M133.0 431.5h0M113.6 440.8h0M116.2 440.7h0M99.1 436.5h0M125.1 435.4h0M137.1 429.2h0M96.6 440.5h0M94.9 435.5h0M126.0 421.1h0M141.6 427.1h0M101.6 441.5h0M115.8 427.9h0M102.1 440.5h0M105.7 422.8h0M107.8 426.7h0M102.1 438.9h0M122.6 437.3h0M115.3 426.2h0M105.4 431.3h0M138.1 425.7h0M127.3 423.9h0M107.4 431.2h0M91.7 439.8h0M125.2 432.6h0M133.7 433.8h0M112.1 439.9h0M133.2 431.1h0M116.8 443.4h0M107.5 441.5h0M96.6 435.9h0M143.9 426.8h0M101.7 431.1h0M129.1 434.2h0M126.9 428.1h0M133.8 433.3h0M112.8 436.5h0M118.8 424.4h0M123.4 427.5h0M134.1 437.1h0M110.0 423.9h0M140.6 431.3h0M134.4 424.8h0M113.9 436.8h0M98.2 440.3h0M139.6 431.1h0M127.0 438.7h0M136.7 431.0h0M136.9 433.4h0M106.1 430.0h0M94.9 440.0h0M110.4 422.5h0M107.8 423.9h0M108.9 439.0h0M96.9 438.6h0M131.9 439.7h0M120.1 426.6h0M105.0 437.7h0M105.6 435.9h0M103.0 435.0h0M102.7 427.6h0M117.1 431.4h0M104.7 429.3h0M112.3 437.7h0M126.2 436.1h0M108.4 434.2h0M102.2 435.0h0M118.6 430.1h0M123.6 435.7h0M92.5 431.1h0M125.8 431.6h0M126.0 429.7h0M136.3 422.7h0M126.6 430.8h0M114.1 427.5h0M128.7 423.6h0M101.8 442.7h0M101.7 440.3h0M93.5 438.3h0M117.4 437.3h0M90.9 433.8h0M140.2 431.8h0M124.5 438.4h0M127.0 424.0h0M138.9 431.6h0M134.4 424.6h0M103.2 443.0h0M132.9 428.8h0M106.5 438.3h0M103.4 445.6h0M129.4 437.4h0M124.1 434.2h0M134.5 433.9h0M98.6 427.9h0M93.6 435.8h0M121.6 430.5h0M105.3 433.6h0M107.5 427.8h0M118.5 429.8h0M102.6 443.8h0M105.1 433.7h0M127.3 439.2h0M110.1 443.6h0M113.7 442.2h0M104.3 424.7h0M109.5 442.4h0M137.4 423.6h0M133.6 433.7h0M109.5 427.6h0M108.7 424.3h0M117.9 426.5h0M119.3 434.5h0M132.1 431.3h0M112.8 422.8h0M97.1 432.8h0M105.7 439.0h0M111.1 443.6h0M113.2 442.5h0M134.3 428.3h0M113.4 443.4h0M129.3 436.6h0M118.3 436.4h0M120.5 429.1h0M103.3 441.0h0M136.0 438.1h0M105.9 440.7h0M108.8 424.9h0M92.7 439.1h0M110.9 444.2h0M100.9 429.0h0M101.3 427.1h0M119.7 422.1h0M117.3 421.9h0M119.2 424.4h0M113.3 432.6h0M105.7 443.8h0M110.3 431.1h0M138.8 431.7h0M117.7 429.6h0M116.3 429.7h0M102.4 431.9h0M133.1 423.7h0M121.7 425.1h0M105.7 444.0h0M119.7 430.0h0M118.0 442.5h0M116.2 422.4h0M105.4 424.0h0M130.9 438.4h0M137.8 431.8h0M93.1 439.7h0M101.5 439.3h0M114.8 438.7h0M129.3 431.5h0M122.2 430.8h0M101.2 446.3h0M118.1 435.6h0M107.2 445.5h0M107.1 440.5h0M93.3 439.9h0M106.1 429.6h0M110.9 433.4h0M100.2 441.3h0M104.2 440.0h0M99.7 433.0h0M138.7 427.0h0M118.1 430.8h0M116.6 435.4h0M104.2 426.2h0M105.1 429.6h0M122.1 429.7h0M102.9 424.7h0M114.0 430.9h0M102.5 424.1h0M133.6 427.5h0M126.2 428.7h0M104.3 437.6h0M133.6 425.4h0M133.1 438.4h0M140.1 428.1h0M118.5 424.2h0M130.9 436.8h0M128.1 426.5h0M98.0 442.5h0M98.6 430.6h0M95.6 431.4h0M93.8 432.6h0M124.5 440.3h0" stroke="#fb9a99" stroke-width="0.62" stroke-linecap="round" fill="none" stroke-opacity="0.9"/>
<path d="M68.5 495.6h0M66.2 485.8h0M66.0 501.3h0M62.2 485.7h0M76.7 497.2h0M70.7 489.8h0M60.6 493.4h0M68.7 494.8h0M69.4 504.4h0M75.7 502.7h0M71.8 492.9h0M78.5 503.1h0M75.3 478.7h0M79.1 503.4h0M82.4 487.2h0M74.7 504.6h0M70.6 506.8h0M69.2 484.3h0M65.6 497.1h0M61.7 483.3h0M61.8 494.9h0M74.8 496.4h0M72.1 488.0h0M83.6 493.0h0M69.1 485.3h0M75.9 507.5h0M70.6 473.2h0M77.3 493.6h0M75.6 484.2h0M69.8 481.5h0M63.4 497.7h0M74.7 505.0h0M83.3 495.9h0M72.0 488.6h0M70.6 501.8h0M87.5 484.7h0M64.8 487.1h0M64.2 496.2h0M66.9 504.7h0M78.4 492.4h0M70.7 490.7h0M63.8 496.9h0M69.7 493.3h0M72.3 497.8h0M82.9 481.3h0M76.1 497.4h0M65.4 502.6h0M68.4 485.8h0M74.6 499.7h0M73.1 485.5h0M77.7 494.5h0M66.1 504.0h0M88.2 491.3h0M65.6 505.5h0M77.3 478.1h0M87.8 496.0h0M62.4 500.9h0M62.0 487.0h0M76.4 484.8h0M76.7 498.8h0M77.5 499.8h0M76.4 492.5h0M71.8 504.7h0M69.2 505.0h0M86.2 498.7h0M65.5 501.6h0M71.8 487.2h0M80.9 485.1h0M71.6 504.8h0M57.4 482.9h0M73.1 486.1h0M75.0 485.8h0M68.1 489.1h0M68.4 496.8h0M80.2 489.6h0M74.9 503.7h0M61.9 501.2h0M73.5 501.9h0M70.1 472.5h0M80.8 484.1h0M79.9 492.5h0M83.9 497.5h0M78.8 474.8h0M69.0 499.3h0M78.8 489.4h0M83.5 489.9h0M79.0 485.2h0M71.0 503.0h0M72.6 481.6h0M67.0 472.9h0M72.5 483.6h0M72.5 498.7h0M82.5 492.5h0M85.2 492.5h0M77.9 503.9h0M63.2 500.3h0M81.9 490.2h0M64.7 495.8h0M67.1 504.6h0M65.6 499.3h0M68.8 501.6h0M87.6 486.5h0M69.9 501.7h0M57.0 499.6h0M78.7 488.7h0M72.4 499.5h0M75.0 494.9h0M67.2 491.8h0M66.0 486.3h0M72.7 488.1h0M71.1 503.8h0M74.2 476.6h0M65.1 494.9h0M76.6 496.2h0M78.4 491.5h0M82.5 481.6h0M79.3 504.9h0M69.6 484.5h0M80.2 505.1h0M59.0 490.9h0M81.6 498.9h0M75.6 499.1h0M83.3 504.4h0M68.4 499.6h0M80.6 490.7h0M64.5 495.0h0M81.2 489.6h0M75.4 493.0h0M74.6 496.4h0M70.9 487.4h0M67.9 487.4h0M72.3 491.5h0M63.4 486.8h0M81.6 483.8h0M65.6 501.2h0M84.9 500.3h0M80.2 489.3h0M74.1 490.0h0M78.3 502.4h0M75.2 488.2h0M68.5 498.9h0M84.6 491.5h0M71.3 505.4h0M73.6 496.2h0M78.1 480.6h0M74.0 493.1h0M68.1 478.1h0M83.6 487.4h0M83.3 505.8h0M71.5 499.8h0M76.7 495.8h0M73.1 495.9h0M78.5 488.2h0M73.3 503.9h0M71.9 501.9h0M69.6 503.3h0M77.3 504.4h0M85.8 488.7h0M82.8 497.2h0M65.1 505.4h0M63.9 497.7h0M74.6 486.5h0M61.6 489.2h0M79.7 487.7h0M67.3 484.1h0M64.0 502.0h0M64.7 503.5h0M78.0 501.2h0M79.0 492.9h0M61.9 475.3h0M62.8 494.1h0M73.2 488.2h0M73.7 504.6h0M85.7 487.9h0M81.6 499.3h0M64.2 500.4h0M64.5 491.9h0M73.1 489.2h0M65.7 493.7h0M65.8 492.5h0M71.6 487.4h0M85.7 484.1h0M74.6 503.2h0M80.2 501.6h0M82.5 502.0h0M74.0 503.6h0M69.7 499.7h0M77.4 486.3h0M58.3 495.2h0M89.2 499.8h0M72.2 504.2h0M84.7 491.1h0M63.2 492.6h0M77.2 483.0h0M63.2 497.6h0M58.5 495.7h0M81.2 473.4h0M81.0 504.3h0M64.8 499.6h0M70.9 485.4h0M82.7 498.0h0M65.9 486.4h0M79.7 485.5h0M68.6 476.5h0M67.8 492.0h0M66.9 490.3h0M67.0 479.9h0M79.3 494.2h0M57.7 489.4h0M76.8 485.4h0M65.1 489.0h0M67.8 500.0h0M65.0 488.8h0M73.7 476.1h0M75.7 500.8h0M78.0 497.8h0M67.6 475.3h0M75.3 481.3h0M80.2 499.2h0M79.0 495.4h0M81.8 502.1h0M72.6 507.6h0M67.0 495.4h0M72.9 475.0h0M65.8 481.1h0M64.7 491.8h0M77.4 494.3h0M70.3 499.3h0M69.9 504.8h0M82.2 487.7h0M72.6 501.6h0M85.7 479.8h0M85.0 497.3h0M57.3 497.1h0M65.6 487.9h0M78.7 496.7h0M68.9 504.3h0M68.3 475.6h0M80.4 490.3h0M76.0 499.4h0M66.5 498.4h0M60.3 497.1h0M82.8 498.3h0M77.8 498.5h0M75.2 491.7h0M69.5 488.7h0M79.6 486.0h0M81.9 490.9h0M73.5 498.6h0M71.1 487.3h0M68.9 501.9h0M65.6 495.9h0M63.8 502.1h0M65.2 491.6h0M70.0 497.4h0M68.6 484.8h0M65.4 499.0h0M77.9 490.5h0M67.8 487.2h0M81.4 496.5h0M69.2 486.7h0M60.7 473.9h0M68.6 505.2h0M81.3 492.4h0M75.6 499.6h0M64.2 496.9h0M73.6 491.4h0M64.8 503.5h0M64.9 497.6h0M68.7 493.2h0M70.5 498.3h0M75.1 492.9h0M75.0 488.0h0M73.7 480.3h0M72.7 496.3h0M82.5 498.7h0M82.0 496.3h0M62.3 494.7h0M67.0 488.8h0M77.5 474.0h0M74.3 501.7h0M80.3 490.3h0M83.2 502.9h0M71.9 505.6h0M68.3 497.3h0M61.3 490.0h0M65.8 489.3h0M75.3 501.8h0M85.7 491.9h0M77.5 504.7h0M80.9 490.8h0M74.5 507.1h0M72.4 497.8h0M74.2 492.4h0M60.8 486.4h0M70.6 503.1h0M77.0 496.0h0M72.2 499.8h0M74.9 483.1h0M64.0 471.3h0M70.5 488.0h0M81.0 496.2h0M71.0 482.1h0M86.6 497.6h0M74.4 499.4h0M74.5 501.5h0M71.9 497.2h0M84.7 495.6h0M66.5 474.4h0M79.6 490.4h0M72.9 486.7h0M72.5 476.2h0M61.5 502.4h0M82.6 498.7h0M74.3 487.2h0M71.1 496.5h0M75.3 493.9h0M83.2 496.8h0M79.4 487.8h0M69.4 495.3h0M61.5 500.0h0M84.7 500.5h0M80.4 489.9h0M82.5 492.5h0M82.1 508.3h0M63.7 481.6h0M87.9 489.3h0M70.1 498.6h0M79.3 499.2h0M78.6 501.3h0M84.9 492.8h0M74.9 498.1h0M66.8 505.2h0M59.5 490.6h0M66.9 493.8h0M78.2 487.4h0M72.7 500.8h0M85.6 502.8h0M81.5 492.9h0M69.5 499.8h0M66.8 491.2h0M72.7 508.9h0M74.3 485.6h0M64.7 505.8h0M69.3 492.2h0M84.6 492.3h0M81.5 497.3h0M75.2 484.8h0M81.7 489.5h0M84.3 489.8h0M78.3 505.3h0M79.0 485.2h0M69.6 493.5h0M63.5 501.6h0M77.1 497.4h0M74.7 501.2h0M59.7 487.1h0M81.2 490.7h0M80.7 501.4h0M67.7 497.6h0M68.8 492.9h0M67.7 485.3h0M77.7 498.4h0M72.8 495.2h0M64.5 505.1h0M73.0 505.3h0M83.2 499.7h0M82.6 491.1h0M84.9 495.1h0M87.3 496.2h0M80.5 486.2h0M77.7 504.6h0M77.2 491.4h0M65.8 491.3h0M79.4 501.0h0M75.0 500.3h0M81.9 499.3h0M64.1 492.7h0M67.3 503.8h0M67.5 488.5h0M85.4 493.2h0M64.6 493.0h0M62.4 497.6h0M81.0 506.1h0M78.6 493.8h0M58.2 500.4h0M72.4 489.5h0M82.1 498.1h0M72.6 485.8h0M78.0 500.0h0M67.5 497.0h0M73.7 482.5h0M69.9 502.6h0M80.6 505.7h0M70.0 484.8h0M73.1 504.5h0M77.7 504.3h0M87.3 488.9h0M69.3 501.8h0M82.2 499.7h0M69.6 486.2h0M66.2 500.4h0M80.9 481.3h0M61.3 496.9h0M65.1 498.4h0M70.8 504.8h0M61.6 496.1h0M76.1 500.6h0M69.4 491.6h0M83.6 495.7h0M85.7 495.2h0M82.5 493.8h0M76.2 482.1h0M79.3 500.0h0M79.2 499.6h0M62.4 500.1h0M78.1 482.2h0M83.5 500.1h0M69.8 496.3h0M65.3 495.8h0M76.6 492.5h0M67.7 494.7h0M78.6 489.8h0M67.1 502.2h0M76.3 485.2h0M62.6 496.2h0M73.8 497.9h0M67.0 479.9h0M66.7 484.0h0M74.9 502.4h0M78.6 482.9h0M63.8 486.2h0M67.1 496.8h0M79.1 494.4h0M65.6 498.9h0M77.0 488.5h0M64.5 487.5h0M63.0 503.8h0M77.3 503.0h0M76.9 489.8h0M79.7 494.1h0M72.3 485.3h0M72.0 497.8h0M86.9 488.2h0M81.5 505.2h0M73.0 481.6h0M76.2 482.5h0M63.5 490.8h0M77.5 498.9h0M73.8 499.6h0M82.1 487.8h0M87.3 503.0h0M75.3 493.2h0M73.8 483.7h0M76.6 489.5h0M77.0 482.8h0M71.7 485.3h0M67.0 499.0h0M71.8 499.4h0M78.1 501.5h0M59.0 498.4h0M63.7 473.2h0M78.0 499.0h0M78.8 486.9h0M69.4 494.2h0M73.3 478.6h0M76.1 493.1h0M85.0 499.3h0M63.7 493.4h0M65.7 499.4h0M76.0 491.2h0M74.6 501.1h0M73.3 507.8h0M66.4 500.6h0M81.3 502.2h0M61.1 490.9h0M70.6 503.0h0M61.4 485.6h0M63.3 494.0h0M65.4 473.2h0M80.4 488.2h0M67.5 484.0h0M62.1 495.9h0M62.3 490.2h0M76.4 495.1h0M74.8 499.3h0M83.1 504.9h0M71.7 498.2h0M72.4 490.5h0M75.1 501.2h0M79.2 495.6h0M65.0 500.5h0M69.5 493.6h0M83.5 497.9h0" stroke="#a9a9a9" stroke-width="0.62" stroke-linecap="round" fill="none" stroke-opacity="0.9"/>
<path d="M96.2 456.4h0M83.9 465.8h0M105.0 463.5h0M81.4 463.3h0M85.1 450.2h0M74.4 455.4h0M78.7 470.8h0M85.1 449.4h0M81.7 455.6h0M77.4 471.3h0M72.6 458.3h0M87.8 474.9h0M80.4 477.2h0M74.2 460.7h0M101.8 463.1h0M95.8 470.3h0M71.7 463.5h0M95.1 457.8h0M82.3 468.1h0M72.5 461.3h0M73.8 465.8h0M98.4 458.5h0M103.6 456.3h0M74.2 464.3h0M74.7 462.5h0M80.5 472.7h0M86.5 465.5h0M71.2 462.5h0M82.0 442.0h0M100.5 460.0h0M77.1 462.3h0M78.4 471.4h0M88.8 467.7h0M114.9 438.3h0M84.1 472.0h0M89.8 473.8h0M90.6 455.8h0M88.8 455.5h0M73.2 445.4h0M99.6 471.9h0M80.8 476.9h0M84.2 474.8h0M70.2 464.3h0M75.3 456.4h0M95.5 467.9h0M99.1 456.6h0M67.7 469.3h0M93.6 463.7h0M85.9 480.1h0M98.7 462.1h0M101.3 455.6h0M76.8 463.3h0M75.6 459.8h0M85.6 456.3h0M105.1 460.6h0M96.9 469.3h0M83.3 466.5h0M96.1 461.2h0M92.6 468.6h0M84.7 479.0h0M88.0 465.1h0M96.9 458.0h0M77.7 446.6h0M101.3 459.2h0M101.5 436.6h0M75.2 472.9h0M91.5 434.2h0M90.9 471.3h0M82.8 457.8h0M85.2 474.4h0M95.2 469.3h0M68.5 464.7h0M99.7 431.6h0M103.8 438.4h0M81.0 474.4h0M92.1 461.4h0M105.2 431.5h0M82.4 456.8h0M87.8 468.2h0M69.6 465.7h0M82.2 460.7h0M84.1 456.7h0M81.6 452.1h0M92.0 457.3h0M87.3 469.2h0M98.9 457.6h0M106.2 465.5h0M72.0 449.3h0M91.9 471.9h0M67.4 463.3h0M98.7 459.7h0M95.6 462.8h0M94.1 455.9h0M80.1 460.8h0M84.9 465.6h0M92.7 470.9h0M100.3 471.6h0M114.4 428.1h0M86.8 461.7h0M84.5 460.8h0M68.0 464.1h0M103.1 442.3h0M83.6 458.2h0M86.8 469.6h0M95.8 460.1h0M87.5 475.2h0M87.9 475.3h0M106.3 425.9h0M73.9 441.3h0M93.2 464.1h0M87.9 468.9h0M92.1 470.6h0M69.2 461.1h0M101.6 442.0h0M79.6 462.3h0M102.2 442.8h0M98.6 433.6h0M73.7 454.4h0M75.2 462.5h0M102.4 468.1h0M114.6 431.4h0M95.9 470.2h0M95.0 460.1h0M104.1 462.5h0M97.9 473.0h0M81.4 448.7h0M82.9 456.0h0M72.2 465.7h0M79.0 464.8h0M106.0 458.2h0M98.5 470.0h0M99.4 472.7h0M94.0 476.5h0M64.0 456.1h0M95.8 475.4h0M71.0 462.9h0M113.5 442.6h0M65.2 460.4h0M90.6 461.4h0M70.1 439.7h0M78.9 438.9h0M102.1 461.9h0M91.7 468.2h0M74.9 470.4h0M67.3 463.5h0M90.4 457.1h0M105.8 468.8h0M100.0 475.9h0M101.6 469.4h0M89.5 455.3h0M75.9 476.0h0M73.3 461.9h0M96.6 475.1h0M75.3 451.3h0M96.9 456.8h0M101.5 476.6h0M103.9 461.7h0M101.5 455.0h0M99.0 451.3h0M73.8 462.3h0M83.5 462.7h0M84.9 455.2h0M103.0 473.4h0M84.3 476.5h0M92.7 452.7h0M75.8 461.5h0M78.3 436.2h0M81.3 469.0h0M87.7 475.7h0M98.9 444.7h0M71.4 469.7h0M105.5 434.4h0M99.0 443.2h0M76.1 458.2h0M99.6 439.2h0M77.0 460.8h0M97.0 477.4h0M97.9 456.5h0M101.9 458.4h0M100.0 455.1h0M95.1 468.0h0M69.8 444.9h0M116.1 438.2h0M98.9 451.3h0M70.7 458.0h0M88.2 435.4h0M94.0 460.0h0M103.1 459.4h0M95.8 443.8h0M90.2 463.7h0M85.6 453.1h0M80.0 459.2h0M107.3 434.9h0M98.7 435.5h0M84.2 470.6h0M81.4 475.6h0M85.9 471.0h0M87.9 447.2h0M86.4 467.7h0M91.9 460.9h0M95.7 475.6h0M77.2 467.8h0M73.1 463.6h0M82.2 462.3h0M77.2 468.0h0M88.9 466.8h0M68.4 462.9h0M98.6 448.9h0M108.1 463.3h0M84.4 460.7h0M73.0 450.0h0M104.7 430.0h0M71.6 472.5h0M90.5 463.8h0M101.5 435.7h0M90.2 479.7h0M80.1 462.7h0M82.9 464.7h0M111.7 428.6h0M90.5 468.0h0M84.6 456.3h0M75.0 466.4h0M78.2 463.9h0M106.2 456.3h0M81.6 470.2h0M71.2 463.7h0M94.7 461.2h0M107.4 429.4h0M107.1 453.6h0M99.4 477.4h0M108.5 462.2h0M102.5 456.2h0M97.8 465.3h0M72.0 462.7h0M72.4 457.6h0M86.6 474.9h0M95.1 473.1h0M96.5 462.6h0M76.8 473.4h0M83.6 478.3h0M102.6 431.8h0M79.1 457.1h0M88.5 469.3h0M95.7 472.9h0M110.9 435.8h0M84.2 478.8h0M70.1 471.3h0M87.1 469.1h0M100.0 454.7h0M91.8 455.9h0M73.1 469.1h0M68.6 468.6h0M97.1 468.7h0M101.6 473.1h0M98.9 473.5h0M79.7 476.5h0M84.9 468.6h0M87.6 479.4h0M76.5 472.6h0M95.0 472.1h0M104.3 459.4h0M97.4 453.1h0M64.9 451.0h0M71.5 472.8h0M89.7 470.4h0M106.1 461.4h0M101.2 438.6h0M83.8 466.7h0M85.3 455.3h0M83.9 465.5h0M95.0 462.6h0M90.4 464.3h0M95.4 466.4h0M76.3 473.3h0M81.5 470.9h0M102.9 474.6h0M72.7 468.8h0M69.8 458.1h0M68.8 466.5h0M108.8 437.7h0M80.6 459.5h0M76.7 468.5h0M101.2 441.5h0M94.3 472.9h0M80.9 457.0h0M117.5 433.1h0M103.4 458.8h0M90.5 462.7h0M100.8 462.3h0M89.0 473.5h0M88.4 478.9h0M102.0 440.5h0M88.2 459.7h0M87.1 462.9h0M76.2 454.5h0M73.2 466.6h0M74.0 458.4h0M84.8 477.7h0M77.7 460.2h0M95.1 449.9h0M78.8 468.0h0M69.0 471.3h0M96.5 467.3h0M73.1 460.3h0M66.7 460.2h0M66.9 464.7h0M81.3 471.4h0M115.0 430.3h0M104.0 467.6h0M64.2 447.5h0M103.6 462.8h0M71.5 452.2h0M87.5 478.1h0M75.7 474.3h0M101.4 459.5h0M84.2 470.7h0M98.0 457.9h0M90.5 455.9h0M103.2 462.7h0M83.7 437.5h0M80.8 464.5h0M87.4 457.0h0M70.4 473.5h0M106.7 459.9h0M90.7 477.1h0M74.0 465.6h0M100.0 470.9h0M103.8 464.0h0M91.2 465.8h0M86.0 465.7h0M101.4 464.4h0M97.7 442.2h0M99.5 434.6h0M92.9 461.6h0M73.0 466.6h0M75.3 470.3h0M105.5 435.0h0M89.3 460.0h0M88.2 469.6h0M90.6 475.0h0M84.9 456.1h0M93.0 457.1h0M106.0 443.7h0M99.3 436.5h0M79.2 472.2h0M70.1 470.8h0M101.7 460.8h0M95.3 454.2h0M94.5 466.9h0M92.3 474.7h0M79.4 464.8h0M81.0 457.9h0M81.1 476.9h0M107.4 463.6h0M82.7 470.4h0M98.1 475.9h0M84.4 456.0h0M72.4 468.1h0M97.3 444.6h0M74.9 472.7h0M116.1 437.1h0M89.8 467.7h0M106.0 467.7h0M83.6 476.0h0M117.6 443.2h0M101.6 441.1h0M92.3 471.9h0M77.7 467.5h0M108.0 437.7h0M75.4 473.8h0M73.3 461.7h0M97.6 472.3h0M83.0 474.0h0M77.6 464.4h0M77.8 458.7h0M95.3 455.7h0M91.7 457.0h0M78.2 440.8h0M66.3 465.1h0M95.7 442.3h0M116.2 440.6h0M82.6 463.1h0M86.8 468.8h0M96.0 465.9h0M90.9 462.9h0M80.1 474.0h0M71.8 458.0h0M97.4 469.8h0M69.1 437.9h0M81.0 455.0h0M86.4 475.7h0M98.4 467.7h0M100.3 474.2h0M96.0 473.8h0M77.7 447.2h0M108.7 464.0h0M89.3 474.8h0M92.2 446.6h0M110.2 443.2h0M85.5 464.4h0M80.1 459.6h0M114.1 436.9h0M84.3 468.8h0M86.5 468.4h0M88.5 472.0h0M82.6 458.5h0M73.6 471.1h0M75.4 466.4h0M106.2 458.6h0M104.6 470.0h0M93.1 452.9h0M96.2 458.8h0M90.3 466.3h0M102.7 456.4h0M95.2 470.2h0M87.2 469.3h0M67.7 467.0h0M85.9 469.4h0M88.8 480.9h0M84.9 465.5h0M75.4 464.3h0M101.2 435.6h0M100.2 462.0h0M110.9 430.5h0M91.4 472.5h0M79.6 459.8h0M77.5 463.4h0M74.9 459.9h0M116.2 437.9h0M80.5 458.1h0M98.6 438.3h0M100.4 459.7h0M79.8 469.1h0M90.2 456.8h0M79.3 471.0h0M77.1 462.5h0M89.0 463.3h0M81.1 473.1h0M73.0 467.4h0M111.4 428.4h0M87.2 471.8h0M87.1 472.8h0M72.4 459.3h0M88.4 472.7h0M88.7 469.2h0M69.5 457.9h0M97.1 466.6h0M62.6 443.0h0M94.0 457.2h0M81.0 463.5h0M81.0 452.3h0M95.3 457.4h0M90.7 467.7h0M70.4 461.3h0M107.5 439.5h0M76.3 475.6h0M83.9 466.3h0M66.2 471.7h0M98.1 468.2h0M87.6 461.5h0M105.8 428.7h0M107.9 464.7h0M76.1 466.1h0M100.6 434.4h0M70.0 462.0h0M70.0 469.2h0M78.6 462.0h0M99.1 455.0h0M76.2 464.2h0M91.0 472.6h0M100.6 462.7h0M102.8 430.0h0M93.7 466.7h0M90.5 458.5h0M99.9 469.3h0M95.4 453.9h0M68.9 463.3h0M64.9 467.0h0M85.7 440.0h0M92.4 460.8h0M96.1 466.9h0M105.5 461.3h0M94.8 473.0h0M73.8 441.9h0M81.1 454.9h0M106.3 465.9h0M77.2 468.8h0M91.4 477.8h0M107.2 459.4h0M105.7 466.4h0M81.0 457.7h0M80.7 474.9h0M90.9 445.6h0M68.0 466.1h0M108.6 439.7h0M90.0 476.2h0M82.2 473.1h0M80.5 451.2h0M78.8 470.6h0M78.2 444.8h0M106.1 469.0h0M91.9 471.9h0M95.1 476.4h0M73.1 462.5h0M87.6 469.3h0M74.5 462.2h0M90.4 451.0h0M72.0 461.8h0M107.6 437.5h0M72.1 441.5h0M117.7 428.9h0M95.2 463.4h0M88.2 479.6h0M104.5 461.2h0M77.2 451.7h0M101.4 437.5h0M119.4 429.2h0M83.6 466.3h0M111.6 440.0h0M72.7 440.6h0M90.5 461.9h0M85.1 464.1h0M91.2 459.3h0M98.7 471.5h0M115.5 437.9h0M101.5 467.4h0M95.0 465.3h0M97.1 436.6h0M76.7 462.1h0M80.8 438.6h0M100.1 463.8h0M74.2 456.7h0M84.3 468.7h0M107.7 465.0h0" stroke="#e31a1c" stroke-width="0.62" stroke-linecap="round" fill="none" stroke-opacity="0.9"/>
<path d="M173.6 492.5h0M173.8 516.8h0M170.2 510.1h0M173.5 507.6h0M166.5 504.9h0M178.4 494.3h0M180.0 508.1h0M184.1 505.6h0M175.1 489.2h0M180.8 502.8h0M173.7 475.6h0M177.4 506.9h0M170.1 507.2h0M171.9 504.9h0M178.9 484.0h0M182.1 509.1h0M178.2 480.1h0M176.4 514.5h0M171.8 509.9h0M181.6 486.2h0M181.0 494.6h0M177.7 510.8h0M182.3 478.8h0M170.8 479.7h0M179.2 503.0h0M182.0 480.4h0M175.4 473.5h0M179.8 494.5h0M160.6 497.3h0M182.1 480.3h0M169.4 497.7h0M173.4 491.5h0M176.2 510.0h0M181.7 515.0h0M173.2 510.8h0M187.1 499.8h0M173.2 476.1h0M178.2 479.0h0M168.0 508.0h0M181.1 508.6h0M182.4 494.0h0M173.9 501.4h0M175.2 479.8h0M173.8 481.0h0M177.7 500.1h0M174.1 485.3h0M174.2 499.9h0M171.7 489.4h0M175.6 476.4h0M185.8 488.3h0M182.2 503.4h0M184.0 483.8h0M176.8 506.2h0M171.2 487.7h0M179.0 475.7h0M177.9 513.6h0M182.6 496.2h0M168.7 506.0h0M180.2 505.7h0M181.7 497.1h0M175.4 493.3h0M181.4 488.5h0M187.6 504.3h0M172.2 476.8h0M181.1 480.5h0M187.1 506.0h0M177.8 474.6h0M170.7 507.9h0M184.9 497.4h0M170.5 494.4h0M175.8 486.8h0M175.8 516.6h0M175.2 487.9h0M182.7 512.2h0M162.3 502.4h0M183.2 505.8h0M183.7 502.8h0M174.4 479.9h0M171.2 499.8h0M182.8 480.0h0M180.9 501.2h0M182.3 507.0h0M173.5 499.7h0M176.4 497.9h0M161.6 499.8h0M184.6 506.9h0M180.7 491.9h0M179.1 509.7h0M174.4 504.7h0M176.8 479.1h0M172.6 501.6h0M173.1 477.9h0M173.0 496.1h0M177.5 493.4h0M169.8 514.5h0M182.0 485.2h0M171.6 496.8h0M173.7 511.8h0M178.0 500.2h0M177.2 507.3h0M171.4 508.7h0M183.2 507.5h0M172.1 505.6h0M182.8 483.5h0M173.2 487.2h0M187.2 507.9h0M175.9 474.7h0M177.9 505.1h0M176.0 481.2h0M171.8 505.0h0M171.8 486.4h0M175.0 480.2h0M178.7 493.6h0M172.7 490.7h0M181.4 510.1h0M185.6 505.1h0M180.4 503.1h0M178.1 510.3h0M160.0 498.0h0M177.9 513.2h0M173.6 503.2h0M178.0 516.3h0M179.4 515.2h0M172.7 499.5h0M181.8 512.6h0M174.9 497.9h0M177.7 492.9h0M183.7 484.5h0M175.4 488.1h0M177.2 487.1h0M178.7 503.3h0M169.5 498.3h0M171.1 478.3h0M171.2 512.9h0M182.1 496.1h0M183.2 483.0h0M170.9 495.5h0M175.6 485.0h0M174.4 493.6h0M170.7 475.3h0M175.8 515.3h0M176.5 511.5h0M179.0 487.2h0M159.6 499.2h0M178.2 515.8h0M181.5 480.2h0M174.2 478.0h0M175.7 495.4h0M162.4 500.8h0M181.0 509.3h0M177.0 502.5h0M172.7 504.5h0M183.6 491.3h0M183.8 495.3h0M178.6 510.1h0M184.6 486.3h0M182.7 501.2h0M184.7 489.8h0M169.1 477.5h0M166.3 508.5h0M161.5 500.6h0M175.1 480.3h0M177.9 515.2h0M175.2 476.6h0M176.8 505.0h0M183.2 508.8h0M175.0 470.3h0M164.3 497.9h0M182.3 504.8h0M180.1 489.6h0M179.6 480.5h0M178.5 483.1h0M173.4 490.1h0M173.5 516.1h0M176.7 476.1h0M175.3 477.2h0M175.9 472.4h0M183.9 481.3h0M179.7 505.0h0M175.7 485.7h0M180.5 475.0h0M169.6 504.4h0M178.3 489.3h0M180.2 500.9h0M177.3 489.0h0M167.9 511.6h0M174.0 509.6h0M179.6 497.9h0M170.1 512.8h0M174.1 483.0h0M187.0 491.9h0M178.5 489.9h0M172.3 501.3h0M173.8 490.0h0M175.7 496.9h0M174.5 477.7h0M182.4 481.3h0M180.8 507.1h0M173.6 503.4h0M183.5 503.1h0M184.7 503.5h0M178.8 490.9h0M177.5 493.6h0M174.1 471.4h0M174.6 517.1h0M170.7 503.7h0M173.9 493.5h0M175.0 487.9h0M184.7 499.8h0M182.6 494.3h0M179.2 484.0h0M185.4 505.4h0M177.8 476.0h0M165.7 504.1h0M182.8 509.7h0M177.3 503.4h0M181.2 501.8h0M180.7 507.9h0M171.9 509.0h0M175.5 505.1h0M164.2 502.8h0M178.9 490.3h0M173.2 497.9h0M187.7 494.0h0M178.3 517.7h0M177.7 514.6h0M170.0 508.5h0M181.2 519.0h0M175.9 483.8h0M175.7 476.3h0M190.2 496.0h0M178.6 510.4h0M179.5 506.0h0M173.3 508.2h0M181.2 482.9h0M174.0 495.6h0M171.1 478.6h0M170.9 508.7h0M179.1 479.7h0M178.4 477.5h0M167.8 511.9h0M180.4 490.1h0M174.5 481.9h0M181.0 501.6h0M185.6 513.6h0M180.2 507.5h0M176.9 502.2h0M183.8 514.0h0M180.5 499.1h0M177.3 490.3h0M182.0 490.7h0M186.0 510.3h0M178.0 477.6h0M181.4 480.9h0M170.2 481.8h0M170.8 498.5h0M172.2 476.8h0M173.9 490.1h0M173.9 474.2h0M161.2 499.4h0M182.2 487.5h0M171.6 508.4h0M181.1 485.0h0M181.6 505.2h0M171.7 510.5h0M182.1 485.3h0M176.7 517.5h0M157.4 497.6h0M183.9 502.3h0M182.3 511.3h0M180.3 477.8h0M186.4 502.0h0M178.8 507.0h0M171.2 482.7h0M170.6 510.2h0M174.9 491.6h0M173.0 516.2h0M171.9 514.2h0M178.8 483.5h0M173.5 510.0h0M181.7 505.9h0M160.6 501.0h0M175.4 473.2h0M186.4 492.1h0M179.5 482.6h0M184.8 495.8h0M174.6 472.5h0M173.7 512.0h0M186.7 494.9h0M178.5 478.1h0M181.9 495.9h0M172.0 491.2h0M170.7 479.3h0M178.8 471.3h0M181.0 508.9h0M184.1 498.1h0M178.3 483.5h0M173.7 490.6h0M182.2 479.4h0M174.6 481.5h0M177.7 486.4h0M177.2 488.2h0M171.4 484.2h0M176.6 493.9h0M184.9 501.2h0M185.0 481.3h0M183.4 508.5h0M161.1 504.1h0M176.3 498.2h0M174.5 479.0h0M179.2 473.4h0M173.8 509.7h0M171.1 496.1h0M179.1 473.9h0M181.2 480.8h0M160.9 502.7h0M183.5 489.8h0M178.3 497.3h0M172.7 471.4h0M173.1 480.0h0M172.5 474.1h0M181.3 495.5h0M182.4 508.7h0M174.7 491.6h0M176.9 485.1h0M180.4 502.5h0M181.7 498.5h0M187.8 489.3h0M178.7 487.8h0M175.0 482.2h0M176.5 499.1h0M178.5 479.1h0M186.2 504.8h0M187.3 491.9h0M179.9 499.4h0M175.8 487.6h0M170.8 489.6h0M171.2 476.5h0M172.2 513.1h0M177.7 483.2h0M180.6 512.7h0M175.3 506.6h0M157.9 495.9h0M174.1 496.6h0M174.5 493.7h0M170.3 479.7h0M171.7 516.4h0M160.3 496.3h0M171.3 490.9h0M184.6 507.6h0M173.0 495.5h0M174.2 512.2h0M178.8 514.6h0M173.4 498.8h0M173.1 503.7h0M173.1 501.1h0M178.1 475.1h0M170.7 499.5h0M176.0 488.7h0M181.5 500.2h0M171.4 479.2h0M183.7 507.0h0M170.9 474.2h0M173.9 492.9h0M183.4 478.5h0M183.5 484.7h0M177.7 515.4h0M175.6 491.7h0M185.2 487.1h0M183.9 480.5h0M174.6 477.7h0M162.1 497.6h0M171.0 491.1h0M182.1 488.4h0M170.7 478.1h0M171.8 510.8h0M178.4 501.4h0M175.2 480.8h0M171.9 492.5h0M172.8 488.9h0M161.3 503.4h0M182.3 511.3h0M185.5 490.1h0M176.0 515.4h0M185.4 493.0h0M179.4 507.8h0M170.5 510.0h0M175.5 515.9h0M177.6 502.9h0M181.0 512.1h0M180.0 498.4h0M176.2 503.0h0M173.5 493.0h0M179.3 508.6h0M179.9 504.1h0M180.4 484.4h0M170.3 502.5h0M174.5 472.2h0M186.9 492.7h0M178.3 511.3h0M177.9 513.4h0M178.2 498.5h0M181.8 512.6h0M179.2 473.7h0M180.7 482.7h0M169.6 512.5h0M187.4 494.9h0M179.2 502.2h0M173.1 497.4h0M175.5 484.0h0M183.9 483.6h0M180.2 491.2h0M181.0 510.8h0M176.7 491.1h0M177.1 510.3h0M173.9 514.2h0M176.2 503.6h0M178.9 476.2h0M182.7 487.7h0M161.7 503.5h0M166.3 508.6h0M172.1 504.7h0M184.0 484.1h0M181.3 485.5h0M183.8 514.0h0M180.5 486.4h0M182.2 496.0h0M173.3 484.4h0M177.7 495.5h0M181.2 486.2h0M157.7 495.5h0M170.3 506.3h0M171.2 502.3h0M178.4 470.3h0M182.5 495.6h0M176.7 482.9h0M187.9 502.2h0M174.5 495.6h0M161.7 504.1h0M170.6 514.1h0M173.7 483.1h0M175.4 490.5h0M187.2 507.3h0M172.0 496.1h0M182.5 496.0h0M181.0 504.7h0M168.9 508.6h0M175.3 471.3h0M177.1 499.5h0M169.9 499.5h0M183.5 491.1h0M168.7 508.1h0M177.2 477.8h0M166.4 507.3h0M177.3 483.7h0M184.7 486.4h0M175.8 494.5h0M174.0 509.0h0M176.8 502.8h0M171.4 501.7h0M173.2 501.1h0M173.5 471.7h0M175.0 478.1h0M174.4 502.8h0M186.2 492.5h0M176.8 490.3h0M175.3 488.2h0M176.8 492.4h0" stroke="#fdbf6f" stroke-width="0.62" stroke-linecap="round" fill="none" stroke-opacity="0.9"/>
<path d="M155.5 447.5h0M147.7 426.8h0M151.1 436.8h0M157.4 446.3h0M158.1 433.7h0M145.8 442.2h0M145.3 430.7h0M147.7 439.0h0M161.6 433.8h0M159.1 433.5h0M155.2 441.1h0M153.0 435.0h0M150.8 427.2h0M150.8 444.7h0M152.6 427.8h0M149.0 438.8h0M141.6 432.3h0M142.5 434.6h0M158.2 432.4h0M152.1 444.7h0M148.9 445.3h0M142.6 440.1h0M163.7 437.8h0M149.0 427.5h0M149.0 434.8h0M152.7 435.6h0M141.8 422.7h0M141.6 424.6h0M146.4 424.8h0M144.5 435.0h0M141.9 427.6h0M145.0 434.9h0M138.3 438.2h0M141.4 422.3h0M141.9 428.0h0M155.6 427.8h0M147.4 446.4h0M147.1 425.3h0M158.0 432.8h0M157.5 442.6h0M148.8 427.1h0M156.9 430.0h0M157.7 430.2h0M158.3 430.6h0M156.0 440.2h0M139.4 422.4h0M149.1 445.0h0M157.4 428.1h0M150.9 428.6h0M151.7 425.6h0M157.0 438.9h0M148.7 433.0h0M156.2 436.0h0M147.8 440.2h0M153.0 431.9h0M139.7 435.5h0M158.1 426.3h0M139.1 435.6h0M157.6 443.0h0M143.5 433.7h0M151.7 425.6h0M146.9 444.5h0M157.6 433.3h0M146.7 427.8h0M144.0 419.7h0M151.9 430.2h0M144.5 434.5h0M144.1 421.2h0M145.2 440.0h0M158.9 427.7h0M151.8 443.0h0M138.8 429.9h0M142.0 426.4h0M141.9 423.2h0M163.2 440.1h0M139.4 436.3h0M158.2 430.0h0M161.4 439.8h0M147.9 441.3h0M160.4 430.7h0M155.0 441.7h0M162.8 447.2h0M140.8 437.7h0M139.5 437.9h0M142.3 426.7h0M159.7 442.4h0M140.0 426.5h0M144.3 440.0h0M155.5 442.0h0M147.5 442.3h0M152.5 432.1h0M157.2 426.0h0M158.8 429.2h0M164.9 438.8h0M150.6 439.1h0M150.7 445.3h0M147.4 439.1h0M150.1 430.3h0M142.7 429.7h0M164.3 437.9h0M161.2 441.8h0M147.3 422.7h0M159.0 431.8h0M145.0 429.6h0M151.2 435.4h0M158.3 444.3h0M148.3 444.9h0M155.4 428.0h0M142.6 441.1h0M138.0 433.9h0M150.2 431.5h0M154.2 443.8h0M157.2 445.2h0M148.1 439.4h0M164.4 435.8h0M156.2 431.5h0M141.9 436.1h0M156.7 437.1h0M147.6 429.9h0M156.7 427.8h0M138.8 432.5h0M143.1 436.5h0M147.1 430.6h0M151.3 425.5h0M149.0 430.8h0M150.2 430.3h0M158.0 425.2h0M150.5 439.7h0M150.7 428.7h0M158.9 429.6h0M154.0 437.7h0M158.1 431.4h0M160.8 441.5h0M151.9 428.2h0M145.4 425.3h0M160.7 434.9h0M160.5 440.2h0M147.0 445.6h0M144.0 421.8h0M146.4 438.0h0M152.9 434.6h0M152.5 444.0h0M148.0 441.7h0M141.8 424.2h0M142.1 443.0h0M146.0 427.4h0M140.8 430.2h0M143.6 422.8h0M159.5 444.9h0M143.9 434.2h0M156.7 438.9h0M158.5 430.1h0M158.7 434.8h0M147.4 434.3h0M148.5 434.8h0M146.0 446.1h0M152.6 431.3h0M148.8 427.8h0M138.4 425.9h0M163.4 443.3h0M157.2 442.0h0M143.4 420.0h0M142.8 428.6h0M144.6 422.5h0M155.8 442.6h0M155.1 437.8h0M158.6 437.6h0M155.2 429.9h0M161.7 444.2h0M147.4 435.7h0M158.9 441.0h0M157.1 433.8h0M142.7 427.0h0M138.4 422.6h0M155.6 443.6h0M144.6 430.7h0M147.6 437.9h0M153.4 439.2h0M139.8 425.6h0M152.3 440.7h0M148.1 435.3h0M153.9 430.6h0M152.6 425.0h0M151.1 434.7h0M161.0 431.0h0M152.9 438.8h0M143.3 425.9h0M143.3 434.8h0M137.1 423.5h0M161.6 433.8h0M151.9 426.5h0M155.6 433.4h0M146.0 422.7h0M164.0 440.7h0M154.2 443.2h0M163.4 435.8h0M144.2 429.1h0M159.6 431.4h0M151.6 442.1h0M163.1 435.8h0M152.5 446.4h0M143.4 436.9h0M163.2 439.7h0M144.1 432.3h0M154.1 447.4h0M143.1 442.0h0M152.6 427.6h0M159.5 440.5h0M145.6 434.5h0M160.1 441.6h0M152.6 428.1h0M143.7 425.0h0M149.8 434.1h0M150.1 434.5h0M158.3 441.5h0M155.8 443.7h0M139.1 423.0h0M140.5 438.0h0M164.2 441.9h0M142.8 428.0h0M149.2 425.3h0M141.6 424.1h0M156.8 429.5h0M142.4 443.1h0M151.6 433.6h0M136.6 434.7h0M151.9 431.8h0M156.7 431.8h0M143.0 444.7h0M158.1 442.3h0M145.3 436.2h0M154.2 434.0h0M141.8 423.8h0M151.5 439.0h0M153.7 427.2h0M140.2 431.7h0M149.1 425.7h0M138.7 422.4h0M153.9 424.9h0M158.3 438.1h0M152.6 438.4h0M162.9 436.2h0M141.6 428.8h0M154.8 431.3h0M154.0 439.1h0M159.5 433.0h0M148.0 424.7h0M143.5 429.8h0M142.8 440.3h0M138.6 432.6h0M149.9 427.8h0M152.8 444.0h0M155.9 426.1h0M143.9 438.6h0M151.5 429.5h0M157.0 431.3h0M142.4 430.2h0M151.2 426.1h0M161.1 440.4h0M158.7 432.2h0M154.4 437.8h0M147.2 432.7h0M146.1 427.4h0M152.1 442.3h0M142.9 423.9h0M155.8 433.3h0M153.5 431.7h0M149.5 442.6h0M150.8 428.3h0M141.0 430.1h0M159.7 446.3h0M143.4 435.8h0M153.0 429.6h0M163.3 436.8h0M140.1 434.1h0M139.4 435.3h0M156.0 441.0h0M163.5 435.0h0M139.5 430.5h0M142.7 440.7h0M144.8 441.3h0M160.5 441.6h0M162.8 438.7h0M159.2 441.1h0M141.1 436.0h0M159.5 439.1h0M142.8 434.6h0M139.9 437.5h0M156.5 428.5h0M149.8 440.0h0M140.3 421.6h0M162.9 440.3h0M153.7 432.4h0M155.1 426.5h0M150.3 431.7h0M145.2 438.7h0M156.4 443.7h0M146.1 426.2h0M159.1 446.1h0M147.8 439.7h0M158.8 431.8h0M153.8 427.3h0M157.3 429.8h0M161.1 444.0h0M147.4 430.0h0M151.0 428.1h0M153.4 441.6h0M158.6 429.8h0M153.1 427.9h0M150.8 432.5h0M153.2 439.1h0M150.9 427.7h0M138.8 426.7h0M142.7 422.9h0M165.0 437.8h0M155.3 435.3h0M151.8 433.7h0M156.6 427.4h0M142.0 440.3h0M163.1 433.1h0M159.3 445.1h0M155.7 435.0h0M151.6 430.6h0M158.9 442.0h0M152.4 447.0h0M143.9 436.4h0M156.2 432.1h0M160.6 437.6h0M149.6 430.3h0M152.8 431.9h0M155.1 431.9h0M142.9 437.0h0M144.6 428.7h0M148.8 435.4h0M142.1 434.6h0M148.1 444.4h0M148.2 446.5h0M141.8 440.7h0M147.5 432.2h0M158.5 432.5h0M150.7 437.2h0M137.8 422.8h0M144.7 434.8h0M155.8 426.3h0M155.2 444.2h0M148.6 436.2h0M147.4 432.9h0M153.1 437.5h0M137.8 428.5h0M157.4 433.2h0M164.9 442.5h0M140.0 440.2h0M153.8 432.3h0M143.4 440.5h0M147.6 439.3h0M160.5 440.8h0M160.2 446.6h0M144.4 423.9h0M146.1 423.6h0M152.8 427.2h0M159.2 438.3h0M143.4 436.5h0M156.9 445.1h0M143.9 442.4h0M153.6 437.6h0M153.0 438.2h0M164.1 437.2h0M148.8 435.4h0M156.2 446.6h0M146.7 437.0h0M157.4 430.8h0M151.3 441.8h0M151.8 428.5h0M139.4 437.5h0M156.5 437.9h0M138.3 438.7h0M150.4 434.7h0M158.6 431.8h0M138.9 430.9h0M144.9 445.1h0M157.9 439.4h0M141.1 435.9h0M156.5 438.1h0M153.7 433.1h0M143.8 425.4h0M143.8 437.5h0M147.8 424.4h0M146.4 436.7h0M143.5 438.8h0M159.5 434.1h0M163.4 436.3h0M156.4 436.0h0M138.0 422.0h0M157.7 430.7h0M146.4 439.0h0M138.4 435.9h0M154.3 431.1h0M160.0 431.2h0M148.8 430.7h0M156.8 434.7h0M144.0 437.7h0M144.6 445.3h0M150.4 426.8h0M162.8 440.6h0M152.2 436.2h0M138.6 434.9h0M148.1 436.9h0M152.2 439.9h0M150.9 432.5h0M151.4 432.6h0M151.6 434.0h0M149.3 439.4h0M161.7 443.0h0M149.9 428.3h0M145.2 423.8h0M159.5 435.4h0M162.9 431.5h0M150.8 439.5h0M162.3 439.4h0M158.3 427.4h0M144.7 444.1h0M155.6 441.1h0M151.1 430.4h0M156.1 435.0h0M150.7 432.8h0M139.2 435.2h0M156.5 444.4h0M165.1 442.8h0M141.8 430.9h0M145.9 439.4h0M137.3 437.7h0M144.0 433.2h0M139.4 426.2h0M159.5 435.8h0M153.9 427.8h0M158.5 438.8h0M158.6 430.5h0M138.4 434.1h0M139.5 423.7h0M145.6 429.0h0M140.4 433.8h0M149.2 442.0h0M147.9 433.7h0M156.0 442.3h0M140.0 431.2h0M143.5 428.7h0M161.5 441.9h0M147.6 440.7h0M146.2 437.7h0M149.1 445.2h0M149.9 443.7h0M153.4 432.3h0M148.4 433.8h0M145.8 438.4h0M147.0 431.6h0M160.9 436.7h0M151.2 430.6h0M139.8 437.9h0M142.3 433.3h0M153.5 435.3h0M153.5 443.8h0M150.7 427.7h0M143.9 422.6h0M157.3 434.7h0M145.2 434.6h0M146.9 441.3h0M140.5 432.1h0M143.2 439.2h0M146.1 436.0h0M141.9 419.4h0M141.6 430.9h0M160.5 442.4h0M150.0 437.7h0M150.0 443.8h0M151.0 427.8h0M148.2 446.2h0M164.1 443.4h0M165.2 439.9h0M155.2 441.3h0M159.4 433.9h0M147.8 425.9h0M164.1 438.4h0M153.7 426.0h0M140.8 439.4h0M149.9 433.6h0M159.7 436.6h0M140.7 420.1h0M144.4 432.0h0M146.8 424.8h0M157.8 436.0h0M142.7 443.0h0M161.4 439.8h0M137.8 433.1h0M150.8 432.1h0M140.9 420.2h0M150.9 432.8h0M147.1 432.7h0M147.4 440.8h0M152.9 432.4h0M136.9 424.9h0M141.9 434.0h0M158.1 439.5h0M142.5 425.7h0M164.5 438.3h0M158.7 431.7h0" stroke="#ff7f00" stroke-width="0.62" stroke-linecap="round" fill="none" stroke-opacity="0.9"/>
<path d="M95.7 553.6h0M98.1 542.5h0M90.9 542.3h0M104.6 546.5h0M94.8 519.4h0M103.3 558.6h0M100.4 556.5h0M103.1 550.7h0M91.6 550.8h0M112.4 562.3h0M104.6 550.6h0M108.2 559.8h0M88.6 518.4h0M92.0 542.8h0M100.8 518.8h0M93.3 548.4h0M90.4 517.5h0M88.6 537.9h0M93.6 544.2h0M99.1 545.0h0M91.9 546.0h0M93.9 514.6h0M99.1 548.7h0M91.7 539.1h0M102.0 546.1h0M93.3 542.8h0M107.3 552.6h0M109.5 559.8h0M88.4 541.3h0M97.9 530.0h0M94.6 522.5h0M91.4 540.2h0M96.6 541.8h0M107.2 557.2h0M91.4 537.1h0M88.2 544.1h0M99.5 557.7h0M95.1 538.6h0M90.5 548.8h0M98.1 542.6h0M90.2 541.1h0M101.8 554.5h0M94.2 551.0h0M103.5 533.6h0M102.4 550.4h0M108.0 552.4h0M103.6 551.9h0M101.9 553.9h0M102.7 546.4h0M95.8 554.5h0M94.4 517.0h0M92.7 544.9h0M94.6 540.4h0M108.5 555.6h0M107.3 552.0h0M94.9 534.7h0M86.9 528.8h0M105.4 562.1h0M93.8 540.1h0M88.9 538.3h0M93.9 538.9h0M103.9 564.4h0M111.3 560.5h0M109.6 561.4h0M92.9 546.3h0M93.9 550.0h0M108.0 552.4h0M108.5 563.4h0M94.8 546.6h0M101.5 543.4h0M98.6 554.5h0M103.5 550.1h0M95.3 547.8h0M98.7 547.4h0M92.2 530.8h0M89.6 541.0h0M105.5 555.1h0M94.2 549.5h0M98.1 541.2h0M108.4 554.7h0M101.5 546.4h0M98.4 549.3h0M101.7 561.0h0M92.0 538.2h0M95.0 533.8h0M100.5 554.5h0M90.8 518.1h0M91.3 547.2h0M94.1 538.7h0M108.2 559.1h0M98.1 552.0h0M91.9 530.0h0M104.7 560.6h0M87.1 538.0h0M111.2 564.1h0M88.8 543.9h0M97.6 541.6h0M104.8 550.4h0M101.6 554.1h0M101.7 558.6h0M99.0 556.1h0M94.9 543.2h0M100.4 562.2h0M99.9 524.2h0M93.5 545.2h0M98.7 544.1h0M106.0 566.6h0M97.2 548.2h0M96.5 525.1h0M93.1 546.1h0M97.3 557.7h0M85.5 520.6h0M92.8 540.0h0M101.4 545.5h0M95.1 527.9h0M102.9 556.2h0M110.1 563.4h0M89.4 545.8h0M94.9 549.4h0M95.6 546.4h0M106.6 553.3h0M96.7 554.3h0M102.6 526.6h0M108.1 553.9h0M100.0 560.1h0M91.1 539.7h0M96.6 542.9h0M94.8 537.4h0M90.1 548.4h0M106.9 552.3h0M102.2 551.3h0M91.5 536.2h0M98.1 554.5h0M105.0 552.6h0M102.7 531.4h0M101.4 550.9h0M94.5 543.7h0M92.7 541.8h0M103.1 547.6h0M94.2 544.8h0M91.8 545.2h0M102.1 566.0h0M94.7 522.0h0M104.8 552.5h0M108.2 552.4h0M89.2 538.6h0M101.0 545.4h0M105.7 563.6h0M102.3 547.1h0M101.1 547.9h0M98.7 516.0h0M106.7 563.7h0M97.9 541.8h0M98.4 549.5h0M92.7 545.3h0M102.4 535.3h0M90.5 541.6h0M107.1 565.3h0M100.1 542.1h0M92.0 550.5h0M101.5 553.7h0M92.6 545.4h0M90.2 535.7h0M90.0 538.3h0M97.4 549.5h0M109.6 554.0h0M102.4 546.9h0M101.4 563.2h0M94.2 537.3h0M103.3 560.4h0M103.6 556.0h0M99.7 545.8h0M106.4 559.4h0M103.8 556.7h0M100.6 563.7h0M99.0 541.5h0M95.9 541.7h0M111.8 560.8h0M102.6 550.7h0M106.7 564.8h0M92.7 520.1h0M98.4 554.1h0M96.5 549.3h0M90.2 536.5h0M96.3 553.5h0M94.4 527.2h0M104.5 547.2h0M95.0 546.7h0M106.4 554.1h0M97.9 541.7h0M101.2 530.2h0M94.7 547.6h0M103.0 550.2h0M94.3 540.0h0M111.4 562.0h0M94.3 527.4h0M104.6 561.2h0M94.5 546.1h0M90.7 545.2h0M94.2 527.6h0M92.7 546.0h0M109.7 561.7h0M98.8 521.1h0M102.7 554.6h0M91.5 520.8h0M88.6 543.1h0M100.7 550.0h0M95.5 538.1h0M98.3 561.1h0M110.4 560.7h0M87.8 527.2h0M102.7 561.4h0M109.1 556.5h0M102.4 561.6h0M108.3 559.9h0M101.9 561.4h0M102.7 545.3h0M98.2 532.5h0M102.8 562.8h0M105.4 556.3h0M96.8 545.5h0M103.9 554.5h0M90.0 519.1h0M108.1 554.5h0M91.2 536.7h0M100.6 558.0h0M92.4 542.0h0M109.1 556.7h0M96.3 540.2h0M88.5 540.6h0M97.0 545.9h0M97.6 538.7h0M96.1 557.6h0M93.4 527.6h0M94.8 547.1h0M96.5 541.5h0M99.0 518.0h0M93.4 548.8h0M89.2 545.6h0M96.6 557.8h0M105.9 565.5h0M106.6 553.2h0M94.7 544.6h0M97.1 524.2h0M94.2 536.6h0M105.1 555.7h0M89.4 522.7h0M95.9 551.1h0M89.5 541.1h0M109.0 561.2h0M109.0 554.6h0M98.7 544.7h0M110.5 560.5h0M96.1 551.0h0M97.2 541.2h0M99.2 521.5h0M93.0 524.7h0M95.4 556.6h0M96.4 538.5h0M91.1 526.2h0M95.2 550.3h0M93.7 552.8h0M103.7 554.1h0M104.3 562.9h0M95.5 545.3h0M101.5 548.6h0M103.3 557.2h0M95.7 546.1h0M98.4 532.0h0M105.0 558.6h0M91.3 548.9h0M105.4 551.2h0M96.6 559.9h0M105.6 562.6h0M107.0 553.9h0M101.7 554.6h0M109.9 564.3h0M99.9 560.7h0M100.9 558.5h0M104.9 552.4h0M96.7 550.9h0M108.7 552.7h0M103.9 546.8h0M90.2 545.2h0M109.0 561.2h0M94.3 543.8h0M103.3 557.6h0M101.7 521.7h0M91.2 518.2h0M103.7 561.7h0M102.4 562.4h0M105.7 559.7h0M94.3 552.7h0M95.7 555.2h0M107.7 556.5h0M102.1 550.2h0M104.7 552.0h0M89.2 539.9h0M101.8 544.3h0M96.4 545.9h0M94.2 540.8h0M101.1 544.4h0M100.1 549.6h0M92.5 540.6h0M100.8 518.4h0M107.8 565.0h0M91.8 547.9h0M99.4 555.2h0M96.9 539.9h0M99.7 556.0h0M97.6 539.2h0M100.8 542.5h0M93.0 542.0h0M95.7 552.2h0M91.9 518.1h0M88.7 524.1h0M98.2 528.2h0M92.5 538.0h0M97.2 549.5h0M89.9 539.4h0M105.9 551.5h0M101.5 549.5h0M88.8 546.2h0M101.8 546.4h0M95.6 539.8h0M100.0 546.9h0M98.6 535.5h0M96.0 545.1h0M110.4 556.8h0M91.6 523.9h0M93.7 553.4h0M97.3 533.4h0M108.4 557.6h0M98.2 517.9h0M100.2 560.2h0M109.5 553.0h0M93.3 547.3h0M99.5 542.8h0M99.4 517.7h0M88.9 524.5h0M103.9 565.3h0M100.4 543.5h0M95.2 554.4h0M95.2 537.9h0M98.3 554.5h0M87.6 521.4h0M101.0 543.7h0M99.9 544.1h0M104.1 562.3h0M104.9 550.1h0M95.3 542.6h0M98.4 547.3h0M88.4 537.8h0M101.3 561.9h0M87.6 539.6h0M91.0 541.7h0M92.4 547.3h0M103.1 557.8h0M99.0 550.7h0M89.7 543.1h0M102.3 548.3h0M93.6 548.9h0M101.2 544.9h0M105.3 551.9h0M102.8 546.7h0M89.9 524.2h0M93.0 547.8h0M90.2 545.0h0M102.2 549.8h0M97.9 544.5h0M98.8 540.2h0M99.5 556.5h0M100.5 529.5h0M100.6 532.6h0M91.1 540.4h0M93.4 539.4h0M103.5 529.0h0M103.8 561.9h0M88.1 524.8h0M101.7 549.6h0M94.1 545.8h0M103.9 548.2h0M109.3 562.6h0M99.8 554.2h0M100.2 545.8h0M89.3 517.7h0M91.8 521.4h0M95.0 527.6h0M99.8 542.6h0M93.6 545.5h0M102.5 543.6h0M92.1 541.4h0M94.6 552.2h0M90.6 540.3h0M90.0 544.9h0M103.9 563.1h0M93.1 537.1h0M92.7 542.0h0M91.5 541.5h0M102.3 546.4h0M85.9 526.8h0M93.2 546.8h0M95.3 541.9h0M96.2 524.8h0M100.1 533.7h0M106.0 566.3h0M95.9 537.2h0M88.7 539.8h0M103.6 552.6h0M91.1 541.5h0M108.2 554.2h0M102.4 531.1h0M109.3 562.9h0M88.9 516.7h0M95.8 554.7h0M93.7 536.5h0M103.6 549.5h0M94.9 556.0h0M100.1 542.0h0M106.7 562.4h0M100.4 521.3h0M93.8 537.7h0M99.3 554.5h0M101.8 557.6h0M107.1 563.3h0M103.9 565.0h0M103.9 549.4h0M102.9 547.5h0M100.6 553.1h0M90.2 539.2h0M96.5 541.1h0M99.7 530.0h0" stroke="#cab2d6" stroke-width="0.62" stroke-linecap="round" fill="none" stroke-opacity="0.9"/>
<path d="M100.1 497.7h0M116.5 491.9h0M99.9 476.7h0M108.8 496.2h0M114.7 498.0h0M111.5 497.1h0M125.6 495.1h0M127.5 499.0h0M123.9 493.3h0M106.0 494.0h0M111.0 495.6h0M114.5 494.4h0M123.7 494.5h0M105.8 499.4h0M118.6 489.8h0M111.6 496.0h0M110.0 496.3h0M120.3 497.0h0M122.6 495.6h0M114.2 492.4h0M96.2 496.0h0M125.5 497.9h0M124.5 496.5h0M114.0 492.1h0M101.4 498.8h0M119.6 489.5h0M125.7 491.0h0M113.2 487.1h0M94.1 477.5h0M104.4 492.8h0M106.2 497.9h0M108.3 493.7h0M107.2 495.1h0M102.1 486.8h0M124.0 491.5h0M112.4 480.8h0M98.3 487.4h0M108.6 498.8h0M106.1 499.0h0M127.0 496.4h0M132.9 496.7h0M125.9 497.6h0M103.8 496.3h0M128.7 491.2h0M126.0 493.8h0M132.8 494.1h0M131.4 496.0h0M119.6 492.2h0M125.5 495.7h0M106.8 495.9h0M115.6 491.7h0M92.0 483.1h0M119.1 490.1h0M119.8 492.5h0M93.7 488.1h0M103.4 483.7h0M122.7 489.5h0M109.5 494.4h0M129.1 494.6h0M114.2 494.3h0M108.5 493.9h0M125.9 496.8h0M122.5 499.0h0M116.8 490.7h0M124.1 498.7h0M120.3 494.8h0M110.4 495.0h0M118.7 496.7h0M118.6 489.7h0M130.1 493.1h0M121.5 490.9h0M106.9 476.2h0M95.3 478.8h0M117.2 495.5h0M116.9 497.2h0M110.2 496.7h0M91.2 476.4h0M123.9 497.7h0M135.0 496.5h0M126.2 495.1h0M108.2 498.2h0M127.6 489.7h0M113.1 498.6h0M102.5 498.6h0M114.7 497.0h0M100.8 485.0h0M91.1 475.5h0M91.6 483.4h0M131.8 495.3h0M121.9 497.0h0M123.6 488.7h0M108.2 499.4h0M121.2 496.5h0M106.5 495.9h0M99.0 480.1h0M126.7 495.9h0M129.6 493.4h0M94.5 477.5h0M101.7 487.1h0M117.0 490.5h0M115.5 495.9h0M99.0 491.6h0M126.1 494.4h0M127.2 496.4h0M92.5 475.1h0M122.8 491.0h0M105.4 495.2h0M114.7 497.2h0M122.5 493.3h0M106.1 497.8h0M125.5 497.7h0M122.1 497.0h0M115.6 491.2h0M101.0 483.3h0M93.5 490.1h0M117.5 494.4h0M135.0 496.8h0M124.1 495.0h0M129.4 494.7h0M92.4 475.8h0M100.9 485.4h0M97.9 480.7h0M107.5 495.2h0M123.3 495.1h0M118.5 493.1h0M96.6 481.9h0M93.8 478.5h0M121.0 492.4h0M110.5 482.4h0M117.6 492.5h0M97.5 481.1h0M131.6 494.8h0M104.5 485.4h0M123.6 491.3h0M129.8 496.2h0M110.8 493.8h0M111.8 493.4h0M125.3 494.4h0M101.0 496.2h0M96.7 484.2h0M116.1 490.7h0M123.8 489.9h0M100.7 485.5h0M124.6 491.2h0M122.4 498.7h0M132.2 494.4h0M130.4 497.0h0M129.3 495.5h0M122.4 489.6h0M111.4 494.3h0M118.3 497.4h0M116.5 493.8h0M120.6 498.2h0M117.5 498.3h0M119.4 495.5h0M113.7 492.8h0M114.7 492.3h0M117.8 490.1h0M122.0 497.3h0M101.4 495.9h0M127.8 495.8h0M110.1 496.8h0M134.4 496.9h0M107.3 498.1h0M122.2 493.4h0M121.4 498.8h0M102.9 483.5h0M133.9 495.1h0M91.9 479.1h0M127.4 494.6h0M112.0 497.6h0M130.5 494.7h0M102.8 498.0h0M107.4 476.0h0M122.4 491.5h0M122.5 495.5h0M113.5 496.2h0M123.1 489.5h0M127.1 491.9h0M119.7 495.8h0M135.7 497.0h0M111.6 498.4h0M109.2 478.8h0M121.5 491.9h0M124.1 491.6h0M114.1 491.8h0M118.6 497.4h0M106.5 494.3h0M126.6 495.3h0M121.2 497.6h0M122.5 497.4h0M123.0 493.3h0M115.1 491.0h0M112.5 494.4h0M98.3 482.2h0M128.3 493.8h0M131.3 494.2h0M99.3 482.6h0M124.8 493.5h0M116.0 492.3h0M117.7 492.4h0M125.1 498.8h0M101.4 498.5h0M105.2 497.5h0M113.4 498.3h0M89.5 478.1h0M127.1 495.9h0M126.6 493.5h0M121.8 495.2h0M103.4 498.5h0M118.2 492.3h0M109.6 498.1h0M106.4 480.5h0M97.0 489.6h0M131.4 496.0h0M124.0 491.1h0M110.8 497.7h0M125.6 490.6h0M132.0 494.5h0M113.5 491.2h0M117.5 497.1h0M112.1 495.3h0M115.0 497.8h0M110.2 492.7h0M124.0 492.6h0M125.8 495.4h0M122.6 491.1h0M98.2 477.0h0M123.3 491.5h0M99.7 497.2h0M121.5 490.0h0M104.0 486.2h0M128.5 496.4h0M92.5 494.6h0M100.1 494.6h0M123.1 495.2h0M129.4 496.4h0M97.4 502.6h0M122.5 494.1h0M129.2 492.8h0M105.1 495.3h0M96.7 481.1h0M127.0 494.5h0M132.7 498.0h0M129.5 493.0h0M110.2 496.0h0M122.3 498.2h0M104.2 498.4h0M121.3 495.5h0M130.2 494.7h0M115.2 495.4h0M115.2 497.2h0M129.8 494.8h0M123.7 497.9h0M104.8 495.7h0M128.9 493.8h0M123.1 495.6h0M106.2 497.2h0M126.1 498.0h0M93.3 477.0h0M129.2 492.6h0M116.7 493.1h0M97.9 480.4h0M102.3 484.7h0M108.0 495.3h0M101.6 497.0h0M118.5 491.8h0M93.6 478.0h0M90.9 477.2h0M103.2 496.3h0M105.9 496.3h0M119.2 490.9h0M102.4 497.2h0M121.3 498.1h0M107.3 496.9h0M119.8 493.0h0M118.8 490.9h0M106.9 496.0h0M127.0 492.0h0M120.2 497.2h0M117.5 494.4h0M123.8 488.7h0M104.0 497.5h0M92.6 478.6h0M104.3 494.8h0M122.4 494.2h0M117.1 497.6h0M115.3 494.1h0M111.3 499.2h0M106.3 494.1h0M93.7 480.2h0M121.2 498.0h0M125.3 493.7h0M97.6 480.2h0M121.9 496.0h0M117.8 498.1h0M105.0 485.4h0M115.5 491.2h0M131.6 495.0h0M129.2 494.2h0M134.6 496.6h0M120.7 490.6h0M96.9 479.7h0M117.6 496.0h0M121.1 492.6h0M105.9 498.8h0M118.9 497.2h0M120.7 490.5h0M92.5 478.5h0M99.8 481.6h0M125.8 499.7h0M122.6 496.0h0M108.1 494.6h0" stroke="#6a3d9a" stroke-width="0.62" stroke-linecap="round" fill="none" stroke-opacity="0.9"/>
<path d="M110.1 513.4h0M115.1 517.8h0M106.8 514.0h0M105.1 518.3h0M107.2 510.9h0M98.6 514.9h0M110.8 510.5h0M107.7 515.3h0M101.4 518.8h0M102.7 521.2h0M107.6 517.4h0M108.4 519.3h0M104.0 512.9h0M109.6 516.2h0M103.9 533.5h0M97.8 517.8h0M109.4 511.2h0M107.0 521.7h0M90.5 519.3h0M109.0 521.4h0M99.2 515.7h0M110.4 516.9h0M90.0 520.2h0M96.8 513.6h0M106.4 518.7h0M110.5 515.9h0M105.4 517.4h0M101.1 530.6h0M106.1 516.6h0M103.2 511.5h0M104.5 522.0h0M112.1 518.2h0M109.4 522.7h0M110.6 516.3h0M104.1 518.6h0M107.8 521.5h0M103.9 518.0h0M111.8 516.8h0M107.8 512.0h0M108.1 509.6h0M110.5 508.6h0M105.7 516.5h0M107.1 514.1h0M96.8 522.8h0M104.8 522.2h0M109.6 511.6h0M103.9 522.1h0M112.0 510.4h0M110.3 519.4h0M103.5 516.5h0M107.4 516.4h0M110.6 518.8h0M113.4 518.0h0M109.8 521.8h0M112.7 515.9h0M109.7 521.6h0M97.3 509.7h0M97.7 514.0h0M106.8 522.0h0M101.5 526.1h0M103.1 525.8h0M103.8 519.3h0M104.6 512.2h0M94.2 514.5h0M110.3 512.9h0M98.2 512.5h0M111.4 522.9h0M108.6 518.4h0M94.9 517.3h0M90.5 519.7h0M100.3 505.8h0M100.7 534.4h0M91.6 523.2h0M103.1 517.1h0M106.5 519.6h0M104.3 511.2h0M104.6 519.7h0M107.9 517.4h0M104.8 516.4h0M109.7 520.3h0M101.7 529.3h0M108.6 512.8h0M95.8 522.5h0M105.4 516.0h0M90.6 518.1h0M96.6 526.1h0M103.7 532.6h0M94.2 512.4h0M114.1 519.3h0M104.3 528.8h0M114.4 516.3h0M112.2 512.9h0M110.7 518.9h0M99.9 530.0h0M104.8 514.7h0M106.8 517.1h0M111.6 516.4h0M109.9 522.9h0M103.6 531.8h0M106.8 521.1h0M107.8 522.4h0M99.1 521.9h0M103.5 517.4h0M95.7 528.8h0M107.8 512.3h0M100.2 516.5h0M108.4 519.5h0M108.0 511.4h0M105.0 523.7h0M91.9 517.0h0M109.6 509.7h0M103.2 514.2h0M110.9 510.5h0M95.4 525.9h0M110.8 510.7h0M104.1 517.6h0M112.2 520.8h0M111.7 516.0h0M94.6 520.0h0M111.5 512.1h0M106.7 516.2h0M111.7 514.7h0M98.4 518.3h0M105.2 521.8h0M100.8 516.5h0M94.8 525.3h0M104.2 516.4h0M105.2 520.9h0M109.6 516.1h0M110.4 522.3h0M109.5 515.0h0M103.7 521.1h0M110.4 514.4h0M106.3 519.5h0M102.5 518.2h0M107.2 513.7h0M107.5 521.2h0M113.5 515.6h0M91.8 515.5h0M107.9 516.3h0M103.4 522.4h0M112.4 521.2h0M100.9 518.4h0M109.2 517.2h0M103.0 514.6h0M113.1 513.2h0M101.8 512.7h0M110.1 516.8h0M98.1 525.5h0M101.1 513.9h0M97.9 511.6h0M108.3 514.0h0M109.6 509.7h0M106.5 517.9h0M107.3 511.7h0M103.4 514.0h0M88.6 514.2h0M106.6 511.6h0M103.5 512.7h0M99.1 524.2h0M92.2 525.8h0M92.2 521.1h0M111.0 509.6h0M102.3 515.0h0M110.1 516.3h0M107.4 522.0h0M89.9 523.9h0M104.3 516.9h0M111.5 521.1h0M104.2 519.8h0M102.1 525.8h0M90.7 517.6h0M105.1 514.4h0M110.0 508.1h0M104.7 527.6h0M100.5 533.6h0M104.8 510.4h0M102.5 517.9h0M101.0 513.3h0M103.7 521.2h0M99.9 517.9h0M102.8 511.8h0M102.2 511.4h0M103.3 513.8h0M100.9 532.3h0M112.8 518.3h0M103.1 528.7h0M112.1 510.7h0M109.6 514.6h0M104.8 529.2h0M102.1 523.0h0M106.6 522.3h0M111.6 520.9h0M103.5 514.9h0M103.9 513.3h0M107.0 509.8h0M96.9 520.2h0M103.3 511.8h0M114.2 520.8h0M100.5 510.5h0M104.1 519.4h0M103.7 518.3h0M106.5 520.1h0M92.2 521.2h0M106.4 522.4h0M111.6 515.8h0M114.4 517.8h0M105.2 510.9h0M110.7 511.9h0M112.7 513.9h0M111.7 520.4h0M108.4 511.1h0M102.7 519.9h0M109.9 513.3h0M100.0 520.4h0M111.7 519.8h0M101.8 518.6h0M102.8 510.7h0M93.0 518.4h0M111.2 520.9h0M97.8 512.2h0M96.4 513.5h0M103.1 512.4h0M104.5 517.4h0M112.5 520.4h0M107.2 516.9h0M114.0 516.1h0M108.3 521.0h0M103.2 525.9h0M107.1 509.7h0M113.3 517.1h0M103.2 528.5h0M108.9 515.4h0M108.7 515.3h0M103.8 521.3h0M109.9 517.2h0M102.0 516.5h0M109.6 522.8h0M110.8 519.3h0M113.4 518.0h0M104.1 521.4h0M100.0 510.6h0M100.3 525.0h0M105.4 520.8h0M91.4 518.6h0M112.0 519.2h0M98.0 513.8h0M109.0 521.2h0M111.4 520.2h0M112.2 519.8h0M110.0 517.0h0M98.8 514.8h0M104.7 512.3h0M102.3 511.6h0M93.7 527.6h0M103.9 512.4h0M114.1 512.9h0M109.3 515.1h0M103.4 523.8h0M103.5 519.1h0M104.8 517.2h0M111.5 516.7h0M113.7 515.0h0M102.8 520.4h0M110.8 509.6h0M113.3 512.1h0M103.9 518.9h0M90.5 516.5h0M111.1 519.2h0M110.8 516.2h0M113.3 516.3h0M112.4 520.2h0M102.6 520.6h0" stroke="#7570b3" stroke-width="0.62" stroke-linecap="round" fill="none" stroke-opacity="0.9"/>
<path d="M168.3 518.2h0M171.5 516.6h0M175.3 520.0h0M180.3 522.7h0M178.7 516.3h0M171.9 517.7h0M181.4 521.7h0M176.1 515.2h0M169.9 517.6h0M178.9 520.9h0M178.8 514.7h0M178.7 519.7h0M180.4 519.5h0M174.6 520.6h0M172.7 519.6h0M174.0 517.5h0M181.1 515.5h0M177.2 514.6h0M176.9 523.4h0M170.1 520.4h0M175.0 522.2h0M177.5 517.0h0M179.3 523.0h0M170.6 521.7h0M176.9 523.7h0M170.2 516.6h0M173.9 520.1h0M178.0 518.3h0M180.1 520.3h0M177.7 523.1h0M175.8 518.1h0M178.6 518.4h0M178.1 518.6h0M181.2 516.5h0M181.2 520.9h0M175.1 519.9h0M178.5 518.1h0M177.3 513.8h0M177.3 520.6h0M180.3 515.2h0M171.6 520.5h0M173.6 516.4h0M179.7 515.0h0M173.0 517.6h0M170.5 520.1h0M178.4 520.9h0M173.2 520.1h0M173.3 522.4h0M174.2 522.7h0M173.3 517.0h0M182.0 522.3h0M175.5 521.3h0M178.2 515.3h0M170.5 519.8h0M178.8 521.9h0M176.7 519.5h0M170.1 517.9h0M179.1 521.3h0M174.5 520.1h0M179.5 519.1h0M177.9 522.8h0M172.9 517.9h0M178.4 516.8h0M177.6 522.5h0M178.3 513.1h0M172.2 522.9h0M175.5 518.3h0M180.6 517.0h0M180.9 521.8h0M175.5 522.5h0M177.6 521.1h0M173.6 520.1h0M180.9 520.9h0M174.5 523.5h0M184.4 518.8h0M173.0 516.3h0M180.5 521.3h0M183.3 520.3h0M172.4 519.0h0M176.9 514.6h0M181.1 520.4h0M170.8 523.4h0M174.3 520.7h0M179.7 516.0h0M170.4 517.5h0M170.5 518.8h0M178.1 515.1h0M184.5 515.5h0M169.9 519.5h0M174.6 518.5h0M179.7 519.6h0M170.7 519.0h0M179.3 518.2h0M175.5 520.5h0M176.0 522.6h0M172.9 522.4h0M175.0 517.8h0M173.4 523.6h0M174.3 523.4h0M179.4 518.2h0M173.1 516.7h0M182.4 521.8h0M178.6 519.1h0M176.3 515.8h0M176.2 520.5h0M171.9 516.0h0M182.2 516.0h0M178.0 523.1h0M170.3 521.2h0M170.5 516.0h0M173.7 522.2h0M174.5 518.9h0M180.0 518.6h0M176.1 522.7h0M182.9 519.0h0M180.4 519.1h0M174.7 517.7h0" stroke="#ffff99" stroke-width="0.62" stroke-linecap="round" fill="none" stroke-opacity="0.9"/>
<path d="M171.9 468.3h0M163.7 484.6h0M166.1 488.0h0M163.3 465.4h0M167.3 470.6h0M164.5 471.9h0M160.7 474.5h0M163.5 480.2h0M150.7 468.5h0M174.0 468.9h0M163.0 464.8h0M168.9 467.9h0M168.5 470.1h0M177.6 468.8h0M165.9 477.3h0M164.6 482.1h0M154.6 475.8h0M151.1 478.6h0M162.4 476.9h0M174.4 464.6h0M155.7 480.2h0M164.1 480.5h0M151.6 477.7h0M169.9 470.7h0M157.3 481.6h0M152.8 480.2h0M155.1 477.6h0M175.1 465.1h0M166.8 483.4h0M166.8 471.9h0M160.8 489.1h0M155.0 477.4h0M157.0 477.3h0M162.8 473.4h0M163.5 480.0h0M154.8 479.8h0M173.5 469.5h0M163.3 470.3h0M164.2 480.9h0M152.5 476.9h0M171.9 467.8h0M172.2 466.4h0M168.1 469.9h0M164.0 473.8h0M173.3 461.7h0M172.0 462.6h0M169.6 471.4h0M167.5 474.3h0M162.7 479.0h0M164.1 470.0h0M155.1 479.8h0M165.8 482.6h0M156.7 479.7h0M168.1 470.7h0M163.5 472.1h0M155.3 480.4h0M162.6 479.1h0M163.3 469.0h0M165.6 469.4h0M158.1 468.0h0M168.3 467.4h0M164.7 472.5h0M164.9 464.9h0M156.6 475.7h0M166.8 482.6h0M160.8 483.9h0M160.9 475.4h0M162.8 470.6h0M165.1 478.4h0M158.7 477.0h0M149.2 474.9h0M160.0 477.2h0M149.0 478.3h0M147.7 479.9h0M171.4 481.3h0M165.3 470.9h0M155.6 479.4h0M166.6 469.7h0M164.1 464.7h0M175.5 466.5h0M158.0 478.0h0M154.9 480.1h0M170.2 491.6h0M148.1 467.2h0M166.7 469.6h0M153.7 482.7h0M159.7 474.4h0M158.1 479.9h0M163.7 473.6h0M153.7 478.1h0M153.8 476.0h0M153.0 480.1h0M159.9 475.7h0M160.7 467.5h0M163.2 473.0h0M172.7 466.8h0M166.0 475.5h0M154.4 478.8h0M159.8 479.5h0M165.2 480.1h0M161.4 473.7h0M165.0 481.2h0M155.4 477.9h0M163.5 473.7h0M164.9 483.3h0M151.8 480.3h0M152.1 475.9h0M162.3 470.6h0M164.6 476.1h0M163.4 472.0h0M150.5 474.4h0M162.8 463.9h0M163.9 478.8h0M176.5 466.1h0M162.5 472.5h0M153.6 482.2h0M148.9 480.6h0M165.5 476.3h0M160.4 481.0h0M163.8 483.9h0M173.4 467.2h0M168.9 467.6h0M169.3 487.3h0M164.2 470.7h0M173.8 462.0h0M168.1 470.8h0M163.7 483.7h0M164.4 481.8h0M163.1 465.1h0M160.9 471.0h0M163.0 468.9h0M152.8 475.9h0M159.2 475.9h0M155.6 479.4h0M162.2 477.9h0M167.8 471.8h0M169.9 467.8h0M148.6 482.5h0M151.4 479.0h0M164.6 468.3h0M164.4 466.4h0M166.0 465.0h0M159.2 468.9h0M169.6 468.6h0M165.2 473.6h0M165.3 474.9h0M171.9 466.0h0M155.1 470.9h0M174.6 468.0h0M149.8 483.0h0M170.7 474.9h0M164.9 478.2h0M172.2 472.2h0M171.2 486.7h0M163.8 471.7h0M156.4 478.1h0M161.8 474.9h0M167.6 469.5h0M155.3 474.7h0M166.0 470.4h0M156.8 475.6h0M164.2 469.6h0M158.2 478.5h0M163.9 481.5h0M167.4 469.9h0M154.9 478.6h0M165.7 484.2h0M163.9 467.8h0M153.6 478.1h0M149.0 481.9h0M164.9 465.9h0M164.5 469.5h0M174.0 463.2h0M150.8 474.3h0M166.2 475.5h0M170.1 467.7h0M155.9 474.0h0M168.9 468.0h0M153.8 478.7h0M152.6 480.0h0M163.0 473.4h0M164.4 473.8h0M163.9 467.1h0M162.4 474.3h0M150.9 475.1h0M162.3 476.5h0M168.2 464.7h0M160.1 468.0h0M166.3 490.7h0M163.1 477.5h0M165.6 471.2h0M162.4 481.9h0M163.1 473.7h0M151.4 474.2h0M152.2 481.7h0M164.0 469.7h0M163.8 468.2h0M159.6 469.7h0" stroke="#e7298a" stroke-width="0.62" stroke-linecap="round" fill="none" stroke-opacity="0.9"/>
<path d="M146.4 481.5h0M144.6 482.1h0M145.7 482.6h0M146.4 481.7h0M146.2 483.4h0M144.9 480.9h0M145.9 482.5h0M145.4 483.2h0M145.9 484.6h0M145.6 484.3h0M145.5 482.8h0M146.4 482.8h0M146.3 484.9h0M145.8 483.2h0M146.1 483.4h0M146.2 485.0h0M148.0 483.0h0M147.4 482.6h0M147.3 483.6h0M146.3 483.5h0M144.8 483.3h0" stroke="#b15928" stroke-width="0.62" stroke-linecap="round" fill="none" stroke-opacity="0.9"/>
<path d="M76.7 438.2h0M83.1 442.3h0M89.5 447.3h0M89.7 442.5h0M69.1 446.4h0M83.6 450.6h0M105.0 446.8h0M78.2 452.8h0M73.8 444.9h0M75.3 451.0h0M102.0 448.1h0M71.2 444.3h0M76.4 443.2h0M96.9 448.6h0M81.0 445.7h0M74.7 442.9h0M77.3 445.8h0M74.9 440.8h0M86.2 454.4h0M65.8 441.9h0M91.5 436.5h0M91.3 443.4h0M83.1 445.1h0M90.6 443.5h0M82.6 438.5h0M80.2 452.4h0M73.7 442.6h0M85.2 454.3h0M77.2 447.5h0M66.9 445.9h0M91.3 447.3h0M63.1 451.6h0M103.3 440.1h0M74.7 443.6h0M100.8 450.9h0M92.3 440.5h0M79.8 452.4h0M80.6 445.4h0M84.2 439.1h0M86.0 447.3h0M79.8 454.5h0M82.4 439.6h0M90.7 446.4h0M97.0 439.9h0M68.3 441.1h0M91.8 451.8h0M82.2 442.2h0M98.3 440.2h0M72.6 437.2h0M97.3 453.2h0M88.1 445.5h0M92.7 454.1h0M67.5 440.6h0M95.6 441.4h0M62.3 448.5h0M74.7 439.6h0M80.7 446.9h0M97.6 454.5h0M72.9 444.7h0M95.5 450.0h0M91.4 450.7h0M94.3 447.1h0M78.1 436.2h0M104.5 453.7h0M99.7 443.2h0M92.1 442.4h0M87.2 443.1h0M82.3 451.5h0M77.0 449.7h0M82.1 442.7h0M101.8 453.9h0M105.6 450.3h0M94.3 441.1h0M83.2 436.3h0M87.2 445.0h0M82.1 452.0h0M76.2 435.6h0M98.7 447.7h0M90.9 449.0h0M75.7 444.4h0M96.6 440.6h0M74.8 448.5h0M91.3 440.8h0M94.9 443.6h0M88.6 439.7h0M85.4 433.1h0M61.6 452.0h0M94.9 440.2h0M84.3 451.5h0M85.0 436.1h0M90.6 441.9h0M75.4 448.3h0M82.1 451.9h0M99.6 441.2h0M98.8 449.9h0M88.3 446.0h0M80.0 442.7h0M104.4 443.0h0M65.9 447.2h0M85.5 451.7h0M96.5 443.7h0M79.3 439.6h0M78.4 442.6h0M82.4 437.0h0M85.0 454.2h0M76.5 446.5h0M69.4 441.1h0M75.9 436.5h0M67.2 444.0h0M78.8 439.2h0M87.9 432.7h0M100.3 445.0h0M98.2 445.5h0M84.9 451.6h0M82.0 439.9h0M76.6 447.1h0M88.0 447.7h0M84.4 454.2h0M74.4 446.5h0M87.5 436.1h0M75.6 438.5h0M81.1 445.8h0M71.6 452.9h0M63.9 447.9h0M81.8 448.6h0M69.6 442.0h0M89.9 434.0h0M88.9 442.3h0M69.5 437.8h0M95.0 440.6h0M69.2 449.8h0M92.5 443.7h0M72.9 454.5h0M86.0 451.2h0M78.8 445.4h0M77.2 434.7h0M97.6 448.3h0M92.9 451.1h0M95.5 450.8h0M74.4 443.2h0M100.6 442.6h0M104.1 453.2h0M90.1 438.9h0M74.8 441.0h0M73.4 453.2h0M96.2 450.6h0M75.3 435.5h0M67.8 454.5h0M85.4 453.0h0M63.1 447.0h0M84.2 448.6h0M79.5 438.6h0M89.5 447.0h0M72.1 440.4h0M97.6 447.3h0M92.6 447.3h0M100.9 453.0h0M79.0 437.4h0M95.3 443.2h0M73.1 438.0h0M78.3 446.2h0M80.8 446.7h0M94.7 449.3h0M65.8 442.0h0M99.0 447.5h0M97.7 449.6h0M73.2 434.4h0M101.1 444.7h0M66.8 440.5h0M63.5 451.3h0M82.2 438.4h0M85.9 450.2h0M87.7 452.0h0M71.9 454.0h0M81.7 452.7h0M90.9 440.7h0M78.9 443.3h0M79.2 453.0h0M99.2 453.2h0M100.4 439.7h0M91.5 453.8h0M79.7 449.3h0M101.5 441.1h0M79.7 437.3h0M82.6 439.7h0M70.5 443.5h0M82.2 450.5h0M89.3 448.3h0M73.5 448.3h0M68.4 441.8h0M81.7 439.4h0M63.1 451.4h0M76.9 452.7h0M94.2 445.3h0M68.2 439.8h0M71.3 442.3h0M87.2 437.7h0M64.9 447.0h0M88.6 437.3h0M68.5 448.6h0M74.4 449.8h0M102.5 453.7h0M78.8 446.0h0M94.4 440.5h0M80.1 445.7h0M70.7 445.3h0M77.0 452.1h0M70.1 444.7h0M82.6 445.9h0M94.5 440.8h0M82.1 451.9h0M106.3 451.8h0M82.8 448.2h0M103.9 449.2h0M68.8 438.3h0M69.8 453.6h0M65.6 448.1h0M81.2 452.5h0M79.8 444.4h0M67.4 445.7h0M66.3 451.0h0M83.4 436.2h0M78.5 450.9h0M77.9 435.4h0M80.9 450.7h0M81.6 439.0h0M101.7 440.8h0M94.3 451.4h0M89.7 453.6h0M78.5 447.7h0M92.9 441.9h0M68.0 443.0h0M80.5 448.7h0M101.3 451.9h0M64.1 445.3h0M99.5 442.3h0M93.8 448.5h0M73.4 440.6h0M97.0 443.3h0M82.2 445.4h0M101.3 446.5h0M62.9 450.1h0M86.7 443.6h0M76.0 437.3h0M72.9 453.2h0M68.7 450.0h0M102.7 446.5h0M88.3 445.2h0M79.7 447.3h0M69.8 441.9h0M104.2 447.5h0M97.0 450.9h0M78.4 438.1h0M83.9 446.8h0M66.4 442.7h0M67.7 454.4h0M85.5 446.6h0M78.4 451.9h0M89.3 449.2h0M70.7 450.6h0M77.7 439.3h0M77.9 442.1h0M72.3 436.8h0M67.9 453.5h0M104.1 450.0h0M88.0 452.8h0M100.0 444.4h0M82.5 442.0h0M88.9 439.7h0M86.8 446.1h0M77.1 445.9h0M73.4 453.6h0M102.5 443.3h0M97.3 449.5h0M104.0 442.9h0M66.0 449.3h0M101.3 448.8h0M63.1 445.3h0M71.6 435.3h0M79.2 448.6h0M84.4 438.9h0M86.9 440.6h0M92.1 437.4h0M78.4 434.7h0M69.0 454.0h0M92.1 445.0h0M76.4 447.5h0M80.1 446.9h0M94.4 446.2h0M97.2 451.5h0M95.3 438.2h0M65.6 454.1h0M88.9 442.3h0M93.7 445.9h0M103.8 449.7h0M93.5 438.1h0M76.1 448.6h0M91.2 439.5h0M76.0 454.4h0M80.2 446.7h0M95.4 442.0h0M77.9 438.0h0M81.2 444.4h0M74.0 446.8h0M96.0 450.7h0M70.8 447.4h0M79.6 436.1h0M86.3 439.8h0M96.3 450.9h0M83.8 446.7h0M83.2 452.5h0M103.0 447.6h0M102.0 450.7h0M83.1 439.3h0M70.6 442.6h0M79.7 450.8h0M70.9 443.1h0M66.9 446.8h0M89.6 453.7h0M86.7 444.8h0M73.2 451.1h0M88.6 437.6h0M76.1 449.2h0M92.9 453.4h0M66.7 452.5h0M101.8 452.0h0M91.3 438.2h0M93.0 451.5h0M79.7 434.8h0M73.6 440.3h0M69.5 447.0h0M79.2 446.0h0M69.4 450.1h0M80.8 448.7h0M93.3 445.7h0M82.5 451.5h0M102.8 442.1h0M92.4 449.3h0M85.4 442.6h0M80.6 438.1h0M85.9 433.8h0M94.9 438.9h0M99.8 451.1h0M94.3 446.1h0M96.6 450.4h0M82.8 447.3h0M76.0 452.4h0M102.8 450.3h0M71.6 439.5h0M93.1 446.3h0M83.7 449.7h0M83.2 437.8h0M93.5 437.1h0M86.8 434.3h0M73.5 450.1h0M94.8 450.7h0M78.8 449.0h0M68.4 445.2h0M100.6 454.2h0M96.4 439.5h0M94.9 445.1h0M86.6 436.0h0M64.9 453.1h0M97.8 451.6h0M100.8 445.8h0M77.6 448.0h0M81.1 438.8h0M88.0 445.6h0M71.2 453.2h0M103.1 451.9h0M74.8 447.3h0M94.1 453.5h0M88.2 450.5h0M84.6 450.5h0M85.8 438.9h0M98.7 449.3h0M78.4 451.8h0M62.6 452.7h0M73.3 444.3h0M89.3 449.6h0M97.9 449.3h0M68.2 445.0h0M106.7 449.0h0M87.3 447.0h0M84.1 452.0h0M103.7 453.5h0M83.9 452.3h0M94.9 443.0h0M103.0 446.8h0M97.0 452.4h0M91.7 446.4h0M75.0 451.7h0M96.1 438.4h0M77.2 448.9h0M83.2 438.6h0M80.4 440.9h0M66.1 452.3h0M84.5 454.6h0M83.2 437.8h0M67.5 439.1h0M82.5 450.5h0M66.6 448.5h0M67.1 453.7h0M103.5 444.9h0M92.8 437.8h0M96.6 452.7h0M95.2 440.5h0M84.2 436.0h0M88.7 435.8h0M91.2 449.2h0M93.5 450.7h0M95.9 446.7h0M63.9 452.7h0M98.6 447.7h0M80.2 447.1h0M86.8 442.2h0M102.3 444.7h0M68.9 443.3h0M71.7 444.0h0M66.0 444.9h0M73.4 453.1h0M91.9 439.2h0M98.6 452.9h0M99.3 449.9h0M75.5 437.5h0M89.9 447.1h0M96.2 436.9h0M81.8 449.2h0M86.5 444.1h0M63.6 447.5h0M80.4 444.9h0M94.5 450.2h0M90.8 445.8h0M106.9 451.9h0M79.7 444.1h0M102.1 449.1h0M72.9 447.5h0M64.2 453.0h0M77.3 453.4h0M86.0 453.7h0M92.2 445.9h0M104.7 451.5h0M95.7 446.6h0M76.7 436.3h0M87.5 444.9h0M72.3 442.3h0M73.0 436.5h0M90.1 444.2h0M79.4 444.9h0M93.1 439.7h0M85.6 438.6h0M72.1 448.9h0M87.6 452.3h0M75.8 442.2h0M81.3 443.5h0M70.2 439.1h0M71.6 439.8h0M83.0 447.9h0M96.9 447.8h0M74.4 453.3h0M83.2 445.1h0M100.4 443.6h0M97.6 452.0h0M74.5 452.6h0M74.6 454.0h0M95.0 444.2h0M82.4 451.7h0M81.5 445.8h0M91.1 438.6h0M95.9 453.8h0M96.5 448.9h0M68.9 440.6h0M66.9 445.8h0M85.9 440.0h0M93.1 438.2h0M97.5 446.2h0M72.8 445.8h0M91.3 435.6h0M90.4 436.1h0M99.2 444.5h0M88.6 437.0h0M92.4 447.5h0M86.1 439.3h0M71.2 454.5h0M78.8 444.2h0M85.6 443.2h0M84.7 448.0h0M106.1 451.8h0M84.4 447.3h0M104.8 453.6h0M86.4 439.5h0M74.2 442.4h0M82.5 447.6h0M82.9 435.3h0M95.6 452.4h0" stroke="#a6cee3" stroke-width="0.62" stroke-linecap="round" fill="none" stroke-opacity="0.9"/>
<line x1="43.8" y1="411" x2="43.8" y2="573.9" stroke="#c6c6c6" stroke-width="1.8"/>
<line x1="43.1" y1="573.4" x2="199.9" y2="573.4" stroke="#444" stroke-width="1"/>
<line x1="38.8" y1="430.5" x2="43.1" y2="430.5" stroke="#444" stroke-width="0.8"/>
<text x="34" y="434.8" text-anchor="end">5</text>
<line x1="38.8" y1="477.4" x2="43.1" y2="477.4" stroke="#444" stroke-width="0.8"/>
<text x="34" y="481.7" text-anchor="end">0</text>
<line x1="38.8" y1="525.4" x2="43.1" y2="525.4" stroke="#444" stroke-width="0.8"/>
<text x="34" y="529.7" text-anchor="end">−5</text>
<line x1="38.8" y1="573.2" x2="43.1" y2="573.2" stroke="#444" stroke-width="0.8"/>
<text x="34" y="577.5" text-anchor="end">−10</text>
<line x1="67.2" y1="573.4" x2="67.2" y2="577.9" stroke="#444" stroke-width="0.9"/>
<text x="67.2" y="592.5" text-anchor="middle">−5</text>
<line x1="112.3" y1="573.4" x2="112.3" y2="577.9" stroke="#444" stroke-width="0.9"/>
<text x="112.3" y="592.5" text-anchor="middle">0</text>
<line x1="157.4" y1="573.4" x2="157.4" y2="577.9" stroke="#444" stroke-width="0.9"/>
<text x="157.4" y="592.5" text-anchor="middle">5</text>
<text transform="translate(10.6 492) rotate(-90)" text-anchor="middle" textLength="52.5" lengthAdjust="spacingAndGlyphs">UMAP_2</text>
<text x="96.5" y="611.5" textLength="49" lengthAdjust="spacingAndGlyphs">UMAP_1</text>
<circle cx="222.1" cy="427.6" r="2.1" fill="#a6cee3"/>
<text x="230.1" y="431.5" textLength="13.4" lengthAdjust="spacingAndGlyphs">T0</text>
<circle cx="222.1" cy="438" r="2.1" fill="#1f78b4"/>
<text x="230.1" y="441.9" textLength="13.4" lengthAdjust="spacingAndGlyphs">T1</text>
<circle cx="222.1" cy="448.4" r="2.1" fill="#b2df8a"/>
<text x="230.1" y="452.3" textLength="13.4" lengthAdjust="spacingAndGlyphs">T2</text>
<circle cx="222.1" cy="458.8" r="2.1" fill="#33a02c"/>
<text x="230.1" y="462.7" textLength="13.4" lengthAdjust="spacingAndGlyphs">T3</text>
<circle cx="222.1" cy="469.2" r="2.1" fill="#fb9a99"/>
<text x="230.1" y="473.1" textLength="13.4" lengthAdjust="spacingAndGlyphs">T4</text>
<circle cx="222.1" cy="479.6" r="2.1" fill="#a9a9a9"/>
<text x="230.1" y="483.5" textLength="13.4" lengthAdjust="spacingAndGlyphs">T5</text>
<circle cx="222.1" cy="490" r="2.1" fill="#e31a1c"/>
<text x="230.1" y="493.9" textLength="13.4" lengthAdjust="spacingAndGlyphs">T6</text>
<circle cx="222.1" cy="500.4" r="2.1" fill="#fdbf6f"/>
<text x="230.1" y="504.3" textLength="13.4" lengthAdjust="spacingAndGlyphs">T7</text>
<circle cx="222.1" cy="510.8" r="2.1" fill="#ff7f00"/>
<text x="230.1" y="514.7" textLength="13.4" lengthAdjust="spacingAndGlyphs">T8</text>
<circle cx="222.1" cy="521.2" r="2.1" fill="#cab2d6"/>
<text x="230.1" y="525.1" textLength="13.4" lengthAdjust="spacingAndGlyphs">T9</text>
<circle cx="222.1" cy="531.6" r="2.1" fill="#6a3d9a"/>
<text x="230.1" y="535.5" textLength="20.6" lengthAdjust="spacingAndGlyphs">T10</text>
<circle cx="222.1" cy="542" r="2.1" fill="#7570b3"/>
<text x="230.1" y="545.9" textLength="20.6" lengthAdjust="spacingAndGlyphs">T11</text>
<circle cx="222.1" cy="552.4" r="2.1" fill="#ffff99"/>
<text x="230.1" y="556.3" textLength="20.6" lengthAdjust="spacingAndGlyphs">T12</text>
<circle cx="222.1" cy="562.8" r="2.1" fill="#e7298a"/>
<text x="230.1" y="566.7" textLength="20.6" lengthAdjust="spacingAndGlyphs">T13</text>
<circle cx="222.1" cy="573.2" r="2.1" fill="#b15928"/>
<text x="230.1" y="577.1" textLength="20.6" lengthAdjust="spacingAndGlyphs">T14</text>
<text x="278.1" y="413.2" textLength="8.6" lengthAdjust="spacingAndGlyphs" font-weight="700" stroke="#111" stroke-width="0.7" stroke-linejoin="round" font-size="15">e</text>
<rect x="328.9" y="419.04" width="18.2" height="28.87" fill="#a6cee3"/>
<rect x="328.9" y="447.92" width="18.2" height="6.4" fill="#1f78b4"/>
<rect x="328.9" y="454.63" width="18.2" height="4.99" fill="#b2df8a"/>
<rect x="328.9" y="459.62" width="18.2" height="22.63" fill="#33a02c"/>
<rect x="328.9" y="482.56" width="18.2" height="17.95" fill="#fb9a99"/>
<rect x="328.9" y="500.51" width="18.2" height="22.32" fill="#a9a9a9"/>
<rect x="328.9" y="522.82" width="18.2" height="27.31" fill="#e31a1c"/>
<rect x="328.9" y="550.6" width="18.2" height="2.34" fill="#fdbf6f"/>
<rect x="328.9" y="552.94" width="18.2" height="3.75" fill="#ff7f00"/>
<rect x="328.9" y="556.69" width="18.2" height="4.06" fill="#cab2d6"/>
<rect x="328.9" y="560.74" width="18.2" height="4.21" fill="#6a3d9a"/>
<rect x="328.9" y="564.96" width="18.2" height="0.78" fill="#cab2d6"/>
<rect x="328.9" y="565.74" width="18.2" height="4.37" fill="#7570b3"/>
<rect x="328.9" y="570.11" width="18.2" height="1.4" fill="#f9b9d3"/>
<line x1="328.9" y1="447.92" x2="347.1" y2="447.92" stroke="#ffffff" stroke-width="0.35"/>
<line x1="328.9" y1="454.47" x2="347.1" y2="454.47" stroke="#ffffff" stroke-width="0.35"/>
<line x1="328.9" y1="459.62" x2="347.1" y2="459.62" stroke="#ffffff" stroke-width="0.35"/>
<line x1="328.9" y1="482.4" x2="347.1" y2="482.4" stroke="#ffffff" stroke-width="0.35"/>
<line x1="328.9" y1="500.51" x2="347.1" y2="500.51" stroke="#ffffff" stroke-width="0.35"/>
<line x1="328.9" y1="522.82" x2="347.1" y2="522.82" stroke="#ffffff" stroke-width="0.35"/>
<line x1="328.9" y1="550.37" x2="347.1" y2="550.37" stroke="#ffffff" stroke-width="0.35"/>
<line x1="328.9" y1="552.94" x2="347.1" y2="552.94" stroke="#ffffff" stroke-width="0.35"/>
<line x1="328.9" y1="556.69" x2="347.1" y2="556.69" stroke="#ffffff" stroke-width="0.35"/>
<line x1="328.9" y1="560.74" x2="347.1" y2="560.74" stroke="#ffffff" stroke-width="0.35"/>
<line x1="328.9" y1="564.96" x2="347.1" y2="564.96" stroke="#ffffff" stroke-width="0.35"/>
<line x1="328.9" y1="565.74" x2="347.1" y2="565.74" stroke="#ffffff" stroke-width="0.35"/>
<line x1="328.9" y1="570.11" x2="347.1" y2="570.11" stroke="#ffffff" stroke-width="0.35"/>
<rect x="349.7" y="419.04" width="18.2" height="36.67" fill="#a6cee3"/>
<rect x="349.7" y="455.72" width="18.2" height="8.27" fill="#1f78b4"/>
<rect x="349.7" y="464.61" width="18.2" height="8.58" fill="#b2df8a"/>
<rect x="349.7" y="473.66" width="18.2" height="15.29" fill="#33a02c"/>
<rect x="349.7" y="489.58" width="18.2" height="6.71" fill="#fb9a99"/>
<rect x="349.7" y="496.76" width="18.2" height="17.48" fill="#a9a9a9"/>
<rect x="349.7" y="514.71" width="18.2" height="24.19" fill="#e31a1c"/>
<rect x="349.7" y="538.9" width="18.2" height="3.12" fill="#fdbf6f"/>
<rect x="349.7" y="542.02" width="18.2" height="4.21" fill="#ff7f00"/>
<rect x="349.7" y="546.7" width="18.2" height="3.9" fill="#cab2d6"/>
<rect x="349.7" y="550.91" width="18.2" height="4.21" fill="#6a3d9a"/>
<rect x="349.7" y="555.91" width="18.2" height="11.39" fill="#7570b3"/>
<rect x="349.7" y="567.77" width="18.2" height="1.09" fill="#ffff99"/>
<rect x="349.7" y="568.86" width="18.2" height="2.03" fill="#e7298a"/>
<line x1="349.7" y1="455.72" x2="367.9" y2="455.72" stroke="#ffffff" stroke-width="0.35"/>
<line x1="349.7" y1="464.3" x2="367.9" y2="464.3" stroke="#ffffff" stroke-width="0.35"/>
<line x1="349.7" y1="473.43" x2="367.9" y2="473.43" stroke="#ffffff" stroke-width="0.35"/>
<line x1="349.7" y1="489.27" x2="367.9" y2="489.27" stroke="#ffffff" stroke-width="0.35"/>
<line x1="349.7" y1="496.53" x2="367.9" y2="496.53" stroke="#ffffff" stroke-width="0.35"/>
<line x1="349.7" y1="514.47" x2="367.9" y2="514.47" stroke="#ffffff" stroke-width="0.35"/>
<line x1="349.7" y1="538.9" x2="367.9" y2="538.9" stroke="#ffffff" stroke-width="0.35"/>
<line x1="349.7" y1="542.02" x2="367.9" y2="542.02" stroke="#ffffff" stroke-width="0.35"/>
<line x1="349.7" y1="546.46" x2="367.9" y2="546.46" stroke="#ffffff" stroke-width="0.35"/>
<line x1="349.7" y1="550.76" x2="367.9" y2="550.76" stroke="#ffffff" stroke-width="0.35"/>
<line x1="349.7" y1="555.51" x2="367.9" y2="555.51" stroke="#ffffff" stroke-width="0.35"/>
<line x1="349.7" y1="567.53" x2="367.9" y2="567.53" stroke="#ffffff" stroke-width="0.35"/>
<line x1="349.7" y1="568.86" x2="367.9" y2="568.86" stroke="#ffffff" stroke-width="0.35"/>
<rect x="370.5" y="419.04" width="18.2" height="30.74" fill="#a6cee3"/>
<rect x="370.5" y="449.79" width="18.2" height="9.83" fill="#1f78b4"/>
<rect x="370.5" y="460.09" width="18.2" height="12.8" fill="#b2df8a"/>
<rect x="370.5" y="472.88" width="18.2" height="11.39" fill="#33a02c"/>
<rect x="370.5" y="484.9" width="18.2" height="19.98" fill="#fb9a99"/>
<rect x="370.5" y="505.19" width="18.2" height="9.83" fill="#a9a9a9"/>
<rect x="370.5" y="515.02" width="18.2" height="16.7" fill="#e31a1c"/>
<rect x="370.5" y="531.72" width="18.2" height="4.06" fill="#fdbf6f"/>
<rect x="370.5" y="535.77" width="18.2" height="6.55" fill="#ff7f00"/>
<rect x="370.5" y="542.64" width="18.2" height="10.61" fill="#cab2d6"/>
<rect x="370.5" y="554.03" width="18.2" height="6.24" fill="#6a3d9a"/>
<rect x="370.5" y="560.27" width="18.2" height="4.68" fill="#7570b3"/>
<rect x="370.5" y="565.42" width="18.2" height="2.18" fill="#ffff99"/>
<rect x="370.5" y="567.61" width="18.2" height="3.28" fill="#e7298a"/>
<line x1="370.5" y1="449.79" x2="388.7" y2="449.79" stroke="#ffffff" stroke-width="0.35"/>
<line x1="370.5" y1="459.85" x2="388.7" y2="459.85" stroke="#ffffff" stroke-width="0.35"/>
<line x1="370.5" y1="472.88" x2="388.7" y2="472.88" stroke="#ffffff" stroke-width="0.35"/>
<line x1="370.5" y1="484.59" x2="388.7" y2="484.59" stroke="#ffffff" stroke-width="0.35"/>
<line x1="370.5" y1="505.03" x2="388.7" y2="505.03" stroke="#ffffff" stroke-width="0.35"/>
<line x1="370.5" y1="515.02" x2="388.7" y2="515.02" stroke="#ffffff" stroke-width="0.35"/>
<line x1="370.5" y1="531.72" x2="388.7" y2="531.72" stroke="#ffffff" stroke-width="0.35"/>
<line x1="370.5" y1="535.77" x2="388.7" y2="535.77" stroke="#ffffff" stroke-width="0.35"/>
<line x1="370.5" y1="542.48" x2="388.7" y2="542.48" stroke="#ffffff" stroke-width="0.35"/>
<line x1="370.5" y1="553.64" x2="388.7" y2="553.64" stroke="#ffffff" stroke-width="0.35"/>
<line x1="370.5" y1="560.27" x2="388.7" y2="560.27" stroke="#ffffff" stroke-width="0.35"/>
<line x1="370.5" y1="565.19" x2="388.7" y2="565.19" stroke="#ffffff" stroke-width="0.35"/>
<line x1="370.5" y1="567.61" x2="388.7" y2="567.61" stroke="#ffffff" stroke-width="0.35"/>
<rect x="391.3" y="419.04" width="18.2" height="20.29" fill="#a6cee3"/>
<rect x="391.3" y="439.96" width="18.2" height="9.05" fill="#1f78b4"/>
<rect x="391.3" y="449.48" width="18.2" height="4.99" fill="#b2df8a"/>
<rect x="391.3" y="454.94" width="18.2" height="19.51" fill="#33a02c"/>
<rect x="391.3" y="474.76" width="18.2" height="17.32" fill="#fb9a99"/>
<rect x="391.3" y="492.7" width="18.2" height="17.32" fill="#a9a9a9"/>
<rect x="391.3" y="510.81" width="18.2" height="19.04" fill="#e31a1c"/>
<rect x="391.3" y="530.31" width="18.2" height="2.65" fill="#fdbf6f"/>
<rect x="391.3" y="532.97" width="18.2" height="4.68" fill="#ff7f00"/>
<rect x="391.3" y="537.96" width="18.2" height="4.68" fill="#cab2d6"/>
<rect x="391.3" y="542.95" width="18.2" height="4.99" fill="#6a3d9a"/>
<rect x="391.3" y="548.57" width="18.2" height="20.29" fill="#7570b3"/>
<rect x="391.3" y="569.64" width="18.2" height="1.87" fill="#f9a6cf"/>
<line x1="391.3" y1="439.64" x2="409.5" y2="439.64" stroke="#ffffff" stroke-width="0.35"/>
<line x1="391.3" y1="449.24" x2="409.5" y2="449.24" stroke="#ffffff" stroke-width="0.35"/>
<line x1="391.3" y1="454.7" x2="409.5" y2="454.7" stroke="#ffffff" stroke-width="0.35"/>
<line x1="391.3" y1="474.6" x2="409.5" y2="474.6" stroke="#ffffff" stroke-width="0.35"/>
<line x1="391.3" y1="492.39" x2="409.5" y2="492.39" stroke="#ffffff" stroke-width="0.35"/>
<line x1="391.3" y1="510.42" x2="409.5" y2="510.42" stroke="#ffffff" stroke-width="0.35"/>
<line x1="391.3" y1="530.08" x2="409.5" y2="530.08" stroke="#ffffff" stroke-width="0.35"/>
<line x1="391.3" y1="532.97" x2="409.5" y2="532.97" stroke="#ffffff" stroke-width="0.35"/>
<line x1="391.3" y1="537.8" x2="409.5" y2="537.8" stroke="#ffffff" stroke-width="0.35"/>
<line x1="391.3" y1="542.8" x2="409.5" y2="542.8" stroke="#ffffff" stroke-width="0.35"/>
<line x1="391.3" y1="548.26" x2="409.5" y2="548.26" stroke="#ffffff" stroke-width="0.35"/>
<line x1="391.3" y1="569.25" x2="409.5" y2="569.25" stroke="#ffffff" stroke-width="0.35"/>
<rect x="412.1" y="419.04" width="18.2" height="32.46" fill="#a6cee3"/>
<rect x="412.1" y="451.82" width="18.2" height="27" fill="#1f78b4"/>
<rect x="412.1" y="479.59" width="18.2" height="11.7" fill="#b2df8a"/>
<rect x="412.1" y="491.77" width="18.2" height="13.11" fill="#33a02c"/>
<rect x="412.1" y="505.19" width="18.2" height="11.86" fill="#fb9a99"/>
<rect x="412.1" y="517.67" width="18.2" height="8.74" fill="#a9a9a9"/>
<rect x="412.1" y="526.88" width="18.2" height="7.02" fill="#e31a1c"/>
<rect x="412.1" y="534.53" width="18.2" height="7.02" fill="#fdbf6f"/>
<rect x="412.1" y="542.02" width="18.2" height="8.9" fill="#ff7f00"/>
<rect x="412.1" y="551.22" width="18.2" height="3.12" fill="#cab2d6"/>
<rect x="412.1" y="554.81" width="18.2" height="4.99" fill="#6a3d9a"/>
<rect x="412.1" y="560.59" width="18.2" height="2.5" fill="#7570b3"/>
<rect x="412.1" y="563.71" width="18.2" height="3.9" fill="#ffff99"/>
<rect x="412.1" y="567.92" width="18.2" height="2.18" fill="#e7298a"/>
<rect x="412.1" y="570.42" width="18.2" height="1.09" fill="#e3a98c"/>
<line x1="412.1" y1="451.66" x2="430.3" y2="451.66" stroke="#ffffff" stroke-width="0.35"/>
<line x1="412.1" y1="479.2" x2="430.3" y2="479.2" stroke="#ffffff" stroke-width="0.35"/>
<line x1="412.1" y1="491.53" x2="430.3" y2="491.53" stroke="#ffffff" stroke-width="0.35"/>
<line x1="412.1" y1="505.03" x2="430.3" y2="505.03" stroke="#ffffff" stroke-width="0.35"/>
<line x1="412.1" y1="517.36" x2="430.3" y2="517.36" stroke="#ffffff" stroke-width="0.35"/>
<line x1="412.1" y1="526.64" x2="430.3" y2="526.64" stroke="#ffffff" stroke-width="0.35"/>
<line x1="412.1" y1="534.21" x2="430.3" y2="534.21" stroke="#ffffff" stroke-width="0.35"/>
<line x1="412.1" y1="541.78" x2="430.3" y2="541.78" stroke="#ffffff" stroke-width="0.35"/>
<line x1="412.1" y1="551.07" x2="430.3" y2="551.07" stroke="#ffffff" stroke-width="0.35"/>
<line x1="412.1" y1="554.58" x2="430.3" y2="554.58" stroke="#ffffff" stroke-width="0.35"/>
<line x1="412.1" y1="560.2" x2="430.3" y2="560.2" stroke="#ffffff" stroke-width="0.35"/>
<line x1="412.1" y1="563.4" x2="430.3" y2="563.4" stroke="#ffffff" stroke-width="0.35"/>
<line x1="412.1" y1="567.77" x2="430.3" y2="567.77" stroke="#ffffff" stroke-width="0.35"/>
<line x1="412.1" y1="570.26" x2="430.3" y2="570.26" stroke="#ffffff" stroke-width="0.35"/>
<rect x="432.9" y="419.04" width="18.2" height="21.54" fill="#a6cee3"/>
<rect x="432.9" y="440.89" width="18.2" height="21.07" fill="#1f78b4"/>
<rect x="432.9" y="462.27" width="18.2" height="25.44" fill="#b2df8a"/>
<rect x="432.9" y="488.02" width="18.2" height="8.74" fill="#33a02c"/>
<rect x="432.9" y="497.7" width="18.2" height="6.87" fill="#fb9a99"/>
<rect x="432.9" y="504.88" width="18.2" height="4.37" fill="#a9a9a9"/>
<rect x="432.9" y="509.56" width="18.2" height="1.56" fill="#e31a1c"/>
<rect x="432.9" y="511.59" width="18.2" height="11.24" fill="#fdbf6f"/>
<rect x="432.9" y="523.13" width="18.2" height="11.7" fill="#ff7f00"/>
<rect x="432.9" y="535.46" width="18.2" height="8.43" fill="#cab2d6"/>
<rect x="432.9" y="544.2" width="18.2" height="9.83" fill="#6a3d9a"/>
<rect x="432.9" y="554.03" width="18.2" height="7.33" fill="#7570b3"/>
<rect x="432.9" y="561.84" width="18.2" height="3.12" fill="#ffff99"/>
<rect x="432.9" y="564.96" width="18.2" height="5.46" fill="#e7298a"/>
<rect x="432.9" y="570.73" width="18.2" height="0.78" fill="#e3a98c"/>
<line x1="432.9" y1="440.74" x2="451.1" y2="440.74" stroke="#ffffff" stroke-width="0.35"/>
<line x1="432.9" y1="462.12" x2="451.1" y2="462.12" stroke="#ffffff" stroke-width="0.35"/>
<line x1="432.9" y1="487.87" x2="451.1" y2="487.87" stroke="#ffffff" stroke-width="0.35"/>
<line x1="432.9" y1="497.23" x2="451.1" y2="497.23" stroke="#ffffff" stroke-width="0.35"/>
<line x1="432.9" y1="504.72" x2="451.1" y2="504.72" stroke="#ffffff" stroke-width="0.35"/>
<line x1="432.9" y1="509.4" x2="451.1" y2="509.4" stroke="#ffffff" stroke-width="0.35"/>
<line x1="432.9" y1="511.35" x2="451.1" y2="511.35" stroke="#ffffff" stroke-width="0.35"/>
<line x1="432.9" y1="522.98" x2="451.1" y2="522.98" stroke="#ffffff" stroke-width="0.35"/>
<line x1="432.9" y1="535.15" x2="451.1" y2="535.15" stroke="#ffffff" stroke-width="0.35"/>
<line x1="432.9" y1="544.04" x2="451.1" y2="544.04" stroke="#ffffff" stroke-width="0.35"/>
<line x1="432.9" y1="554.03" x2="451.1" y2="554.03" stroke="#ffffff" stroke-width="0.35"/>
<line x1="432.9" y1="561.6" x2="451.1" y2="561.6" stroke="#ffffff" stroke-width="0.35"/>
<line x1="432.9" y1="564.96" x2="451.1" y2="564.96" stroke="#ffffff" stroke-width="0.35"/>
<line x1="432.9" y1="570.57" x2="451.1" y2="570.57" stroke="#ffffff" stroke-width="0.35"/>
<rect x="453.7" y="419.04" width="18.2" height="25.75" fill="#a6cee3"/>
<rect x="453.7" y="445.11" width="18.2" height="22" fill="#1f78b4"/>
<rect x="453.7" y="467.73" width="18.2" height="16.85" fill="#b2df8a"/>
<rect x="453.7" y="485.06" width="18.2" height="4.21" fill="#33a02c"/>
<rect x="453.7" y="490.05" width="18.2" height="3.59" fill="#fb9a99"/>
<rect x="453.7" y="493.95" width="18.2" height="3.12" fill="#a9a9a9"/>
<rect x="453.7" y="497.7" width="18.2" height="1.25" fill="#e31a1c"/>
<rect x="453.7" y="499.41" width="18.2" height="12.95" fill="#fdbf6f"/>
<rect x="453.7" y="512.83" width="18.2" height="9.52" fill="#ff7f00"/>
<rect x="453.7" y="522.82" width="18.2" height="21.07" fill="#cab2d6"/>
<rect x="453.7" y="543.89" width="18.2" height="9.05" fill="#6a3d9a"/>
<rect x="453.7" y="553.72" width="18.2" height="4.21" fill="#7570b3"/>
<rect x="453.7" y="558.56" width="18.2" height="6.4" fill="#ffff99"/>
<rect x="453.7" y="565.42" width="18.2" height="2.65" fill="#e7298a"/>
<rect x="453.7" y="568.7" width="18.2" height="2.5" fill="#b15928"/>
<line x1="453.7" y1="444.95" x2="471.9" y2="444.95" stroke="#ffffff" stroke-width="0.35"/>
<line x1="453.7" y1="467.42" x2="471.9" y2="467.42" stroke="#ffffff" stroke-width="0.35"/>
<line x1="453.7" y1="484.82" x2="471.9" y2="484.82" stroke="#ffffff" stroke-width="0.35"/>
<line x1="453.7" y1="489.66" x2="471.9" y2="489.66" stroke="#ffffff" stroke-width="0.35"/>
<line x1="453.7" y1="493.8" x2="471.9" y2="493.8" stroke="#ffffff" stroke-width="0.35"/>
<line x1="453.7" y1="497.38" x2="471.9" y2="497.38" stroke="#ffffff" stroke-width="0.35"/>
<line x1="453.7" y1="499.18" x2="471.9" y2="499.18" stroke="#ffffff" stroke-width="0.35"/>
<line x1="453.7" y1="512.6" x2="471.9" y2="512.6" stroke="#ffffff" stroke-width="0.35"/>
<line x1="453.7" y1="522.59" x2="471.9" y2="522.59" stroke="#ffffff" stroke-width="0.35"/>
<line x1="453.7" y1="543.89" x2="471.9" y2="543.89" stroke="#ffffff" stroke-width="0.35"/>
<line x1="453.7" y1="553.33" x2="471.9" y2="553.33" stroke="#ffffff" stroke-width="0.35"/>
<line x1="453.7" y1="558.25" x2="471.9" y2="558.25" stroke="#ffffff" stroke-width="0.35"/>
<line x1="453.7" y1="565.19" x2="471.9" y2="565.19" stroke="#ffffff" stroke-width="0.35"/>
<line x1="453.7" y1="568.39" x2="471.9" y2="568.39" stroke="#ffffff" stroke-width="0.35"/>
<rect x="474.5" y="419.04" width="18.2" height="36.67" fill="#a6cee3"/>
<rect x="474.5" y="456.03" width="18.2" height="24.97" fill="#1f78b4"/>
<rect x="474.5" y="481.47" width="18.2" height="13.58" fill="#b2df8a"/>
<rect x="474.5" y="495.51" width="18.2" height="6.24" fill="#33a02c"/>
<rect x="474.5" y="502.69" width="18.2" height="7.65" fill="#fb9a99"/>
<rect x="474.5" y="510.81" width="18.2" height="2.18" fill="#a9a9a9"/>
<rect x="474.5" y="513.3" width="18.2" height="0.94" fill="#fb9a99"/>
<rect x="474.5" y="514.71" width="18.2" height="7.65" fill="#fdbf6f"/>
<rect x="474.5" y="522.98" width="18.2" height="6.87" fill="#ff7f00"/>
<rect x="474.5" y="530.31" width="18.2" height="20.6" fill="#cab2d6"/>
<rect x="474.5" y="551.22" width="18.2" height="9.05" fill="#6a3d9a"/>
<rect x="474.5" y="560.27" width="18.2" height="1.56" fill="#7570b3"/>
<rect x="474.5" y="562.3" width="18.2" height="4.99" fill="#ffff99"/>
<rect x="474.5" y="567.77" width="18.2" height="2.18" fill="#e7298a"/>
<rect x="474.5" y="570.26" width="18.2" height="1.25" fill="#e3a98c"/>
<line x1="474.5" y1="455.87" x2="492.7" y2="455.87" stroke="#ffffff" stroke-width="0.35"/>
<line x1="474.5" y1="481.23" x2="492.7" y2="481.23" stroke="#ffffff" stroke-width="0.35"/>
<line x1="474.5" y1="495.28" x2="492.7" y2="495.28" stroke="#ffffff" stroke-width="0.35"/>
<line x1="474.5" y1="502.22" x2="492.7" y2="502.22" stroke="#ffffff" stroke-width="0.35"/>
<line x1="474.5" y1="510.57" x2="492.7" y2="510.57" stroke="#ffffff" stroke-width="0.35"/>
<line x1="474.5" y1="513.15" x2="492.7" y2="513.15" stroke="#ffffff" stroke-width="0.35"/>
<line x1="474.5" y1="514.47" x2="492.7" y2="514.47" stroke="#ffffff" stroke-width="0.35"/>
<line x1="474.5" y1="522.67" x2="492.7" y2="522.67" stroke="#ffffff" stroke-width="0.35"/>
<line x1="474.5" y1="530.08" x2="492.7" y2="530.08" stroke="#ffffff" stroke-width="0.35"/>
<line x1="474.5" y1="551.07" x2="492.7" y2="551.07" stroke="#ffffff" stroke-width="0.35"/>
<line x1="474.5" y1="560.27" x2="492.7" y2="560.27" stroke="#ffffff" stroke-width="0.35"/>
<line x1="474.5" y1="562.07" x2="492.7" y2="562.07" stroke="#ffffff" stroke-width="0.35"/>
<line x1="474.5" y1="567.53" x2="492.7" y2="567.53" stroke="#ffffff" stroke-width="0.35"/>
<line x1="474.5" y1="570.11" x2="492.7" y2="570.11" stroke="#ffffff" stroke-width="0.35"/>
<rect x="495.3" y="419.04" width="18.2" height="31.68" fill="#a6cee3"/>
<rect x="495.3" y="451.04" width="18.2" height="17.95" fill="#1f78b4"/>
<rect x="495.3" y="469.76" width="18.2" height="20.76" fill="#b2df8a"/>
<rect x="495.3" y="490.83" width="18.2" height="12.02" fill="#33a02c"/>
<rect x="495.3" y="503.31" width="18.2" height="7.02" fill="#fb9a99"/>
<rect x="495.3" y="510.96" width="18.2" height="7.18" fill="#a9a9a9"/>
<rect x="495.3" y="518.61" width="18.2" height="1.87" fill="#e31a1c"/>
<rect x="495.3" y="520.79" width="18.2" height="12.48" fill="#fdbf6f"/>
<rect x="495.3" y="533.9" width="18.2" height="10.77" fill="#ff7f00"/>
<rect x="495.3" y="545.14" width="18.2" height="4.21" fill="#cab2d6"/>
<rect x="495.3" y="549.98" width="18.2" height="3.75" fill="#6a3d9a"/>
<rect x="495.3" y="554.81" width="18.2" height="5.93" fill="#7570b3"/>
<rect x="495.3" y="561.05" width="18.2" height="5.46" fill="#ffff99"/>
<rect x="495.3" y="566.99" width="18.2" height="3.12" fill="#e7298a"/>
<rect x="495.3" y="570.42" width="18.2" height="1.09" fill="#d08a60"/>
<line x1="495.3" y1="450.88" x2="513.5" y2="450.88" stroke="#ffffff" stroke-width="0.35"/>
<line x1="495.3" y1="469.37" x2="513.5" y2="469.37" stroke="#ffffff" stroke-width="0.35"/>
<line x1="495.3" y1="490.67" x2="513.5" y2="490.67" stroke="#ffffff" stroke-width="0.35"/>
<line x1="495.3" y1="503.08" x2="513.5" y2="503.08" stroke="#ffffff" stroke-width="0.35"/>
<line x1="495.3" y1="510.65" x2="513.5" y2="510.65" stroke="#ffffff" stroke-width="0.35"/>
<line x1="495.3" y1="518.37" x2="513.5" y2="518.37" stroke="#ffffff" stroke-width="0.35"/>
<line x1="495.3" y1="520.64" x2="513.5" y2="520.64" stroke="#ffffff" stroke-width="0.35"/>
<line x1="495.3" y1="533.59" x2="513.5" y2="533.59" stroke="#ffffff" stroke-width="0.35"/>
<line x1="495.3" y1="544.9" x2="513.5" y2="544.9" stroke="#ffffff" stroke-width="0.35"/>
<line x1="495.3" y1="549.66" x2="513.5" y2="549.66" stroke="#ffffff" stroke-width="0.35"/>
<line x1="495.3" y1="554.27" x2="513.5" y2="554.27" stroke="#ffffff" stroke-width="0.35"/>
<line x1="495.3" y1="560.9" x2="513.5" y2="560.9" stroke="#ffffff" stroke-width="0.35"/>
<line x1="495.3" y1="566.75" x2="513.5" y2="566.75" stroke="#ffffff" stroke-width="0.35"/>
<line x1="495.3" y1="570.26" x2="513.5" y2="570.26" stroke="#ffffff" stroke-width="0.35"/>
<rect x="516.1" y="419.04" width="18.2" height="20.29" fill="#a6cee3"/>
<rect x="516.1" y="439.96" width="18.2" height="27" fill="#1f78b4"/>
<rect x="516.1" y="467.42" width="18.2" height="18.41" fill="#b2df8a"/>
<rect x="516.1" y="486.15" width="18.2" height="7.8" fill="#33a02c"/>
<rect x="516.1" y="494.26" width="18.2" height="13.42" fill="#fb9a99"/>
<rect x="516.1" y="508" width="18.2" height="8.11" fill="#a9a9a9"/>
<rect x="516.1" y="516.74" width="18.2" height="3.28" fill="#e31a1c"/>
<rect x="516.1" y="520.48" width="18.2" height="17.48" fill="#fdbf6f"/>
<rect x="516.1" y="538.27" width="18.2" height="8.74" fill="#ff7f00"/>
<rect x="516.1" y="547.48" width="18.2" height="4.68" fill="#cab2d6"/>
<rect x="516.1" y="552.78" width="18.2" height="3.59" fill="#6a3d9a"/>
<rect x="516.1" y="556.37" width="18.2" height="1.25" fill="#7570b3"/>
<rect x="516.1" y="557.93" width="18.2" height="7.8" fill="#ffff99"/>
<rect x="516.1" y="566.05" width="18.2" height="4.84" fill="#e7298a"/>
<rect x="516.1" y="570.89" width="18.2" height="0.62" fill="#b15928"/>
<line x1="516.1" y1="439.64" x2="534.3" y2="439.64" stroke="#ffffff" stroke-width="0.35"/>
<line x1="516.1" y1="467.19" x2="534.3" y2="467.19" stroke="#ffffff" stroke-width="0.35"/>
<line x1="516.1" y1="485.99" x2="534.3" y2="485.99" stroke="#ffffff" stroke-width="0.35"/>
<line x1="516.1" y1="494.11" x2="534.3" y2="494.11" stroke="#ffffff" stroke-width="0.35"/>
<line x1="516.1" y1="507.84" x2="534.3" y2="507.84" stroke="#ffffff" stroke-width="0.35"/>
<line x1="516.1" y1="516.42" x2="534.3" y2="516.42" stroke="#ffffff" stroke-width="0.35"/>
<line x1="516.1" y1="520.25" x2="534.3" y2="520.25" stroke="#ffffff" stroke-width="0.35"/>
<line x1="516.1" y1="538.11" x2="534.3" y2="538.11" stroke="#ffffff" stroke-width="0.35"/>
<line x1="516.1" y1="547.24" x2="534.3" y2="547.24" stroke="#ffffff" stroke-width="0.35"/>
<line x1="516.1" y1="552.47" x2="534.3" y2="552.47" stroke="#ffffff" stroke-width="0.35"/>
<line x1="516.1" y1="556.37" x2="534.3" y2="556.37" stroke="#ffffff" stroke-width="0.35"/>
<line x1="516.1" y1="557.78" x2="534.3" y2="557.78" stroke="#ffffff" stroke-width="0.35"/>
<line x1="516.1" y1="565.89" x2="534.3" y2="565.89" stroke="#ffffff" stroke-width="0.35"/>
<line x1="516.1" y1="570.89" x2="534.3" y2="570.89" stroke="#ffffff" stroke-width="0.35"/>
<rect x="536.9" y="419.04" width="18.2" height="22.63" fill="#a6cee3"/>
<rect x="536.9" y="441.99" width="18.2" height="25.91" fill="#1f78b4"/>
<rect x="536.9" y="468.36" width="18.2" height="25.28" fill="#b2df8a"/>
<rect x="536.9" y="493.95" width="18.2" height="5.93" fill="#33a02c"/>
<rect x="536.9" y="500.19" width="18.2" height="7.49" fill="#fb9a99"/>
<rect x="536.9" y="508" width="18.2" height="7.18" fill="#a9a9a9"/>
<rect x="536.9" y="515.49" width="18.2" height="1.4" fill="#e31a1c"/>
<rect x="536.9" y="517.36" width="18.2" height="15.92" fill="#fdbf6f"/>
<rect x="536.9" y="533.9" width="18.2" height="9.99" fill="#ff7f00"/>
<rect x="536.9" y="544.67" width="18.2" height="4.21" fill="#cab2d6"/>
<rect x="536.9" y="549.82" width="18.2" height="3.43" fill="#6a3d9a"/>
<rect x="536.9" y="553.25" width="18.2" height="2.34" fill="#7570b3"/>
<rect x="536.9" y="556.06" width="18.2" height="5.77" fill="#ffff99"/>
<rect x="536.9" y="562.3" width="18.2" height="6.87" fill="#e7298a"/>
<rect x="536.9" y="569.48" width="18.2" height="1.72" fill="#b15928"/>
<line x1="536.9" y1="441.83" x2="555.1" y2="441.83" stroke="#ffffff" stroke-width="0.35"/>
<line x1="536.9" y1="468.12" x2="555.1" y2="468.12" stroke="#ffffff" stroke-width="0.35"/>
<line x1="536.9" y1="493.8" x2="555.1" y2="493.8" stroke="#ffffff" stroke-width="0.35"/>
<line x1="536.9" y1="500.04" x2="555.1" y2="500.04" stroke="#ffffff" stroke-width="0.35"/>
<line x1="536.9" y1="507.84" x2="555.1" y2="507.84" stroke="#ffffff" stroke-width="0.35"/>
<line x1="536.9" y1="515.33" x2="555.1" y2="515.33" stroke="#ffffff" stroke-width="0.35"/>
<line x1="536.9" y1="517.13" x2="555.1" y2="517.13" stroke="#ffffff" stroke-width="0.35"/>
<line x1="536.9" y1="533.59" x2="555.1" y2="533.59" stroke="#ffffff" stroke-width="0.35"/>
<line x1="536.9" y1="544.28" x2="555.1" y2="544.28" stroke="#ffffff" stroke-width="0.35"/>
<line x1="536.9" y1="549.35" x2="555.1" y2="549.35" stroke="#ffffff" stroke-width="0.35"/>
<line x1="536.9" y1="553.25" x2="555.1" y2="553.25" stroke="#ffffff" stroke-width="0.35"/>
<line x1="536.9" y1="555.83" x2="555.1" y2="555.83" stroke="#ffffff" stroke-width="0.35"/>
<line x1="536.9" y1="562.07" x2="555.1" y2="562.07" stroke="#ffffff" stroke-width="0.35"/>
<line x1="536.9" y1="569.33" x2="555.1" y2="569.33" stroke="#ffffff" stroke-width="0.35"/>
<rect x="325.5" y="411.6" width="233.2" height="167.5" fill="none" stroke="#111" stroke-width="1"/>
<line x1="321.8" y1="419" x2="325.5" y2="419" stroke="#8c8c8c" stroke-width="1"/>
<text x="316" y="423.3" text-anchor="end">100</text>
<line x1="321.8" y1="457.2" x2="325.5" y2="457.2" stroke="#8c8c8c" stroke-width="1"/>
<text x="316" y="461.5" text-anchor="end">75</text>
<line x1="321.8" y1="495.3" x2="325.5" y2="495.3" stroke="#8c8c8c" stroke-width="1"/>
<text x="316" y="499.6" text-anchor="end">50</text>
<line x1="321.8" y1="533.3" x2="325.5" y2="533.3" stroke="#8c8c8c" stroke-width="1"/>
<text x="316" y="537.6" text-anchor="end">25</text>
<line x1="321.8" y1="571.3" x2="325.5" y2="571.3" stroke="#8c8c8c" stroke-width="1"/>
<text x="316" y="575.6" text-anchor="end">0</text>
<text transform="translate(286.9 495.3) rotate(-90)" text-anchor="middle" textLength="85.7" lengthAdjust="spacingAndGlyphs">Percentage (%)</text>
<text transform="translate(342.3 585.2) rotate(-90)" text-anchor="end" textLength="23.7" lengthAdjust="spacingAndGlyphs">HC6</text>
<text transform="translate(363.1 585.2) rotate(-90)" text-anchor="end" textLength="23.7" lengthAdjust="spacingAndGlyphs">HC8</text>
<text transform="translate(383.9 585.2) rotate(-90)" text-anchor="end" textLength="23.7" lengthAdjust="spacingAndGlyphs">HC9</text>
<text transform="translate(404.7 585.2) rotate(-90)" text-anchor="end" textLength="30.6" lengthAdjust="spacingAndGlyphs">HC10</text>
<text transform="translate(425.5 585.2) rotate(-90)" text-anchor="end" textLength="23.7" lengthAdjust="spacingAndGlyphs">NP7</text>
<text transform="translate(446.3 585.2) rotate(-90)" text-anchor="end" textLength="23.7" lengthAdjust="spacingAndGlyphs">NP8</text>
<text transform="translate(467.1 585.2) rotate(-90)" text-anchor="end" textLength="23.7" lengthAdjust="spacingAndGlyphs">NP9</text>
<text transform="translate(487.9 585.2) rotate(-90)" text-anchor="end" textLength="30.6" lengthAdjust="spacingAndGlyphs">NP10</text>
<text transform="translate(508.7 585.2) rotate(-90)" text-anchor="end" textLength="30.6" lengthAdjust="spacingAndGlyphs">NP11</text>
<text transform="translate(529.5 585.2) rotate(-90)" text-anchor="end" textLength="30.6" lengthAdjust="spacingAndGlyphs">NP12</text>
<text transform="translate(550.3 585.2) rotate(-90)" text-anchor="end" textLength="30.6" lengthAdjust="spacingAndGlyphs">NP13</text>
<rect x="569.2" y="425.9" width="9.2" height="8" fill="#a6cee3"/>
<text x="584.3" y="433.1" textLength="12.6" lengthAdjust="spacingAndGlyphs">T0</text>
<rect x="569.2" y="436.26" width="9.2" height="8" fill="#1f78b4"/>
<text x="584.3" y="443.46" textLength="12.6" lengthAdjust="spacingAndGlyphs">T1</text>
<rect x="569.2" y="446.62" width="9.2" height="8" fill="#b2df8a"/>
<text x="584.3" y="453.82" textLength="12.6" lengthAdjust="spacingAndGlyphs">T2</text>
<rect x="569.2" y="456.98" width="9.2" height="8" fill="#33a02c"/>
<text x="584.3" y="464.18" textLength="12.6" lengthAdjust="spacingAndGlyphs">T3</text>
<rect x="569.2" y="467.34" width="9.2" height="8" fill="#fb9a99"/>
<text x="584.3" y="474.54" textLength="12.6" lengthAdjust="spacingAndGlyphs">T4</text>
<rect x="569.2" y="477.7" width="9.2" height="8" fill="#a9a9a9"/>
<text x="584.3" y="484.9" textLength="12.6" lengthAdjust="spacingAndGlyphs">T5</text>
<rect x="569.2" y="488.06" width="9.2" height="8" fill="#e31a1c"/>
<text x="584.3" y="495.26" textLength="12.6" lengthAdjust="spacingAndGlyphs">T6</text>
<rect x="569.2" y="498.42" width="9.2" height="8" fill="#fdbf6f"/>
<text x="584.3" y="505.62" textLength="12.6" lengthAdjust="spacingAndGlyphs">T7</text>
<rect x="569.2" y="508.78" width="9.2" height="8" fill="#ff7f00"/>
<text x="584.3" y="515.98" textLength="12.6" lengthAdjust="spacingAndGlyphs">T8</text>
<rect x="569.2" y="519.14" width="9.2" height="8" fill="#cab2d6"/>
<text x="584.3" y="526.34" textLength="12.6" lengthAdjust="spacingAndGlyphs">T9</text>
<rect x="569.2" y="529.5" width="9.2" height="8" fill="#6a3d9a"/>
<text x="584.3" y="536.7" textLength="19.7" lengthAdjust="spacingAndGlyphs">T10</text>
<rect x="569.2" y="539.86" width="9.2" height="8" fill="#7570b3"/>
<text x="584.3" y="547.06" textLength="19.7" lengthAdjust="spacingAndGlyphs">T11</text>
<rect x="569.2" y="550.22" width="9.2" height="8" fill="#ffff99"/>
<text x="584.3" y="557.42" textLength="19.7" lengthAdjust="spacingAndGlyphs">T12</text>
<rect x="569.2" y="560.58" width="9.2" height="8" fill="#e7298a"/>
<text x="584.3" y="567.78" textLength="19.7" lengthAdjust="spacingAndGlyphs">T13</text>
<rect x="569.2" y="570.94" width="9.2" height="8" fill="#b15928"/>
<text x="584.3" y="578.14" textLength="19.7" lengthAdjust="spacingAndGlyphs">T14</text>
<text x="0.6" y="648.9" textLength="5.4" lengthAdjust="spacingAndGlyphs" font-weight="700" stroke="#111" stroke-width="0.7" stroke-linejoin="round" font-size="15">f</text>
<path d="M83.8 687.1h0M96.6 701.6h0M64.4 697.7h0M101.7 705.8h0M71.0 689.8h0M71.6 682.2h0M92.3 709.3h0M66.6 698.7h0M90.7 698.1h0M84.3 702.9h0M94.3 685.2h0M89.1 694.2h0M70.6 682.4h0M88.6 700.5h0M88.7 697.7h0M66.2 703.7h0M63.3 707.7h0M82.3 682.7h0M93.9 687.2h0M95.6 697.6h0M65.7 706.5h0M100.3 691.6h0M76.6 690.3h0M92.3 710.4h0M94.1 690.4h0M76.7 702.6h0M94.5 684.4h0M79.4 680.1h0M96.1 684.1h0M74.2 691.3h0M87.9 706.8h0M68.7 701.4h0M93.6 687.2h0M64.9 686.7h0M79.1 703.7h0M81.1 683.6h0M82.2 704.3h0M81.1 678.5h0M85.5 695.0h0M77.5 688.0h0M82.4 686.5h0M78.0 688.9h0M69.9 694.2h0M91.2 687.3h0M90.0 709.1h0M80.8 698.7h0M75.3 708.0h0M66.7 698.3h0M76.9 686.3h0M97.2 704.6h0M95.0 706.0h0M82.3 712.0h0M77.2 692.1h0M76.5 684.9h0M90.9 711.0h0M98.1 702.7h0M64.7 685.2h0M79.3 682.1h0M79.9 687.6h0M63.8 691.9h0M70.1 682.0h0M80.9 701.4h0M85.3 695.7h0M87.3 687.2h0M75.7 705.7h0M94.9 686.3h0M77.9 699.8h0M87.6 697.8h0M78.2 710.6h0M65.2 694.8h0M81.4 707.8h0M83.6 710.1h0M65.2 691.2h0M81.3 692.7h0M72.1 684.2h0M91.8 693.5h0M98.2 694.8h0M83.6 709.0h0M90.6 685.8h0M89.0 684.3h0M72.1 686.4h0M84.7 691.3h0M87.3 688.3h0M96.4 684.3h0M83.1 699.7h0M78.6 682.9h0M90.3 709.4h0M84.1 706.0h0M75.1 680.8h0M97.0 695.1h0M89.6 711.1h0M100.4 702.8h0M100.7 704.0h0M79.2 686.9h0M88.0 704.5h0M65.4 696.4h0M88.6 683.1h0M95.3 687.5h0M64.3 685.6h0M80.6 686.1h0M65.8 684.3h0M87.3 708.8h0M82.1 696.5h0M69.2 697.5h0M91.6 691.8h0M83.8 686.8h0M64.1 700.4h0M93.4 695.2h0M85.0 691.4h0M72.4 708.0h0M80.5 693.4h0M64.9 693.5h0M96.0 696.0h0M80.7 704.9h0M67.0 686.0h0M84.4 690.4h0M94.6 685.8h0M67.1 695.6h0M77.0 680.5h0M101.4 693.1h0M71.3 680.9h0M88.2 700.8h0M63.4 690.4h0M87.2 705.4h0M67.7 686.5h0M73.7 701.5h0M93.3 682.0h0M85.9 710.4h0M92.9 682.8h0M69.7 695.7h0M85.5 707.4h0M83.6 689.4h0M93.9 698.4h0M75.7 707.7h0M80.3 678.7h0M85.9 688.0h0M76.2 681.2h0M67.8 683.6h0M100.1 703.6h0M79.0 689.3h0M83.5 682.2h0M89.4 685.9h0M68.5 689.7h0M73.7 691.4h0M80.2 695.2h0M74.8 707.9h0M89.3 697.9h0M79.3 707.5h0M69.7 698.6h0M73.8 689.7h0M91.3 709.8h0M77.8 692.5h0M98.1 695.7h0M79.6 688.0h0M85.4 708.7h0M88.7 681.3h0M87.1 701.8h0M84.6 690.8h0M85.7 694.6h0M87.6 689.7h0M93.1 689.2h0M88.3 706.8h0M66.3 694.5h0M94.0 690.0h0M78.9 709.5h0M101.7 697.0h0M70.5 696.1h0M67.4 686.7h0M96.6 685.9h0M75.3 686.0h0M85.1 693.0h0M67.6 689.3h0M68.0 693.3h0M87.1 681.0h0M97.9 695.9h0M67.6 690.5h0M73.1 688.3h0M71.6 689.6h0M87.8 705.1h0M69.6 693.9h0M66.4 702.1h0M72.5 682.9h0M102.3 695.2h0M75.6 704.8h0M79.2 707.1h0M88.7 694.1h0M82.8 695.0h0M81.9 694.4h0M86.5 695.1h0M81.5 709.1h0M95.4 707.0h0M97.7 683.8h0M76.4 687.1h0M85.4 695.2h0M89.3 682.7h0M65.7 693.9h0M85.1 701.4h0M77.9 685.3h0M62.8 698.3h0M76.8 707.6h0M79.1 694.1h0M63.3 701.7h0M96.4 706.7h0M85.9 709.7h0M81.6 688.8h0M93.4 695.8h0M68.3 690.3h0M77.3 680.2h0M83.3 700.3h0M84.7 704.5h0M77.6 687.8h0M73.3 683.2h0M78.4 709.1h0M83.7 699.1h0M79.9 682.7h0M81.3 709.3h0M76.7 699.2h0M85.9 678.5h0M71.1 698.6h0M78.3 688.7h0M83.6 692.3h0M69.4 684.3h0M75.9 681.2h0M69.1 696.0h0M85.4 695.6h0M99.0 705.0h0M72.0 698.5h0M88.1 707.8h0M80.9 682.3h0M99.2 703.5h0M77.4 691.8h0M74.7 701.2h0M92.7 692.0h0M81.7 703.3h0M90.7 703.8h0M88.9 707.2h0M70.4 702.8h0M94.8 706.2h0M83.5 684.3h0M86.4 696.2h0M78.4 711.3h0M63.6 688.4h0M96.0 702.4h0M89.1 686.6h0M90.1 693.5h0M80.8 678.7h0M70.6 703.8h0M65.0 706.2h0M74.7 698.4h0M68.8 703.6h0M84.5 680.4h0M62.1 694.9h0M89.2 679.1h0M81.5 689.7h0M70.2 700.0h0M65.0 706.7h0M81.3 705.0h0M89.5 694.1h0M67.4 695.9h0M87.5 708.3h0M82.5 702.3h0M74.6 710.8h0M77.6 700.7h0M83.5 682.3h0M78.5 695.4h0M86.4 694.3h0M76.4 681.9h0M95.5 689.6h0M71.3 691.0h0M79.5 695.1h0M68.4 706.1h0M74.6 709.1h0M97.5 688.7h0M89.6 706.3h0M69.7 693.3h0M65.7 687.3h0M92.2 686.0h0M92.3 691.5h0M102.3 704.4h0M100.3 693.2h0M75.6 685.7h0M95.2 685.5h0M72.6 684.4h0M77.7 684.2h0M71.5 696.5h0M78.7 709.6h0M75.5 695.5h0M65.0 707.3h0M73.6 686.2h0M69.7 684.7h0M69.1 703.2h0M75.9 691.2h0M99.2 688.8h0M79.6 702.1h0M66.8 685.5h0M63.0 697.4h0M65.4 693.5h0M78.8 682.0h0M96.0 683.8h0M78.5 682.8h0M78.7 683.0h0M95.1 685.2h0M70.8 693.8h0M86.2 709.2h0M102.2 692.6h0M93.9 691.0h0M81.9 696.0h0M90.1 688.4h0M95.9 701.3h0M84.0 686.6h0M89.5 705.6h0M88.6 696.6h0M81.8 703.0h0M79.6 694.6h0M86.2 700.1h0M87.0 699.3h0M83.4 692.4h0M87.3 689.9h0M75.5 681.9h0M70.1 707.5h0M84.1 699.8h0M82.9 696.9h0M98.5 698.7h0M95.9 696.9h0M85.0 693.3h0M81.8 705.4h0M98.7 700.6h0M64.4 702.5h0M72.0 694.6h0M65.3 704.3h0M74.3 707.8h0M92.8 704.3h0M92.9 693.2h0M79.5 683.7h0M99.3 688.1h0M92.5 697.2h0M81.9 693.9h0M96.0 704.4h0M98.8 685.9h0M80.8 690.6h0M66.3 696.0h0M74.6 690.6h0M86.1 700.9h0M78.8 699.2h0M67.2 708.1h0M82.3 699.0h0M98.0 717.5h0M70.6 715.4h0M84.6 712.9h0M98.4 708.2h0M83.6 707.8h0M90.1 703.0h0M81.3 715.1h0M63.9 703.6h0M86.2 710.8h0M91.2 698.5h0M93.2 696.3h0M87.5 704.7h0M89.0 695.2h0M78.2 714.6h0M81.6 708.3h0M70.3 711.2h0M87.6 718.5h0M85.4 718.1h0M96.4 716.0h0M71.3 714.1h0M84.7 707.9h0M87.8 700.8h0M67.7 713.0h0M73.3 704.3h0M77.5 715.8h0M68.1 706.4h0M66.5 705.0h0M73.9 701.3h0M97.7 705.2h0M99.4 701.3h0M76.6 700.4h0M96.1 708.9h0M92.4 707.5h0M89.3 710.5h0M79.4 701.5h0M86.0 709.0h0M73.8 712.6h0M80.0 721.1h0M71.6 715.4h0M72.1 715.0h0M72.5 718.9h0M91.1 714.5h0M82.4 709.2h0M97.9 710.2h0M99.4 715.0h0M79.1 717.8h0M90.7 706.3h0M100.4 716.0h0M66.7 713.2h0M93.9 707.1h0M86.6 707.7h0M100.9 718.2h0M90.6 707.4h0M67.2 704.1h0M91.5 709.6h0M96.7 706.1h0M98.6 713.8h0M77.5 701.7h0M74.1 700.3h0M70.7 709.4h0M86.4 715.1h0M100.3 702.8h0M83.8 706.0h0M80.9 704.2h0M72.3 700.9h0M84.0 708.9h0M85.5 708.8h0M78.6 712.3h0M70.2 711.8h0M88.0 714.4h0M92.9 715.4h0M75.5 715.8h0M80.9 709.5h0M66.2 712.6h0M64.0 709.5h0M95.5 701.8h0M81.6 700.9h0M93.5 716.1h0M85.2 718.7h0M80.9 706.2h0M90.6 704.8h0M92.2 714.3h0M67.7 710.2h0M92.3 698.7h0M73.3 712.1h0M69.7 703.8h0M97.5 702.0h0M89.2 709.7h0M99.7 700.6h0M91.9 719.6h0M80.6 713.9h0M79.5 718.9h0M96.5 717.8h0M72.3 700.0h0M80.6 702.8h0M72.0 714.4h0M87.4 697.5h0M76.2 706.1h0M77.6 709.6h0M93.0 711.8h0M84.6 707.2h0M86.3 718.1h0M96.1 708.3h0M77.2 706.2h0M65.4 712.1h0M79.9 702.1h0M71.9 701.7h0M98.9 699.1h0M94.9 715.1h0M96.8 715.2h0M91.6 709.5h0M85.7 704.2h0M79.0 709.6h0M70.6 703.6h0M108.6 710.7h0M97.4 706.7h0M75.8 703.8h0M75.4 712.3h0M87.7 707.3h0M83.4 718.1h0M74.9 707.6h0M70.0 707.4h0M86.8 707.8h0M65.0 708.4h0M99.4 710.4h0M78.8 710.8h0M92.7 713.9h0M90.6 710.9h0M98.4 703.5h0M81.1 707.7h0M74.4 713.7h0M68.4 711.1h0M81.8 705.8h0M92.9 704.9h0M75.5 698.8h0M78.5 711.5h0M86.5 704.8h0M92.1 696.5h0M99.9 712.3h0M74.8 698.1h0M73.8 716.8h0M83.9 701.2h0M77.4 704.4h0M78.3 707.4h0M73.9 713.5h0M91.9 705.0h0M100.7 700.3h0M98.4 709.2h0M86.4 705.7h0M88.4 715.8h0M90.4 703.7h0M74.5 696.9h0M66.2 706.6h0M87.4 718.4h0M92.9 705.7h0M94.9 684.4h0M92.8 710.8h0M92.8 704.1h0M68.5 702.8h0M100.1 690.5h0M72.1 688.0h0M92.6 694.4h0M77.4 681.4h0M83.8 687.9h0M96.9 695.2h0M69.1 699.4h0M72.6 702.2h0M62.8 693.6h0M65.5 702.2h0M87.8 707.9h0M76.3 685.7h0M100.2 700.7h0M80.4 691.5h0M89.9 705.2h0M71.4 706.4h0M92.2 705.1h0M71.6 684.0h0M65.9 683.5h0M88.1 704.1h0M79.0 701.2h0M78.5 703.6h0M69.3 705.2h0M94.4 686.6h0M84.6 689.5h0M92.6 709.5h0M60.8 690.6h0M79.8 678.8h0M89.7 687.5h0M91.8 700.8h0M88.2 681.3h0M98.8 694.5h0M70.1 704.6h0M99.0 695.0h0M90.7 703.4h0M64.4 689.1h0M97.2 703.9h0M82.7 693.0h0M97.6 678.4h0M108.2 686.9h0M100.7 686.0h0M109.2 672.2h0M114.6 680.7h0M102.5 681.4h0M89.9 679.0h0M108.6 687.2h0M111.9 678.9h0M94.5 688.4h0M112.9 685.4h0M112.5 673.6h0M93.2 675.0h0M94.1 675.7h0M96.5 681.8h0M110.2 675.2h0M99.5 674.7h0M100.5 678.7h0M96.1 675.9h0M103.2 677.8h0M108.3 675.3h0M99.7 686.8h0M103.5 686.5h0M111.5 675.4h0M110.3 673.5h0M89.6 678.8h0M97.9 681.0h0M124.3 680.5h0M91.4 684.3h0M116.2 673.2h0M108.0 687.1h0M125.5 676.8h0M115.2 680.9h0M122.4 675.9h0M131.0 679.1h0M111.6 683.4h0M109.0 679.9h0M113.9 680.5h0M129.5 674.1h0M135.5 678.0h0M92.3 681.9h0M89.2 677.3h0M119.1 667.4h0M126.7 674.8h0M103.3 687.0h0M118.5 673.8h0M101.0 678.5h0M103.8 678.0h0M108.6 674.6h0M105.7 677.1h0M95.7 680.2h0M98.1 676.2h0M119.6 671.7h0M109.2 676.8h0M95.0 685.2h0M118.6 676.3h0M134.3 677.6h0M96.6 678.5h0M112.6 681.0h0M109.5 671.5h0M112.7 680.0h0M96.9 688.8h0M130.5 680.0h0M124.8 671.1h0M125.9 668.4h0M94.4 679.5h0M133.2 676.4h0M113.9 682.4h0M131.7 682.6h0M105.5 679.5h0M125.2 683.9h0M130.4 678.5h0M107.9 678.7h0M107.9 682.1h0M119.4 680.8h0M133.5 671.5h0M127.7 681.7h0M130.4 674.8h0M126.6 672.8h0M129.5 675.7h0M99.3 678.3h0M131.0 666.5h0M92.4 687.3h0M94.7 683.6h0M98.0 684.8h0M99.6 670.5h0M127.8 677.6h0M115.5 685.0h0M110.4 678.8h0M102.9 671.4h0M107.9 671.2h0M98.8 683.1h0M102.6 673.8h0M101.1 673.3h0M111.7 677.1h0M119.6 674.4h0M118.3 669.3h0M114.6 672.2h0M102.2 686.1h0M132.9 679.3h0M132.1 672.7h0M109.3 676.9h0M94.7 676.4h0M99.4 682.9h0M97.3 685.0h0M127.5 671.6h0M132.0 670.2h0M118.0 678.9h0M133.3 668.7h0M101.6 681.5h0M105.1 675.9h0M92.6 679.7h0M95.4 679.6h0M98.8 671.6h0M109.4 670.2h0M114.0 676.0h0M107.6 682.9h0M114.5 687.1h0M89.5 676.1h0M104.3 673.3h0M119.9 683.7h0M114.9 685.3h0M112.9 675.8h0M118.9 677.4h0M93.0 686.6h0M119.1 682.9h0M103.1 673.9h0M114.6 675.8h0M134.8 676.2h0M121.0 670.6h0M130.6 684.0h0M111.9 671.6h0M100.5 681.6h0M126.7 673.0h0M130.3 678.2h0M92.1 681.8h0M117.3 674.5h0M95.6 682.8h0M113.2 670.6h0M121.3 673.6h0M114.7 671.0h0M101.3 676.0h0M93.1 678.7h0M106.6 690.1h0M112.6 673.4h0M106.3 688.8h0M118.9 671.5h0M113.1 684.2h0M112.3 682.1h0M100.4 676.5h0M106.1 671.0h0M129.5 678.6h0M135.7 673.6h0M93.1 681.4h0M90.8 683.7h0M108.4 685.9h0M108.0 672.9h0M128.8 682.0h0M121.6 673.7h0M118.0 677.6h0M96.4 684.3h0M119.1 667.7h0M111.9 683.3h0M115.2 676.7h0M119.0 677.5h0M115.2 678.2h0M128.0 671.3h0M116.0 670.0h0M125.4 684.2h0M104.6 677.4h0M100.3 671.8h0M111.0 682.1h0M109.6 683.8h0M129.4 672.0h0M119.6 681.3h0M93.7 675.9h0M102.9 673.8h0M136.4 673.6h0M132.7 682.1h0M119.7 676.7h0M97.3 672.8h0M127.2 678.6h0M106.3 680.0h0M95.1 681.6h0M120.8 670.3h0M124.1 670.7h0M105.6 677.9h0M123.0 680.0h0M119.9 682.0h0M97.0 686.2h0M105.5 683.2h0M123.1 672.9h0M101.0 689.6h0M102.4 687.1h0M97.2 675.1h0M122.2 679.9h0M93.7 684.2h0M124.5 679.5h0M127.3 671.5h0M108.2 674.5h0M106.3 675.0h0M102.8 686.3h0M114.1 684.3h0M92.8 679.5h0M115.2 670.8h0M97.6 674.3h0M91.0 685.6h0M109.1 681.1h0M112.6 682.5h0M93.7 686.4h0M115.7 675.1h0M109.6 682.3h0M97.4 685.8h0M123.0 683.9h0M89.8 678.3h0M112.9 675.7h0M127.7 682.9h0M115.9 679.7h0M116.0 673.7h0M98.6 673.9h0M129.8 676.4h0M122.9 676.1h0M116.0 684.8h0M128.9 676.8h0M105.6 684.1h0M111.1 679.5h0M94.1 673.8h0M104.4 679.9h0M135.0 680.3h0M156.9 689.2h0M159.6 684.7h0M149.8 687.1h0M137.6 677.2h0M143.4 683.4h0M137.1 669.8h0M136.7 677.0h0M145.7 687.3h0M135.9 668.2h0M140.2 673.5h0M141.0 671.0h0M155.1 683.3h0M154.3 677.8h0M150.2 674.7h0M141.3 679.0h0M147.0 686.6h0M154.5 678.8h0M143.2 683.9h0M155.1 679.8h0M160.4 683.6h0M137.0 668.7h0M140.6 670.2h0M153.5 672.5h0M137.1 683.3h0M146.0 683.1h0M140.6 677.9h0M138.0 677.4h0M150.6 676.7h0M146.7 671.8h0M150.8 674.3h0M138.2 678.1h0M136.7 682.3h0M157.2 687.2h0M135.2 679.3h0M151.6 690.4h0M135.4 683.4h0M137.8 677.7h0M158.2 684.6h0M152.1 673.8h0M137.5 680.9h0M138.3 680.0h0M154.5 687.6h0M143.7 675.1h0M146.4 673.5h0M158.2 682.0h0M145.1 687.7h0M139.6 680.5h0M148.1 675.3h0M144.2 680.2h0M139.1 674.2h0M146.0 672.1h0M156.3 684.2h0M154.0 686.7h0M138.3 684.5h0M134.4 667.2h0M135.5 672.5h0M139.2 674.1h0M155.8 687.4h0M142.8 672.3h0M152.3 690.2h0M149.5 682.4h0M134.5 684.3h0M146.1 690.5h0M157.2 684.9h0M138.7 669.9h0M156.2 675.3h0M151.9 681.9h0M141.7 682.0h0M155.1 689.5h0M137.2 675.0h0M139.3 683.6h0M142.1 689.5h0M138.1 669.2h0M143.3 682.1h0M155.5 686.3h0M147.7 687.2h0M135.7 676.0h0M137.1 678.4h0M149.9 681.2h0M138.0 675.4h0M134.2 674.9h0M151.8 687.6h0M142.6 684.2h0M150.0 684.1h0M139.6 680.6h0M155.9 686.1h0M148.0 684.9h0M152.7 685.1h0M156.2 680.3h0M150.5 672.8h0M155.3 682.1h0M151.0 686.2h0M158.6 687.8h0M135.4 674.1h0M142.9 686.8h0M148.9 681.1h0M153.1 681.8h0M151.7 690.4h0M157.7 683.2h0M147.0 670.3h0M135.6 683.3h0M134.8 675.4h0M141.1 671.8h0M139.8 675.7h0M141.0 672.7h0M151.2 686.6h0M151.8 687.9h0M154.9 683.5h0M148.8 678.4h0M148.0 682.8h0M150.1 689.4h0M141.4 679.0h0M146.8 675.4h0M150.9 672.1h0M137.5 682.8h0M143.0 681.9h0M135.8 679.8h0M147.5 671.1h0M154.2 675.1h0M160.7 684.6h0M146.6 670.7h0M146.7 684.9h0M139.0 675.1h0M136.9 683.7h0M157.6 688.3h0M145.2 669.9h0M147.0 686.1h0M138.7 675.4h0M150.8 688.8h0M140.7 680.6h0M140.4 682.7h0M151.4 672.1h0M137.3 667.8h0M145.9 683.2h0M141.4 671.4h0M153.9 686.5h0M148.8 685.7h0M156.2 687.7h0M134.6 682.4h0M139.9 672.4h0M146.4 677.3h0M156.7 687.5h0M157.3 683.9h0M138.8 682.8h0M149.7 685.0h0M140.3 679.4h0M135.8 675.1h0M158.1 683.8h0M147.8 685.3h0M153.0 676.9h0M142.2 682.2h0M139.3 677.2h0M144.8 672.4h0M150.4 681.7h0M132.3 672.1h0M137.4 676.9h0M143.8 670.0h0M136.0 680.7h0M142.1 681.3h0M150.2 674.1h0M149.3 681.3h0M137.4 669.4h0M140.4 682.7h0M157.3 685.3h0M137.0 667.6h0M151.8 689.7h0M140.2 668.6h0M157.7 680.8h0M141.6 671.6h0M149.6 686.5h0M145.3 687.2h0M159.8 683.1h0M141.3 670.4h0M135.9 674.5h0M137.0 674.3h0M139.9 672.2h0M148.6 686.8h0M146.3 680.2h0M151.4 683.1h0M141.1 669.5h0M152.0 690.1h0M176.9 710.4h0M173.3 708.3h0M166.8 697.0h0M165.6 687.2h0M178.2 706.8h0M168.2 694.4h0M158.4 694.7h0M160.7 691.3h0M172.7 709.0h0M172.4 705.1h0M165.0 689.7h0M169.4 707.2h0M159.4 699.7h0M152.7 701.6h0M162.4 695.2h0M157.1 686.5h0M174.5 700.0h0M144.5 693.5h0M164.0 690.6h0M152.5 695.3h0M178.9 704.8h0M162.2 700.6h0M161.2 688.6h0M168.5 685.5h0M165.0 698.7h0M157.7 699.5h0M175.9 711.6h0M180.3 692.8h0M162.7 702.3h0M173.5 688.2h0M173.0 706.2h0M182.3 695.5h0M156.6 691.4h0M181.4 696.0h0M178.9 699.5h0M176.3 691.9h0M176.8 697.9h0M165.0 695.4h0M174.4 703.5h0M172.9 690.0h0M154.8 688.9h0M163.4 691.2h0M164.5 687.8h0M155.3 687.0h0M169.9 698.0h0M181.6 689.9h0M178.0 691.2h0M167.2 703.6h0M147.6 691.5h0M172.3 693.2h0M151.0 697.8h0M165.9 689.7h0M166.7 692.1h0M174.9 693.5h0M148.7 697.1h0M172.3 701.5h0M156.0 695.1h0M161.7 698.9h0M170.4 699.3h0M166.0 685.9h0M179.7 705.1h0M161.6 687.2h0M160.0 700.7h0M174.3 702.4h0M147.9 696.3h0M178.2 705.9h0M165.6 695.0h0M165.2 704.6h0M147.5 693.7h0M152.0 690.5h0M159.4 697.9h0M155.1 689.6h0M178.0 689.7h0M153.2 701.1h0M174.1 697.1h0M170.7 696.6h0M170.7 690.9h0M155.1 686.5h0M184.4 696.6h0M173.3 715.6h0M156.8 691.2h0M172.3 698.2h0M162.1 692.9h0M172.2 696.2h0M171.9 699.7h0M170.0 693.3h0M147.3 695.0h0M150.7 695.4h0M171.2 698.8h0M147.3 693.9h0M158.2 692.4h0M174.7 702.7h0M156.6 695.1h0M156.6 692.6h0M157.5 692.9h0M178.6 700.3h0M163.3 701.4h0M161.6 691.5h0M184.5 693.0h0M165.1 700.0h0M182.4 698.3h0M174.5 693.9h0M160.6 697.4h0M167.9 698.6h0M174.8 690.1h0M171.4 706.0h0M175.9 696.5h0M160.0 685.0h0M181.2 703.8h0M179.2 697.9h0M153.9 698.1h0M164.7 700.2h0M176.5 693.0h0M176.9 691.2h0M155.4 693.5h0M179.8 692.0h0M173.9 694.7h0M155.5 702.6h0M149.4 700.4h0M183.4 695.9h0M173.2 691.4h0M152.4 694.3h0M178.8 706.0h0M163.9 697.2h0M163.1 692.8h0M181.5 693.0h0M172.4 715.3h0M162.5 689.8h0M177.0 710.7h0M178.1 691.8h0M170.9 704.9h0M173.2 697.4h0M176.3 701.3h0M158.5 702.7h0M179.3 696.2h0M182.8 692.2h0M173.8 695.2h0M163.0 694.7h0M166.2 702.1h0M175.6 694.0h0M176.9 709.1h0M175.9 708.3h0M168.5 686.0h0M179.0 689.0h0M184.3 690.2h0M177.2 694.0h0M171.4 705.6h0M148.4 694.7h0M159.7 689.9h0M184.2 689.4h0M173.4 695.6h0M162.1 700.2h0M150.7 692.5h0M149.2 698.5h0M167.1 687.2h0M148.8 698.4h0M145.5 693.5h0M167.3 689.7h0M175.9 703.4h0M172.8 687.2h0M181.0 704.1h0M170.0 692.2h0M178.9 687.7h0M159.1 690.0h0M155.8 696.4h0M178.4 707.9h0M167.3 697.8h0M158.1 700.5h0M172.0 700.1h0M182.3 687.7h0M158.3 697.2h0M184.8 688.4h0M163.2 701.7h0M162.5 695.5h0M163.0 683.9h0M153.3 696.1h0M155.4 699.1h0M173.1 688.5h0M181.9 698.5h0M175.0 709.1h0M178.2 705.2h0M152.8 693.4h0M160.7 694.9h0M157.9 692.2h0M150.2 691.9h0M171.3 713.7h0M176.0 709.9h0M177.3 705.5h0M169.3 702.8h0M155.2 690.5h0M174.6 704.8h0M174.4 700.2h0M157.6 701.3h0M171.4 690.5h0M156.5 693.3h0M159.5 695.0h0M164.8 698.1h0M183.5 695.4h0M161.9 690.3h0M186.9 687.9h0M174.3 707.2h0M173.4 704.7h0M167.5 696.4h0M174.0 689.5h0M167.5 706.3h0M163.4 701.8h0M165.6 695.7h0M164.1 702.9h0M177.4 700.1h0M158.1 701.2h0M149.8 694.5h0M163.7 699.1h0M158.4 692.1h0M176.0 705.2h0M172.5 697.8h0M179.2 693.9h0M153.1 699.2h0M158.0 697.4h0M156.2 698.8h0M163.7 689.3h0M167.0 690.9h0M173.6 691.3h0M170.2 713.1h0M174.5 711.3h0M158.0 688.4h0M161.7 694.9h0M162.0 689.4h0M160.2 698.1h0M167.6 688.0h0M174.2 708.6h0M179.0 693.8h0M177.6 699.1h0M177.0 688.4h0M155.7 698.6h0M173.9 692.8h0M180.7 686.2h0M175.6 706.2h0M174.3 695.0h0M149.6 697.7h0M177.0 699.6h0M161.7 694.1h0M164.3 699.1h0M155.9 689.8h0M146.2 694.2h0M159.1 683.7h0M160.9 701.0h0M150.6 695.1h0M147.9 692.6h0M149.8 697.5h0M152.2 700.8h0M148.4 692.6h0M160.9 692.6h0M177.0 709.3h0M162.4 694.8h0M155.9 695.1h0M147.8 691.8h0M160.4 698.7h0M156.7 695.7h0M168.0 692.0h0M173.6 714.2h0M159.1 686.8h0M175.4 690.2h0M159.0 685.2h0M161.6 699.1h0M174.7 694.6h0M161.4 691.2h0M184.0 688.9h0M160.8 696.7h0M164.9 697.2h0M156.6 699.7h0M170.0 688.0h0M167.0 690.5h0M161.7 690.1h0M159.5 701.6h0M177.8 695.9h0M172.4 700.4h0M177.5 701.9h0M171.8 709.5h0M156.7 692.8h0M180.7 693.6h0M160.7 697.9h0M171.2 689.7h0M154.2 696.3h0M145.9 692.5h0M174.9 701.1h0M165.4 689.7h0M175.9 687.6h0M176.8 689.6h0M176.4 706.6h0M163.3 690.6h0M164.9 701.9h0M163.2 690.8h0M172.3 688.4h0M173.3 705.5h0M171.8 707.7h0M164.9 687.7h0M176.5 696.0h0M174.8 694.4h0M165.1 687.4h0M172.3 699.8h0M177.1 704.2h0M176.8 704.4h0M146.8 692.3h0M147.0 694.5h0M179.0 709.3h0M158.7 696.1h0M105.9 700.1h0M133.2 690.2h0M135.1 695.3h0M126.2 702.3h0M118.1 702.8h0M136.3 694.1h0M112.5 692.8h0M122.7 707.3h0M132.2 689.4h0M107.7 704.5h0M131.4 688.7h0M132.9 691.3h0M134.1 690.0h0M132.8 701.9h0M124.0 700.3h0M137.7 693.4h0M132.2 700.1h0M128.1 698.3h0M136.0 687.8h0M136.7 690.8h0M136.5 697.1h0M134.7 697.5h0M117.5 700.5h0M118.8 697.8h0M113.1 706.3h0M131.9 688.1h0M135.8 695.4h0M121.1 704.9h0M114.9 695.6h0M106.7 706.8h0M138.3 699.2h0M122.0 707.6h0M119.3 704.5h0M118.5 705.4h0M136.1 690.0h0M123.6 698.9h0M137.0 694.9h0M117.7 701.7h0M131.6 700.6h0M121.6 701.2h0M141.0 699.4h0M130.1 701.9h0M131.7 699.5h0M134.8 699.0h0M136.4 702.2h0M122.4 700.3h0M136.2 700.3h0M125.6 695.7h0M126.6 705.5h0M106.7 705.8h0M136.7 695.1h0M125.3 691.0h0M142.5 695.6h0M113.1 696.8h0M114.8 695.3h0M127.8 694.0h0M136.2 696.5h0M117.3 695.1h0M130.7 693.9h0M120.4 693.0h0M124.3 708.9h0M121.3 697.8h0M110.1 694.5h0M119.8 695.9h0M112.3 705.1h0M138.2 697.8h0M135.7 699.2h0M137.0 696.3h0M107.5 693.4h0M112.2 696.1h0M136.0 690.8h0M141.9 696.8h0M122.4 708.6h0M132.9 691.5h0M124.0 715.5h0M109.0 719.2h0M129.5 698.6h0M112.3 695.2h0M104.6 698.2h0M106.1 702.2h0M128.4 698.8h0M105.8 725.5h0M118.5 723.9h0M105.5 719.0h0M104.2 691.3h0M130.0 706.7h0M104.2 708.1h0M128.5 693.5h0M131.8 684.6h0M116.5 701.3h0M129.2 708.1h0M109.4 696.3h0M122.3 717.1h0M99.4 690.2h0M146.2 697.5h0M131.4 687.4h0M118.8 687.5h0M101.1 693.8h0M118.5 720.1h0M133.7 695.4h0M131.0 695.3h0M135.9 695.5h0M135.3 705.5h0M131.4 700.9h0M100.0 709.1h0M129.8 704.2h0M139.1 711.3h0M105.5 721.5h0M105.6 712.3h0M104.1 706.7h0M114.0 706.2h0M108.2 695.5h0M118.8 712.6h0M101.7 713.0h0M140.1 704.4h0M114.3 704.5h0M120.5 711.8h0M133.3 706.3h0M110.0 691.0h0M121.8 715.3h0M104.3 725.1h0M98.1 705.2h0M142.6 684.7h0M99.4 720.9h0M138.1 697.6h0M122.1 688.3h0M130.7 686.8h0M105.6 692.6h0M110.6 689.6h0M131.8 696.6h0M103.1 690.5h0M136.7 698.6h0M125.4 705.7h0M128.8 692.4h0M138.3 687.7h0M147.8 686.3h0M118.7 709.9h0M109.1 724.4h0M148.8 686.8h0M99.6 707.7h0M122.3 689.0h0M152.5 697.5h0M134.8 702.6h0M97.3 709.4h0M99.5 702.3h0M108.6 694.4h0M116.4 718.4h0M137.8 709.1h0M133.8 696.9h0M100.4 721.8h0M102.4 691.9h0M100.2 698.8h0M109.0 703.6h0M98.7 697.7h0M145.8 695.7h0M78.2 757.3h0M76.9 759.9h0M79.4 764.7h0M76.9 760.1h0M79.5 761.6h0M78.9 765.6h0M77.1 754.3h0M167.5 708.7h0M157.1 716.4h0M168.4 708.3h0M166.9 710.4h0M155.5 717.2h0M153.9 716.1h0M168.7 711.3h0M147.9 723.3h0M154.9 718.7h0M159.9 714.4h0M147.2 722.3h0M152.9 726.2h0M160.6 709.7h0M148.1 714.7h0M162.0 712.8h0M151.5 717.7h0M159.7 707.1h0M168.7 705.7h0M162.8 711.4h0M146.6 720.9h0M155.2 717.2h0M165.1 709.6h0M159.3 712.5h0M160.6 713.1h0M163.2 706.6h0M157.3 711.7h0M156.8 714.5h0M146.5 719.2h0M153.5 712.8h0M148.6 720.8h0M153.7 717.8h0M162.5 711.3h0M158.2 723.8h0M158.2 710.9h0M160.6 707.2h0M158.3 719.7h0M159.0 711.9h0M160.7 717.9h0M160.5 718.4h0M159.2 720.0h0M156.1 713.8h0M159.8 714.7h0M159.8 716.1h0M159.8 719.7h0M159.8 714.9h0M159.6 721.1h0M160.7 720.8h0M156.1 716.5h0M152.6 710.2h0M149.4 720.4h0M157.6 717.9h0M153.1 717.8h0M149.1 713.6h0M167.3 725.0h0M177.3 735.0h0M174.8 738.6h0M173.2 750.0h0M169.4 723.2h0M175.3 741.8h0M169.5 723.4h0M174.8 749.4h0M177.6 728.5h0M178.5 733.4h0M172.0 747.6h0M162.0 747.0h0M172.3 735.7h0M166.7 750.6h0M165.0 744.3h0M176.0 733.4h0M179.3 724.8h0M165.9 718.3h0M169.2 735.9h0M171.1 714.7h0M168.2 746.4h0M175.3 739.4h0M165.4 741.6h0M169.0 724.6h0M174.1 738.3h0M169.5 744.4h0M176.5 719.6h0M177.4 748.0h0M175.0 750.9h0M168.5 723.4h0M177.3 731.5h0M166.9 726.8h0M163.2 746.4h0M171.1 735.3h0M172.4 743.3h0M172.3 729.8h0M169.4 710.9h0M173.3 732.9h0M178.5 746.1h0M177.2 727.3h0M166.4 740.6h0M170.9 722.9h0M179.1 733.3h0M171.1 745.7h0M172.0 721.5h0M178.8 742.8h0M167.9 738.8h0M175.2 733.2h0M171.1 719.1h0M173.6 753.9h0M176.9 734.9h0M164.4 744.9h0M167.1 728.6h0M173.5 715.3h0M171.3 734.2h0M171.2 717.7h0M178.5 748.0h0M171.0 728.5h0M174.4 745.8h0M170.0 711.7h0M169.4 726.0h0M171.0 724.6h0M175.6 726.4h0M172.0 716.5h0M172.7 713.5h0M176.5 747.1h0M169.8 724.2h0M179.7 728.6h0M173.9 740.0h0M170.5 750.4h0M169.2 720.7h0M174.1 722.0h0M169.4 731.7h0M177.7 725.9h0M176.9 728.0h0M172.7 718.4h0M180.3 737.7h0M174.0 734.4h0M175.7 723.5h0M176.7 730.5h0M169.6 739.8h0M180.5 735.6h0M171.4 735.4h0M180.1 742.9h0M166.8 730.7h0M171.4 742.1h0M180.5 736.1h0M168.7 731.8h0M177.3 722.2h0M175.0 721.6h0M177.6 739.9h0M164.6 743.8h0M175.4 734.2h0M173.5 737.9h0M172.4 722.1h0M171.9 748.2h0M169.8 731.3h0M175.9 748.2h0M174.0 747.4h0M174.8 733.8h0M169.2 728.5h0M169.4 741.1h0M170.5 747.5h0M170.7 729.7h0M180.6 740.2h0M172.4 733.3h0M175.9 726.8h0M173.4 726.6h0M165.4 724.2h0M165.6 720.6h0M165.0 715.4h0M172.3 730.1h0M167.6 724.0h0M167.6 744.3h0M178.6 750.5h0M176.1 747.7h0M174.6 734.1h0M169.8 721.5h0M171.3 717.6h0M171.1 727.7h0M165.3 743.7h0M164.8 741.6h0M172.2 742.1h0M169.6 724.4h0M169.2 729.7h0M168.6 740.5h0M166.8 732.2h0M165.0 749.8h0M174.8 722.9h0M172.0 743.6h0M169.8 716.5h0M170.5 714.2h0M166.3 748.6h0M172.5 735.4h0M173.9 746.5h0M167.2 741.6h0M167.5 717.6h0M165.5 748.3h0M173.3 739.5h0M179.6 730.4h0M170.9 753.5h0M172.1 714.3h0M176.0 738.4h0M169.2 724.8h0M170.1 712.7h0M181.4 731.1h0M167.9 742.1h0M174.8 747.2h0M165.8 717.9h0M179.0 738.5h0M169.1 738.2h0M167.8 717.6h0M168.0 719.2h0M173.6 729.1h0M168.8 719.9h0M173.6 747.2h0M165.8 714.7h0M176.9 749.1h0M180.4 730.3h0M180.4 739.8h0M169.4 715.8h0M166.0 748.5h0M178.2 742.8h0M166.5 719.6h0M168.4 716.0h0M178.1 749.4h0M174.7 748.2h0M173.6 747.2h0M170.8 749.3h0M168.1 720.1h0M170.0 741.8h0M171.7 745.9h0M169.1 715.3h0M177.6 722.2h0M173.0 716.2h0M170.4 727.9h0M164.8 738.3h0M166.1 732.6h0M173.4 752.1h0M172.9 732.0h0M174.5 741.5h0M174.4 722.4h0M175.4 737.9h0M175.2 739.8h0M171.5 733.4h0M169.7 746.9h0M175.7 725.0h0M166.1 752.2h0M166.0 742.6h0M170.6 724.1h0M176.3 734.7h0M174.8 746.7h0M180.8 727.7h0M175.5 744.4h0M169.3 741.7h0M179.6 736.0h0M158.9 737.7h0M156.4 741.7h0M155.8 738.1h0M157.1 746.3h0M160.8 747.2h0M153.1 738.7h0M163.4 744.3h0M161.0 747.8h0M155.9 738.0h0M153.8 739.0h0M153.5 736.1h0M161.4 745.8h0M156.1 739.9h0M162.4 745.7h0M172.0 753.7h0M174.1 756.6h0M171.2 759.0h0M164.5 754.9h0M170.2 753.7h0M163.1 753.8h0M172.2 752.6h0M168.5 757.6h0M166.2 754.3h0M169.4 758.7h0M165.4 754.3h0M173.4 757.5h0M173.9 755.3h0M169.6 760.7h0M176.4 755.9h0M171.8 755.5h0M166.8 752.9h0M173.1 753.6h0M168.3 760.0h0M176.6 756.2h0M171.3 760.2h0M164.0 755.4h0M163.6 755.9h0M175.6 754.4h0M173.6 758.2h0M167.2 755.7h0M169.5 751.3h0M165.2 754.6h0M176.2 753.3h0M168.7 757.7h0M173.3 755.4h0M169.0 752.7h0M175.6 755.2h0M176.0 751.9h0M164.3 753.9h0M176.0 753.6h0M170.9 752.1h0M174.6 752.9h0M170.4 753.6h0M176.0 752.1h0M167.2 752.9h0M171.1 753.9h0M169.8 756.6h0M173.1 758.0h0M165.7 757.3h0M169.6 753.4h0M164.3 757.5h0M176.8 755.4h0M172.5 760.2h0M172.5 752.1h0M163.8 753.1h0M164.4 756.5h0M178.5 752.3h0M163.9 753.5h0M173.9 756.1h0M169.3 757.4h0M174.0 757.9h0M170.4 751.8h0M69.8 744.6h0M80.1 740.2h0M67.6 724.8h0M74.5 733.0h0M67.3 741.6h0M77.7 733.5h0M72.5 726.5h0M57.5 739.5h0M79.1 738.7h0M83.7 739.7h0M65.4 726.1h0M84.0 740.3h0M72.8 731.1h0M82.1 732.5h0M76.5 723.3h0M68.6 733.7h0M62.6 730.5h0M81.4 726.7h0M81.1 725.0h0M68.9 742.5h0M61.0 731.9h0M75.7 727.6h0M65.1 739.5h0M68.5 736.0h0M77.1 740.0h0M73.9 738.0h0M73.8 728.0h0M70.8 727.7h0M73.3 742.6h0M76.8 725.8h0M70.5 730.9h0M67.5 725.6h0M60.0 743.1h0M81.2 729.0h0M80.4 725.6h0M81.0 741.6h0M68.0 742.8h0M70.2 727.4h0M71.6 739.9h0M70.2 734.8h0M84.3 736.8h0M78.7 739.8h0M74.2 732.4h0M67.6 737.5h0M76.0 735.6h0M72.1 732.8h0M73.3 728.9h0M63.1 733.6h0M77.3 742.4h0M76.7 730.2h0M70.7 724.7h0M65.6 732.1h0M73.9 732.6h0M69.2 727.1h0M76.1 739.7h0M83.5 738.9h0M64.4 742.0h0M76.8 737.4h0M73.3 736.7h0M70.9 731.6h0M77.7 736.4h0M83.4 737.6h0M68.1 728.6h0M78.5 738.7h0M72.2 737.3h0M77.6 727.6h0M71.0 726.5h0M61.9 738.8h0M64.6 730.7h0M63.3 731.4h0M71.9 742.5h0M76.2 734.8h0M79.5 729.6h0M59.3 741.7h0M57.6 739.0h0M80.3 735.5h0M66.9 715.3h0M71.4 723.7h0M78.3 723.6h0M63.1 722.5h0M84.6 736.1h0M64.3 725.3h0M70.1 735.0h0M61.8 730.7h0M69.1 739.7h0M59.9 733.6h0M72.3 736.3h0M79.3 737.1h0M85.6 739.0h0M83.3 729.0h0M75.2 723.0h0M59.3 740.4h0M75.5 718.7h0M75.6 722.5h0M60.0 742.6h0M74.9 732.2h0M86.7 738.9h0M67.0 727.3h0M71.1 712.2h0M67.8 740.8h0M66.8 739.4h0M75.9 735.0h0M74.4 737.4h0M78.4 720.7h0M55.8 765.4h0M65.0 763.8h0M62.0 742.1h0M65.9 741.9h0M64.8 750.5h0M70.5 766.1h0M77.3 761.5h0M78.8 757.3h0M79.8 756.3h0M77.6 755.9h0M51.8 756.5h0M76.3 757.2h0M61.3 768.8h0M78.1 756.9h0M52.9 749.9h0M75.4 747.3h0M83.7 755.5h0M77.1 767.2h0M71.8 742.5h0M64.5 764.3h0M65.6 755.1h0M66.4 769.5h0M55.9 746.9h0M51.9 756.6h0M80.0 767.5h0M78.0 756.3h0M71.9 745.2h0M82.3 753.5h0M72.6 748.3h0M77.9 769.2h0M67.7 748.2h0M75.1 768.0h0M74.0 765.5h0M67.5 751.8h0M53.5 755.0h0M60.2 744.0h0M71.8 752.5h0M80.4 767.4h0M67.6 759.2h0M77.1 763.3h0M56.4 760.8h0M77.1 756.3h0M64.4 765.5h0M77.7 765.7h0M79.5 755.0h0M71.0 756.1h0M63.2 774.2h0M60.5 749.2h0M65.0 763.0h0M70.0 758.7h0M84.4 756.9h0M75.6 766.5h0M64.8 744.6h0M65.4 747.0h0M82.7 750.2h0M59.2 760.3h0M55.1 750.7h0M59.0 750.6h0M63.4 766.6h0M66.5 753.9h0M58.5 765.2h0M57.6 750.0h0M60.4 744.1h0M78.7 768.7h0M65.3 754.9h0M81.4 750.4h0M76.8 763.1h0M55.0 744.0h0M66.1 768.3h0M72.1 744.2h0M72.0 771.2h0M69.6 763.2h0M67.0 772.0h0M64.1 749.5h0M65.0 760.7h0M77.7 753.7h0M78.2 769.9h0M67.8 750.7h0M74.8 768.7h0M59.1 770.8h0M60.7 744.5h0M71.6 746.8h0M76.3 758.8h0M68.8 766.7h0M66.4 748.0h0M69.0 760.5h0M54.0 765.8h0M79.2 760.7h0M54.2 746.1h0M68.7 758.0h0M74.4 767.5h0M81.6 753.3h0M63.4 757.9h0M61.9 763.6h0M63.6 757.1h0M66.7 742.3h0M60.4 750.4h0M52.3 756.5h0M82.5 760.2h0M58.2 756.1h0M70.0 769.3h0M60.2 749.7h0M56.6 744.8h0M66.5 768.0h0M65.5 758.3h0M68.5 764.0h0M57.1 764.5h0M72.1 762.7h0M59.0 762.1h0M62.7 740.2h0M73.9 747.8h0M53.9 764.6h0M59.0 746.7h0M51.9 755.4h0M77.4 762.0h0M79.9 748.5h0M76.0 756.2h0M75.2 766.9h0M64.4 751.6h0M82.7 752.3h0M68.1 748.5h0M80.8 759.2h0M71.3 751.1h0M58.0 755.8h0M50.8 752.1h0M60.2 759.5h0M76.4 758.0h0M60.8 750.5h0M59.0 769.0h0M58.7 748.8h0M55.8 764.4h0M75.5 755.6h0M75.4 762.3h0M66.8 745.9h0M66.2 741.8h0M69.8 770.7h0M66.9 744.2h0M58.6 754.1h0M72.3 760.8h0M58.5 766.0h0M71.6 761.5h0M80.6 762.8h0M74.5 763.3h0M82.1 756.6h0M58.5 749.7h0M66.2 747.6h0M67.5 752.0h0M54.2 766.5h0M72.3 769.3h0M60.2 769.7h0M79.2 762.2h0M67.7 750.8h0M67.1 748.4h0M67.4 755.6h0M58.2 749.2h0M59.8 748.3h0M61.4 772.6h0M74.6 754.5h0M73.2 767.7h0M50.9 758.5h0M62.6 756.7h0M81.9 748.6h0M67.4 762.5h0M52.0 755.5h0M58.1 760.8h0M75.3 754.6h0M69.3 750.4h0M58.8 742.0h0M69.3 756.8h0M66.8 751.7h0M63.6 749.7h0M71.8 772.1h0M75.8 754.9h0M78.9 763.4h0M67.4 773.3h0M54.3 750.7h0M67.0 743.2h0M57.5 752.7h0M58.9 757.0h0M63.9 741.0h0M69.0 749.4h0M80.9 750.8h0M62.7 772.5h0M71.3 757.6h0M75.6 766.7h0M74.2 767.2h0M60.4 766.3h0M59.0 745.3h0M63.1 754.4h0M56.8 761.5h0M72.7 745.8h0M74.1 768.2h0M59.0 768.2h0M75.2 755.7h0M62.2 771.5h0M62.3 749.8h0M68.3 759.9h0M63.6 755.2h0M70.6 762.3h0M59.4 755.8h0M67.3 741.1h0M61.3 759.4h0M65.1 760.6h0M80.7 749.1h0M57.3 746.1h0M58.6 744.2h0M60.9 769.6h0M61.3 764.7h0M73.3 758.6h0M57.3 753.5h0M59.2 755.2h0M107.3 733.1h0M111.2 736.2h0M103.4 737.9h0M109.4 736.9h0M123.6 730.9h0M117.1 729.7h0M116.2 730.2h0M106.0 735.0h0M119.8 734.5h0M99.9 738.3h0M118.8 730.3h0M105.1 734.1h0M117.9 732.4h0M127.3 736.5h0M120.2 736.2h0M119.4 735.0h0M102.2 735.9h0M122.3 733.1h0M113.2 730.2h0M109.7 734.0h0M127.5 736.8h0M116.2 733.2h0M128.8 735.6h0M116.6 736.2h0M125.1 732.8h0M99.2 737.2h0M129.8 734.9h0M107.7 736.7h0M117.2 737.3h0M107.6 732.6h0M114.2 730.3h0M106.5 735.9h0M107.5 735.0h0M104.7 734.9h0M124.4 734.9h0M119.2 734.1h0M123.6 734.0h0M124.6 732.3h0M125.2 735.6h0M128.0 734.7h0M123.6 735.6h0M120.3 734.5h0M113.6 730.2h0M108.3 731.8h0M120.3 730.4h0M126.8 737.4h0M116.5 734.2h0M126.0 733.8h0M120.8 732.2h0M108.1 734.6h0M108.5 736.6h0M111.4 733.9h0M109.2 737.4h0M111.9 732.2h0M114.9 733.3h0M115.0 730.2h0M114.1 737.4h0M105.9 736.8h0M114.8 732.9h0M110.9 732.4h0M127.7 735.7h0M99.4 722.6h0M98.3 722.6h0M94.3 721.2h0M95.5 721.8h0M97.2 724.3h0M90.9 716.3h0M98.8 724.5h0M97.4 723.3h0M93.0 717.4h0M104.5 724.1h0M109.2 737.8h0M96.2 735.5h0M89.6 736.3h0M89.7 720.7h0M111.3 728.7h0M90.3 728.4h0M108.1 732.7h0M105.7 752.8h0M107.6 746.9h0M108.6 756.2h0M108.1 755.8h0M105.3 759.3h0M108.4 749.1h0M104.2 756.6h0M108.4 750.5h0M109.3 750.7h0M102.4 750.1h0M106.8 748.2h0M112.0 755.6h0M103.7 748.4h0M99.2 751.6h0M102.7 758.2h0M107.9 755.6h0M101.0 755.3h0M106.0 758.2h0M107.5 747.4h0M102.0 753.5h0M110.0 755.8h0M98.2 752.4h0M109.2 751.7h0M101.9 748.7h0M103.8 756.8h0M106.9 758.7h0M108.6 754.9h0M109.0 758.2h0M104.1 755.5h0M108.0 753.6h0M107.6 755.5h0M107.9 756.8h0M108.9 749.4h0M111.0 755.7h0M106.6 758.8h0M106.9 751.6h0M104.4 758.1h0M108.8 748.5h0M99.3 754.9h0M109.4 751.7h0M100.8 752.2h0M109.0 751.2h0M101.9 757.4h0M102.6 755.2h0M109.7 755.8h0M109.1 754.3h0M97.7 751.6h0M101.3 758.9h0M106.8 754.0h0M110.5 753.7h0M101.0 753.7h0M101.6 751.2h0M109.9 751.4h0M104.5 748.2h0M111.1 754.9h0M98.5 750.9h0M100.9 753.6h0M109.4 755.9h0M98.2 754.3h0M104.6 756.5h0M109.3 751.3h0M110.7 753.3h0M109.4 757.6h0M106.4 750.6h0M106.9 754.2h0M106.5 746.5h0M111.0 753.2h0M108.1 746.7h0M105.1 758.5h0M100.9 755.5h0M104.0 749.3h0M105.0 751.3h0M91.2 756.4h0M91.2 751.1h0M102.4 761.9h0M95.5 750.7h0M100.7 759.8h0M96.1 749.7h0M93.0 763.3h0M92.7 763.9h0M97.5 763.1h0M98.2 760.3h0M90.6 755.0h0M99.3 755.0h0M91.2 755.4h0M97.1 749.8h0M90.4 755.7h0M95.1 758.0h0M90.2 758.0h0M102.0 761.3h0M93.4 751.7h0M90.6 756.4h0M100.3 759.0h0M99.4 765.3h0M94.4 757.4h0M90.5 753.8h0M99.8 796.5h0M106.1 788.1h0M104.6 787.9h0M105.5 790.7h0M97.3 776.3h0M90.3 775.5h0M94.7 773.8h0M106.8 794.7h0M95.7 788.7h0M95.8 791.9h0M100.1 790.9h0M107.2 794.1h0M103.8 791.4h0M96.2 783.7h0M96.4 788.4h0M89.5 771.7h0M92.8 783.5h0M85.9 773.9h0M102.4 787.6h0M97.5 794.7h0M92.0 779.3h0M93.3 787.3h0M102.7 793.4h0M98.0 783.6h0M98.7 789.1h0M88.8 772.1h0M94.7 774.4h0M104.4 786.4h0M89.3 778.5h0M98.4 784.2h0M99.6 791.0h0M104.4 792.3h0M94.2 774.8h0M85.4 773.5h0M97.2 792.3h0M103.1 786.7h0M86.4 779.0h0M86.8 779.6h0M96.4 781.7h0M99.9 787.2h0M84.6 773.2h0M92.4 783.4h0M98.2 788.8h0M96.1 786.5h0M92.9 786.8h0M105.1 797.8h0M94.0 774.1h0M103.1 782.3h0M89.4 772.0h0M86.0 774.7h0M105.7 793.7h0M99.7 785.4h0M100.6 785.9h0M97.3 781.7h0M99.6 787.3h0M103.0 788.8h0M85.7 773.0h0M97.6 786.0h0M105.3 794.9h0M88.1 774.9h0M98.0 787.1h0M108.1 794.9h0M97.4 796.2h0M94.8 786.8h0M105.1 793.2h0M105.1 789.2h0M86.8 780.6h0M100.6 787.8h0M96.6 780.0h0M103.2 794.3h0M96.7 795.8h0M98.5 795.0h0M87.4 776.3h0M92.0 774.7h0M94.1 779.0h0M92.5 777.3h0M103.3 784.8h0M92.6 780.7h0M91.3 778.0h0M102.8 786.1h0M93.9 779.8h0M88.2 780.5h0M94.9 780.2h0M88.2 781.8h0M91.8 771.3h0M90.2 779.4h0M105.0 790.7h0M97.1 789.7h0M101.0 797.0h0M90.3 782.0h0M91.5 786.0h0M95.4 791.1h0M97.0 781.3h0M87.8 780.7h0M103.0 786.3h0M104.7 795.0h0M95.8 769.6h0M97.2 755.9h0M98.7 764.9h0M89.1 767.4h0M94.7 767.4h0M85.4 773.0h0M97.5 762.6h0M88.4 765.0h0M89.8 758.2h0M98.3 759.6h0M97.2 762.8h0M93.9 768.7h0M85.0 768.3h0" stroke="#d3d3d3" stroke-width="3" stroke-linecap="round" fill="none"/>
<path d="M63.1 760.4h0M57.3 747.5h0M68.1 740.9h0M65.8 767.4h0M58.1 750.9h0M59.5 756.7h0M99.1 787.5h0M57.7 764.9h0M59.1 749.4h0M67.8 763.5h0M59.0 753.6h0M54.9 753.9h0M90.7 781.2h0M66.1 766.2h0M57.1 760.7h0M54.6 760.0h0" stroke="#f8766d" stroke-width="3.1" stroke-linecap="round" fill="none"/>
<path d="M83.2 695.5h0" stroke="#d89000" stroke-width="3.1" stroke-linecap="round" fill="none"/>
<path d="M81.9 703.1h0M102.1 695.5h0M96.3 701.0h0M76.4 708.1h0M79.4 691.0h0" stroke="#a3a500" stroke-width="3.1" stroke-linecap="round" fill="none"/>
<path d="M83.2 773.6h0M65.0 753.0h0M59.7 768.6h0" stroke="#39b600" stroke-width="3.1" stroke-linecap="round" fill="none"/>
<path d="M60.5 752.2h0M71.1 751.5h0" stroke="#00bf7d" stroke-width="3.1" stroke-linecap="round" fill="none"/>
<path d="M93.8 697.3h0M89.5 706.1h0" stroke="#00b0f6" stroke-width="3.1" stroke-linecap="round" fill="none"/>
<path d="M165.1 748.4h0" stroke="#e76bf3" stroke-width="3.1" stroke-linecap="round" fill="none"/>
<path d="M121.0 682.1h0" stroke="#ff62bc" stroke-width="3.1" stroke-linecap="round" fill="none"/>
<path d="M92.0 783.7h0M58.7 746.7h0M61.4 749.6h0M67.7 745.5h0M59.4 746.5h0M60.8 748.2h0M63.4 763.1h0M53.0 754.3h0M58.4 765.3h0M70.6 753.6h0" stroke="#f8766d" stroke-width="3.1" stroke-linecap="round" fill="none"/>
<path d="M83.7 697.5h0M104.1 699.0h0M92.0 687.4h0M112.7 698.0h0M83.9 686.4h0M71.1 715.9h0" stroke="#d89000" stroke-width="3.1" stroke-linecap="round" fill="none"/>
<path d="M88.7 695.5h0M74.6 691.5h0" stroke="#a3a500" stroke-width="3.1" stroke-linecap="round" fill="none"/>
<path d="M57.5 743.4h0M66.0 748.4h0M68.6 747.7h0M67.6 746.4h0" stroke="#39b600" stroke-width="3.1" stroke-linecap="round" fill="none"/>
<path d="M53.7 755.2h0" stroke="#00bf7d" stroke-width="3.1" stroke-linecap="round" fill="none"/>
<path d="M95.8 699.5h0M65.0 715.9h0M74.4 684.4h0M76.1 694.5h0M105.9 693.5h0" stroke="#00b0f6" stroke-width="3.1" stroke-linecap="round" fill="none"/>
<path d="M166.9 753.5h0M168.9 748.4h0" stroke="#e76bf3" stroke-width="3.1" stroke-linecap="round" fill="none"/>
<path d="M100.8 672.3h0" stroke="#ff62bc" stroke-width="3.1" stroke-linecap="round" fill="none"/>
<path d="M71.3 755.8h0M70.9 758.3h0M53.1 750.0h0M66.0 765.4h0M79.4 766.1h0M58.3 754.1h0M71.8 773.1h0M58.9 757.4h0M64.8 759.7h0M67.3 765.5h0" stroke="#f8766d" stroke-width="3.1" stroke-linecap="round" fill="none"/>
<path d="M80.2 705.6h0M62.3 694.5h0M87.7 698.5h0M71.6 704.1h0M94.5 688.4h0" stroke="#d89000" stroke-width="3.1" stroke-linecap="round" fill="none"/>
<path d="M76.4 705.1h0M83.9 703.1h0M74.4 689.7h0M99.6 701.5h0" stroke="#a3a500" stroke-width="3.1" stroke-linecap="round" fill="none"/>
<path d="M61.3 769.9h0" stroke="#39b600" stroke-width="3.1" stroke-linecap="round" fill="none"/>
<path d="M63.0 756.0h0M57.5 758.5h0M93.3 736.6h0" stroke="#00bf7d" stroke-width="3.1" stroke-linecap="round" fill="none"/>
<path d="M99.6 686.4h0M89.7 695.5h0M73.9 699.5h0" stroke="#00b0f6" stroke-width="3.1" stroke-linecap="round" fill="none"/>
<path d="M73.1 773.1h0M136.9 704.3h0M56.7 768.6h0" stroke="#9590ff" stroke-width="3.1" stroke-linecap="round" fill="none"/>
<path d="M95.0 674.3h0" stroke="#ff62bc" stroke-width="3.1" stroke-linecap="round" fill="none"/>
<text x="102.9" y="653.9" textLength="29.4" lengthAdjust="spacingAndGlyphs">NP11</text>
<line x1="44.1" y1="658.9" x2="44.1" y2="804.9" stroke="#777" stroke-width="1.2"/>
<line x1="43.5" y1="804.4" x2="192.1" y2="804.4" stroke="#444" stroke-width="1"/>
<line x1="39.5" y1="675.3" x2="44.1" y2="675.3" stroke="#444" stroke-width="0.9"/>
<text x="34.3" y="679.6" text-anchor="end">5</text>
<line x1="39.5" y1="718.2" x2="44.1" y2="718.2" stroke="#444" stroke-width="0.9"/>
<text x="34.3" y="722.5" text-anchor="end">0</text>
<line x1="39.5" y1="761" x2="44.1" y2="761" stroke="#444" stroke-width="0.9"/>
<text x="34.3" y="765.3" text-anchor="end">−5</text>
<line x1="39.5" y1="804.4" x2="44.1" y2="804.4" stroke="#444" stroke-width="0.9"/>
<text x="34.3" y="808.7" text-anchor="end">−10</text>
<line x1="65.5" y1="804.4" x2="65.5" y2="808.8" stroke="#444" stroke-width="0.9"/>
<text x="65.5" y="824.2" text-anchor="middle">−5</text>
<line x1="108.9" y1="804.4" x2="108.9" y2="808.8" stroke="#444" stroke-width="0.9"/>
<text x="108.9" y="824.2" text-anchor="middle">0</text>
<line x1="152" y1="804.4" x2="152" y2="808.8" stroke="#444" stroke-width="0.9"/>
<text x="152" y="824.2" text-anchor="middle">5</text>
<text transform="translate(10.6 728.2) rotate(-90)" text-anchor="middle" textLength="52.5" lengthAdjust="spacingAndGlyphs">UMAP_2</text>
<text x="93.8" y="843.7" textLength="47.4" lengthAdjust="spacingAndGlyphs">UMAP_1</text>
<path d="M305.1 696.9h0M298.6 710.7h0M292.5 681.9h0M288.5 684.8h0M301.2 690.9h0M313.0 705.0h0M316.3 695.4h0M288.4 694.9h0M286.8 689.6h0M303.9 682.0h0M293.5 687.9h0M296.3 706.7h0M288.1 708.1h0M282.6 700.3h0M282.0 684.4h0M308.4 689.3h0M295.6 704.1h0M302.9 697.0h0M308.5 710.9h0M301.9 699.0h0M293.9 691.0h0M293.6 681.7h0M304.5 688.4h0M300.8 693.0h0M306.8 708.5h0M313.5 683.4h0M303.3 704.8h0M304.8 695.0h0M305.0 686.7h0M283.7 698.6h0M300.5 679.5h0M298.1 679.3h0M286.6 708.2h0M287.7 705.4h0M283.5 696.3h0M290.5 697.8h0M298.1 708.0h0M318.7 691.2h0M296.0 703.3h0M289.2 693.2h0M316.9 693.9h0M311.2 689.8h0M291.3 685.7h0M301.6 702.2h0M315.5 706.0h0M305.2 704.6h0M284.6 688.9h0M284.6 684.2h0M302.0 702.6h0M289.3 695.9h0M288.2 703.1h0M311.5 684.3h0M298.4 682.2h0M318.3 701.1h0M284.1 700.7h0M300.0 687.5h0M301.6 698.9h0M309.8 702.0h0M293.6 697.1h0M301.5 696.4h0M287.8 699.9h0M304.1 682.3h0M311.1 707.9h0M308.2 702.9h0M318.2 696.2h0M288.7 698.5h0M282.3 702.9h0M284.8 691.2h0M287.4 683.8h0M287.1 696.9h0M301.4 700.4h0M294.5 689.6h0M309.9 708.3h0M292.9 695.6h0M306.0 706.4h0M300.0 683.0h0M290.3 704.8h0M284.3 689.7h0M302.1 681.1h0M293.7 699.3h0M299.8 707.0h0M313.3 697.1h0M308.8 695.7h0M282.5 699.7h0M302.9 698.9h0M304.3 689.4h0M309.2 683.5h0M304.5 691.9h0M314.8 698.5h0M285.6 689.3h0M316.1 702.3h0M300.8 697.9h0M283.7 692.2h0M276.9 687.8h0M302.5 681.8h0M292.4 707.5h0M293.3 700.5h0M300.8 683.3h0M306.3 702.8h0M317.9 692.8h0M314.5 700.9h0M303.7 707.5h0M286.3 705.5h0M288.8 694.8h0M281.5 703.8h0M303.6 709.7h0M300.9 686.0h0M290.3 695.7h0M310.3 685.2h0M280.9 701.3h0M294.2 709.2h0M283.6 691.3h0M277.5 695.2h0M288.8 691.2h0M287.4 687.9h0M282.2 699.4h0M284.1 685.4h0M283.6 706.5h0M305.3 695.9h0M292.8 706.0h0M281.5 689.0h0M307.0 690.1h0M308.7 703.9h0M311.0 687.5h0M300.6 685.4h0M283.7 707.9h0M294.3 702.1h0M303.1 701.9h0M313.0 703.1h0M301.7 686.6h0M281.4 700.3h0M305.7 694.7h0M280.5 693.0h0M287.5 705.9h0M296.2 700.5h0M293.3 704.0h0M306.3 693.5h0M299.2 681.7h0M305.2 690.1h0M296.6 708.3h0M293.4 709.1h0M296.5 687.3h0M290.9 692.3h0M297.2 690.3h0M302.3 685.9h0M312.4 691.9h0M298.9 690.3h0M295.5 683.1h0M308.5 684.6h0M284.3 691.7h0M311.1 703.7h0M311.6 703.0h0M299.9 709.1h0M314.1 703.1h0M283.7 705.4h0M306.7 716.4h0M316.6 714.6h0M298.1 707.9h0M297.9 712.5h0M318.0 704.3h0M306.8 715.9h0M319.2 711.4h0M290.6 706.3h0M305.9 711.2h0M279.1 703.7h0M296.9 709.2h0M305.7 713.4h0M302.6 704.6h0M289.1 702.9h0M298.0 702.5h0M318.1 704.4h0M297.1 696.0h0M301.4 703.0h0M294.6 695.2h0M287.6 715.4h0M290.6 709.2h0M300.8 696.2h0M295.5 711.9h0M291.4 707.1h0M293.0 705.2h0M301.2 708.3h0M312.3 710.3h0M297.4 716.9h0M290.3 701.8h0M290.5 712.8h0M291.2 711.4h0M306.6 711.7h0M285.2 713.3h0M294.0 713.0h0M295.9 701.1h0M313.5 708.8h0M313.0 715.6h0M314.0 707.9h0M309.1 710.0h0M316.0 698.4h0M317.8 703.8h0M294.8 701.4h0M315.7 703.7h0M292.7 717.6h0M297.4 705.3h0M308.5 705.0h0M295.8 698.2h0M308.5 700.9h0M292.5 711.5h0M303.3 706.9h0M296.1 696.5h0M296.2 714.1h0M291.2 703.9h0M288.7 698.9h0M310.6 705.3h0M318.4 703.3h0M311.8 714.9h0M292.1 710.3h0M314.4 709.7h0M286.0 702.2h0M286.7 711.8h0M293.6 709.9h0M297.4 713.6h0M292.7 699.9h0M303.5 705.5h0M304.7 691.0h0M305.2 700.3h0M316.2 696.4h0M301.5 676.9h0M279.7 685.2h0M298.7 698.3h0M302.4 687.3h0M300.6 678.3h0M310.9 681.5h0M297.2 704.3h0M281.9 699.1h0M293.8 682.2h0M308.4 708.9h0M288.7 690.1h0M293.8 682.6h0M304.9 694.9h0M302.2 678.3h0M287.7 698.4h0M330.4 684.6h0M325.1 685.6h0M326.6 677.1h0M318.5 680.1h0M314.5 676.8h0M315.0 685.1h0M326.8 672.7h0M342.4 675.6h0M348.3 682.6h0M319.6 677.2h0M319.4 689.3h0M325.9 677.7h0M331.4 679.7h0M327.5 682.2h0M325.8 668.3h0M343.6 672.8h0M316.0 676.5h0M343.5 680.3h0M340.3 675.9h0M341.1 676.5h0M319.0 674.9h0M340.3 671.1h0M308.5 684.5h0M324.0 687.5h0M344.5 667.9h0M323.9 671.5h0M322.4 679.1h0M305.7 679.2h0M319.1 680.0h0M340.5 668.6h0M312.4 685.1h0M309.6 678.8h0M333.5 673.1h0M324.8 680.3h0M343.2 674.1h0M344.7 669.8h0M316.1 672.4h0M329.4 678.2h0M317.6 679.0h0M340.6 679.9h0M314.5 680.6h0M326.3 677.6h0M308.6 678.7h0M320.9 674.2h0M310.1 679.9h0M319.5 682.6h0M330.3 683.0h0M335.2 682.4h0M343.9 675.9h0M315.1 688.2h0M313.0 673.7h0M333.6 680.6h0M344.1 680.3h0M316.1 677.0h0M330.3 683.0h0M336.3 668.4h0M345.5 674.2h0M317.5 675.7h0M318.7 672.0h0M351.8 677.9h0M332.1 673.3h0M311.8 682.5h0M349.3 670.5h0M342.5 682.3h0M305.8 678.0h0M323.0 670.3h0M348.9 674.8h0M329.4 680.3h0M345.5 677.1h0M308.2 682.3h0M312.2 678.8h0M313.4 681.1h0M338.9 668.7h0M344.8 682.4h0M344.9 671.7h0M317.5 684.8h0M307.0 677.8h0M330.5 680.9h0M317.2 681.1h0M337.6 671.9h0M337.9 680.5h0M326.4 677.1h0M346.9 668.9h0M316.5 678.0h0M339.5 682.0h0M333.0 680.6h0M328.1 683.7h0M341.8 682.0h0M315.8 672.7h0M323.7 677.0h0M324.1 683.7h0M338.0 669.2h0M342.5 668.7h0M344.5 682.3h0M323.6 682.3h0M342.4 679.0h0M318.3 682.3h0M309.9 676.4h0M312.4 676.5h0M344.2 671.1h0M342.0 673.1h0M341.4 681.8h0M334.9 685.4h0M333.6 671.5h0M337.1 679.6h0M325.3 671.4h0M334.9 673.1h0M337.7 685.4h0M322.0 675.0h0M330.8 671.0h0M349.9 670.1h0M349.0 671.0h0M309.9 678.2h0M328.8 679.1h0M306.8 678.8h0M333.5 669.3h0M349.8 674.3h0M326.4 672.6h0M332.4 670.5h0M308.0 681.9h0M342.3 668.8h0M309.3 673.5h0M347.9 667.8h0M311.8 683.2h0M306.7 681.7h0M337.7 665.5h0M340.9 681.1h0M320.6 670.9h0M329.8 675.7h0M329.8 669.3h0M339.0 674.5h0M343.9 673.0h0M316.5 680.0h0M325.3 676.1h0M322.5 689.2h0M334.3 683.7h0M318.2 685.2h0M318.9 687.3h0M337.4 673.4h0M336.0 673.8h0M348.2 679.4h0M343.6 677.8h0M346.4 670.5h0M319.9 680.2h0M338.1 672.4h0M339.0 668.9h0M325.1 680.6h0M331.7 685.4h0M320.0 684.4h0M326.7 682.7h0M319.4 686.0h0M332.2 678.8h0M336.8 673.7h0M308.8 674.7h0M344.8 677.0h0M343.8 678.4h0M315.6 671.0h0M320.9 680.8h0M316.3 671.5h0M357.0 689.5h0M359.3 685.3h0M358.4 680.1h0M365.7 685.9h0M369.2 680.8h0M369.0 685.8h0M363.8 679.1h0M353.5 668.6h0M358.5 682.3h0M365.9 681.2h0M369.2 688.2h0M350.6 673.9h0M359.5 671.8h0M358.5 685.6h0M359.9 669.1h0M357.2 680.5h0M366.1 678.5h0M352.1 679.1h0M355.5 684.6h0M371.4 682.9h0M367.7 674.3h0M353.0 680.7h0M364.4 674.5h0M367.2 688.6h0M368.8 673.5h0M369.9 687.0h0M369.4 672.3h0M358.5 689.2h0M359.8 686.8h0M363.9 675.4h0M356.9 668.3h0M362.1 675.3h0M351.7 672.6h0M367.5 672.8h0M357.8 671.9h0M360.8 687.8h0M368.8 676.2h0M350.8 674.8h0M360.3 689.1h0M369.8 679.0h0M359.4 685.0h0M372.0 679.6h0M358.6 683.9h0M360.5 687.3h0M359.6 682.7h0M371.6 686.7h0M351.0 670.4h0M353.5 669.2h0M366.9 684.7h0M359.3 672.3h0M364.9 689.7h0M348.2 669.5h0M359.7 676.8h0M356.9 671.9h0M364.0 678.1h0M367.5 683.7h0M375.2 686.7h0M373.8 681.9h0M358.7 682.2h0M374.8 680.8h0M358.4 684.0h0M369.0 673.2h0M360.1 688.8h0M349.7 680.7h0M362.2 683.2h0M363.1 688.5h0M358.7 678.1h0M355.1 675.6h0M352.3 686.0h0M351.4 670.9h0M358.9 680.8h0M358.6 689.8h0M349.0 671.6h0M363.1 675.4h0M369.6 679.9h0M366.9 688.2h0M350.3 672.2h0M371.6 684.9h0M374.8 680.5h0M373.3 682.2h0M362.5 674.8h0M357.6 671.8h0M356.7 670.9h0M365.4 689.0h0M351.8 671.0h0M361.6 689.3h0M362.9 685.5h0M355.3 676.4h0M360.2 681.1h0M358.9 674.6h0M364.1 688.3h0M360.1 678.2h0M352.4 671.8h0M366.2 672.6h0M352.1 678.3h0M350.9 673.9h0M361.5 681.3h0M360.4 676.8h0M359.7 677.2h0M357.6 679.5h0M366.5 671.7h0M363.8 688.8h0M371.7 686.3h0M362.9 686.2h0M365.3 680.3h0M360.3 683.1h0M354.5 683.8h0M357.2 673.9h0M360.4 673.4h0M361.2 684.2h0M362.0 688.4h0M350.2 675.8h0M375.6 685.1h0M355.9 679.1h0M361.0 687.5h0M361.2 671.1h0M361.2 686.7h0M360.5 675.5h0M357.1 679.8h0M359.9 671.3h0M370.3 682.4h0M367.8 670.2h0M366.0 688.0h0M367.5 677.7h0M360.9 686.1h0M364.1 673.3h0M350.9 681.3h0M364.5 683.1h0M374.6 681.0h0M351.4 677.5h0M357.7 683.8h0M355.1 673.0h0M361.0 688.5h0M351.3 675.1h0M362.2 682.0h0M369.9 673.0h0M355.5 682.7h0M360.8 690.4h0M362.8 680.2h0M365.5 673.2h0M367.3 686.6h0M367.5 678.4h0M368.8 677.3h0M365.1 672.7h0M363.6 684.2h0M350.4 678.1h0M373.4 681.3h0M367.0 677.3h0M354.3 674.4h0M358.1 672.5h0M359.4 670.7h0M354.5 675.1h0M364.4 678.4h0M361.5 675.0h0M356.4 689.4h0M369.5 678.4h0M356.0 666.4h0M373.2 688.4h0M359.6 682.2h0M360.0 680.8h0M358.1 682.3h0M360.2 688.7h0M348.7 671.6h0M354.5 666.5h0M360.6 688.2h0M352.0 672.2h0M354.2 672.3h0M360.6 674.1h0M361.2 680.4h0M353.3 667.3h0M351.1 675.4h0M376.0 681.5h0M355.5 672.6h0M358.4 682.4h0M359.9 680.1h0M361.3 681.3h0M355.3 685.8h0M357.6 679.9h0M369.8 681.8h0M369.1 684.7h0M361.2 673.1h0M367.3 687.9h0M368.1 685.3h0M374.6 680.7h0M350.1 678.6h0M350.6 674.9h0M374.6 687.2h0M364.2 685.8h0M371.2 685.0h0M371.5 690.4h0M362.1 689.5h0M373.5 685.6h0M361.9 675.9h0M368.7 676.5h0M375.4 684.0h0M370.3 683.1h0M366.2 673.3h0M356.5 683.0h0M351.2 670.6h0M368.8 678.8h0M365.2 685.0h0M365.7 680.8h0M357.4 673.3h0M362.9 686.6h0M352.2 668.9h0M352.0 675.2h0M354.0 678.5h0M358.4 679.2h0M362.5 672.0h0M359.6 678.0h0M362.1 687.7h0M358.4 674.0h0M366.8 673.8h0M373.4 683.9h0M366.3 672.8h0M357.9 680.9h0M354.4 682.4h0M360.5 680.9h0M365.0 678.5h0M354.2 687.4h0M362.4 690.7h0M349.3 671.1h0M349.8 678.1h0M369.7 680.3h0M352.1 674.7h0M357.7 685.8h0M363.2 670.9h0M368.2 688.4h0M359.8 676.8h0M357.4 682.4h0M350.0 678.0h0M372.5 680.2h0M358.3 672.3h0M353.0 675.7h0M351.2 680.3h0M374.1 683.3h0M364.7 687.6h0M362.1 673.8h0M354.1 684.1h0M366.2 679.7h0M364.4 673.3h0M372.5 677.4h0M355.3 677.3h0M354.2 678.8h0M351.2 672.9h0M366.1 683.4h0M357.0 683.8h0M360.1 685.9h0M352.3 671.9h0M354.3 676.4h0M387.4 688.9h0M387.2 713.1h0M363.1 693.7h0M389.6 688.6h0M391.3 689.3h0M390.5 697.7h0M361.3 692.5h0M396.5 702.1h0M397.6 688.9h0M391.9 711.9h0M397.3 697.0h0M395.0 704.5h0M396.9 698.2h0M381.5 701.4h0M396.1 696.2h0M392.0 706.9h0M370.0 702.3h0M389.5 710.6h0M369.8 692.4h0M364.1 696.9h0M380.0 694.8h0M389.1 690.5h0M372.4 693.7h0M391.9 703.2h0M396.9 706.8h0M377.5 697.6h0M372.6 691.6h0M389.0 704.9h0M364.9 693.6h0M396.4 690.0h0M395.8 695.3h0M389.3 707.3h0M387.4 711.7h0M383.5 696.5h0M372.3 698.5h0M391.2 710.0h0M369.3 695.1h0M375.0 696.5h0M395.4 694.4h0M394.9 693.8h0M373.6 698.7h0M400.0 695.2h0M387.7 689.3h0M378.4 693.2h0M368.3 693.8h0M370.6 696.5h0M367.0 699.3h0M375.4 688.8h0M392.8 688.2h0M390.1 688.6h0M380.2 692.1h0M388.0 697.1h0M395.1 694.9h0M375.8 685.5h0M366.0 691.6h0M388.2 713.5h0M373.3 702.2h0M373.9 697.2h0M381.1 692.7h0M397.2 687.7h0M402.6 690.2h0M389.8 707.2h0M378.8 701.0h0M376.0 700.2h0M392.2 691.7h0M394.1 692.3h0M386.0 700.6h0M381.8 694.2h0M383.3 689.4h0M389.1 694.7h0M388.7 692.2h0M393.3 702.4h0M370.2 696.9h0M386.8 694.1h0M391.7 699.2h0M364.2 692.2h0M393.0 711.2h0M382.9 696.5h0M369.4 686.8h0M391.2 696.3h0M390.7 711.7h0M389.0 691.4h0M394.5 706.9h0M394.5 695.9h0M362.6 692.3h0M392.2 703.0h0M362.4 692.6h0M385.6 691.8h0M387.7 707.5h0M383.4 702.9h0M392.9 684.8h0M362.4 696.7h0M378.2 695.0h0M389.4 704.3h0M385.9 694.5h0M391.3 688.2h0M381.3 688.6h0M370.5 690.3h0M383.5 690.8h0M383.1 689.5h0M394.8 699.4h0M394.5 702.2h0M394.1 694.7h0M385.1 696.4h0M374.7 700.5h0M374.4 699.0h0M400.2 695.0h0M397.7 692.5h0M387.2 688.9h0M370.7 696.3h0M363.5 697.8h0M389.2 700.6h0M370.7 701.5h0M395.2 703.6h0M400.0 692.7h0M396.7 703.4h0M365.8 690.6h0M367.0 691.6h0M393.2 686.5h0M370.0 698.6h0M369.8 697.3h0M376.3 689.6h0M374.6 696.0h0M362.7 694.1h0M390.8 701.1h0M371.8 698.2h0M389.4 700.7h0M386.8 694.1h0M380.4 695.1h0M394.6 705.3h0M379.8 700.5h0M365.3 688.9h0M388.0 688.4h0M399.6 689.2h0M371.6 696.4h0M392.6 705.0h0M379.6 701.0h0M366.6 697.8h0M364.4 696.4h0M394.5 689.9h0M368.1 691.9h0M398.2 690.9h0M386.1 707.1h0M394.0 708.3h0M375.5 693.1h0M392.8 705.5h0M367.2 695.0h0M393.4 714.9h0M387.4 695.5h0M395.2 711.8h0M375.2 700.5h0M400.6 690.6h0M393.1 705.1h0M390.9 690.9h0M370.4 701.2h0M387.2 703.0h0M395.7 696.6h0M368.4 701.7h0M387.9 697.3h0M394.2 702.4h0M378.8 700.4h0M379.3 698.8h0M385.8 693.9h0M386.3 697.8h0M364.5 695.4h0M380.7 687.6h0M387.3 686.4h0M366.4 692.3h0M379.2 697.2h0M375.0 686.7h0M394.0 706.0h0M400.7 690.4h0M384.3 695.6h0M381.0 688.7h0M376.1 695.8h0M391.5 699.6h0M372.7 698.4h0M390.2 693.7h0M384.9 702.0h0M392.6 702.9h0M376.3 691.9h0M386.0 701.3h0M391.4 706.2h0M388.1 704.7h0M386.3 693.8h0M363.7 691.7h0M365.3 691.1h0M372.9 690.4h0M388.1 711.2h0M388.3 700.9h0M371.3 692.2h0M396.5 691.2h0M391.5 691.3h0M393.7 713.4h0M368.3 698.8h0M401.3 693.0h0M393.5 688.0h0M378.6 694.2h0M378.7 690.6h0M382.4 702.7h0M396.2 696.1h0M393.4 695.4h0M364.9 695.1h0M383.8 692.3h0M374.1 702.4h0M397.3 698.2h0M376.7 697.4h0M401.9 693.1h0M363.9 694.9h0M395.0 698.5h0M389.8 704.5h0M389.6 714.7h0M370.8 692.5h0M392.1 708.0h0M398.9 690.6h0M382.5 703.9h0M398.0 700.5h0M400.1 689.1h0M376.5 688.7h0M387.9 694.9h0M393.3 699.7h0M380.8 703.8h0M366.9 698.1h0M391.8 688.5h0M388.0 703.6h0M372.2 691.3h0M390.0 694.9h0M397.8 694.2h0M374.7 700.6h0M398.9 695.4h0M376.7 693.2h0M396.3 691.8h0M396.0 689.9h0M368.8 697.3h0M386.7 697.3h0M372.9 688.7h0M379.3 695.7h0M391.7 694.7h0M390.5 703.1h0M381.6 695.6h0M370.9 690.1h0M372.5 687.3h0M395.0 700.1h0M376.9 690.6h0M385.7 687.2h0M396.0 692.6h0M366.2 697.9h0M366.1 693.7h0M377.9 686.6h0M398.8 688.7h0M399.1 690.1h0M378.3 695.5h0M379.6 692.2h0M380.5 700.1h0M391.9 706.2h0M389.8 693.4h0M388.0 702.4h0M394.6 689.1h0M366.4 694.8h0M362.0 692.8h0M378.1 690.9h0M392.1 703.8h0M384.6 703.1h0M386.6 689.0h0M392.0 693.7h0M372.0 691.4h0M394.0 704.4h0M381.6 694.4h0M397.3 692.6h0M379.5 685.5h0M400.3 689.3h0M374.1 697.3h0M363.4 692.3h0M388.2 704.1h0M384.9 695.7h0M397.2 697.7h0M385.5 688.4h0M374.4 698.7h0M392.7 697.8h0M376.7 701.6h0M396.0 703.6h0M377.2 697.5h0M387.9 694.0h0M377.2 697.2h0M380.5 687.1h0M380.4 696.5h0M390.2 711.9h0M381.4 695.0h0M368.9 692.7h0M395.2 701.0h0M395.1 697.8h0M388.3 699.0h0M386.6 707.1h0M397.4 692.3h0M372.0 695.3h0M389.9 687.8h0M396.4 698.2h0M384.9 697.1h0M392.2 691.2h0M395.7 691.9h0M380.9 692.6h0M388.7 694.7h0M395.7 687.9h0M401.2 689.0h0M390.1 700.7h0M390.5 715.0h0M402.0 694.3h0M382.3 693.9h0M365.0 697.0h0M385.7 692.9h0M382.4 701.2h0M389.1 686.9h0M380.6 693.4h0M399.2 691.8h0M387.0 693.0h0M388.1 707.6h0M383.5 687.2h0M396.3 690.2h0M372.6 692.6h0M383.7 701.2h0M399.9 694.9h0M374.5 694.9h0M369.3 694.2h0M388.4 706.2h0M392.0 698.7h0M387.4 714.8h0M395.5 688.4h0M383.3 689.3h0M376.4 702.5h0M371.0 689.4h0M385.9 701.1h0M398.3 698.8h0M382.1 701.2h0M382.0 696.2h0M393.4 702.0h0M371.2 697.5h0M387.2 707.3h0M392.4 711.6h0M379.6 686.4h0M384.4 688.1h0M389.6 707.5h0M375.7 694.8h0M393.5 704.2h0M376.7 688.0h0M386.6 693.9h0M377.4 691.9h0M399.3 697.4h0M400.1 689.2h0M384.4 696.9h0M390.3 705.0h0M369.1 691.0h0M380.3 695.4h0M399.9 689.1h0M363.7 696.6h0M374.6 701.8h0M391.4 697.6h0M367.7 697.7h0M380.1 693.7h0M371.3 690.9h0M392.9 687.0h0M374.7 692.6h0M396.3 699.5h0M386.5 701.8h0M389.6 686.3h0M390.8 714.6h0M386.6 702.6h0M390.7 709.0h0M391.5 703.7h0M372.0 688.0h0M370.0 687.4h0M390.3 695.2h0M393.1 693.2h0M390.3 704.9h0M398.2 690.7h0M382.5 700.9h0M388.1 689.2h0M387.4 691.1h0M381.8 689.0h0M394.8 710.3h0M393.4 696.3h0M388.6 715.3h0M403.2 692.1h0M388.9 688.3h0M366.8 699.9h0M370.5 700.7h0M378.7 697.7h0M364.8 698.3h0M385.1 688.0h0M370.1 688.5h0M393.0 700.4h0M389.2 711.1h0M393.6 695.3h0M382.3 701.9h0M379.8 702.8h0M370.6 699.6h0M378.6 688.3h0M383.4 697.1h0M369.5 696.0h0M390.4 702.0h0M389.1 701.4h0M393.8 701.1h0M397.3 694.3h0M389.4 700.0h0M377.1 698.0h0M379.2 703.5h0M373.3 691.5h0M387.0 700.3h0M381.4 690.7h0M401.3 692.6h0M369.2 694.7h0M380.7 686.6h0M371.3 696.5h0M389.6 696.2h0M392.9 711.0h0M377.1 692.5h0M395.8 688.3h0M386.4 696.3h0M368.0 696.5h0M398.6 687.3h0M387.3 691.4h0M390.7 708.2h0M355.0 695.0h0M345.9 686.9h0M349.6 684.3h0M356.5 697.2h0M329.7 701.7h0M345.2 704.7h0M337.2 693.1h0M344.8 696.5h0M340.0 700.4h0M334.6 690.5h0M330.7 703.6h0M332.3 696.4h0M331.0 693.7h0M339.4 690.4h0M347.6 684.2h0M341.8 688.5h0M337.3 708.2h0M352.5 699.0h0M332.8 703.0h0M347.1 704.2h0M327.1 703.4h0M333.7 694.6h0M328.2 701.7h0M337.1 699.8h0M342.6 692.8h0M342.5 695.1h0M336.8 693.7h0M324.8 694.8h0M345.3 703.1h0M328.4 705.5h0M354.4 688.1h0M338.1 689.8h0M347.8 686.7h0M336.9 707.3h0M337.9 700.2h0M335.7 697.4h0M348.2 702.4h0M351.7 691.0h0M347.3 696.4h0M343.2 688.0h0M322.2 705.0h0M322.6 695.6h0M341.8 700.4h0M344.8 688.3h0M351.5 696.0h0M354.5 689.5h0M340.5 705.4h0M352.2 704.6h0M338.4 696.7h0M322.2 701.9h0M351.2 686.3h0M347.6 696.3h0M346.6 700.1h0M350.2 694.4h0M342.4 704.5h0M342.5 689.0h0M329.0 698.9h0M328.6 694.0h0M331.4 694.5h0M329.6 698.1h0M344.8 692.5h0M343.9 693.1h0M337.9 692.9h0M335.8 700.4h0M353.5 701.6h0M331.2 703.2h0M352.0 693.5h0M335.1 694.7h0M355.6 694.2h0M336.0 697.3h0M325.5 702.4h0M349.3 689.6h0M348.2 693.4h0M351.7 692.9h0M362.9 687.6h0M351.4 683.3h0M360.1 702.3h0M361.0 702.7h0M350.4 709.7h0M358.5 703.4h0M339.8 712.5h0M334.0 697.5h0M362.9 700.9h0M362.2 699.1h0M330.6 715.0h0M343.6 715.7h0M329.0 696.9h0M344.0 683.4h0M349.4 697.5h0M348.5 692.1h0M369.9 690.6h0M360.1 692.4h0M323.1 696.7h0M325.4 708.9h0M331.1 707.0h0M334.3 690.7h0M317.3 685.9h0M315.9 699.3h0M365.2 703.3h0M337.9 699.4h0M336.9 703.9h0M325.9 724.0h0M337.4 715.2h0M343.3 708.5h0M359.0 706.9h0M334.0 720.1h0M351.0 694.9h0M362.1 699.4h0M340.7 700.0h0M333.8 692.4h0M329.7 691.1h0M364.2 686.6h0M316.6 704.7h0M323.2 701.1h0M362.8 687.9h0M345.0 684.1h0M363.5 692.7h0M356.6 685.5h0M326.8 725.4h0M347.5 707.9h0M326.3 713.0h0M327.2 695.7h0M341.6 704.6h0M332.3 715.3h0M330.1 696.9h0M364.4 701.8h0M340.6 717.8h0M366.5 689.5h0M327.1 718.4h0M314.5 723.7h0M350.8 701.8h0M321.1 716.0h0M342.3 713.5h0M318.2 708.9h0M331.9 701.9h0M334.8 707.9h0M327.1 726.4h0M294.9 762.0h0M294.9 762.3h0M291.3 766.6h0M295.1 764.0h0M294.8 765.0h0M293.4 762.6h0M292.3 762.7h0M292.8 767.0h0M295.0 761.1h0M292.8 760.5h0M293.3 766.7h0M296.3 761.9h0M294.3 762.7h0M292.6 766.3h0M380.2 712.7h0M370.6 717.4h0M370.6 717.8h0M368.0 716.7h0M377.8 712.2h0M372.9 714.9h0M375.8 713.1h0M377.5 712.8h0M385.1 708.0h0M372.7 718.1h0M363.4 721.2h0M381.9 706.9h0M375.1 713.4h0M376.8 711.8h0M370.7 712.5h0M384.9 711.1h0M362.1 722.8h0M375.4 712.3h0M371.6 713.6h0M372.6 712.8h0M368.8 717.1h0M385.5 708.2h0M370.5 718.7h0M375.2 712.9h0M371.6 713.7h0M377.9 708.1h0M365.5 718.9h0M366.2 719.0h0M364.0 720.6h0M368.8 721.8h0M360.6 718.2h0M365.9 715.2h0M378.7 705.6h0M369.5 717.8h0M375.1 714.5h0M377.5 713.6h0M383.9 711.4h0M365.2 722.5h0M384.0 708.1h0M383.9 705.4h0M373.7 713.4h0M361.2 722.5h0M375.7 717.4h0M375.3 719.5h0M374.9 711.3h0M375.0 712.7h0M374.5 710.7h0M376.2 713.6h0M374.9 706.5h0M376.6 721.5h0M375.9 708.6h0M375.1 713.4h0M375.5 716.1h0M372.3 723.3h0M375.4 716.8h0M373.4 713.6h0M378.0 717.1h0M373.1 712.1h0M374.6 707.8h0M374.2 708.1h0M371.2 710.7h0M374.8 719.0h0M375.5 715.8h0M373.2 717.6h0M374.2 719.5h0M374.8 715.7h0M374.0 712.6h0M373.3 709.9h0M364.6 722.8h0M362.0 725.3h0M384.2 725.9h0M373.6 730.5h0M361.9 727.3h0M366.6 714.5h0M369.4 711.8h0M371.7 723.0h0M375.4 716.2h0M371.0 728.0h0M364.4 710.9h0M369.0 717.3h0M363.8 725.7h0M382.8 735.7h0M390.3 735.7h0M380.6 735.4h0M390.6 752.7h0M384.6 723.4h0M381.5 747.2h0M396.2 745.4h0M396.3 727.7h0M391.8 735.6h0M386.5 737.9h0M384.2 722.3h0M397.4 742.9h0M395.7 746.2h0M391.9 724.1h0M381.4 720.8h0M390.0 720.3h0M390.2 730.3h0M395.8 740.1h0M383.4 728.9h0M385.3 714.7h0M389.5 748.4h0M396.3 741.2h0M390.4 731.7h0M386.3 753.2h0M384.5 743.9h0M387.1 727.7h0M384.8 718.9h0M385.5 720.6h0M394.9 744.2h0M382.0 746.9h0M383.1 730.4h0M385.4 726.4h0M379.5 744.6h0M386.4 726.5h0M391.9 743.7h0M386.7 744.7h0M387.4 727.0h0M381.0 750.9h0M383.3 733.6h0M394.7 738.1h0M386.5 712.3h0M399.0 738.9h0M388.7 733.6h0M386.0 752.0h0M387.2 719.0h0M395.0 746.7h0M389.3 716.3h0M384.7 731.2h0M391.6 734.8h0M393.9 723.8h0M388.4 742.6h0M387.4 723.6h0M390.1 755.5h0M388.9 724.9h0M387.7 746.2h0M391.5 739.1h0M378.7 743.6h0M392.8 731.3h0M389.4 726.4h0M383.3 738.7h0M390.2 749.2h0M387.8 737.9h0M391.9 720.9h0M384.2 711.8h0M382.6 733.7h0M385.0 751.3h0M390.0 732.1h0M393.5 739.0h0M383.5 723.2h0M386.2 729.8h0M379.9 747.8h0M388.8 738.0h0M384.3 723.9h0M381.1 741.6h0M382.9 743.4h0M389.3 747.5h0M394.1 744.4h0M386.4 754.1h0M390.4 724.1h0M383.5 751.6h0M381.6 738.9h0M388.3 729.9h0M385.4 749.4h0M385.0 718.9h0M385.2 737.6h0M392.5 726.3h0M381.0 717.6h0M389.0 731.6h0M387.0 717.7h0M386.0 725.2h0M389.3 747.9h0M395.7 746.8h0M386.7 717.7h0M391.1 742.2h0M398.4 738.1h0M383.4 742.2h0M387.7 734.3h0M391.7 753.7h0M388.7 734.8h0M387.0 745.3h0M391.9 722.0h0M389.4 737.0h0M392.8 725.5h0M391.9 735.9h0M382.8 723.9h0M386.0 734.9h0M387.6 732.6h0M390.7 739.2h0M387.8 753.7h0M384.3 738.8h0M395.9 727.6h0M380.7 736.2h0M381.2 742.7h0M395.0 730.5h0M396.3 728.7h0M382.7 721.7h0M385.1 740.9h0M385.9 748.4h0M395.9 729.2h0M380.8 750.6h0M387.5 726.6h0M387.9 754.6h0M395.5 739.3h0M384.0 729.0h0M391.2 723.2h0M383.0 748.8h0M391.7 744.4h0M386.8 717.9h0M390.3 721.9h0M386.2 716.2h0M393.0 735.9h0M388.1 734.2h0M387.7 746.8h0M390.1 720.7h0M393.6 740.7h0M393.6 724.0h0M389.8 730.2h0M393.4 720.9h0M383.5 726.9h0M382.6 720.8h0M384.1 751.2h0M381.7 714.7h0M395.3 742.8h0M396.1 744.8h0M386.7 730.8h0M385.9 744.1h0M389.6 742.6h0M381.5 734.0h0M389.3 742.6h0M382.5 728.2h0M394.2 730.3h0M379.4 744.1h0M387.5 730.4h0M384.7 712.9h0M394.4 742.2h0M384.8 723.9h0M396.3 736.4h0M391.1 751.5h0M384.9 720.5h0M390.2 744.6h0M383.4 722.1h0M385.4 738.2h0M390.4 739.8h0M385.2 720.9h0M383.7 749.0h0M383.1 717.6h0M382.9 735.0h0M383.7 717.2h0M383.0 742.7h0M387.2 755.7h0M387.3 737.1h0M388.7 726.9h0M389.3 752.4h0M395.0 724.6h0M388.1 723.1h0M380.9 743.8h0M389.3 747.2h0M384.5 717.2h0M392.9 726.9h0M384.4 744.7h0M384.3 748.5h0M382.7 716.0h0M385.0 726.8h0M383.5 740.2h0M385.4 718.6h0M386.4 734.5h0M389.1 752.5h0M383.7 715.3h0M390.8 721.9h0M387.9 736.9h0M388.9 713.4h0M382.5 749.2h0M390.9 739.0h0M389.4 723.2h0M382.9 738.4h0M389.6 751.4h0M385.8 746.5h0M390.3 737.1h0M393.5 731.4h0M390.9 726.0h0M383.0 745.8h0M382.3 722.3h0M395.8 731.9h0M381.3 742.1h0M382.3 752.7h0M389.8 751.5h0M380.8 741.3h0M382.6 732.8h0M397.0 732.5h0M387.5 732.9h0M385.6 753.2h0M387.8 718.7h0M386.3 714.8h0M383.7 731.5h0M386.5 727.0h0M392.1 728.9h0M389.6 749.2h0M382.3 745.3h0M389.4 749.7h0M381.3 745.9h0M395.9 742.5h0M390.5 724.4h0M391.7 751.3h0M384.9 718.7h0M392.0 755.3h0M382.7 736.9h0M390.3 748.1h0M388.4 746.0h0M384.7 716.3h0M383.4 730.3h0M389.1 739.6h0M389.4 723.9h0M391.7 721.2h0M383.2 728.6h0M391.5 747.0h0M383.4 737.5h0M384.9 739.2h0M388.4 735.3h0M380.7 729.7h0M392.9 740.3h0M391.2 726.1h0M390.4 742.5h0M385.2 714.7h0M396.5 736.8h0M387.2 739.8h0M385.7 730.9h0M384.9 754.6h0M389.7 734.7h0M389.4 752.9h0M379.9 748.2h0M386.6 722.0h0M391.0 746.7h0M389.3 720.6h0M387.4 715.4h0M394.9 746.7h0M387.5 750.4h0M382.2 745.5h0M395.9 733.5h0M385.2 732.2h0M381.8 747.5h0M392.7 718.0h0M389.7 731.3h0M390.2 732.3h0M393.9 742.9h0M386.3 712.2h0M387.2 732.6h0M386.3 746.6h0M391.5 751.4h0M384.1 743.6h0M392.6 734.8h0M383.0 752.5h0M380.5 738.4h0M384.7 740.8h0M383.3 714.0h0M381.4 747.0h0M384.9 713.0h0M390.7 735.7h0M388.9 737.1h0M393.9 739.0h0M385.9 743.5h0M392.9 742.9h0M392.1 723.7h0M382.6 730.2h0M388.3 741.1h0M384.3 734.1h0M397.3 733.2h0M383.6 735.5h0M391.5 748.3h0M388.4 718.0h0M385.6 714.9h0M385.3 726.4h0M394.1 749.8h0M386.0 731.9h0M384.7 726.5h0M382.9 735.9h0M386.5 741.9h0M392.6 742.6h0M391.6 725.5h0M382.3 750.6h0M383.8 736.4h0M391.1 750.7h0M392.0 743.5h0M395.2 743.4h0M391.0 719.2h0M386.0 755.0h0M394.4 729.3h0M385.6 729.7h0M374.1 746.0h0M380.6 748.2h0M377.4 744.8h0M373.9 740.1h0M380.2 747.6h0M371.4 742.0h0M378.5 744.9h0M366.4 735.9h0M376.5 749.4h0M378.7 749.3h0M368.3 737.6h0M370.0 733.8h0M374.6 743.4h0M378.7 747.3h0M375.5 741.7h0M370.8 736.2h0M369.4 734.2h0M368.9 735.2h0M378.2 746.0h0M377.4 746.2h0M375.0 743.4h0M384.7 756.0h0M393.2 758.2h0M387.6 752.3h0M388.9 756.7h0M380.4 755.0h0M380.4 755.7h0M381.3 756.2h0M389.8 759.1h0M381.2 757.6h0M385.7 758.4h0M384.1 754.0h0M386.0 757.2h0M390.8 758.0h0M393.1 753.8h0M388.7 755.7h0M393.6 753.6h0M393.1 755.7h0M385.3 751.4h0M382.2 756.2h0M392.9 758.3h0M393.4 754.5h0M381.6 758.2h0M383.6 755.5h0M392.1 754.0h0M394.4 756.8h0M391.2 754.7h0M379.4 758.1h0M388.4 753.1h0M384.0 758.3h0M387.6 758.8h0M390.9 755.5h0M380.3 755.3h0M394.3 754.4h0M381.8 758.2h0M391.6 754.9h0M381.1 759.2h0M386.2 754.5h0M384.9 752.5h0M387.5 759.4h0M390.1 758.2h0M391.7 758.6h0M381.7 755.7h0M383.9 757.5h0M395.6 753.6h0M382.2 756.5h0M382.7 755.8h0M389.9 756.1h0M388.1 754.3h0M378.9 755.5h0M378.9 757.4h0M382.1 758.8h0M387.6 755.0h0M389.6 758.5h0M388.9 759.5h0M388.6 759.2h0M380.5 755.7h0M391.1 756.5h0M393.4 752.9h0M383.6 755.5h0M392.6 759.1h0M394.1 754.7h0M382.1 759.8h0M388.2 752.7h0M393.8 755.9h0M385.2 758.8h0M391.9 753.8h0M387.4 754.1h0M387.5 755.1h0M391.7 757.4h0M384.0 753.4h0M387.8 754.7h0M379.0 757.1h0M388.9 758.9h0M384.2 760.6h0M391.9 756.2h0M386.1 759.8h0M390.6 756.7h0M385.8 757.8h0M387.7 757.9h0M385.4 756.9h0M385.4 755.5h0M383.2 757.0h0M383.8 759.8h0M388.8 752.2h0M388.0 759.6h0M384.4 757.6h0M388.7 757.1h0M385.9 754.9h0M394.2 756.7h0M385.7 755.5h0M393.9 753.7h0M391.3 753.8h0M388.3 755.3h0M380.3 754.3h0M393.5 753.1h0M394.7 753.7h0M284.3 740.5h0M285.1 731.8h0M292.8 736.6h0M300.3 728.7h0M276.8 725.2h0M283.5 740.2h0M282.5 743.3h0M282.1 737.9h0M277.2 733.4h0M287.1 740.5h0M285.5 727.7h0M286.5 721.6h0M283.0 742.2h0M297.2 732.6h0M294.0 731.6h0M293.8 735.6h0M294.4 734.2h0M284.9 737.5h0M281.8 741.7h0M297.6 730.2h0M288.1 722.8h0M275.6 733.7h0M286.1 726.9h0M284.9 743.7h0M281.3 742.1h0M287.1 728.5h0M289.8 723.2h0M293.1 729.8h0M276.6 731.6h0M293.8 727.9h0M279.5 735.6h0M286.3 733.7h0M298.0 727.1h0M285.9 715.8h0M288.2 726.2h0M280.9 733.0h0M296.4 728.8h0M287.6 744.9h0M295.5 724.8h0M296.5 723.9h0M284.8 716.7h0M292.7 730.7h0M297.9 735.8h0M274.9 732.6h0M300.0 737.2h0M283.9 750.4h0M297.9 751.6h0M286.7 760.7h0M293.1 744.8h0M295.3 766.2h0M281.0 765.8h0M284.8 746.3h0M270.8 751.6h0M282.8 742.3h0M293.9 761.1h0M284.9 774.9h0M296.2 754.3h0M281.7 769.1h0M271.4 765.7h0M272.2 765.2h0M295.4 764.1h0M292.3 771.6h0M285.0 770.1h0M279.6 766.2h0M283.6 753.8h0M291.1 762.5h0M292.2 751.6h0M294.6 762.5h0M279.1 757.9h0M280.2 772.2h0M289.6 760.6h0M297.1 751.2h0M278.5 752.2h0M269.7 758.2h0M278.0 750.0h0M290.9 772.2h0M270.4 753.4h0M295.2 750.8h0M296.3 754.8h0M268.4 745.2h0M275.5 761.5h0M280.7 759.4h0M269.8 750.1h0M297.2 757.2h0M280.8 762.3h0M274.8 742.0h0M275.6 771.9h0M297.5 750.9h0M288.3 758.5h0M290.1 758.8h0M287.2 751.9h0M279.8 772.8h0M273.1 761.8h0M283.5 772.7h0M288.5 744.7h0M290.8 767.6h0M298.6 752.7h0M279.8 761.1h0M280.4 746.1h0M293.2 767.1h0M290.0 771.4h0M296.4 751.4h0M294.0 745.7h0M296.3 761.3h0M270.7 745.0h0M274.7 752.8h0M284.5 754.1h0M276.0 743.9h0M283.0 756.3h0M286.7 768.5h0M277.0 746.9h0M278.3 757.9h0M290.1 770.6h0M276.0 742.4h0M274.9 756.1h0M275.6 765.2h0M289.9 761.1h0M281.9 745.3h0M298.1 754.6h0M278.1 753.7h0M271.9 750.5h0M273.2 761.8h0M286.3 742.7h0M298.0 752.4h0M289.9 757.7h0M294.6 766.8h0M279.1 758.9h0M272.4 742.8h0M291.2 764.8h0M282.3 746.6h0M287.2 745.4h0M281.9 757.8h0M293.5 756.8h0M275.5 767.3h0M285.2 753.3h0M283.0 755.2h0M285.3 749.8h0M296.1 759.7h0M295.2 768.9h0M277.4 765.4h0M291.7 751.5h0M289.8 756.8h0M278.8 758.7h0M283.0 757.9h0M282.6 750.2h0M272.3 750.1h0M273.1 744.7h0M295.0 747.7h0M275.8 768.6h0M269.8 765.3h0M287.1 760.1h0M288.9 758.9h0M282.4 771.9h0M290.6 769.3h0M277.7 773.7h0M271.0 762.1h0M270.2 752.4h0M294.6 763.3h0M275.0 764.5h0M277.8 750.8h0M286.8 747.7h0M267.6 761.7h0M286.6 772.1h0M289.2 771.2h0M269.5 764.9h0M276.9 766.9h0M274.8 756.9h0M277.3 765.3h0M277.9 758.5h0M292.2 763.3h0M296.2 759.8h0M286.3 745.3h0M269.0 760.4h0M294.4 750.7h0M272.6 762.9h0M271.3 760.1h0M270.1 762.0h0M340.1 736.4h0M334.8 730.7h0M332.6 733.6h0M338.0 733.4h0M323.9 734.2h0M327.4 734.7h0M321.5 736.0h0M338.5 737.6h0M327.0 734.3h0M326.5 732.6h0M338.6 731.0h0M336.3 736.1h0M339.5 735.8h0M321.1 735.0h0M322.6 737.2h0M339.5 735.8h0M316.1 736.9h0M333.4 737.7h0M333.2 729.1h0M333.7 736.5h0M330.2 734.8h0M314.7 735.6h0M341.3 734.4h0M317.3 735.2h0M317.8 735.1h0M335.8 729.3h0M338.4 733.8h0M329.4 730.5h0M333.1 733.8h0M340.5 737.5h0M328.7 732.7h0M338.3 736.6h0M341.7 736.8h0M327.0 733.3h0M339.8 737.4h0M331.6 733.9h0M333.4 734.4h0M320.0 736.1h0M337.4 734.0h0M344.5 735.6h0M333.9 733.2h0M343.5 733.3h0M337.2 736.7h0M330.2 732.8h0M330.7 730.5h0M328.7 735.7h0M328.4 733.0h0M335.8 735.8h0M335.1 736.3h0M330.0 732.2h0M344.4 733.2h0M339.6 736.5h0M342.2 732.2h0M337.7 733.0h0M333.4 729.6h0M316.2 736.1h0M337.0 730.2h0M326.5 737.0h0M325.5 732.3h0M330.6 734.9h0M317.7 735.8h0M329.4 735.8h0M330.3 735.0h0M318.1 736.1h0M328.3 730.9h0M335.6 732.9h0M325.3 732.2h0M325.7 736.4h0M332.4 732.9h0M344.9 735.7h0M319.9 736.4h0M324.6 733.1h0M343.8 733.5h0M334.3 733.3h0M335.2 732.6h0M336.3 733.5h0M343.8 735.5h0M344.0 734.2h0M313.0 722.1h0M313.8 726.0h0M310.7 723.3h0M307.1 717.0h0M313.1 723.1h0M316.6 725.6h0M308.4 718.2h0M304.7 716.4h0M312.7 722.5h0M312.2 721.5h0M312.3 720.5h0M311.4 720.8h0M314.7 724.1h0M322.8 721.0h0M322.8 726.5h0M315.7 738.4h0M324.4 719.4h0M314.1 726.3h0M327.7 735.8h0M321.4 748.0h0M315.2 753.4h0M322.0 746.9h0M319.1 752.6h0M319.2 758.5h0M326.6 753.3h0M318.1 750.5h0M327.1 754.2h0M320.9 755.9h0M318.5 757.4h0M324.4 748.8h0M316.0 758.7h0M326.2 752.4h0M325.1 749.3h0M318.5 756.4h0M321.1 759.5h0M323.1 749.4h0M322.6 755.2h0M317.3 748.3h0M317.2 754.2h0M317.4 758.8h0M324.4 756.1h0M316.5 757.4h0M324.1 756.9h0M322.1 749.2h0M323.9 749.4h0M323.9 753.7h0M319.6 753.3h0M318.4 756.8h0M316.4 758.3h0M319.7 756.4h0M318.9 758.9h0M319.0 749.4h0M325.5 748.5h0M314.6 761.5h0M311.0 758.5h0M314.7 748.0h0M304.7 755.3h0M313.0 755.9h0M314.6 766.6h0M310.8 750.0h0M317.3 767.4h0M312.0 762.5h0M314.6 767.0h0M312.0 759.7h0M313.9 750.5h0M317.7 766.2h0M303.6 758.2h0M313.4 757.5h0M313.6 755.0h0M310.6 749.2h0M310.7 762.5h0M310.0 778.5h0M307.5 779.0h0M314.7 796.1h0M323.1 795.3h0M308.7 785.6h0M307.3 780.6h0M314.5 793.4h0M313.4 788.7h0M310.8 782.0h0M311.7 789.7h0M310.4 789.8h0M306.0 785.5h0M320.5 793.1h0M307.1 774.9h0M307.4 777.2h0M318.6 791.4h0M317.3 790.2h0M306.4 776.1h0M310.1 783.7h0M307.7 776.4h0M309.3 786.4h0M309.7 779.3h0M310.5 775.2h0M315.5 784.9h0M304.5 777.6h0M314.7 784.3h0M311.2 782.5h0M310.6 776.4h0M324.7 794.7h0M310.4 777.3h0M306.4 785.1h0M314.1 791.6h0M316.7 784.6h0M306.3 782.1h0M307.2 775.4h0M306.8 774.5h0M322.0 795.1h0M309.9 775.7h0M309.2 787.0h0M309.3 779.7h0M322.2 792.5h0M303.3 774.4h0M317.5 790.2h0M304.9 779.5h0M314.1 781.5h0M308.5 784.3h0M306.7 771.6h0M307.9 781.7h0M303.6 777.8h0M309.6 779.9h0M314.3 786.6h0M317.8 786.7h0M319.8 785.8h0M309.5 784.3h0M312.8 793.9h0M315.4 783.3h0M322.2 794.5h0M316.8 797.4h0M309.6 773.8h0M310.1 784.0h0M311.3 754.0h0M314.5 752.0h0M311.8 772.4h0M313.9 750.1h0M307.8 755.8h0M300.6 753.9h0M309.5 750.0h0" stroke="#d3d3d3" stroke-width="3" stroke-linecap="round" fill="none"/>
<path d="M306.6 702.6h0M314.2 697.7h0M305.7 698.0h0M297.1 702.5h0M299.8 699.7h0M307.5 698.4h0M300.7 692.0h0M293.4 712.0h0M280.7 702.5h0M341.1 705.1h0M317.0 698.2h0M284.3 685.6h0M281.1 696.2h0M291.6 715.6h0M316.4 788.8h0M288.9 697.9h0M296.2 696.4h0M290.1 702.6h0M305.1 696.5h0M297.8 701.2h0M289.8 711.4h0M306.2 699.9h0M301.5 700.6h0M293.6 689.0h0M301.6 707.4h0M332.3 701.8h0M300.9 716.0h0M299.3 705.2h0M309.3 702.9h0M297.3 709.5h0M296.6 710.4h0M284.3 683.7h0M293.3 702.0h0M286.3 703.6h0M297.5 692.9h0M292.8 716.6h0M315.6 695.0h0M309.1 707.1h0M313.1 697.7h0M289.0 697.3h0M305.2 683.6h0M298.3 696.6h0M311.6 704.2h0M333.5 693.0h0M302.5 692.0h0M281.3 704.2h0M326.5 693.5h0M303.7 690.1h0M300.5 696.5h0M291.8 688.0h0M295.1 692.1h0M310.2 697.4h0M287.1 693.9h0M320.3 697.1h0M299.3 703.8h0M287.2 688.5h0M305.8 705.2h0M283.6 693.1h0M296.1 697.0h0M293.5 702.3h0M295.4 687.3h0M298.5 715.6h0M300.9 704.6h0M287.3 693.8h0M297.1 701.7h0M299.9 700.9h0M306.0 685.7h0M293.7 691.7h0M295.9 704.3h0M295.3 706.9h0M293.5 707.0h0M291.2 696.0h0M286.7 709.4h0M295.7 685.1h0M277.0 690.0h0M357.5 697.5h0M277.0 698.7h0M313.0 697.3h0M297.3 698.2h0M315.9 779.9h0M327.2 707.3h0M294.5 704.9h0M306.5 696.0h0M291.0 694.3h0M297.8 706.5h0M293.5 697.3h0M311.9 694.2h0M308.1 700.1h0M302.8 704.5h0M284.7 703.2h0M300.4 716.0h0M300.9 725.3h0M317.1 793.8h0M299.2 689.5h0M305.4 696.1h0M302.3 695.9h0M289.8 702.0h0M306.9 706.9h0M296.3 700.3h0M303.4 689.7h0M288.6 700.9h0M289.1 696.6h0M300.8 696.3h0M298.3 693.7h0M285.6 695.3h0M287.7 692.8h0M285.3 689.8h0M302.0 689.3h0M290.4 685.9h0M291.4 696.2h0M287.5 690.1h0M294.5 691.3h0M299.8 700.4h0M288.3 700.9h0M290.4 694.8h0M277.6 715.0h0M299.3 692.9h0M309.1 698.4h0M298.1 705.5h0M300.0 694.5h0M308.6 701.3h0M289.4 708.2h0M289.0 693.9h0M301.2 697.0h0M289.1 688.3h0M303.7 700.6h0M292.1 717.5h0M290.6 704.6h0M302.2 700.1h0M302.6 701.3h0M283.8 687.7h0M299.2 723.0h0M302.1 691.6h0M293.6 711.3h0M296.9 708.2h0M289.9 693.8h0M303.3 708.6h0M299.1 687.8h0M303.3 715.7h0M291.5 698.4h0M296.0 700.0h0M308.2 697.8h0M296.7 707.0h0M298.8 718.8h0M319.9 793.3h0M300.3 685.4h0M292.6 690.4h0M289.9 691.2h0M292.9 701.7h0M296.6 710.5h0M294.6 700.5h0M303.3 692.8h0M299.6 710.6h0M286.3 717.6h0M297.7 689.4h0M291.1 692.9h0M311.2 701.3h0M296.4 691.7h0M278.3 701.0h0M293.9 697.1h0" stroke="#f8766d" stroke-width="3.1" stroke-linecap="round" fill="none"/>
<path d="M300.7 774.9h0M268.9 760.6h0M286.5 765.4h0M275.4 767.7h0M280.7 754.2h0M276.8 746.1h0M297.5 771.1h0M279.9 770.5h0M278.6 765.4h0M273.8 746.3h0M290.6 764.1h0M274.4 749.8h0M267.9 753.7h0M276.8 760.5h0M278.3 768.7h0M273.9 754.3h0M294.6 766.4h0M273.5 759.8h0M271.2 746.7h0M271.6 751.1h0M277.2 760.3h0M280.3 768.7h0M284.9 768.8h0M276.0 745.4h0M275.7 765.2h0M318.4 735.8h0M280.0 757.5h0" stroke="#d89000" stroke-width="3.1" stroke-linecap="round" fill="none"/>
<path d="M289.9 744.1h0M281.0 738.3h0M282.2 739.2h0M288.8 739.9h0M287.5 745.9h0M294.5 740.8h0M284.4 723.7h0M284.8 737.8h0M285.5 744.9h0M280.9 741.9h0M291.3 742.7h0M291.3 745.9h0M283.3 742.4h0M285.3 739.9h0M324.7 733.3h0M293.8 739.4h0M303.3 757.3h0M296.4 741.7h0M280.3 736.9h0M293.9 737.4h0M281.5 736.4h0" stroke="#a3a500" stroke-width="3.1" stroke-linecap="round" fill="none"/>
<path d="M277.2 744.4h0M280.9 744.7h0M280.0 745.2h0M303.3 747.2h0M287.7 754.2h0M282.7 739.9h0M277.4 750.8h0M276.6 743.2h0M271.4 741.5h0M286.0 754.2h0M284.4 749.2h0M287.2 747.0h0M274.5 741.3h0M276.3 748.3h0" stroke="#39b600" stroke-width="3.1" stroke-linecap="round" fill="none"/>
<path d="M336.3 673.6h0M334.0 669.2h0M331.5 674.2h0M329.2 669.5h0M324.2 674.3h0M328.7 668.5h0M330.5 730.3h0M330.0 674.1h0M333.2 667.3h0M328.2 673.5h0M333.0 667.5h0" stroke="#00bf7d" stroke-width="3.1" stroke-linecap="round" fill="none"/>
<path d="M274.2 740.0h0M281.3 742.1h0M278.1 751.1h0" stroke="#00bfc4" stroke-width="3.1" stroke-linecap="round" fill="none"/>
<path d="M294.6 758.7h0M285.2 761.0h0M312.1 789.3h0M279.6 747.1h0M282.4 745.3h0M303.3 773.6h0M277.7 739.4h0M292.2 763.0h0M276.2 741.6h0M267.8 753.0h0M277.8 774.5h0M294.1 753.5h0" stroke="#00b0f6" stroke-width="3.1" stroke-linecap="round" fill="none"/>
<path d="M293.4 772.3h0M277.6 773.0h0M292.8 770.6h0M277.9 774.2h0" stroke="#9590ff" stroke-width="3.1" stroke-linecap="round" fill="none"/>
<path d="M320.2 672.8h0M292.4 682.1h0" stroke="#e76bf3" stroke-width="3.1" stroke-linecap="round" fill="none"/>
<path d="M304.3 698.2h0M302.0 701.1h0M283.0 688.1h0M283.3 684.5h0M290.1 704.9h0M289.4 716.5h0M293.5 710.2h0M297.6 700.9h0M296.6 689.2h0M303.0 714.2h0M311.3 701.2h0M297.5 713.3h0M326.0 701.0h0M277.1 701.2h0M318.4 786.2h0M286.1 693.2h0M289.0 707.0h0M299.8 703.6h0M308.7 706.3h0M284.6 724.9h0M302.6 713.1h0M301.8 702.2h0M310.2 697.4h0M285.6 700.6h0M310.5 694.9h0M315.1 696.2h0M300.0 703.0h0M277.1 711.2h0M296.3 694.8h0M294.7 712.7h0M303.5 718.4h0M292.2 688.7h0M298.4 710.1h0M307.5 694.1h0M306.5 699.7h0M312.7 700.5h0M296.9 710.6h0M288.7 699.3h0M312.8 705.1h0M312.9 696.2h0M289.6 685.5h0M297.0 699.1h0M309.8 708.7h0M313.6 695.4h0M301.9 696.3h0M300.6 706.2h0M304.4 693.2h0M303.1 702.5h0M288.8 699.4h0M299.8 708.1h0M303.8 702.6h0M297.1 689.6h0M316.5 695.2h0M296.4 695.9h0M305.7 711.7h0M287.8 704.6h0M294.6 703.6h0M292.9 703.9h0M307.8 688.7h0M302.3 700.4h0M295.2 697.7h0M310.8 716.9h0M293.7 708.2h0M308.4 700.0h0M291.8 688.8h0M296.5 694.5h0M289.9 701.5h0M294.1 701.7h0M314.5 692.4h0M305.6 708.3h0M301.8 705.1h0M278.2 702.2h0M288.0 702.6h0M297.3 719.9h0M297.7 706.1h0M338.6 704.3h0M300.9 694.6h0M277.5 703.9h0M295.2 700.7h0M299.4 710.1h0M312.4 700.5h0M291.8 704.2h0M297.6 693.9h0M306.1 705.4h0M286.2 703.6h0M315.1 694.1h0M300.9 695.2h0M295.9 710.6h0M302.8 703.7h0M297.0 693.7h0M292.9 712.8h0M298.6 698.9h0M295.7 691.5h0M289.9 705.2h0M302.7 698.3h0M292.0 702.6h0M283.0 701.0h0M315.1 773.6h0M305.1 698.8h0M291.0 716.8h0M317.9 782.5h0M306.8 712.0h0M296.6 711.9h0M317.2 702.7h0M294.6 707.7h0M296.8 705.4h0M304.5 698.8h0M316.1 697.6h0M299.3 681.6h0M304.4 708.0h0M298.5 711.6h0M298.0 689.7h0M329.1 695.7h0M319.7 796.3h0M289.6 712.7h0M297.3 699.1h0M296.1 697.0h0M310.9 699.5h0M292.2 692.5h0M286.7 711.0h0M294.2 711.5h0M295.0 697.7h0M292.9 700.0h0M306.4 690.9h0M287.7 708.2h0M296.0 708.9h0M280.4 685.4h0M307.5 693.7h0M307.5 692.6h0M310.6 694.0h0M309.3 696.6h0M318.4 785.0h0M300.2 691.7h0M304.3 707.7h0M308.5 682.9h0M309.0 700.4h0M295.8 695.3h0M302.2 698.6h0M275.4 702.5h0M303.7 696.9h0M296.1 688.9h0M303.5 696.7h0M298.7 701.8h0M311.1 685.0h0" stroke="#f8766d" stroke-width="3.1" stroke-linecap="round" fill="none"/>
<path d="M288.0 744.6h0M275.8 753.9h0M289.2 756.3h0M272.2 751.4h0M272.5 739.7h0M289.7 747.2h0M276.8 762.4h0M285.2 745.2h0M282.7 770.2h0M267.9 755.6h0M280.5 770.5h0M280.9 757.2h0M281.0 761.9h0M270.4 754.0h0M288.0 763.8h0M280.8 747.0h0M281.6 747.2h0M271.9 746.3h0M280.2 740.3h0M275.1 746.7h0M277.4 747.2h0M295.3 762.4h0M270.0 764.7h0" stroke="#d89000" stroke-width="3.1" stroke-linecap="round" fill="none"/>
<path d="M284.5 743.1h0M284.8 743.6h0M294.4 743.9h0M293.0 743.1h0M285.6 735.7h0M290.7 739.1h0M280.6 736.7h0M285.2 736.0h0M292.9 741.5h0M291.4 738.4h0M283.2 740.3h0M288.1 723.2h0M294.6 742.9h0M294.6 741.4h0M289.7 740.2h0M288.2 738.8h0M297.3 737.6h0M293.9 738.5h0M287.5 739.1h0" stroke="#a3a500" stroke-width="3.1" stroke-linecap="round" fill="none"/>
<path d="M272.0 747.5h0M278.1 739.9h0M281.6 753.1h0M278.3 739.3h0M282.3 746.0h0M289.9 749.8h0M277.7 743.9h0M280.4 745.8h0M289.9 752.6h0M277.4 749.6h0M273.3 741.6h0M277.9 738.8h0M288.3 745.9h0M288.2 748.8h0M272.4 740.0h0M287.5 748.7h0M279.8 747.4h0M280.8 740.6h0" stroke="#39b600" stroke-width="3.1" stroke-linecap="round" fill="none"/>
<path d="M333.3 670.5h0M330.0 670.8h0M337.6 673.3h0M327.1 671.8h0M314.1 777.4h0M337.9 672.6h0M324.4 668.3h0M334.3 678.0h0M339.5 673.2h0M335.9 671.6h0M325.9 667.8h0M338.5 669.3h0M331.0 667.6h0M332.0 672.9h0" stroke="#00bf7d" stroke-width="3.1" stroke-linecap="round" fill="none"/>
<path d="M277.6 757.2h0M290.8 760.7h0M279.2 766.3h0M292.1 763.3h0M286.3 768.7h0M273.4 750.4h0M293.4 759.6h0M282.6 755.4h0M269.1 748.3h0" stroke="#00bfc4" stroke-width="3.1" stroke-linecap="round" fill="none"/>
<path d="M282.6 772.0h0M292.2 762.7h0M278.0 767.7h0M313.4 786.2h0M276.1 741.2h0M307.1 783.7h0M293.1 759.2h0M293.1 758.5h0M268.6 756.9h0M271.8 742.9h0M289.9 745.1h0M317.9 795.1h0M283.7 755.4h0M272.1 744.2h0M280.4 762.7h0" stroke="#00b0f6" stroke-width="3.1" stroke-linecap="round" fill="none"/>
<path d="M278.3 771.7h0M288.9 772.0h0M280.5 774.3h0M283.2 772.5h0M280.3 772.1h0M279.2 774.2h0M286.8 772.6h0" stroke="#9590ff" stroke-width="3.1" stroke-linecap="round" fill="none"/>
<path d="M326.5 671.0h0M295.7 732.1h0" stroke="#e76bf3" stroke-width="3.1" stroke-linecap="round" fill="none"/>
<path d="M340.3 679.1h0M333.0 679.9h0M285.6 730.3h0" stroke="#ff62bc" stroke-width="3.1" stroke-linecap="round" fill="none"/>
<path d="M288.5 694.1h0M292.1 698.8h0M302.8 703.6h0M298.7 705.4h0M286.8 683.4h0M295.0 707.8h0M304.2 707.8h0M301.7 712.9h0M296.4 703.6h0M285.1 695.7h0M327.2 685.4h0M307.8 703.0h0M296.9 715.4h0M284.9 698.5h0M300.3 701.4h0M301.7 716.1h0M296.3 694.7h0M313.4 715.7h0M273.5 695.2h0M294.7 702.3h0M320.2 788.8h0M320.9 791.3h0M310.1 695.9h0M296.1 700.9h0M292.4 701.6h0M290.2 704.3h0M299.5 701.6h0M301.7 695.9h0M300.9 701.4h0M303.2 712.4h0M301.7 688.0h0M287.9 706.7h0M302.2 713.5h0M304.2 706.0h0M302.0 711.1h0M328.5 708.1h0M289.7 700.5h0M292.0 713.6h0M296.8 695.5h0M292.6 702.3h0M294.4 700.9h0M306.6 703.7h0M302.2 697.4h0M310.3 706.1h0M300.1 709.9h0M300.9 692.1h0M285.3 711.0h0M295.0 687.6h0M282.4 712.4h0M299.1 713.2h0M285.8 686.0h0M307.5 698.2h0M289.2 702.4h0M290.6 700.2h0M292.1 712.9h0M304.4 690.8h0M296.2 702.3h0M308.2 700.3h0M293.8 716.8h0M303.3 695.7h0M320.7 706.0h0M270.8 692.4h0M296.0 708.8h0M299.1 695.5h0M293.6 706.2h0M303.5 691.9h0M294.6 709.4h0M290.4 710.7h0M285.2 700.1h0M303.8 707.5h0M293.4 702.0h0M292.2 691.0h0M306.1 706.6h0M299.7 698.3h0M301.8 712.6h0M293.9 688.5h0M305.7 695.0h0M287.0 703.5h0M292.0 695.7h0M290.6 694.7h0M304.9 693.7h0M296.0 701.6h0M304.2 703.0h0M297.3 688.0h0M302.7 713.5h0M298.8 710.9h0M299.2 702.1h0M312.0 697.6h0M295.1 713.0h0M304.5 710.0h0M319.4 696.4h0M276.2 712.0h0M305.5 694.1h0M291.6 687.9h0M300.5 704.1h0M303.9 703.9h0M295.5 685.4h0M291.4 716.6h0M285.8 690.1h0M293.5 709.2h0M297.1 702.0h0M298.3 692.3h0M308.6 705.0h0M289.4 719.1h0M293.2 696.5h0M297.7 703.0h0M309.8 698.8h0M300.5 694.8h0M305.7 693.1h0M304.9 700.0h0M315.0 695.4h0M298.9 700.4h0M306.2 699.3h0M301.9 700.7h0M314.2 699.3h0M310.3 701.2h0M285.9 698.2h0M310.1 703.3h0M297.9 707.9h0M296.4 699.6h0M320.5 704.0h0M295.1 713.7h0M298.7 687.8h0M300.6 684.4h0M301.4 700.0h0M298.0 699.1h0M307.8 694.4h0M293.4 712.1h0M297.7 701.3h0M283.7 693.6h0M301.7 710.5h0M288.6 698.4h0M300.4 688.5h0M296.2 702.0h0M282.3 692.1h0M289.4 691.2h0M295.2 693.0h0M317.2 690.6h0M290.1 702.4h0M319.9 694.0h0M300.6 695.3h0M319.4 695.9h0M297.4 702.3h0M293.9 682.8h0M303.4 699.7h0M300.3 693.3h0M311.3 701.5h0M293.7 701.7h0" stroke="#f8766d" stroke-width="3.1" stroke-linecap="round" fill="none"/>
<path d="M313.4 751.7h0M276.8 759.0h0M284.9 767.7h0M275.2 764.9h0M287.4 754.6h0M288.9 772.4h0M276.3 755.1h0M284.1 744.6h0M288.0 754.7h0M293.5 767.5h0M295.5 766.6h0M293.1 752.1h0M273.0 743.1h0M271.3 766.3h0M293.3 762.2h0M275.0 739.3h0M291.2 767.6h0M269.9 757.7h0M281.4 769.9h0M274.5 749.8h0M292.7 757.6h0M284.5 758.9h0M273.3 759.2h0M274.9 756.8h0M327.7 736.3h0M274.4 753.5h0M285.9 755.5h0M284.8 741.2h0M288.2 772.9h0M285.4 763.5h0" stroke="#d89000" stroke-width="3.1" stroke-linecap="round" fill="none"/>
<path d="M312.1 732.8h0M287.6 743.0h0M293.7 743.3h0M299.5 763.6h0M278.6 732.8h0M297.5 725.2h0M295.7 743.3h0M291.7 740.8h0M284.3 737.6h0M291.9 736.6h0M287.5 739.0h0M292.7 739.9h0M291.7 743.8h0M287.5 737.1h0M289.9 746.2h0M292.0 737.4h0" stroke="#a3a500" stroke-width="3.1" stroke-linecap="round" fill="none"/>
<path d="M280.8 749.3h0M282.0 750.3h0M282.9 748.3h0M284.9 745.1h0M277.5 743.4h0M289.6 747.2h0M286.7 748.8h0M274.7 749.3h0M286.5 745.0h0M280.2 742.8h0M286.6 751.0h0M280.5 751.1h0M283.4 751.2h0M284.4 743.4h0M277.4 745.8h0M274.3 746.8h0M271.6 746.5h0M284.1 743.9h0M282.8 745.6h0M278.5 741.7h0M285.0 741.2h0M286.8 748.2h0M276.7 752.3h0M281.3 739.5h0" stroke="#39b600" stroke-width="3.1" stroke-linecap="round" fill="none"/>
<path d="M338.1 667.6h0M339.4 674.3h0M325.0 670.5h0M327.7 668.3h0M338.9 672.8h0M334.9 670.9h0M325.2 668.9h0M332.8 673.6h0M337.3 671.2h0M329.8 674.3h0M329.1 669.0h0M337.0 672.7h0M329.4 674.1h0M324.6 672.2h0M333.3 678.3h0" stroke="#00bf7d" stroke-width="3.1" stroke-linecap="round" fill="none"/>
<path d="M272.9 757.6h0M271.0 764.7h0M285.1 740.2h0" stroke="#00bfc4" stroke-width="3.1" stroke-linecap="round" fill="none"/>
<path d="M281.5 743.8h0M285.3 757.2h0M303.8 777.4h0M274.0 752.3h0M279.1 738.6h0M282.4 759.5h0M275.3 745.8h0M281.0 765.1h0M272.3 752.7h0M266.7 750.8h0M288.4 753.5h0" stroke="#00b0f6" stroke-width="3.1" stroke-linecap="round" fill="none"/>
<path d="M285.2 772.2h0" stroke="#9590ff" stroke-width="3.1" stroke-linecap="round" fill="none"/>
<path d="M336.0 679.1h0M281.3 723.7h0" stroke="#e76bf3" stroke-width="3.1" stroke-linecap="round" fill="none"/>
<path d="M322.9 672.8h0" stroke="#ff62bc" stroke-width="3.1" stroke-linecap="round" fill="none"/>
<text x="319.7" y="653.9" textLength="29.4" lengthAdjust="spacingAndGlyphs">NP12</text>
<line x1="260.4" y1="658.9" x2="260.4" y2="805.7" stroke="#777" stroke-width="1.2"/>
<line x1="259.8" y1="805.2" x2="408.6" y2="805.2" stroke="#444" stroke-width="1"/>
<line x1="255.8" y1="675.3" x2="260.4" y2="675.3" stroke="#444" stroke-width="0.9"/>
<text x="250.6" y="679.6" text-anchor="end">5</text>
<line x1="255.8" y1="718.2" x2="260.4" y2="718.2" stroke="#444" stroke-width="0.9"/>
<text x="250.6" y="722.5" text-anchor="end">0</text>
<line x1="255.8" y1="761.8" x2="260.4" y2="761.8" stroke="#444" stroke-width="0.9"/>
<text x="250.6" y="766.1" text-anchor="end">−5</text>
<line x1="255.8" y1="805.2" x2="260.4" y2="805.2" stroke="#444" stroke-width="0.9"/>
<text x="250.6" y="809.5" text-anchor="end">−10</text>
<line x1="281.3" y1="805.2" x2="281.3" y2="809.6" stroke="#444" stroke-width="0.9"/>
<text x="281.3" y="824.2" text-anchor="middle">−5</text>
<line x1="324.9" y1="805.2" x2="324.9" y2="809.6" stroke="#444" stroke-width="0.9"/>
<text x="324.9" y="824.2" text-anchor="middle">0</text>
<line x1="368.3" y1="805.2" x2="368.3" y2="809.6" stroke="#444" stroke-width="0.9"/>
<text x="368.3" y="824.2" text-anchor="middle">5</text>
<text transform="translate(226.9 731.3) rotate(-90)" text-anchor="middle" textLength="52.5" lengthAdjust="spacingAndGlyphs">UMAP_2</text>
<text x="310.3" y="843.7" textLength="47.7" lengthAdjust="spacingAndGlyphs">UMAP_1</text>
<path d="M504.9 706.8h0M497.6 695.8h0M525.8 704.6h0M528.6 684.1h0M511.0 703.1h0M511.6 705.5h0M525.3 712.4h0M498.3 702.5h0M503.9 697.0h0M529.5 684.7h0M517.2 703.8h0M506.2 705.0h0M523.1 704.1h0M497.1 694.0h0M527.6 689.5h0M494.9 697.4h0M515.8 708.1h0M505.6 691.2h0M505.4 702.6h0M528.7 692.9h0M525.4 710.6h0M516.3 680.6h0M534.4 694.6h0M514.7 690.6h0M526.0 693.4h0M506.8 694.2h0M510.9 684.6h0M517.1 690.5h0M533.5 693.7h0M514.9 702.1h0M508.1 698.3h0M523.5 699.1h0M502.0 684.1h0M500.2 695.3h0M531.1 700.6h0M526.0 698.6h0M523.1 699.9h0M503.1 706.3h0M498.0 689.9h0M506.9 686.9h0M525.6 709.9h0M500.8 706.9h0M518.3 703.6h0M507.7 687.9h0M532.8 686.6h0M500.2 691.1h0M511.7 700.0h0M514.3 710.4h0M511.0 700.9h0M517.2 711.3h0M511.6 685.6h0M530.1 702.5h0M508.8 695.6h0M501.9 701.1h0M509.8 687.0h0M514.6 704.3h0M530.6 685.2h0M525.5 688.3h0M515.7 698.0h0M515.2 706.4h0M502.6 700.8h0M504.4 700.0h0M503.2 701.6h0M496.2 697.0h0M510.0 683.3h0M514.8 697.7h0M520.4 693.3h0M508.3 708.8h0M522.1 705.3h0M500.2 694.5h0M503.2 692.1h0M520.7 696.7h0M526.3 688.4h0M515.9 686.0h0M509.5 697.4h0M519.2 686.7h0M509.9 689.6h0M501.9 704.1h0M520.0 708.1h0M524.9 686.4h0M531.8 704.4h0M500.2 686.0h0M535.5 701.1h0M525.7 686.3h0M526.4 695.1h0M525.9 706.6h0M531.5 700.0h0M521.3 684.2h0M498.1 707.8h0M525.0 695.4h0M527.1 683.6h0M494.8 691.5h0M532.4 695.6h0M501.7 696.3h0M506.0 709.0h0M510.3 692.9h0M519.6 679.5h0M516.1 680.5h0M507.4 708.3h0M518.2 695.1h0M516.0 692.3h0M511.3 700.7h0M538.7 699.9h0M529.0 683.8h0M517.1 693.6h0M518.5 695.3h0M514.7 694.7h0M532.5 687.9h0M531.4 694.4h0M530.9 701.6h0M520.2 695.9h0M511.2 685.7h0M509.0 691.4h0M507.7 691.4h0M505.4 687.7h0M506.2 707.4h0M522.3 690.3h0M519.3 696.0h0M509.9 707.3h0M532.6 699.4h0M509.2 699.6h0M527.4 698.7h0M510.2 700.3h0M536.2 697.5h0M512.3 709.6h0M514.0 706.1h0M535.6 702.4h0M516.0 681.8h0M527.0 704.0h0M506.1 687.2h0M530.2 702.8h0M512.6 693.1h0M519.2 696.4h0M526.8 704.7h0M511.8 681.7h0M525.1 687.2h0M529.6 694.0h0M507.1 684.5h0M502.1 703.7h0M511.6 718.0h0M522.8 700.1h0M514.0 718.3h0M503.4 713.3h0M523.9 701.4h0M517.9 702.5h0M513.1 706.6h0M518.1 717.2h0M533.3 716.2h0M508.2 710.5h0M528.8 704.6h0M506.5 712.9h0M537.8 705.1h0M516.8 721.3h0M496.4 712.8h0M515.7 700.5h0M500.8 707.1h0M526.5 712.5h0M499.2 704.0h0M531.6 710.6h0M533.7 706.3h0M509.5 702.2h0M524.9 719.7h0M511.1 703.4h0M527.7 718.0h0M522.9 697.1h0M535.8 713.0h0M536.3 706.8h0M518.1 720.1h0M500.8 714.3h0M511.4 710.5h0M510.5 714.3h0M522.5 711.0h0M507.5 705.1h0M536.2 710.5h0M521.9 721.7h0M516.0 710.3h0M522.5 707.2h0M515.7 709.2h0M533.0 704.5h0M512.5 704.1h0M510.8 712.0h0M523.6 707.4h0M517.2 700.6h0M535.2 687.0h0M528.3 702.2h0M518.1 700.9h0M526.5 684.3h0M498.6 703.0h0M501.4 697.8h0M536.5 697.6h0M505.0 689.8h0M510.0 707.0h0M530.1 694.9h0M529.1 709.0h0M515.8 682.7h0M532.2 687.6h0M538.5 672.7h0M535.1 684.1h0M539.3 682.7h0M532.4 686.1h0M531.3 684.4h0M526.3 682.2h0M553.8 669.7h0M557.2 681.7h0M539.2 683.3h0M551.7 671.9h0M568.8 674.9h0M568.8 673.3h0M552.3 680.2h0M534.1 676.5h0M544.8 670.6h0M568.0 675.3h0M543.1 675.1h0M528.7 683.7h0M534.6 678.0h0M528.8 682.0h0M563.8 678.9h0M553.1 668.5h0M551.6 672.5h0M537.3 679.8h0M568.2 684.6h0M535.5 673.5h0M550.1 674.2h0M546.7 678.3h0M558.4 686.2h0M563.3 673.8h0M526.4 682.4h0M564.7 678.6h0M564.6 678.7h0M561.1 677.5h0M541.9 684.0h0M556.1 681.5h0M564.4 670.6h0M550.8 673.2h0M556.8 675.3h0M564.3 671.4h0M539.0 678.9h0M545.9 684.0h0M559.0 672.2h0M546.2 684.4h0M561.2 679.6h0M533.6 685.9h0M540.5 679.9h0M543.7 680.3h0M555.6 687.2h0M553.1 679.4h0M537.8 690.1h0M535.7 677.8h0M566.7 681.2h0M535.8 679.4h0M535.9 678.4h0M542.2 687.7h0M550.7 670.7h0M563.1 683.4h0M547.3 678.0h0M545.6 684.6h0M563.0 684.2h0M531.8 679.4h0M558.2 676.6h0M552.5 669.9h0M541.2 687.5h0M549.4 673.0h0M559.1 678.4h0M527.2 681.1h0M536.4 675.9h0M547.2 683.2h0M561.7 679.3h0M548.1 669.8h0M535.2 680.9h0M560.8 682.6h0M548.2 672.8h0M557.1 673.2h0M563.4 674.1h0M538.4 686.3h0M546.1 668.9h0M561.1 680.1h0M537.9 674.0h0M574.9 671.6h0M577.5 676.9h0M573.3 677.2h0M569.5 680.9h0M588.9 683.2h0M592.2 688.4h0M587.6 688.8h0M586.9 681.9h0M573.1 682.4h0M577.1 672.3h0M571.3 679.3h0M579.1 675.4h0M567.9 678.2h0M583.9 681.9h0M590.1 680.2h0M586.8 690.2h0M576.5 687.9h0M582.1 674.0h0M586.4 689.6h0M570.2 673.7h0M593.8 680.9h0M577.9 685.7h0M580.6 673.7h0M577.1 690.5h0M584.2 690.8h0M571.7 668.4h0M570.9 674.1h0M582.5 676.3h0M583.7 687.1h0M585.0 681.3h0M574.5 667.3h0M582.3 682.3h0M587.5 689.0h0M576.3 684.3h0M572.1 671.7h0M578.1 690.0h0M581.7 675.1h0M579.4 686.2h0M575.2 688.0h0M571.5 681.5h0M583.5 672.7h0M575.3 672.7h0M585.3 687.4h0M589.1 682.0h0M586.9 682.7h0M575.5 683.7h0M585.6 678.6h0M575.7 679.2h0M579.1 674.0h0M581.5 681.6h0M591.0 680.2h0M571.3 676.9h0M576.5 675.9h0M568.5 682.7h0M592.8 688.0h0M578.5 682.9h0M589.8 674.1h0M588.4 687.4h0M576.7 681.7h0M583.8 674.0h0M577.6 674.4h0M569.1 678.6h0M578.1 689.3h0M574.7 681.4h0M570.8 681.6h0M591.0 682.4h0M576.2 678.8h0M570.4 677.1h0M573.0 687.5h0M574.4 671.8h0M586.7 688.9h0M574.0 681.2h0M576.6 687.3h0M580.5 674.3h0M585.2 674.1h0M585.2 686.0h0M584.5 673.2h0M576.0 685.9h0M576.5 679.9h0M586.4 678.4h0M585.2 687.1h0M588.9 682.0h0M581.3 673.1h0M566.2 669.4h0M576.8 688.9h0M573.3 676.1h0M583.3 674.9h0M574.5 677.5h0M580.7 676.0h0M570.1 669.9h0M579.9 674.8h0M584.4 681.8h0M582.6 671.1h0M600.8 701.9h0M589.2 690.9h0M605.8 698.8h0M584.1 693.7h0M604.3 706.5h0M598.3 699.7h0M600.4 702.4h0M597.1 699.3h0M606.6 705.9h0M610.5 704.0h0M606.1 700.5h0M594.4 702.1h0M614.3 697.6h0M607.8 708.9h0M595.0 690.2h0M598.0 697.0h0M606.8 704.8h0M619.0 689.3h0M585.0 699.8h0M594.8 688.8h0M597.1 698.9h0M607.1 707.0h0M606.1 687.1h0M613.2 694.5h0M606.9 709.6h0M603.0 697.4h0M612.4 694.0h0M596.6 689.6h0M588.5 699.8h0M611.3 709.3h0M603.2 702.7h0M594.5 700.1h0M587.8 698.7h0M595.5 688.9h0M607.3 689.1h0M618.0 696.9h0M596.9 703.5h0M587.1 699.1h0M610.2 691.7h0M595.7 697.0h0M592.2 688.1h0M603.8 690.0h0M589.7 702.8h0M616.9 696.2h0M592.4 694.9h0M601.7 693.8h0M590.6 692.0h0M583.9 702.2h0M584.9 690.9h0M602.0 702.7h0M608.4 709.9h0M594.6 689.4h0M604.7 704.7h0M611.4 710.9h0M602.7 685.6h0M620.1 696.7h0M609.4 690.6h0M610.7 699.0h0M613.7 697.0h0M612.0 690.8h0M600.7 690.5h0M616.0 692.6h0M602.4 696.8h0M603.7 706.1h0M599.8 701.1h0M603.9 701.0h0M601.7 691.5h0M604.0 694.4h0M609.1 714.2h0M587.6 689.4h0M610.0 695.9h0M594.2 700.9h0M614.1 691.5h0M595.2 691.5h0M605.9 689.8h0M622.1 692.4h0M613.1 690.3h0M606.0 718.2h0M592.5 695.7h0M598.3 693.2h0M615.6 699.4h0M610.7 691.8h0M603.6 692.1h0M617.9 695.9h0M605.7 687.9h0M603.8 694.0h0M603.4 702.2h0M595.7 688.0h0M614.8 695.7h0M612.5 711.2h0M584.0 691.6h0M604.3 688.6h0M610.1 690.8h0M597.7 696.7h0M606.8 689.9h0M609.8 695.6h0M598.4 700.4h0M607.5 708.1h0M610.6 695.2h0M616.1 693.6h0M590.9 690.9h0M580.9 696.1h0M602.1 701.0h0M596.0 690.6h0M607.8 711.6h0M613.8 695.6h0M591.7 699.2h0M612.9 710.1h0M607.8 714.9h0M596.9 703.7h0M584.2 698.3h0M603.7 700.1h0M609.7 687.9h0M610.9 698.6h0M613.9 707.6h0M601.9 697.1h0M612.5 693.3h0M608.6 699.2h0M597.1 688.8h0M602.4 689.0h0M594.4 690.6h0M598.0 687.9h0M614.0 697.7h0M608.4 687.6h0M607.1 692.8h0M590.9 691.2h0M615.6 696.3h0M593.2 688.6h0M585.5 698.2h0M610.0 711.5h0M609.5 706.9h0M616.2 697.1h0M590.1 695.3h0M596.1 696.5h0M593.2 689.4h0M590.4 703.9h0M602.9 699.0h0M618.7 696.3h0M595.2 700.2h0M602.2 700.7h0M615.4 700.7h0M610.7 687.9h0M595.4 692.2h0M602.8 695.8h0M601.3 696.4h0M619.0 692.3h0M617.2 689.2h0M598.9 702.0h0M607.2 701.3h0M594.9 700.3h0M593.9 687.9h0M595.7 696.5h0M605.6 703.9h0M590.6 690.5h0M607.6 699.6h0M614.1 701.6h0M597.8 693.2h0M600.0 689.0h0M582.1 694.2h0M610.3 706.5h0M599.9 695.7h0M615.0 697.0h0M599.7 687.9h0M585.9 694.8h0M613.3 690.9h0M610.5 706.6h0M597.7 689.0h0M596.3 694.1h0M593.9 698.3h0M605.6 704.6h0M607.9 700.4h0M608.1 705.7h0M594.4 702.6h0M590.3 695.4h0M596.6 690.5h0M606.6 709.2h0M599.1 702.1h0M590.4 700.4h0M608.8 698.9h0M620.3 691.0h0M592.6 703.8h0M599.1 693.7h0M599.8 688.4h0M601.0 695.2h0M588.0 691.2h0M596.6 687.0h0M602.9 699.1h0M613.3 688.9h0M610.4 711.5h0M617.6 694.8h0M592.9 693.7h0M582.0 692.6h0M600.1 688.3h0M612.5 709.9h0M610.1 695.2h0M604.2 696.9h0M604.8 707.6h0M600.9 691.5h0M605.4 707.5h0M588.8 695.9h0M581.3 695.3h0M608.2 702.1h0M615.9 699.7h0M606.4 714.0h0M607.1 706.1h0M606.9 706.3h0M583.5 701.1h0M603.7 693.3h0M604.2 695.2h0M592.9 701.0h0M613.6 699.0h0M562.6 699.6h0M555.0 705.8h0M567.7 690.4h0M551.3 693.4h0M570.0 688.3h0M573.1 700.4h0M544.4 700.2h0M568.5 702.0h0M551.1 699.2h0M565.1 704.6h0M543.8 705.6h0M557.7 692.8h0M560.6 692.2h0M557.0 698.8h0M562.4 691.7h0M540.3 704.9h0M541.1 709.6h0M568.6 691.0h0M558.5 698.0h0M555.5 707.3h0M564.1 699.4h0M568.5 691.3h0M548.6 702.2h0M564.6 694.7h0M569.2 697.4h0M581.3 701.4h0M541.8 701.2h0M554.3 704.8h0M553.9 698.4h0M545.9 727.7h0M564.1 694.6h0M576.4 686.3h0M578.0 695.1h0M549.3 692.4h0M550.9 726.9h0M561.6 692.1h0M547.3 698.5h0M539.2 723.7h0M547.0 713.6h0M555.5 695.9h0M536.9 716.5h0M575.8 693.5h0M549.8 713.1h0M584.0 688.8h0M553.5 715.2h0M574.2 689.2h0M568.6 704.2h0M581.7 691.1h0M531.1 709.6h0M580.2 700.4h0M514.5 768.2h0M512.7 766.3h0M511.8 766.9h0M513.1 764.8h0M597.7 711.4h0M598.3 713.9h0M604.8 708.5h0M599.6 707.9h0M586.4 717.2h0M582.0 723.0h0M587.0 718.4h0M602.4 708.8h0M582.7 716.3h0M593.8 725.7h0M592.9 710.9h0M593.7 715.0h0M580.4 710.3h0M589.6 712.3h0M590.6 717.0h0M603.7 725.7h0M602.4 724.8h0M602.4 747.4h0M604.9 721.6h0M611.4 743.9h0M610.2 736.5h0M611.8 727.5h0M602.5 723.5h0M599.5 742.3h0M607.8 750.5h0M601.5 755.3h0M608.6 731.3h0M605.2 745.2h0M604.0 753.0h0M605.2 751.6h0M613.3 725.7h0M607.7 719.4h0M603.0 715.5h0M603.1 718.3h0M604.7 738.9h0M610.8 721.2h0M606.3 732.0h0M603.0 757.6h0M615.2 746.9h0M606.2 754.3h0M605.0 719.5h0M603.1 717.2h0M599.2 743.5h0M602.4 725.2h0M612.3 730.9h0M606.6 750.1h0M602.4 744.2h0M608.2 739.0h0M604.5 742.7h0M604.2 746.2h0M605.9 729.0h0M610.7 747.1h0M604.4 743.5h0M607.9 733.3h0M612.4 735.8h0M608.7 749.1h0M610.4 726.4h0M598.7 750.6h0M613.4 740.6h0M612.3 740.4h0M600.5 719.6h0M613.0 726.7h0M605.3 733.2h0M609.9 731.0h0M613.5 736.2h0M610.5 740.3h0M613.4 750.4h0M611.6 724.0h0M616.0 733.2h0M601.1 730.4h0M600.3 743.3h0M612.5 751.8h0M600.6 743.6h0M609.4 729.0h0M609.9 729.5h0M602.4 725.4h0M603.0 726.3h0M602.4 729.1h0M603.5 736.1h0M609.2 737.2h0M611.9 738.9h0M605.3 727.5h0M603.9 718.4h0M604.0 736.7h0M613.2 748.3h0M608.9 736.9h0M602.3 749.0h0M599.5 739.4h0M597.6 750.7h0M600.1 736.6h0M606.9 725.2h0M601.1 717.5h0M600.2 740.8h0M600.7 727.1h0M608.6 720.9h0M600.8 751.9h0M611.1 745.2h0M606.2 720.6h0M615.7 742.2h0M601.4 751.2h0M607.2 715.5h0M606.6 755.2h0M605.9 754.4h0M604.5 744.2h0M608.0 721.7h0M603.2 724.0h0M605.6 742.3h0M600.0 743.6h0M611.1 736.4h0M606.2 722.8h0M605.9 728.7h0M607.5 741.8h0M606.6 752.3h0M612.5 737.5h0M609.0 722.2h0M604.0 749.2h0M607.2 752.8h0M601.7 719.2h0M600.6 727.7h0M602.2 731.8h0M606.1 752.0h0M607.1 734.3h0M605.2 744.6h0M616.3 748.4h0M609.5 724.5h0M603.8 739.8h0M603.8 736.2h0M601.0 721.9h0M611.3 751.3h0M601.8 742.9h0M605.0 754.7h0M601.0 735.8h0M607.9 748.4h0M611.0 741.3h0M606.7 742.5h0M607.5 754.3h0M611.6 747.5h0M603.3 733.2h0M606.5 736.6h0M608.7 752.1h0M607.0 753.9h0M602.4 736.0h0M610.5 735.0h0M609.7 748.5h0M605.3 719.2h0M605.3 713.8h0M617.1 731.9h0M614.2 729.3h0M605.0 715.1h0M606.9 741.9h0M604.5 733.5h0M605.9 725.0h0M599.8 744.0h0M608.8 732.2h0M607.6 748.2h0M613.0 739.9h0M603.8 751.3h0M598.3 739.2h0M601.7 730.1h0M612.1 748.9h0M611.1 756.0h0M603.2 720.0h0M606.0 750.3h0M611.4 725.8h0M604.2 725.7h0M601.6 723.4h0M599.0 718.1h0M608.7 753.3h0M604.0 723.0h0M609.8 747.2h0M614.9 741.2h0M602.3 724.7h0M604.6 729.3h0M607.9 719.6h0M603.0 719.5h0M605.3 753.4h0M606.6 718.0h0M609.0 735.6h0M609.0 744.1h0M605.8 745.9h0M605.3 743.2h0M604.8 718.1h0M604.1 715.8h0M609.6 749.5h0M604.7 725.3h0M601.6 719.3h0M603.3 752.4h0M602.3 726.9h0M607.2 747.5h0M608.2 741.0h0M604.8 724.2h0M614.4 748.0h0M595.7 744.3h0M594.0 745.5h0M587.7 735.5h0M594.6 745.4h0M591.2 741.3h0M592.5 740.2h0M594.4 741.4h0M589.5 736.0h0M611.5 758.3h0M610.2 756.4h0M603.6 756.2h0M601.7 756.6h0M610.6 758.0h0M599.1 757.4h0M603.3 754.1h0M608.3 759.8h0M602.8 760.0h0M607.3 761.2h0M610.0 757.8h0M598.1 755.0h0M608.5 753.1h0M601.8 754.1h0M603.0 760.8h0M605.4 757.9h0M606.4 759.7h0M602.4 761.6h0M602.5 759.0h0M609.8 754.3h0M602.7 758.1h0M606.9 756.3h0M606.5 756.5h0M605.7 757.3h0M612.3 754.3h0M605.9 754.0h0M609.1 755.4h0M607.7 755.6h0M608.1 759.2h0M609.3 756.0h0M600.8 760.7h0M606.8 759.0h0M607.8 759.5h0M600.6 758.8h0M609.2 759.4h0M604.6 754.0h0M606.8 756.5h0M612.3 754.8h0M604.4 759.8h0M609.3 757.0h0M601.7 757.0h0M603.2 754.2h0M601.8 755.6h0M607.8 755.5h0M602.5 754.3h0M599.6 754.5h0M607.9 758.3h0M607.5 760.4h0M603.1 754.8h0M604.9 756.9h0M606.3 762.2h0M604.8 758.3h0M610.3 755.5h0M606.8 755.7h0M603.7 759.6h0M514.5 727.4h0M500.4 739.6h0M492.4 736.4h0M511.8 734.0h0M502.0 725.5h0M508.6 732.3h0M512.7 737.9h0M501.1 741.7h0M515.2 743.3h0M495.6 742.0h0M510.4 745.0h0M507.4 739.4h0M517.8 728.4h0M500.1 741.0h0M507.9 732.2h0M506.6 739.7h0M512.4 742.6h0M499.3 743.4h0M504.5 735.6h0M504.5 735.3h0M506.7 726.4h0M512.8 738.3h0M499.7 738.4h0M496.6 729.2h0M499.5 736.2h0M504.5 746.4h0M500.0 737.9h0M496.0 735.6h0M507.4 724.5h0M495.0 737.4h0M518.9 740.3h0M503.4 724.2h0M507.8 735.0h0M518.5 730.9h0M507.6 746.6h0M511.2 715.2h0M504.3 740.8h0M520.7 729.7h0M512.5 735.0h0M508.8 718.1h0M495.2 732.7h0M494.8 741.9h0M487.4 763.2h0M512.6 749.1h0M495.2 752.7h0M494.2 745.0h0M502.3 750.7h0M504.0 744.2h0M489.5 747.9h0M493.1 756.7h0M490.8 748.1h0M504.1 748.2h0M495.4 764.9h0M500.0 756.3h0M504.7 752.8h0M507.1 749.4h0M500.6 766.9h0M502.1 756.1h0M491.5 769.5h0M489.6 767.0h0M504.0 772.3h0M490.4 744.9h0M500.7 748.2h0M502.4 773.4h0M514.9 756.8h0M512.3 758.8h0M508.0 761.1h0M506.4 759.8h0M515.2 758.5h0M510.8 745.4h0M503.5 746.9h0M500.5 749.8h0M500.6 769.5h0M512.9 768.5h0M503.7 764.8h0M493.0 755.2h0M491.6 751.7h0M501.0 757.6h0M490.9 750.4h0M492.1 758.4h0M505.2 752.6h0M505.3 765.2h0M505.9 760.3h0M504.7 749.9h0M494.6 768.1h0M498.7 770.8h0M501.6 763.2h0M513.5 748.0h0M510.4 755.6h0M500.4 749.7h0M509.1 756.7h0M508.9 761.1h0M511.8 750.4h0M501.2 748.3h0M495.5 769.5h0M504.3 753.0h0M507.8 772.5h0M509.9 765.4h0M503.7 751.5h0M498.4 758.2h0M509.0 752.3h0M511.1 753.9h0M506.3 754.5h0M497.2 760.2h0M511.1 755.4h0M496.2 755.1h0M494.5 773.8h0M503.6 756.2h0M493.1 749.0h0M504.4 751.5h0M516.2 760.8h0M507.6 753.9h0M487.5 766.4h0M512.9 764.8h0M492.8 765.0h0M512.4 753.8h0M507.5 769.4h0M505.9 743.0h0M491.6 758.7h0M510.3 754.3h0M500.6 753.2h0M493.7 745.9h0M497.5 745.1h0M510.1 745.1h0M508.8 768.5h0M496.3 740.9h0M500.4 771.4h0M489.4 758.8h0M500.3 743.7h0M491.8 753.4h0M514.8 756.4h0M502.8 745.1h0M499.1 742.1h0M494.6 768.4h0M502.7 752.1h0M487.1 764.3h0M513.9 756.6h0M513.8 757.0h0M497.9 756.9h0M501.0 756.4h0M511.9 754.2h0M510.1 764.8h0M494.8 749.2h0M499.8 744.5h0M515.3 756.4h0M498.0 748.7h0M511.5 755.6h0M488.0 750.3h0M496.3 764.3h0M495.3 762.1h0M491.9 766.1h0M500.9 766.0h0M496.6 745.9h0M502.8 763.0h0M507.9 747.5h0M488.3 752.1h0M485.5 760.4h0M509.5 747.8h0M496.4 757.6h0M491.5 759.2h0M503.8 750.7h0M515.1 769.0h0M510.5 756.9h0M500.2 751.8h0M494.2 769.3h0M512.3 750.9h0M499.9 761.0h0M487.5 748.3h0M498.1 744.5h0M493.0 755.6h0M499.5 763.9h0M497.1 759.0h0M511.6 745.4h0M507.4 773.9h0M501.2 757.0h0M489.8 746.2h0M513.0 750.8h0M510.2 764.9h0M494.6 765.5h0M489.8 760.0h0M488.5 749.6h0M501.7 756.0h0M516.3 750.7h0M489.6 761.4h0M511.7 753.3h0M513.1 749.1h0M500.2 754.2h0M488.9 754.5h0M509.8 761.0h0M500.5 773.2h0M498.9 748.0h0M502.2 769.8h0M486.6 753.9h0M488.7 762.7h0M509.2 760.5h0M491.1 759.9h0M495.9 772.4h0M497.3 768.0h0M487.1 763.8h0M511.1 770.6h0M497.4 758.0h0M509.4 745.9h0M497.7 768.1h0M490.9 754.2h0M502.9 774.1h0M515.8 763.1h0M489.0 746.4h0M514.4 753.4h0M497.9 772.0h0M505.5 755.4h0M515.8 751.3h0M489.0 747.6h0M492.6 769.2h0M506.0 768.4h0M500.9 751.0h0M492.8 755.9h0M494.4 761.4h0M508.4 760.1h0M495.1 761.8h0M513.3 751.7h0M505.9 761.8h0M495.2 742.9h0M496.9 774.8h0M504.8 745.5h0M511.7 763.0h0M506.6 761.8h0M497.1 756.0h0M495.2 770.5h0M508.9 752.8h0M495.5 743.6h0M490.1 747.8h0M497.9 762.1h0M507.2 767.4h0M515.3 756.7h0M494.0 764.8h0M504.7 754.3h0M515.2 758.7h0M501.1 773.6h0M497.4 746.7h0M492.7 771.6h0M492.9 768.9h0M509.6 755.5h0M492.2 756.6h0M510.9 750.4h0M551.6 729.7h0M542.7 737.5h0M565.6 735.9h0M560.0 737.9h0M547.7 736.1h0M546.8 732.6h0M561.0 734.2h0M554.2 734.7h0M555.0 732.2h0M559.5 735.2h0M548.2 739.0h0M557.0 737.1h0M554.9 731.2h0M547.9 736.7h0M543.2 735.2h0M533.2 737.6h0M566.0 734.8h0M558.5 737.3h0M548.2 734.3h0M552.4 731.0h0M540.3 737.8h0M548.9 731.0h0M558.1 735.9h0M534.6 736.5h0M554.2 736.3h0M557.3 733.6h0M547.4 733.8h0M546.8 738.6h0M533.1 738.6h0M564.2 736.7h0M552.8 733.2h0M542.4 732.6h0M555.1 732.4h0M542.7 736.7h0M534.4 738.8h0M552.0 734.6h0M544.5 734.8h0M552.7 730.8h0M551.5 733.1h0M544.5 737.4h0M536.1 726.0h0M530.3 724.2h0M534.4 726.8h0M530.5 724.0h0M527.8 719.0h0M525.0 720.0h0M541.3 727.9h0M530.2 718.2h0M545.5 725.5h0M540.4 751.0h0M542.9 752.4h0M538.0 760.5h0M543.6 751.2h0M534.8 754.1h0M542.9 759.6h0M543.3 757.4h0M533.3 757.0h0M534.2 752.6h0M535.4 756.6h0M541.3 755.3h0M543.8 756.9h0M534.4 759.3h0M540.3 756.6h0M540.7 755.6h0M542.7 753.3h0M538.0 760.4h0M542.7 749.4h0M535.9 753.8h0M536.0 759.3h0M541.1 760.0h0M534.6 752.5h0M532.9 754.6h0M538.9 754.9h0M543.3 752.8h0M536.5 757.5h0M541.4 749.8h0M539.0 755.8h0M545.3 753.7h0M537.5 759.6h0M538.5 759.8h0M536.6 751.8h0M536.7 751.1h0M544.3 753.6h0M536.4 757.8h0M526.1 759.4h0M523.5 753.3h0M532.3 747.9h0M529.3 759.4h0M531.8 749.6h0M526.0 765.1h0M530.9 751.5h0M521.5 755.4h0M524.9 761.8h0M524.9 754.7h0M524.7 758.3h0M534.4 759.7h0M529.1 751.0h0M522.9 776.8h0M534.6 797.3h0M542.8 796.5h0M535.1 792.0h0M521.9 780.4h0M530.9 792.7h0M533.3 796.2h0M525.1 783.9h0M532.8 784.6h0M535.9 786.4h0M528.3 778.6h0M540.2 790.3h0M529.6 782.4h0M537.0 785.6h0M537.9 791.9h0M531.4 789.1h0M527.0 789.0h0M526.8 781.9h0M534.4 781.1h0M541.9 795.6h0M524.6 781.5h0M541.1 789.0h0M526.0 776.9h0M521.4 775.6h0M529.4 793.4h0M520.6 774.0h0M530.5 776.4h0M528.4 792.4h0M519.4 777.4h0M532.1 784.6h0M534.5 793.4h0M527.0 789.1h0M525.0 779.1h0M527.9 775.6h0M535.0 795.4h0M530.3 785.1h0M530.6 754.3h0M525.0 757.1h0M520.8 756.1h0M526.7 753.6h0M530.0 757.3h0M520.9 766.9h0M526.9 769.1h0M524.0 758.7h0M522.3 773.5h0M527.4 756.2h0M521.7 761.7h0M527.4 757.6h0" stroke="#d3d3d3" stroke-width="3" stroke-linecap="round" fill="none"/>
<path d="M529.7 689.2h0M537.2 681.6h0M539.7 675.3h0M504.4 698.0h0M505.7 708.1h0M524.6 681.6h0M508.2 689.2h0M525.9 682.9h0M532.2 687.9h0M522.1 704.3h0M522.1 684.2h0M527.1 677.9h0" stroke="#f8766d" stroke-width="3.1" stroke-linecap="round" fill="none"/>
<path d="M501.9 745.4h0M504.4 751.5h0M510.0 736.3h0M507.0 749.7h0" stroke="#d89000" stroke-width="3.1" stroke-linecap="round" fill="none"/>
<path d="M510.7 708.9h0M500.7 692.5h0M593.4 715.2h0" stroke="#a3a500" stroke-width="3.1" stroke-linecap="round" fill="none"/>
<path d="M517.1 703.1h0M530.9 694.2h0M520.8 691.7h0" stroke="#39b600" stroke-width="3.1" stroke-linecap="round" fill="none"/>
<path d="M493.6 753.5h0M498.1 756.5h0M491.8 745.9h0M494.4 766.1h0" stroke="#00bf7d" stroke-width="3.1" stroke-linecap="round" fill="none"/>
<path d="M494.4 759.8h0" stroke="#00bfc4" stroke-width="3.1" stroke-linecap="round" fill="none"/>
<path d="M530.2 790.8h0" stroke="#00b0f6" stroke-width="3.1" stroke-linecap="round" fill="none"/>
<path d="M514.5 686.7h0M536.7 694.7h0M522.1 698.5h0" stroke="#9590ff" stroke-width="3.1" stroke-linecap="round" fill="none"/>
<path d="M506.2 722.0h0" stroke="#ff62bc" stroke-width="3.1" stroke-linecap="round" fill="none"/>
<path d="M503.2 689.2h0M517.1 684.9h0M559.9 696.3h0M522.8 677.9h0M525.9 701.0h0M514.5 684.2h0M498.6 691.7h0M536.0 676.6h0M510.7 689.2h0M530.9 696.8h0M533.9 794.3h0M507.0 711.1h0M513.3 693.0h0M517.1 695.5h0M541.8 672.3h0M512.0 682.9h0M497.6 701.8h0M503.2 708.1h0" stroke="#f8766d" stroke-width="3.1" stroke-linecap="round" fill="none"/>
<path d="M512.0 735.3h0" stroke="#d89000" stroke-width="3.1" stroke-linecap="round" fill="none"/>
<path d="M525.9 687.4h0" stroke="#a3a500" stroke-width="3.1" stroke-linecap="round" fill="none"/>
<path d="M530.9 696.0h0M514.5 708.1h0M525.9 706.3h0M532.2 707.6h0M512.0 696.0h0M530.9 704.3h0" stroke="#39b600" stroke-width="3.1" stroke-linecap="round" fill="none"/>
<path d="M498.1 766.1h0" stroke="#00bf7d" stroke-width="3.1" stroke-linecap="round" fill="none"/>
<path d="M501.2 764.8h0M501.9 759.8h0M496.9 759.0h0" stroke="#00b0f6" stroke-width="3.1" stroke-linecap="round" fill="none"/>
<path d="M509.5 724.5h0M527.1 710.1h0" stroke="#ff62bc" stroke-width="3.1" stroke-linecap="round" fill="none"/>
<path d="M509.5 693.0h0M533.4 680.4h0M505.7 686.7h0M538.5 674.1h0M534.7 674.1h0M501.9 696.8h0M523.4 689.2h0M518.3 691.7h0M520.8 694.2h0M498.1 695.5h0M519.6 698.0h0" stroke="#f8766d" stroke-width="3.1" stroke-linecap="round" fill="none"/>
<path d="M505.2 745.9h0M503.2 738.4h0M498.1 747.2h0M494.4 748.9h0M515.8 713.6h0M500.2 753.0h0" stroke="#d89000" stroke-width="3.1" stroke-linecap="round" fill="none"/>
<path d="M507.0 687.9h0" stroke="#a3a500" stroke-width="3.1" stroke-linecap="round" fill="none"/>
<path d="M512.0 690.0h0M501.2 694.7h0M519.6 686.7h0" stroke="#39b600" stroke-width="3.1" stroke-linecap="round" fill="none"/>
<path d="M505.2 757.8h0M495.6 743.9h0" stroke="#00bf7d" stroke-width="3.1" stroke-linecap="round" fill="none"/>
<path d="M505.7 735.3h0M495.6 745.9h0" stroke="#00bfc4" stroke-width="3.1" stroke-linecap="round" fill="none"/>
<path d="M532.2 703.1h0M510.7 701.8h0M515.3 701.0h0" stroke="#e76bf3" stroke-width="3.1" stroke-linecap="round" fill="none"/>
<path d="M517.1 702.6h0" stroke="#ff62bc" stroke-width="3.1" stroke-linecap="round" fill="none"/>
<text x="537.7" y="653.9" textLength="30.5" lengthAdjust="spacingAndGlyphs">NP13</text>
<line x1="479.7" y1="660.7" x2="479.7" y2="805.9" stroke="#777" stroke-width="1.2"/>
<line x1="479.1" y1="805.4" x2="626.7" y2="805.4" stroke="#444" stroke-width="1"/>
<line x1="475.1" y1="676.6" x2="479.7" y2="676.6" stroke="#444" stroke-width="0.9"/>
<text x="469.9" y="680.9" text-anchor="end">5</text>
<line x1="475.1" y1="719.4" x2="479.7" y2="719.4" stroke="#444" stroke-width="0.9"/>
<text x="469.9" y="723.7" text-anchor="end">0</text>
<line x1="475.1" y1="762.3" x2="479.7" y2="762.3" stroke="#444" stroke-width="0.9"/>
<text x="469.9" y="766.6" text-anchor="end">−5</text>
<line x1="475.1" y1="805.4" x2="479.7" y2="805.4" stroke="#444" stroke-width="0.9"/>
<text x="469.9" y="809.7" text-anchor="end">−10</text>
<line x1="500.2" y1="805.4" x2="500.2" y2="809.8" stroke="#444" stroke-width="0.9"/>
<text x="500.2" y="824.2" text-anchor="middle">−5</text>
<line x1="543.5" y1="805.4" x2="543.5" y2="809.8" stroke="#444" stroke-width="0.9"/>
<text x="543.5" y="824.2" text-anchor="middle">0</text>
<line x1="587.1" y1="805.4" x2="587.1" y2="809.8" stroke="#444" stroke-width="0.9"/>
<text x="587.1" y="824.2" text-anchor="middle">5</text>
<text transform="translate(445.2 733.3) rotate(-90)" text-anchor="middle" textLength="52.5" lengthAdjust="spacingAndGlyphs">UMAP_2</text>
<text x="528.9" y="843.7" textLength="47.4" lengthAdjust="spacingAndGlyphs">UMAP_1</text>
<circle cx="664" cy="665.2" r="4.1" fill="#f8766d"/>
<text x="673.8" y="669.1" textLength="41.1" lengthAdjust="spacingAndGlyphs">Clone 1</text>
<circle cx="664" cy="680.97" r="4.1" fill="#d89000"/>
<text x="673.8" y="684.87" textLength="41.1" lengthAdjust="spacingAndGlyphs">Clone 2</text>
<circle cx="664" cy="696.74" r="4.1" fill="#a3a500"/>
<text x="673.8" y="700.64" textLength="41.1" lengthAdjust="spacingAndGlyphs">Clone 3</text>
<circle cx="664" cy="712.51" r="4.1" fill="#39b600"/>
<text x="673.8" y="716.41" textLength="41.1" lengthAdjust="spacingAndGlyphs">Clone 4</text>
<circle cx="664" cy="728.28" r="4.1" fill="#00bf7d"/>
<text x="673.8" y="732.18" textLength="41.1" lengthAdjust="spacingAndGlyphs">Clone 5</text>
<circle cx="664" cy="744.05" r="4.1" fill="#00bfc4"/>
<text x="673.8" y="747.95" textLength="41.1" lengthAdjust="spacingAndGlyphs">Clone 6</text>
<circle cx="664" cy="759.82" r="4.1" fill="#00b0f6"/>
<text x="673.8" y="763.72" textLength="41.1" lengthAdjust="spacingAndGlyphs">Clone 7</text>
<circle cx="664" cy="775.59" r="4.1" fill="#9590ff"/>
<text x="673.8" y="779.49" textLength="41.1" lengthAdjust="spacingAndGlyphs">Clone 8</text>
<circle cx="664" cy="791.36" r="4.1" fill="#e76bf3"/>
<text x="673.8" y="795.26" textLength="41.1" lengthAdjust="spacingAndGlyphs">Clone 9</text>
<circle cx="664" cy="807.13" r="4.1" fill="#ff62bc"/>
<text x="673.8" y="811.03" textLength="49.7" lengthAdjust="spacingAndGlyphs">Clone 10</text>
<circle cx="664" cy="822.9" r="4.1" fill="#d3d3d3"/>
<text x="673.8" y="826.8" textLength="49.7" lengthAdjust="spacingAndGlyphs">Total cell</text>
<text x="0.6" y="871.3" textLength="9.2" lengthAdjust="spacingAndGlyphs" font-weight="700" stroke="#111" stroke-width="0.7" stroke-linejoin="round" font-size="15">g</text>
<text transform="translate(18.7 952.8) rotate(-90)" text-anchor="middle" textLength="87.7" lengthAdjust="spacingAndGlyphs">Number of cells</text>
<text transform="translate(15.1 1087.5) rotate(-90)" text-anchor="middle" textLength="21.2" lengthAdjust="spacingAndGlyphs">UMI</text>
<text x="100.4" y="877" textLength="29.3" lengthAdjust="spacingAndGlyphs">NP11</text>
<rect x="56.9" y="1005.45" width="4.96" height="11.65" fill="#cab2d6"/>
<rect x="56.9" y="997.69" width="4.96" height="7.77" fill="#a9a9a9"/>
<rect x="56.9" y="888.96" width="4.96" height="108.72" fill="#1f78b4"/>
<rect x="61.81" y="962.74" width="4.96" height="54.36" fill="#a6cee3"/>
<rect x="66.72" y="1013.22" width="4.96" height="3.88" fill="#e31a1c"/>
<rect x="66.72" y="962.74" width="4.96" height="50.48" fill="#a6cee3"/>
<rect x="71.64" y="982.15" width="4.96" height="34.95" fill="#1f78b4"/>
<rect x="76.55" y="1013.22" width="4.96" height="3.88" fill="#a9a9a9"/>
<rect x="76.55" y="986.04" width="4.96" height="27.18" fill="#1f78b4"/>
<rect x="81.46" y="989.92" width="4.96" height="27.18" fill="#a6cee3"/>
<rect x="86.37" y="993.8" width="4.96" height="23.3" fill="#a6cee3"/>
<rect x="91.28" y="1013.22" width="4.96" height="3.88" fill="#33a02c"/>
<rect x="91.28" y="1005.45" width="4.96" height="7.77" fill="#1f78b4"/>
<rect x="96.2" y="1013.22" width="4.96" height="3.88" fill="#ffff99"/>
<rect x="96.2" y="1005.45" width="4.96" height="7.77" fill="#fdbf6f"/>
<rect x="101.11" y="1005.45" width="4.96" height="11.65" fill="#fb9a99"/>
<rect x="106.02" y="1005.45" width="4.96" height="11.65" fill="#a6cee3"/>
<rect x="110.93" y="1009.33" width="4.96" height="7.77" fill="#33a02c"/>
<rect x="115.84" y="1009.33" width="4.96" height="7.77" fill="#a6cee3"/>
<rect x="120.76" y="1009.33" width="4.96" height="7.77" fill="#a6cee3"/>
<rect x="125.67" y="1009.33" width="4.96" height="7.77" fill="#ffff99"/>
<rect x="130.58" y="1013.22" width="4.96" height="3.88" fill="#a6cee3"/>
<rect x="135.49" y="1013.22" width="4.96" height="3.88" fill="#33a02c"/>
<rect x="140.4" y="1013.22" width="4.96" height="3.88" fill="#a9a9a9"/>
<rect x="145.32" y="1013.22" width="4.96" height="3.88" fill="#cab2d6"/>
<rect x="150.23" y="1013.22" width="4.96" height="3.88" fill="#fb9a99"/>
<rect x="155.14" y="1013.22" width="4.96" height="3.88" fill="#fb9a99"/>
<rect x="160.05" y="1013.22" width="4.96" height="3.88" fill="#33a02c"/>
<rect x="164.96" y="1013.22" width="4.96" height="3.88" fill="#a6cee3"/>
<rect x="169.88" y="1013.22" width="4.96" height="3.88" fill="#1f78b4"/>
<rect x="51.1" y="882.6" width="129.5" height="141.1" fill="none" stroke="#7a7a7a" stroke-width="1"/>
<line x1="46.9" y1="900.6" x2="51.1" y2="900.6" stroke="#c4c4c4" stroke-width="1.6"/>
<text x="41.4" y="904.9" text-anchor="end">30</text>
<line x1="46.9" y1="939.5" x2="51.1" y2="939.5" stroke="#c4c4c4" stroke-width="1.6"/>
<text x="41.4" y="943.8" text-anchor="end">20</text>
<line x1="46.9" y1="978.4" x2="51.1" y2="978.4" stroke="#c4c4c4" stroke-width="1.6"/>
<text x="41.4" y="982.7" text-anchor="end">10</text>
<line x1="46.9" y1="1017.1" x2="51.1" y2="1017.1" stroke="#c4c4c4" stroke-width="1.6"/>
<text x="41.4" y="1021.4" text-anchor="end">0</text>
<text x="100.4" y="1039.7">TCR<tspan font-family="Liberation Serif" font-size="12.5">α</tspan></text>
<rect x="57.15" y="1059.14" width="4.41" height="15.85" fill="#595959"/>
<rect x="62.06" y="1060.1" width="4.41" height="14.89" fill="#595959"/>
<rect x="66.97" y="1044.01" width="4.41" height="30.97" fill="#595959"/>
<rect x="71.89" y="1059.14" width="4.41" height="15.85" fill="#595959"/>
<rect x="76.8" y="1054.09" width="4.41" height="20.89" fill="#595959"/>
<rect x="81.71" y="1055.29" width="4.41" height="19.69" fill="#595959"/>
<rect x="86.62" y="1060.1" width="4.41" height="14.89" fill="#595959"/>
<rect x="96.45" y="1066.1" width="4.41" height="8.88" fill="#595959"/>
<rect x="101.36" y="1063.22" width="4.41" height="11.76" fill="#595959"/>
<rect x="106.27" y="1060.1" width="4.41" height="14.89" fill="#595959"/>
<rect x="111.18" y="1063.22" width="4.41" height="11.76" fill="#595959"/>
<rect x="116.09" y="1065.62" width="4.41" height="9.36" fill="#595959"/>
<rect x="121.01" y="1064.42" width="4.41" height="10.56" fill="#595959"/>
<rect x="130.83" y="1065.62" width="4.41" height="9.36" fill="#595959"/>
<rect x="135.74" y="1071.14" width="4.41" height="3.84" fill="#595959"/>
<rect x="140.65" y="1066.1" width="4.41" height="8.88" fill="#595959"/>
<rect x="145.57" y="1063.94" width="4.41" height="11.04" fill="#595959"/>
<rect x="150.48" y="1059.14" width="4.41" height="15.85" fill="#595959"/>
<rect x="160.3" y="1068.02" width="4.41" height="6.96" fill="#595959"/>
<rect x="165.21" y="1069.7" width="4.41" height="5.28" fill="#595959"/>
<rect x="170.13" y="1071.14" width="4.41" height="3.84" fill="#595959"/>
<rect x="51.1" y="1042.6" width="129.5" height="33.6" fill="none" stroke="#555" stroke-width="1"/>
<line x1="46.9" y1="1052.4" x2="51.1" y2="1052.4" stroke="#555" stroke-width="0.9"/>
<text x="41.4" y="1056.7" text-anchor="end">100</text>
<line x1="46.9" y1="1063.7" x2="51.1" y2="1063.7" stroke="#555" stroke-width="0.9"/>
<text x="41.4" y="1068" text-anchor="end">10</text>
<line x1="46.9" y1="1075" x2="51.1" y2="1075" stroke="#555" stroke-width="0.9"/>
<text x="41.4" y="1079.3" text-anchor="end">1</text>
<text x="100.4" y="1090.8">TCR<tspan font-family="Liberation Serif" font-size="12.5">β</tspan></text>
<rect x="57.15" y="1099.95" width="4.41" height="29.05" fill="#595959"/>
<rect x="62.06" y="1099.95" width="4.41" height="29.05" fill="#595959"/>
<rect x="66.97" y="1098.03" width="4.41" height="30.97" fill="#595959"/>
<rect x="71.89" y="1108.84" width="4.41" height="20.17" fill="#595959"/>
<rect x="76.8" y="1102.11" width="4.41" height="26.89" fill="#595959"/>
<rect x="81.71" y="1103.07" width="4.41" height="25.93" fill="#595959"/>
<rect x="86.62" y="1117.96" width="4.41" height="11.04" fill="#595959"/>
<rect x="96.45" y="1120.84" width="4.41" height="8.16" fill="#595959"/>
<rect x="101.36" y="1114.6" width="4.41" height="14.41" fill="#595959"/>
<rect x="106.27" y="1116.52" width="4.41" height="12.48" fill="#595959"/>
<rect x="111.18" y="1104.03" width="4.41" height="24.97" fill="#595959"/>
<rect x="116.09" y="1100.67" width="4.41" height="28.33" fill="#595959"/>
<rect x="121.01" y="1113.16" width="4.41" height="15.85" fill="#595959"/>
<rect x="125.92" y="1124.92" width="4.41" height="4.08" fill="#595959"/>
<rect x="130.83" y="1122.28" width="4.41" height="6.72" fill="#595959"/>
<rect x="135.74" y="1115.08" width="4.41" height="13.93" fill="#595959"/>
<rect x="140.65" y="1111.24" width="4.41" height="17.77" fill="#595959"/>
<rect x="145.57" y="1112.2" width="4.41" height="16.81" fill="#595959"/>
<rect x="150.48" y="1117.24" width="4.41" height="11.76" fill="#595959"/>
<rect x="155.39" y="1124.92" width="4.41" height="4.08" fill="#595959"/>
<rect x="160.3" y="1113.16" width="4.41" height="15.85" fill="#595959"/>
<rect x="165.21" y="1104.03" width="4.41" height="24.97" fill="#595959"/>
<rect x="170.13" y="1114.6" width="4.41" height="14.41" fill="#595959"/>
<rect x="51.1" y="1096.3" width="129.5" height="34.1" fill="none" stroke="#333" stroke-width="1"/>
<line x1="46.9" y1="1101.2" x2="51.1" y2="1101.2" stroke="#555" stroke-width="0.9"/>
<text x="41.4" y="1105.5" text-anchor="end">100</text>
<line x1="46.9" y1="1115.3" x2="51.1" y2="1115.3" stroke="#555" stroke-width="0.9"/>
<text x="41.4" y="1119.6" text-anchor="end">10</text>
<line x1="46.9" y1="1129" x2="51.1" y2="1129" stroke="#555" stroke-width="0.9"/>
<text x="41.4" y="1133.3" text-anchor="end">1</text>
<line x1="59.3" y1="1130.4" x2="59.3" y2="1134.2" stroke="#555" stroke-width="1"/>
<text x="59.3" y="1147.4" text-anchor="middle">1</text>
<line x1="79" y1="1130.4" x2="79" y2="1134.2" stroke="#555" stroke-width="1"/>
<text x="79" y="1147.4" text-anchor="middle">5</text>
<line x1="103.5" y1="1130.4" x2="103.5" y2="1134.2" stroke="#555" stroke-width="1"/>
<text x="103.5" y="1147.4" text-anchor="middle">10</text>
<line x1="128" y1="1130.4" x2="128" y2="1134.2" stroke="#555" stroke-width="1"/>
<text x="128" y="1147.4" text-anchor="middle">15</text>
<line x1="152.5" y1="1130.4" x2="152.5" y2="1134.2" stroke="#555" stroke-width="1"/>
<text x="152.5" y="1147.4" text-anchor="middle">20</text>
<text x="76.8" y="1165.6" textLength="77.6" lengthAdjust="spacingAndGlyphs">Clone number</text>
<text x="333.9" y="877" textLength="30.3" lengthAdjust="spacingAndGlyphs">NP12</text>
<rect x="250.2" y="1013.02" width="4.54" height="3.98" fill="#6a3d9a"/>
<rect x="250.2" y="1000.17" width="4.54" height="12.85" fill="#cab2d6"/>
<rect x="250.2" y="988.85" width="4.54" height="11.32" fill="#e31a1c"/>
<rect x="250.2" y="984.26" width="4.54" height="4.59" fill="#33a02c"/>
<rect x="250.2" y="890.01" width="4.54" height="94.25" fill="#a6cee3"/>
<rect x="254.69" y="1015.78" width="4.54" height="1.22" fill="#6a3d9a"/>
<rect x="254.69" y="994.05" width="4.54" height="21.73" fill="#1f78b4"/>
<rect x="259.17" y="1016.08" width="4.54" height="0.92" fill="#6a3d9a"/>
<rect x="259.17" y="1002.31" width="4.54" height="13.77" fill="#a9a9a9"/>
<rect x="259.17" y="995.58" width="4.54" height="6.73" fill="#1f78b4"/>
<rect x="263.66" y="1014.55" width="4.54" height="2.45" fill="#a9a9a9"/>
<rect x="263.66" y="1002.31" width="4.54" height="12.24" fill="#1f78b4"/>
<rect x="268.15" y="1004.15" width="4.54" height="12.85" fill="#fb9a99"/>
<rect x="272.63" y="1006.9" width="4.54" height="10.1" fill="#1f78b4"/>
<rect x="277.12" y="1016.08" width="4.54" height="0.92" fill="#a9a9a9"/>
<rect x="277.12" y="1009.35" width="4.54" height="6.73" fill="#1f78b4"/>
<rect x="281.61" y="1012.1" width="4.54" height="4.9" fill="#1f78b4"/>
<rect x="286.1" y="1015.16" width="4.54" height="1.84" fill="#a9a9a9"/>
<rect x="286.1" y="1013.33" width="4.54" height="1.84" fill="#1f78b4"/>
<rect x="290.58" y="1013.33" width="4.54" height="3.67" fill="#fb9a99"/>
<rect x="295.07" y="1014.55" width="4.54" height="2.45" fill="#1f78b4"/>
<rect x="299.56" y="1015.78" width="4.54" height="1.22" fill="#a9a9a9"/>
<rect x="299.56" y="1014.55" width="4.54" height="1.22" fill="#1f78b4"/>
<rect x="304.04" y="1014.55" width="4.54" height="2.45" fill="#1f78b4"/>
<rect x="308.53" y="1015.47" width="4.54" height="1.53" fill="#e7298a"/>
<rect x="313.02" y="1015.47" width="4.54" height="1.53" fill="#fb9a99"/>
<rect x="317.5" y="1015.47" width="4.54" height="1.53" fill="#a6cee3"/>
<rect x="321.99" y="1015.47" width="4.54" height="1.53" fill="#1f78b4"/>
<rect x="326.48" y="1015.78" width="4.54" height="1.22" fill="#1f78b4"/>
<rect x="330.97" y="1015.78" width="4.54" height="1.22" fill="#1f78b4"/>
<rect x="335.45" y="1016.08" width="4.54" height="0.92" fill="#a6cee3"/>
<rect x="339.94" y="1016.08" width="4.54" height="0.92" fill="#a6cee3"/>
<rect x="344.43" y="1016.08" width="4.54" height="0.92" fill="#ffff99"/>
<rect x="348.91" y="1016.08" width="4.54" height="0.92" fill="#fb9a99"/>
<rect x="353.4" y="1016.08" width="4.54" height="0.92" fill="#fb9a99"/>
<rect x="357.89" y="1016.08" width="4.54" height="0.92" fill="#1f78b4"/>
<rect x="362.38" y="1016.08" width="4.54" height="0.92" fill="#1f78b4"/>
<rect x="366.86" y="1016.39" width="4.54" height="0.61" fill="#a6cee3"/>
<rect x="371.35" y="1016.39" width="4.54" height="0.61" fill="#1f78b4"/>
<rect x="375.84" y="1016.39" width="4.54" height="0.61" fill="#ffff99"/>
<rect x="380.32" y="1016.39" width="4.54" height="0.61" fill="#a6cee3"/>
<rect x="384.81" y="1016.39" width="4.54" height="0.61" fill="#1f78b4"/>
<rect x="389.3" y="1016.39" width="4.54" height="0.61" fill="#a6cee3"/>
<rect x="393.78" y="1016.39" width="4.54" height="0.61" fill="#a6cee3"/>
<rect x="398.27" y="1016.69" width="4.54" height="0.31" fill="#fb9a99"/>
<rect x="402.76" y="1016.69" width="4.54" height="0.31" fill="#fb9a99"/>
<rect x="407.25" y="1016.69" width="4.54" height="0.31" fill="#a6cee3"/>
<rect x="411.73" y="1016.69" width="4.54" height="0.31" fill="#cab2d6"/>
<rect x="416.22" y="1016.69" width="4.54" height="0.31" fill="#a6cee3"/>
<rect x="420.71" y="1016.69" width="4.54" height="0.31" fill="#fb9a99"/>
<rect x="425.19" y="1016.69" width="4.54" height="0.31" fill="#ffff99"/>
<rect x="429.68" y="1016.69" width="4.54" height="0.31" fill="#a6cee3"/>
<rect x="434.17" y="1016.69" width="4.54" height="0.31" fill="#fb9a99"/>
<rect x="438.65" y="1016.69" width="4.54" height="0.31" fill="#cab2d6"/>
<rect x="443.14" y="1016.69" width="4.54" height="0.31" fill="#a6cee3"/>
<rect x="240.6" y="883.7" width="217" height="139.8" fill="none" stroke="#7a7a7a" stroke-width="1"/>
<line x1="236.4" y1="894.6" x2="240.6" y2="894.6" stroke="#c4c4c4" stroke-width="1.6"/>
<text x="230.9" y="898.9" text-anchor="end">400</text>
<line x1="236.4" y1="925.2" x2="240.6" y2="925.2" stroke="#c4c4c4" stroke-width="1.6"/>
<text x="230.9" y="929.5" text-anchor="end">300</text>
<line x1="236.4" y1="955.5" x2="240.6" y2="955.5" stroke="#c4c4c4" stroke-width="1.6"/>
<text x="230.9" y="959.8" text-anchor="end">200</text>
<line x1="236.4" y1="986.4" x2="240.6" y2="986.4" stroke="#c4c4c4" stroke-width="1.6"/>
<text x="230.9" y="990.7" text-anchor="end">100</text>
<line x1="236.4" y1="1017" x2="240.6" y2="1017" stroke="#c4c4c4" stroke-width="1.6"/>
<text x="230.9" y="1021.3" text-anchor="end">0</text>
<text x="332.8" y="1039.4">TCR<tspan font-family="Liberation Serif" font-size="12.5">α</tspan></text>
<rect x="250.45" y="1055.01" width="3.99" height="20.1" fill="#595959"/>
<rect x="254.94" y="1055.66" width="3.99" height="19.45" fill="#595959"/>
<rect x="259.42" y="1052.09" width="3.99" height="23.01" fill="#595959"/>
<rect x="263.91" y="1054.04" width="3.99" height="21.07" fill="#595959"/>
<rect x="268.4" y="1044.31" width="3.99" height="30.79" fill="#595959"/>
<rect x="277.37" y="1064.08" width="3.99" height="11.02" fill="#595959"/>
<rect x="281.86" y="1058.25" width="3.99" height="16.86" fill="#595959"/>
<rect x="286.35" y="1059.55" width="3.99" height="15.56" fill="#595959"/>
<rect x="290.83" y="1062.14" width="3.99" height="12.97" fill="#595959"/>
<rect x="295.32" y="1058.25" width="3.99" height="16.86" fill="#595959"/>
<rect x="299.81" y="1058.9" width="3.99" height="16.21" fill="#595959"/>
<rect x="304.29" y="1058.25" width="3.99" height="16.86" fill="#595959"/>
<rect x="308.78" y="1056.3" width="3.99" height="18.8" fill="#595959"/>
<rect x="313.27" y="1059.55" width="3.99" height="15.56" fill="#595959"/>
<rect x="317.75" y="1059.55" width="3.99" height="15.56" fill="#595959"/>
<rect x="322.24" y="1059.55" width="3.99" height="15.56" fill="#595959"/>
<rect x="326.73" y="1064.08" width="3.99" height="11.02" fill="#595959"/>
<rect x="331.22" y="1064.08" width="3.99" height="11.02" fill="#595959"/>
<rect x="335.7" y="1062.14" width="3.99" height="12.97" fill="#595959"/>
<rect x="340.19" y="1056.3" width="3.99" height="18.8" fill="#595959"/>
<rect x="344.68" y="1064.08" width="3.99" height="11.02" fill="#595959"/>
<rect x="349.16" y="1058.25" width="3.99" height="16.86" fill="#595959"/>
<rect x="353.65" y="1049.17" width="3.99" height="25.93" fill="#595959"/>
<rect x="358.14" y="1057.93" width="3.99" height="17.18" fill="#595959"/>
<rect x="362.62" y="1063.44" width="3.99" height="11.67" fill="#595959"/>
<rect x="376.09" y="1062.79" width="3.99" height="12.32" fill="#595959"/>
<rect x="385.06" y="1065.38" width="3.99" height="9.72" fill="#595959"/>
<rect x="389.55" y="1071.22" width="3.99" height="3.89" fill="#595959"/>
<rect x="394.03" y="1063.44" width="3.99" height="11.67" fill="#595959"/>
<rect x="398.52" y="1061.49" width="3.99" height="13.61" fill="#595959"/>
<rect x="403.01" y="1069.27" width="3.99" height="5.83" fill="#595959"/>
<rect x="407.5" y="1058.57" width="3.99" height="16.53" fill="#595959"/>
<rect x="411.98" y="1053.06" width="3.99" height="22.04" fill="#595959"/>
<rect x="416.47" y="1062.14" width="3.99" height="12.97" fill="#595959"/>
<rect x="420.96" y="1055.66" width="3.99" height="19.45" fill="#595959"/>
<rect x="425.44" y="1056.63" width="3.99" height="18.48" fill="#595959"/>
<rect x="429.93" y="1055.01" width="3.99" height="20.1" fill="#595959"/>
<rect x="434.42" y="1055.01" width="3.99" height="20.1" fill="#595959"/>
<rect x="438.9" y="1044.31" width="3.99" height="30.79" fill="#595959"/>
<rect x="240.6" y="1043.3" width="217" height="32.8" fill="none" stroke="#555" stroke-width="1"/>
<line x1="236.4" y1="1049.8" x2="240.6" y2="1049.8" stroke="#555" stroke-width="0.9"/>
<text x="230.9" y="1054.1" text-anchor="end">100</text>
<line x1="236.4" y1="1062.5" x2="240.6" y2="1062.5" stroke="#555" stroke-width="0.9"/>
<text x="230.9" y="1066.8" text-anchor="end">10</text>
<line x1="236.4" y1="1075.1" x2="240.6" y2="1075.1" stroke="#555" stroke-width="0.9"/>
<text x="230.9" y="1079.4" text-anchor="end">1</text>
<text x="332.8" y="1089.7">TCR<tspan font-family="Liberation Serif" font-size="12.5">β</tspan></text>
<rect x="250.45" y="1102.33" width="3.99" height="26.26" fill="#595959"/>
<rect x="254.94" y="1102.33" width="3.99" height="26.26" fill="#595959"/>
<rect x="259.42" y="1101.36" width="3.99" height="27.23" fill="#595959"/>
<rect x="263.91" y="1105.25" width="3.99" height="23.34" fill="#595959"/>
<rect x="268.4" y="1116.6" width="3.99" height="11.99" fill="#595959"/>
<rect x="272.88" y="1110.11" width="3.99" height="18.48" fill="#595959"/>
<rect x="277.37" y="1102.33" width="3.99" height="26.26" fill="#595959"/>
<rect x="281.86" y="1117.57" width="3.99" height="11.02" fill="#595959"/>
<rect x="286.35" y="1098.12" width="3.99" height="30.47" fill="#595959"/>
<rect x="290.83" y="1114.33" width="3.99" height="14.26" fill="#595959"/>
<rect x="295.32" y="1103.95" width="3.99" height="24.64" fill="#595959"/>
<rect x="299.81" y="1098.12" width="3.99" height="30.47" fill="#595959"/>
<rect x="304.29" y="1109.14" width="3.99" height="19.45" fill="#595959"/>
<rect x="308.78" y="1105.25" width="3.99" height="23.34" fill="#595959"/>
<rect x="313.27" y="1114.33" width="3.99" height="14.26" fill="#595959"/>
<rect x="317.75" y="1106.22" width="3.99" height="22.37" fill="#595959"/>
<rect x="322.24" y="1106.22" width="3.99" height="22.37" fill="#595959"/>
<rect x="326.73" y="1124.38" width="3.99" height="4.21" fill="#595959"/>
<rect x="331.22" y="1107.2" width="3.99" height="21.39" fill="#595959"/>
<rect x="335.7" y="1101.69" width="3.99" height="26.9" fill="#595959"/>
<rect x="340.19" y="1103.95" width="3.99" height="24.64" fill="#595959"/>
<rect x="344.68" y="1104.93" width="3.99" height="23.66" fill="#595959"/>
<rect x="349.16" y="1110.76" width="3.99" height="17.83" fill="#595959"/>
<rect x="353.65" y="1101.36" width="3.99" height="27.23" fill="#595959"/>
<rect x="358.14" y="1112.06" width="3.99" height="16.53" fill="#595959"/>
<rect x="362.62" y="1111.41" width="3.99" height="17.18" fill="#595959"/>
<rect x="367.11" y="1118.87" width="3.99" height="9.72" fill="#595959"/>
<rect x="371.6" y="1116.27" width="3.99" height="12.32" fill="#595959"/>
<rect x="376.09" y="1118.87" width="3.99" height="9.72" fill="#595959"/>
<rect x="380.57" y="1116.27" width="3.99" height="12.32" fill="#595959"/>
<rect x="385.06" y="1116.6" width="3.99" height="11.99" fill="#595959"/>
<rect x="389.55" y="1117.57" width="3.99" height="11.02" fill="#595959"/>
<rect x="398.52" y="1110.11" width="3.99" height="18.48" fill="#595959"/>
<rect x="403.01" y="1102.33" width="3.99" height="26.26" fill="#595959"/>
<rect x="407.5" y="1102.33" width="3.99" height="26.26" fill="#595959"/>
<rect x="411.98" y="1114" width="3.99" height="14.59" fill="#595959"/>
<rect x="416.47" y="1112.38" width="3.99" height="16.21" fill="#595959"/>
<rect x="420.96" y="1102.33" width="3.99" height="26.26" fill="#595959"/>
<rect x="425.44" y="1120.16" width="3.99" height="8.43" fill="#595959"/>
<rect x="429.93" y="1105.9" width="3.99" height="22.69" fill="#595959"/>
<rect x="434.42" y="1100.06" width="3.99" height="28.53" fill="#595959"/>
<rect x="438.9" y="1102.33" width="3.99" height="26.26" fill="#595959"/>
<rect x="443.39" y="1101.36" width="3.99" height="27.23" fill="#595959"/>
<rect x="240.6" y="1096.8" width="217" height="33.4" fill="none" stroke="#333" stroke-width="1"/>
<line x1="236.4" y1="1101" x2="240.6" y2="1101" stroke="#555" stroke-width="0.9"/>
<text x="230.9" y="1105.3" text-anchor="end">100</text>
<line x1="236.4" y1="1114.7" x2="240.6" y2="1114.7" stroke="#555" stroke-width="0.9"/>
<text x="230.9" y="1119" text-anchor="end">10</text>
<line x1="236.4" y1="1127.9" x2="240.6" y2="1127.9" stroke="#555" stroke-width="0.9"/>
<text x="230.9" y="1132.2" text-anchor="end">1</text>
<line x1="252" y1="1130.2" x2="252" y2="1134" stroke="#555" stroke-width="1"/>
<text x="252" y="1147.4" text-anchor="middle">1</text>
<line x1="292.6" y1="1130.2" x2="292.6" y2="1134" stroke="#555" stroke-width="1"/>
<text x="292.6" y="1147.4" text-anchor="middle">10</text>
<line x1="337.3" y1="1130.2" x2="337.3" y2="1134" stroke="#555" stroke-width="1"/>
<text x="337.3" y="1147.4" text-anchor="middle">20</text>
<line x1="382" y1="1130.2" x2="382" y2="1134" stroke="#555" stroke-width="1"/>
<text x="382" y="1147.4" text-anchor="middle">30</text>
<line x1="426.8" y1="1130.2" x2="426.8" y2="1134" stroke="#555" stroke-width="1"/>
<text x="426.8" y="1147.4" text-anchor="middle">40</text>
<text x="310.1" y="1165.6" textLength="78.4" lengthAdjust="spacingAndGlyphs">Clone number</text>
<text x="610" y="877" textLength="30.2" lengthAdjust="spacingAndGlyphs">NP13</text>
<rect x="522.8" y="1014.83" width="4.32" height="1.97" fill="#cab2d6"/>
<rect x="522.8" y="983.24" width="4.32" height="31.58" fill="#fb9a99"/>
<rect x="522.8" y="981.27" width="4.32" height="1.97" fill="#33a02c"/>
<rect x="522.8" y="888.49" width="4.32" height="92.78" fill="#a6cee3"/>
<rect x="527.07" y="1014.83" width="4.32" height="1.97" fill="#e31a1c"/>
<rect x="527.07" y="1004.96" width="4.32" height="9.87" fill="#a9a9a9"/>
<rect x="527.07" y="989.16" width="4.32" height="15.79" fill="#1f78b4"/>
<rect x="531.34" y="1014.83" width="4.32" height="1.97" fill="#fb9a99"/>
<rect x="531.34" y="991.14" width="4.32" height="23.69" fill="#a6cee3"/>
<rect x="535.61" y="991.14" width="4.32" height="25.66" fill="#a6cee3"/>
<rect x="539.88" y="1001.01" width="4.32" height="15.79" fill="#1f78b4"/>
<rect x="544.15" y="1012.85" width="4.32" height="3.95" fill="#a9a9a9"/>
<rect x="544.15" y="1006.93" width="4.32" height="5.92" fill="#1f78b4"/>
<rect x="548.42" y="1014.83" width="4.32" height="1.97" fill="#cab2d6"/>
<rect x="548.42" y="1006.93" width="4.32" height="7.9" fill="#1f78b4"/>
<rect x="552.69" y="1006.93" width="4.32" height="9.87" fill="#a6cee3"/>
<rect x="556.96" y="1014.83" width="4.32" height="1.97" fill="#a9a9a9"/>
<rect x="556.96" y="1006.93" width="4.32" height="7.9" fill="#a6cee3"/>
<rect x="561.23" y="1014.83" width="4.32" height="1.97" fill="#e31a1c"/>
<rect x="561.23" y="1008.9" width="4.32" height="5.92" fill="#a6cee3"/>
<rect x="565.5" y="1008.9" width="4.32" height="7.9" fill="#1f78b4"/>
<rect x="569.77" y="1010.88" width="4.32" height="5.92" fill="#1f78b4"/>
<rect x="574.04" y="1014.83" width="4.32" height="1.97" fill="#cab2d6"/>
<rect x="574.04" y="1010.88" width="4.32" height="3.95" fill="#1f78b4"/>
<rect x="578.31" y="1010.88" width="4.32" height="5.92" fill="#a6cee3"/>
<rect x="582.58" y="1010.88" width="4.32" height="5.92" fill="#1f78b4"/>
<rect x="586.85" y="1010.88" width="4.32" height="5.92" fill="#1f78b4"/>
<rect x="591.12" y="1014.83" width="4.32" height="1.97" fill="#ffff99"/>
<rect x="591.12" y="1012.85" width="4.32" height="1.97" fill="#33a02c"/>
<rect x="595.39" y="1014.83" width="4.32" height="1.97" fill="#fdbf6f"/>
<rect x="595.39" y="1012.85" width="4.32" height="1.97" fill="#a6cee3"/>
<rect x="599.66" y="1012.85" width="4.32" height="3.95" fill="#1f78b4"/>
<rect x="603.93" y="1014.83" width="4.32" height="1.97" fill="#e31a1c"/>
<rect x="603.93" y="1012.85" width="4.32" height="1.97" fill="#a6cee3"/>
<rect x="608.2" y="1012.85" width="4.32" height="3.95" fill="#a6cee3"/>
<rect x="612.47" y="1012.85" width="4.32" height="3.95" fill="#a6cee3"/>
<rect x="616.74" y="1014.83" width="4.32" height="1.97" fill="#6a3d9a"/>
<rect x="616.74" y="1012.85" width="4.32" height="1.97" fill="#1f78b4"/>
<rect x="621.01" y="1012.85" width="4.32" height="3.95" fill="#1f78b4"/>
<rect x="625.28" y="1012.85" width="4.32" height="3.95" fill="#1f78b4"/>
<rect x="629.55" y="1012.85" width="4.32" height="3.95" fill="#1f78b4"/>
<rect x="633.82" y="1014.83" width="4.32" height="1.97" fill="#cab2d6"/>
<rect x="633.82" y="1012.85" width="4.32" height="1.97" fill="#1f78b4"/>
<rect x="638.09" y="1014.83" width="4.32" height="1.97" fill="#e31a1c"/>
<rect x="638.09" y="1012.85" width="4.32" height="1.97" fill="#a6cee3"/>
<rect x="642.36" y="1012.85" width="4.32" height="3.95" fill="#1f78b4"/>
<rect x="646.63" y="1014.83" width="4.32" height="1.97" fill="#cab2d6"/>
<rect x="646.63" y="1012.85" width="4.32" height="1.97" fill="#1f78b4"/>
<rect x="650.9" y="1014.83" width="4.32" height="1.97" fill="#1f78b4"/>
<rect x="655.17" y="1014.83" width="4.32" height="1.97" fill="#a6cee3"/>
<rect x="659.44" y="1014.83" width="4.32" height="1.97" fill="#a6cee3"/>
<rect x="663.71" y="1014.83" width="4.32" height="1.97" fill="#a6cee3"/>
<rect x="667.98" y="1014.83" width="4.32" height="1.97" fill="#a6cee3"/>
<rect x="672.25" y="1014.83" width="4.32" height="1.97" fill="#1f78b4"/>
<rect x="676.52" y="1014.83" width="4.32" height="1.97" fill="#1f78b4"/>
<rect x="680.79" y="1014.83" width="4.32" height="1.97" fill="#a6cee3"/>
<rect x="685.06" y="1014.83" width="4.32" height="1.97" fill="#1f78b4"/>
<rect x="689.33" y="1014.83" width="4.32" height="1.97" fill="#a6cee3"/>
<rect x="693.6" y="1014.83" width="4.32" height="1.97" fill="#ffff99"/>
<rect x="697.87" y="1014.83" width="4.32" height="1.97" fill="#cab2d6"/>
<rect x="702.14" y="1014.83" width="4.32" height="1.97" fill="#1f78b4"/>
<rect x="706.41" y="1014.83" width="4.32" height="1.97" fill="#a6cee3"/>
<rect x="710.68" y="1014.83" width="4.32" height="1.97" fill="#33a02c"/>
<rect x="714.95" y="1014.83" width="4.32" height="1.97" fill="#fdbf6f"/>
<rect x="719.22" y="1014.83" width="4.32" height="1.97" fill="#a6cee3"/>
<rect x="723.49" y="1014.83" width="4.32" height="1.97" fill="#1f78b4"/>
<rect x="512.8" y="882.6" width="224.9" height="140.6" fill="none" stroke="#7a7a7a" stroke-width="1"/>
<line x1="508.6" y1="898.4" x2="512.8" y2="898.4" stroke="#c4c4c4" stroke-width="1.6"/>
<text x="503.1" y="902.7" text-anchor="end">60</text>
<line x1="508.6" y1="938" x2="512.8" y2="938" stroke="#c4c4c4" stroke-width="1.6"/>
<text x="503.1" y="942.3" text-anchor="end">40</text>
<line x1="508.6" y1="977.5" x2="512.8" y2="977.5" stroke="#c4c4c4" stroke-width="1.6"/>
<text x="503.1" y="981.8" text-anchor="end">20</text>
<line x1="508.6" y1="1016.8" x2="512.8" y2="1016.8" stroke="#c4c4c4" stroke-width="1.6"/>
<text x="503.1" y="1021.1" text-anchor="end">0</text>
<text x="609.4" y="1038.5">TCR<tspan font-family="Liberation Serif" font-size="12.5">α</tspan></text>
<rect x="523.05" y="1048.53" width="3.77" height="26.58" fill="#595959"/>
<rect x="527.32" y="1067" width="3.77" height="8.1" fill="#595959"/>
<rect x="531.59" y="1055.01" width="3.77" height="20.1" fill="#595959"/>
<rect x="535.86" y="1051.44" width="3.77" height="23.66" fill="#595959"/>
<rect x="540.13" y="1060.19" width="3.77" height="14.91" fill="#595959"/>
<rect x="544.4" y="1059.22" width="3.77" height="15.88" fill="#595959"/>
<rect x="548.67" y="1060.19" width="3.77" height="14.91" fill="#595959"/>
<rect x="552.94" y="1049.17" width="3.77" height="25.93" fill="#595959"/>
<rect x="557.21" y="1061.49" width="3.77" height="13.61" fill="#595959"/>
<rect x="561.48" y="1056.3" width="3.77" height="18.8" fill="#595959"/>
<rect x="565.75" y="1055.66" width="3.77" height="19.45" fill="#595959"/>
<rect x="570.02" y="1058.25" width="3.77" height="16.86" fill="#595959"/>
<rect x="574.29" y="1070.89" width="3.77" height="4.21" fill="#595959"/>
<rect x="578.56" y="1063.11" width="3.77" height="11.99" fill="#595959"/>
<rect x="582.83" y="1070.89" width="3.77" height="4.21" fill="#595959"/>
<rect x="587.1" y="1063.11" width="3.77" height="11.99" fill="#595959"/>
<rect x="604.18" y="1064.41" width="3.77" height="10.7" fill="#595959"/>
<rect x="608.45" y="1044.31" width="3.77" height="30.79" fill="#595959"/>
<rect x="612.72" y="1049.17" width="3.77" height="25.93" fill="#595959"/>
<rect x="616.99" y="1070.89" width="3.77" height="4.21" fill="#595959"/>
<rect x="621.26" y="1067" width="3.77" height="8.1" fill="#595959"/>
<rect x="625.53" y="1060.19" width="3.77" height="14.91" fill="#595959"/>
<rect x="629.8" y="1060.19" width="3.77" height="14.91" fill="#595959"/>
<rect x="634.07" y="1065.06" width="3.77" height="10.05" fill="#595959"/>
<rect x="638.34" y="1059.22" width="3.77" height="15.88" fill="#595959"/>
<rect x="642.61" y="1060.19" width="3.77" height="14.91" fill="#595959"/>
<rect x="646.88" y="1054.36" width="3.77" height="20.75" fill="#595959"/>
<rect x="651.15" y="1065.06" width="3.77" height="10.05" fill="#595959"/>
<rect x="655.42" y="1060.19" width="3.77" height="14.91" fill="#595959"/>
<rect x="663.96" y="1067" width="3.77" height="8.1" fill="#595959"/>
<rect x="668.23" y="1065.38" width="3.77" height="9.72" fill="#595959"/>
<rect x="676.77" y="1067" width="3.77" height="8.1" fill="#595959"/>
<rect x="681.04" y="1068.62" width="3.77" height="6.48" fill="#595959"/>
<rect x="685.31" y="1068.62" width="3.77" height="6.48" fill="#595959"/>
<rect x="689.58" y="1070.89" width="3.77" height="4.21" fill="#595959"/>
<rect x="693.85" y="1068.62" width="3.77" height="6.48" fill="#595959"/>
<rect x="698.12" y="1068.62" width="3.77" height="6.48" fill="#595959"/>
<rect x="702.39" y="1060.19" width="3.77" height="14.91" fill="#595959"/>
<rect x="706.66" y="1067" width="3.77" height="8.1" fill="#595959"/>
<rect x="710.93" y="1063.11" width="3.77" height="11.99" fill="#595959"/>
<rect x="719.47" y="1068.62" width="3.77" height="6.48" fill="#595959"/>
<rect x="723.74" y="1054.36" width="3.77" height="20.75" fill="#595959"/>
<rect x="512.8" y="1042.7" width="224.9" height="33.4" fill="none" stroke="#555" stroke-width="1"/>
<line x1="508.6" y1="1046.6" x2="512.8" y2="1046.6" stroke="#555" stroke-width="0.9"/>
<text x="503.1" y="1050.9" text-anchor="end">100</text>
<line x1="508.6" y1="1060.8" x2="512.8" y2="1060.8" stroke="#555" stroke-width="0.9"/>
<text x="503.1" y="1065.1" text-anchor="end">10</text>
<line x1="508.6" y1="1075.1" x2="512.8" y2="1075.1" stroke="#555" stroke-width="0.9"/>
<text x="503.1" y="1079.4" text-anchor="end">1</text>
<text x="609.4" y="1090.3">TCR<tspan font-family="Liberation Serif" font-size="12.5">β</tspan></text>
<rect x="523.05" y="1107.84" width="3.77" height="21.07" fill="#595959"/>
<rect x="527.32" y="1120.49" width="3.77" height="8.43" fill="#595959"/>
<rect x="531.59" y="1098.12" width="3.77" height="30.79" fill="#595959"/>
<rect x="535.86" y="1118.22" width="3.77" height="10.7" fill="#595959"/>
<rect x="540.13" y="1105.25" width="3.77" height="23.66" fill="#595959"/>
<rect x="544.4" y="1120.49" width="3.77" height="8.43" fill="#595959"/>
<rect x="548.67" y="1112.38" width="3.77" height="16.53" fill="#595959"/>
<rect x="552.94" y="1104.28" width="3.77" height="24.64" fill="#595959"/>
<rect x="557.21" y="1101.36" width="3.77" height="27.55" fill="#595959"/>
<rect x="561.48" y="1102.33" width="3.77" height="26.58" fill="#595959"/>
<rect x="565.75" y="1117.24" width="3.77" height="11.67" fill="#595959"/>
<rect x="570.02" y="1108.17" width="3.77" height="20.75" fill="#595959"/>
<rect x="574.29" y="1112.38" width="3.77" height="16.53" fill="#595959"/>
<rect x="578.56" y="1115.95" width="3.77" height="12.97" fill="#595959"/>
<rect x="582.83" y="1112.38" width="3.77" height="16.53" fill="#595959"/>
<rect x="587.1" y="1111.41" width="3.77" height="17.5" fill="#595959"/>
<rect x="591.37" y="1118.22" width="3.77" height="10.7" fill="#595959"/>
<rect x="595.64" y="1122.43" width="3.77" height="6.48" fill="#595959"/>
<rect x="599.91" y="1106.22" width="3.77" height="22.69" fill="#595959"/>
<rect x="604.18" y="1117.24" width="3.77" height="11.67" fill="#595959"/>
<rect x="608.45" y="1104.28" width="3.77" height="24.64" fill="#595959"/>
<rect x="612.72" y="1118.22" width="3.77" height="10.7" fill="#595959"/>
<rect x="616.99" y="1120.49" width="3.77" height="8.43" fill="#595959"/>
<rect x="621.26" y="1117.24" width="3.77" height="11.67" fill="#595959"/>
<rect x="625.53" y="1106.22" width="3.77" height="22.69" fill="#595959"/>
<rect x="629.8" y="1120.49" width="3.77" height="8.43" fill="#595959"/>
<rect x="634.07" y="1109.14" width="3.77" height="19.77" fill="#595959"/>
<rect x="638.34" y="1111.41" width="3.77" height="17.5" fill="#595959"/>
<rect x="642.61" y="1111.41" width="3.77" height="17.5" fill="#595959"/>
<rect x="646.88" y="1106.22" width="3.77" height="22.69" fill="#595959"/>
<rect x="655.42" y="1124.7" width="3.77" height="4.21" fill="#595959"/>
<rect x="659.69" y="1118.22" width="3.77" height="10.7" fill="#595959"/>
<rect x="663.96" y="1119.19" width="3.77" height="9.72" fill="#595959"/>
<rect x="668.23" y="1114.98" width="3.77" height="13.94" fill="#595959"/>
<rect x="672.5" y="1124.7" width="3.77" height="4.21" fill="#595959"/>
<rect x="676.77" y="1111.41" width="3.77" height="17.5" fill="#595959"/>
<rect x="681.04" y="1113.03" width="3.77" height="15.88" fill="#595959"/>
<rect x="685.31" y="1113.03" width="3.77" height="15.88" fill="#595959"/>
<rect x="689.58" y="1113.68" width="3.77" height="15.24" fill="#595959"/>
<rect x="693.85" y="1109.47" width="3.77" height="19.45" fill="#595959"/>
<rect x="698.12" y="1124.7" width="3.77" height="4.21" fill="#595959"/>
<rect x="702.39" y="1113.03" width="3.77" height="15.88" fill="#595959"/>
<rect x="706.66" y="1113.68" width="3.77" height="15.24" fill="#595959"/>
<rect x="715.2" y="1124.7" width="3.77" height="4.21" fill="#595959"/>
<rect x="719.47" y="1116.27" width="3.77" height="12.64" fill="#595959"/>
<rect x="723.74" y="1124.7" width="3.77" height="4.21" fill="#595959"/>
<rect x="512.8" y="1096.5" width="224.9" height="34.4" fill="none" stroke="#333" stroke-width="1"/>
<line x1="508.6" y1="1100.4" x2="512.8" y2="1100.4" stroke="#555" stroke-width="0.9"/>
<text x="503.1" y="1104.7" text-anchor="end">100</text>
<line x1="508.6" y1="1114.7" x2="512.8" y2="1114.7" stroke="#555" stroke-width="0.9"/>
<text x="503.1" y="1119" text-anchor="end">10</text>
<line x1="508.6" y1="1128.9" x2="512.8" y2="1128.9" stroke="#555" stroke-width="0.9"/>
<text x="503.1" y="1133.2" text-anchor="end">1</text>
<line x1="524.1" y1="1130.9" x2="524.1" y2="1134.7" stroke="#555" stroke-width="1"/>
<text x="524.1" y="1147.4" text-anchor="middle">1</text>
<line x1="562.7" y1="1130.9" x2="562.7" y2="1134.7" stroke="#555" stroke-width="1"/>
<text x="562.7" y="1147.4" text-anchor="middle">10</text>
<line x1="606.1" y1="1130.9" x2="606.1" y2="1134.7" stroke="#555" stroke-width="1"/>
<text x="606.1" y="1147.4" text-anchor="middle">20</text>
<line x1="648.3" y1="1130.9" x2="648.3" y2="1134.7" stroke="#555" stroke-width="1"/>
<text x="648.3" y="1147.4" text-anchor="middle">30</text>
<line x1="691.4" y1="1130.9" x2="691.4" y2="1134.7" stroke="#555" stroke-width="1"/>
<text x="691.4" y="1147.4" text-anchor="middle">40</text>
<text x="585.7" y="1165.6" textLength="79.1" lengthAdjust="spacingAndGlyphs">Clone number</text>
<rect x="762" y="878.1" width="9.1" height="8.2" fill="#a6cee3"/>
<text x="776.7" y="886.3" textLength="13.4" lengthAdjust="spacingAndGlyphs">T0</text>
<rect x="762" y="888.32" width="9.1" height="8.2" fill="#1f78b4"/>
<text x="776.7" y="896.52" textLength="13.4" lengthAdjust="spacingAndGlyphs">T1</text>
<rect x="762" y="898.54" width="9.1" height="8.2" fill="#b2df8a"/>
<text x="776.7" y="906.74" textLength="13.4" lengthAdjust="spacingAndGlyphs">T2</text>
<rect x="762" y="908.76" width="9.1" height="8.2" fill="#33a02c"/>
<text x="776.7" y="916.96" textLength="13.4" lengthAdjust="spacingAndGlyphs">T3</text>
<rect x="762" y="918.98" width="9.1" height="8.2" fill="#fb9a99"/>
<text x="776.7" y="927.18" textLength="13.4" lengthAdjust="spacingAndGlyphs">T4</text>
<rect x="762" y="929.2" width="9.1" height="8.2" fill="#a9a9a9"/>
<text x="776.7" y="937.4" textLength="13.4" lengthAdjust="spacingAndGlyphs">T5</text>
<rect x="762" y="939.42" width="9.1" height="8.2" fill="#e31a1c"/>
<text x="776.7" y="947.62" textLength="13.4" lengthAdjust="spacingAndGlyphs">T6</text>
<rect x="762" y="949.64" width="9.1" height="8.2" fill="#fdbf6f"/>
<text x="776.7" y="957.84" textLength="13.4" lengthAdjust="spacingAndGlyphs">T7</text>
<rect x="762" y="959.86" width="9.1" height="8.2" fill="#ff7f00"/>
<text x="776.7" y="968.06" textLength="13.4" lengthAdjust="spacingAndGlyphs">T8</text>
<rect x="762" y="970.08" width="9.1" height="8.2" fill="#cab2d6"/>
<text x="776.7" y="978.28" textLength="13.4" lengthAdjust="spacingAndGlyphs">T9</text>
<rect x="762" y="980.3" width="9.1" height="8.2" fill="#6a3d9a"/>
<text x="776.7" y="988.5" textLength="20.4" lengthAdjust="spacingAndGlyphs">T10</text>
<rect x="762" y="990.52" width="9.1" height="8.2" fill="#7570b3"/>
<text x="776.7" y="998.72" textLength="20.4" lengthAdjust="spacingAndGlyphs">T11</text>
<rect x="762" y="1000.74" width="9.1" height="8.2" fill="#ffff99"/>
<text x="776.7" y="1008.94" textLength="20.4" lengthAdjust="spacingAndGlyphs">T12</text>
<rect x="762" y="1010.96" width="9.1" height="8.2" fill="#e7298a"/>
<text x="776.7" y="1019.16" textLength="20.4" lengthAdjust="spacingAndGlyphs">T13</text>
<rect x="762" y="1021.18" width="9.1" height="8.2" fill="#b15928"/>
<text x="776.7" y="1029.38" textLength="20.4" lengthAdjust="spacingAndGlyphs">T14</text>
</svg></body></html>
